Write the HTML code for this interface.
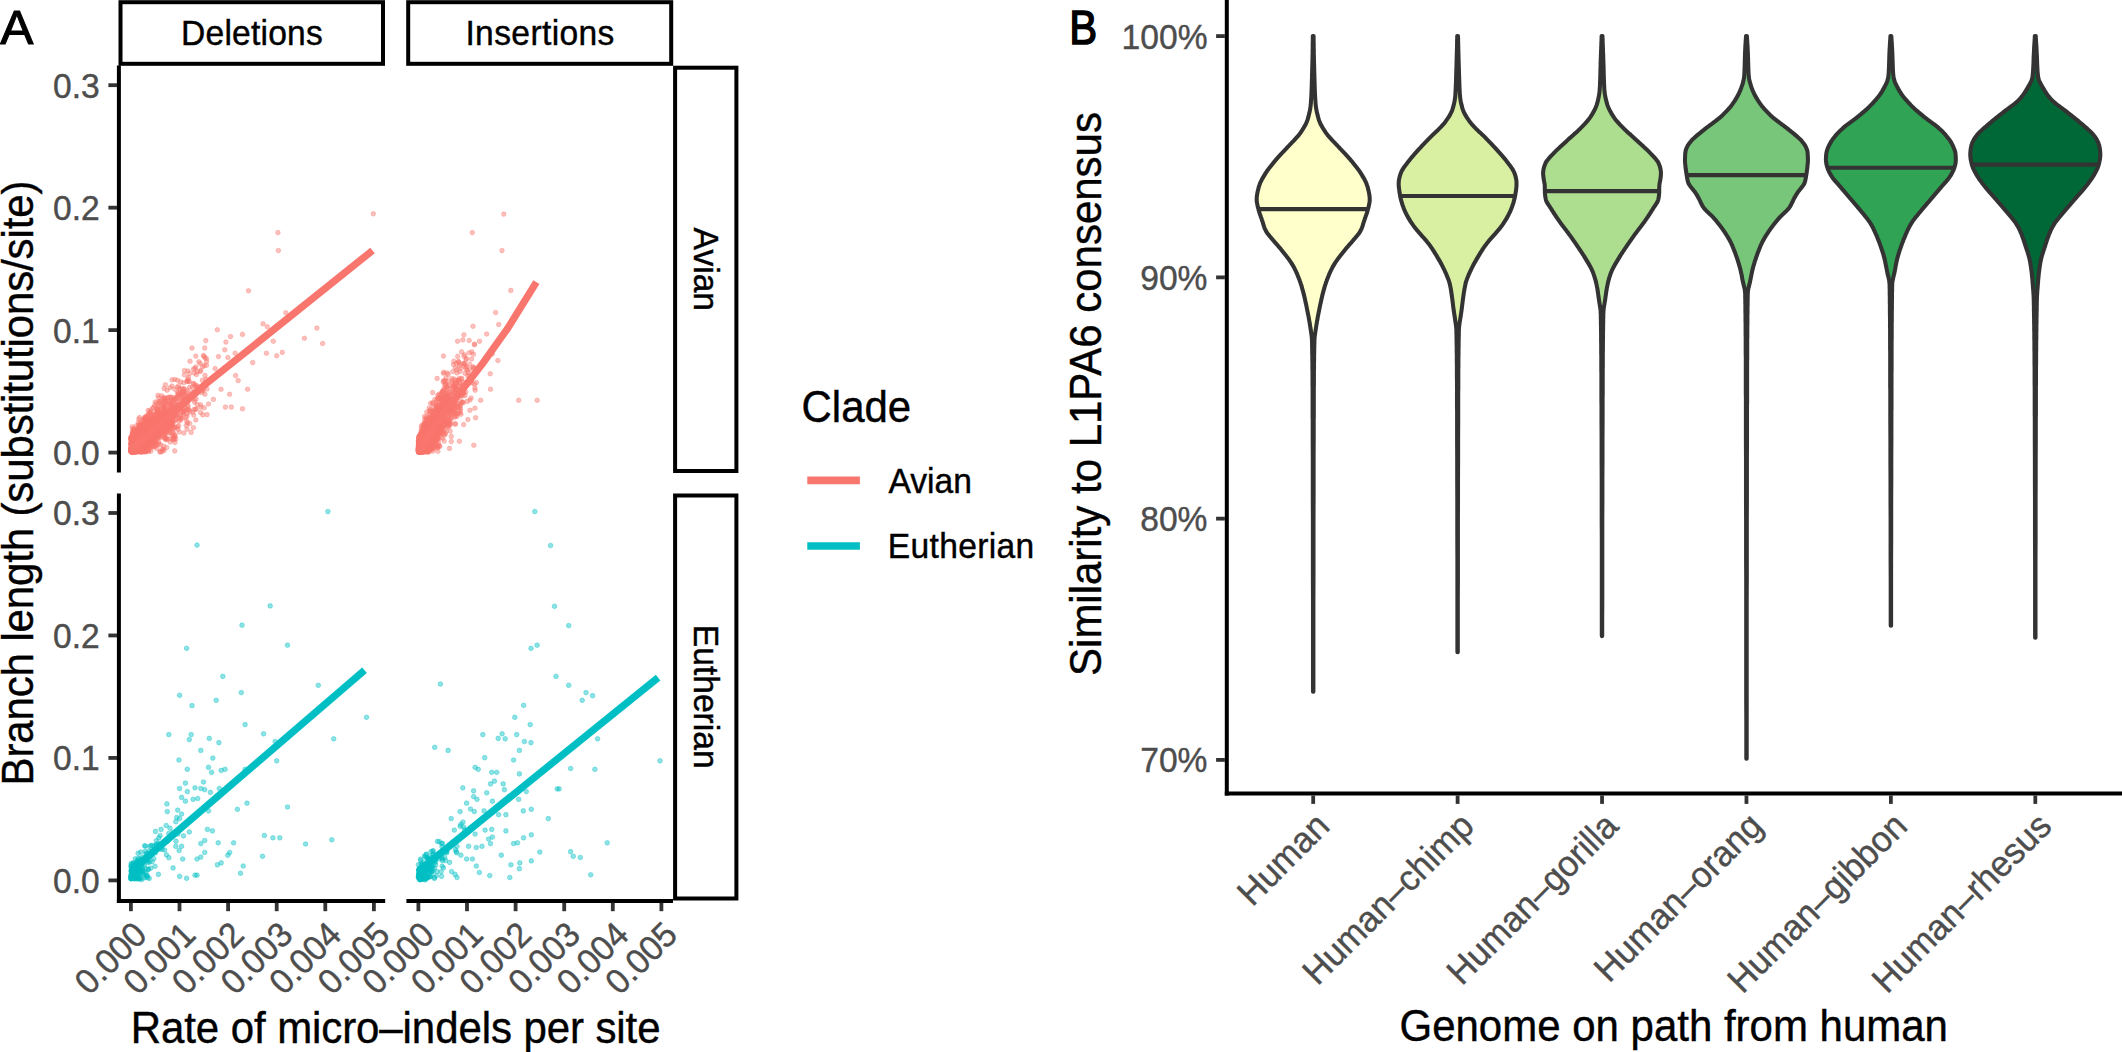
<!DOCTYPE html>
<html><head><meta charset="utf-8"><title>Figure</title>
<style>html,body{margin:0;padding:0;background:#fff;overflow:hidden}svg{display:block}text{font-family:"Liberation Sans", Arial, Helvetica, sans-serif;}</style>
</head><body>
<svg width="2122" height="1052" viewBox="0 0 2122 1052">
<rect width="2122" height="1052" fill="#fff"/>
<g fill="#F8766D" fill-opacity="0.45" stroke="#F8766D" stroke-opacity="0.35" stroke-width="1">
<circle cx="142.9" cy="430.1" r="2.3"/>
<circle cx="143.8" cy="441.9" r="2.3"/>
<circle cx="141.4" cy="449.5" r="2.3"/>
<circle cx="136.2" cy="451.7" r="2.3"/>
<circle cx="165.4" cy="384.7" r="2.3"/>
<circle cx="161.8" cy="413.0" r="2.3"/>
<circle cx="135.9" cy="435.8" r="2.3"/>
<circle cx="134.0" cy="445.4" r="2.3"/>
<circle cx="131.3" cy="448.5" r="2.3"/>
<circle cx="145.8" cy="433.6" r="2.3"/>
<circle cx="146.7" cy="442.0" r="2.3"/>
<circle cx="166.8" cy="414.6" r="2.3"/>
<circle cx="134.7" cy="446.2" r="2.3"/>
<circle cx="145.8" cy="432.5" r="2.3"/>
<circle cx="145.1" cy="420.0" r="2.3"/>
<circle cx="134.3" cy="449.4" r="2.3"/>
<circle cx="149.4" cy="423.1" r="2.3"/>
<circle cx="145.4" cy="437.2" r="2.3"/>
<circle cx="140.1" cy="434.8" r="2.3"/>
<circle cx="172.3" cy="406.1" r="2.3"/>
<circle cx="135.0" cy="443.3" r="2.3"/>
<circle cx="136.6" cy="442.4" r="2.3"/>
<circle cx="139.5" cy="436.7" r="2.3"/>
<circle cx="145.9" cy="422.2" r="2.3"/>
<circle cx="138.9" cy="440.5" r="2.3"/>
<circle cx="178.3" cy="395.8" r="2.3"/>
<circle cx="162.4" cy="418.2" r="2.3"/>
<circle cx="160.8" cy="411.3" r="2.3"/>
<circle cx="197.1" cy="387.4" r="2.3"/>
<circle cx="142.5" cy="432.4" r="2.3"/>
<circle cx="132.0" cy="440.8" r="2.3"/>
<circle cx="144.3" cy="431.0" r="2.3"/>
<circle cx="139.7" cy="432.5" r="2.3"/>
<circle cx="160.3" cy="426.4" r="2.3"/>
<circle cx="133.3" cy="436.4" r="2.3"/>
<circle cx="134.0" cy="448.9" r="2.3"/>
<circle cx="137.3" cy="428.8" r="2.3"/>
<circle cx="146.9" cy="440.6" r="2.3"/>
<circle cx="131.5" cy="443.9" r="2.3"/>
<circle cx="139.6" cy="442.6" r="2.3"/>
<circle cx="157.4" cy="427.4" r="2.3"/>
<circle cx="133.0" cy="443.1" r="2.3"/>
<circle cx="142.8" cy="431.5" r="2.3"/>
<circle cx="167.3" cy="430.8" r="2.3"/>
<circle cx="131.1" cy="449.5" r="2.3"/>
<circle cx="133.7" cy="439.2" r="2.3"/>
<circle cx="143.3" cy="432.6" r="2.3"/>
<circle cx="165.2" cy="410.1" r="2.3"/>
<circle cx="133.1" cy="445.8" r="2.3"/>
<circle cx="166.1" cy="417.4" r="2.3"/>
<circle cx="131.5" cy="449.0" r="2.3"/>
<circle cx="142.4" cy="445.9" r="2.3"/>
<circle cx="198.1" cy="391.9" r="2.3"/>
<circle cx="202.8" cy="414.9" r="2.3"/>
<circle cx="147.7" cy="418.9" r="2.3"/>
<circle cx="153.7" cy="441.0" r="2.3"/>
<circle cx="155.7" cy="434.4" r="2.3"/>
<circle cx="144.6" cy="442.9" r="2.3"/>
<circle cx="145.8" cy="417.6" r="2.3"/>
<circle cx="145.2" cy="437.0" r="2.3"/>
<circle cx="156.3" cy="445.6" r="2.3"/>
<circle cx="151.1" cy="424.2" r="2.3"/>
<circle cx="144.3" cy="443.3" r="2.3"/>
<circle cx="151.0" cy="430.4" r="2.3"/>
<circle cx="204.7" cy="383.9" r="2.3"/>
<circle cx="147.4" cy="433.0" r="2.3"/>
<circle cx="133.6" cy="438.3" r="2.3"/>
<circle cx="163.3" cy="430.1" r="2.3"/>
<circle cx="146.9" cy="431.8" r="2.3"/>
<circle cx="202.5" cy="366.8" r="2.3"/>
<circle cx="145.0" cy="443.1" r="2.3"/>
<circle cx="140.9" cy="443.6" r="2.3"/>
<circle cx="186.0" cy="409.8" r="2.3"/>
<circle cx="133.6" cy="450.2" r="2.3"/>
<circle cx="134.4" cy="450.0" r="2.3"/>
<circle cx="157.5" cy="417.5" r="2.3"/>
<circle cx="148.5" cy="431.3" r="2.3"/>
<circle cx="132.1" cy="447.1" r="2.3"/>
<circle cx="155.5" cy="434.0" r="2.3"/>
<circle cx="133.0" cy="436.1" r="2.3"/>
<circle cx="131.3" cy="446.4" r="2.3"/>
<circle cx="131.6" cy="449.4" r="2.3"/>
<circle cx="145.4" cy="445.1" r="2.3"/>
<circle cx="164.5" cy="437.5" r="2.3"/>
<circle cx="140.3" cy="440.1" r="2.3"/>
<circle cx="149.2" cy="431.6" r="2.3"/>
<circle cx="135.5" cy="451.0" r="2.3"/>
<circle cx="144.8" cy="425.6" r="2.3"/>
<circle cx="145.5" cy="431.1" r="2.3"/>
<circle cx="170.2" cy="441.9" r="2.3"/>
<circle cx="135.0" cy="448.2" r="2.3"/>
<circle cx="143.2" cy="434.7" r="2.3"/>
<circle cx="177.4" cy="392.8" r="2.3"/>
<circle cx="137.6" cy="445.9" r="2.3"/>
<circle cx="180.6" cy="420.1" r="2.3"/>
<circle cx="164.5" cy="434.4" r="2.3"/>
<circle cx="153.7" cy="438.5" r="2.3"/>
<circle cx="143.4" cy="421.1" r="2.3"/>
<circle cx="139.4" cy="450.0" r="2.3"/>
<circle cx="155.0" cy="433.2" r="2.3"/>
<circle cx="154.4" cy="423.9" r="2.3"/>
<circle cx="135.3" cy="439.4" r="2.3"/>
<circle cx="141.5" cy="442.1" r="2.3"/>
<circle cx="174.3" cy="436.9" r="2.3"/>
<circle cx="134.5" cy="451.3" r="2.3"/>
<circle cx="160.6" cy="424.3" r="2.3"/>
<circle cx="158.0" cy="433.9" r="2.3"/>
<circle cx="158.1" cy="428.4" r="2.3"/>
<circle cx="137.7" cy="431.3" r="2.3"/>
<circle cx="143.3" cy="451.2" r="2.3"/>
<circle cx="141.1" cy="441.4" r="2.3"/>
<circle cx="152.1" cy="431.7" r="2.3"/>
<circle cx="154.4" cy="439.3" r="2.3"/>
<circle cx="132.9" cy="450.1" r="2.3"/>
<circle cx="138.7" cy="425.4" r="2.3"/>
<circle cx="140.2" cy="445.5" r="2.3"/>
<circle cx="139.2" cy="435.0" r="2.3"/>
<circle cx="136.5" cy="451.3" r="2.3"/>
<circle cx="206.5" cy="358.8" r="2.3"/>
<circle cx="134.0" cy="437.6" r="2.3"/>
<circle cx="147.8" cy="437.8" r="2.3"/>
<circle cx="134.1" cy="440.3" r="2.3"/>
<circle cx="134.7" cy="450.8" r="2.3"/>
<circle cx="141.9" cy="439.6" r="2.3"/>
<circle cx="137.8" cy="450.7" r="2.3"/>
<circle cx="134.2" cy="441.6" r="2.3"/>
<circle cx="160.6" cy="444.8" r="2.3"/>
<circle cx="187.6" cy="404.8" r="2.3"/>
<circle cx="150.6" cy="423.8" r="2.3"/>
<circle cx="136.4" cy="448.2" r="2.3"/>
<circle cx="135.1" cy="444.5" r="2.3"/>
<circle cx="132.4" cy="437.2" r="2.3"/>
<circle cx="146.9" cy="433.7" r="2.3"/>
<circle cx="147.8" cy="438.7" r="2.3"/>
<circle cx="134.2" cy="448.0" r="2.3"/>
<circle cx="141.2" cy="448.9" r="2.3"/>
<circle cx="147.8" cy="432.7" r="2.3"/>
<circle cx="131.5" cy="446.2" r="2.3"/>
<circle cx="141.4" cy="443.8" r="2.3"/>
<circle cx="134.2" cy="447.6" r="2.3"/>
<circle cx="133.8" cy="431.0" r="2.3"/>
<circle cx="152.0" cy="421.0" r="2.3"/>
<circle cx="140.1" cy="449.1" r="2.3"/>
<circle cx="131.3" cy="449.2" r="2.3"/>
<circle cx="185.1" cy="393.8" r="2.3"/>
<circle cx="146.1" cy="426.6" r="2.3"/>
<circle cx="133.5" cy="447.8" r="2.3"/>
<circle cx="178.1" cy="407.5" r="2.3"/>
<circle cx="188.4" cy="409.7" r="2.3"/>
<circle cx="141.1" cy="445.9" r="2.3"/>
<circle cx="178.5" cy="408.6" r="2.3"/>
<circle cx="174.8" cy="379.5" r="2.3"/>
<circle cx="146.1" cy="420.9" r="2.3"/>
<circle cx="173.4" cy="428.6" r="2.3"/>
<circle cx="146.1" cy="436.1" r="2.3"/>
<circle cx="140.1" cy="443.8" r="2.3"/>
<circle cx="137.3" cy="449.9" r="2.3"/>
<circle cx="173.1" cy="426.4" r="2.3"/>
<circle cx="142.9" cy="444.2" r="2.3"/>
<circle cx="138.1" cy="450.8" r="2.3"/>
<circle cx="160.9" cy="428.4" r="2.3"/>
<circle cx="131.6" cy="449.5" r="2.3"/>
<circle cx="139.5" cy="443.3" r="2.3"/>
<circle cx="137.8" cy="441.5" r="2.3"/>
<circle cx="135.1" cy="437.9" r="2.3"/>
<circle cx="180.7" cy="415.6" r="2.3"/>
<circle cx="208.5" cy="404.0" r="2.3"/>
<circle cx="144.2" cy="449.1" r="2.3"/>
<circle cx="132.2" cy="444.3" r="2.3"/>
<circle cx="133.6" cy="448.2" r="2.3"/>
<circle cx="144.7" cy="417.3" r="2.3"/>
<circle cx="141.8" cy="432.2" r="2.3"/>
<circle cx="137.5" cy="445.5" r="2.3"/>
<circle cx="135.8" cy="434.5" r="2.3"/>
<circle cx="141.1" cy="433.9" r="2.3"/>
<circle cx="133.4" cy="446.3" r="2.3"/>
<circle cx="145.3" cy="424.5" r="2.3"/>
<circle cx="196.4" cy="408.9" r="2.3"/>
<circle cx="133.1" cy="441.1" r="2.3"/>
<circle cx="183.7" cy="411.6" r="2.3"/>
<circle cx="141.7" cy="427.3" r="2.3"/>
<circle cx="187.1" cy="409.3" r="2.3"/>
<circle cx="157.9" cy="413.6" r="2.3"/>
<circle cx="134.2" cy="439.7" r="2.3"/>
<circle cx="141.8" cy="433.0" r="2.3"/>
<circle cx="148.6" cy="426.2" r="2.3"/>
<circle cx="143.6" cy="450.6" r="2.3"/>
<circle cx="169.5" cy="403.9" r="2.3"/>
<circle cx="132.7" cy="438.4" r="2.3"/>
<circle cx="143.9" cy="446.8" r="2.3"/>
<circle cx="147.7" cy="445.4" r="2.3"/>
<circle cx="171.7" cy="420.1" r="2.3"/>
<circle cx="135.1" cy="429.8" r="2.3"/>
<circle cx="132.1" cy="449.7" r="2.3"/>
<circle cx="135.5" cy="451.7" r="2.3"/>
<circle cx="132.0" cy="443.9" r="2.3"/>
<circle cx="147.3" cy="446.7" r="2.3"/>
<circle cx="140.4" cy="444.1" r="2.3"/>
<circle cx="137.0" cy="444.0" r="2.3"/>
<circle cx="132.8" cy="448.6" r="2.3"/>
<circle cx="173.6" cy="407.9" r="2.3"/>
<circle cx="155.1" cy="416.8" r="2.3"/>
<circle cx="146.4" cy="427.3" r="2.3"/>
<circle cx="150.9" cy="431.9" r="2.3"/>
<circle cx="147.2" cy="437.4" r="2.3"/>
<circle cx="133.3" cy="444.6" r="2.3"/>
<circle cx="143.0" cy="450.9" r="2.3"/>
<circle cx="152.7" cy="428.3" r="2.3"/>
<circle cx="134.4" cy="447.3" r="2.3"/>
<circle cx="149.7" cy="435.7" r="2.3"/>
<circle cx="140.6" cy="435.7" r="2.3"/>
<circle cx="144.2" cy="430.9" r="2.3"/>
<circle cx="148.9" cy="448.1" r="2.3"/>
<circle cx="147.7" cy="442.8" r="2.3"/>
<circle cx="141.5" cy="443.0" r="2.3"/>
<circle cx="196.5" cy="374.6" r="2.3"/>
<circle cx="137.4" cy="447.8" r="2.3"/>
<circle cx="138.0" cy="437.3" r="2.3"/>
<circle cx="143.0" cy="435.2" r="2.3"/>
<circle cx="155.0" cy="440.2" r="2.3"/>
<circle cx="151.6" cy="424.7" r="2.3"/>
<circle cx="141.5" cy="444.1" r="2.3"/>
<circle cx="143.1" cy="426.2" r="2.3"/>
<circle cx="132.8" cy="449.2" r="2.3"/>
<circle cx="153.5" cy="425.3" r="2.3"/>
<circle cx="197.8" cy="386.2" r="2.3"/>
<circle cx="145.6" cy="427.0" r="2.3"/>
<circle cx="139.1" cy="431.7" r="2.3"/>
<circle cx="152.0" cy="447.1" r="2.3"/>
<circle cx="136.9" cy="445.3" r="2.3"/>
<circle cx="163.4" cy="435.1" r="2.3"/>
<circle cx="166.8" cy="416.6" r="2.3"/>
<circle cx="146.3" cy="429.2" r="2.3"/>
<circle cx="178.7" cy="426.1" r="2.3"/>
<circle cx="194.9" cy="368.3" r="2.3"/>
<circle cx="149.0" cy="436.5" r="2.3"/>
<circle cx="146.9" cy="439.3" r="2.3"/>
<circle cx="133.6" cy="444.8" r="2.3"/>
<circle cx="139.0" cy="447.1" r="2.3"/>
<circle cx="136.3" cy="425.8" r="2.3"/>
<circle cx="146.1" cy="434.6" r="2.3"/>
<circle cx="139.9" cy="445.9" r="2.3"/>
<circle cx="165.9" cy="412.3" r="2.3"/>
<circle cx="134.5" cy="445.0" r="2.3"/>
<circle cx="149.3" cy="438.3" r="2.3"/>
<circle cx="135.7" cy="447.5" r="2.3"/>
<circle cx="151.6" cy="435.4" r="2.3"/>
<circle cx="149.9" cy="420.9" r="2.3"/>
<circle cx="162.7" cy="411.5" r="2.3"/>
<circle cx="176.8" cy="415.2" r="2.3"/>
<circle cx="134.5" cy="429.8" r="2.3"/>
<circle cx="145.1" cy="429.9" r="2.3"/>
<circle cx="141.5" cy="443.4" r="2.3"/>
<circle cx="138.8" cy="419.0" r="2.3"/>
<circle cx="140.2" cy="450.4" r="2.3"/>
<circle cx="158.1" cy="410.7" r="2.3"/>
<circle cx="133.4" cy="449.0" r="2.3"/>
<circle cx="152.1" cy="423.3" r="2.3"/>
<circle cx="142.1" cy="430.9" r="2.3"/>
<circle cx="156.0" cy="411.9" r="2.3"/>
<circle cx="181.2" cy="394.1" r="2.3"/>
<circle cx="133.9" cy="443.6" r="2.3"/>
<circle cx="140.1" cy="430.7" r="2.3"/>
<circle cx="141.5" cy="442.6" r="2.3"/>
<circle cx="146.6" cy="431.6" r="2.3"/>
<circle cx="137.7" cy="444.5" r="2.3"/>
<circle cx="141.8" cy="430.9" r="2.3"/>
<circle cx="136.3" cy="432.8" r="2.3"/>
<circle cx="136.2" cy="450.6" r="2.3"/>
<circle cx="134.2" cy="443.8" r="2.3"/>
<circle cx="139.9" cy="426.5" r="2.3"/>
<circle cx="131.3" cy="451.1" r="2.3"/>
<circle cx="148.9" cy="432.1" r="2.3"/>
<circle cx="131.1" cy="440.7" r="2.3"/>
<circle cx="177.8" cy="402.2" r="2.3"/>
<circle cx="137.8" cy="432.9" r="2.3"/>
<circle cx="136.1" cy="448.1" r="2.3"/>
<circle cx="139.5" cy="434.7" r="2.3"/>
<circle cx="150.1" cy="443.1" r="2.3"/>
<circle cx="149.7" cy="412.2" r="2.3"/>
<circle cx="156.5" cy="421.4" r="2.3"/>
<circle cx="147.4" cy="431.6" r="2.3"/>
<circle cx="136.7" cy="449.6" r="2.3"/>
<circle cx="134.6" cy="438.0" r="2.3"/>
<circle cx="132.8" cy="449.4" r="2.3"/>
<circle cx="147.1" cy="432.6" r="2.3"/>
<circle cx="146.1" cy="433.8" r="2.3"/>
<circle cx="136.8" cy="450.3" r="2.3"/>
<circle cx="138.4" cy="449.0" r="2.3"/>
<circle cx="162.4" cy="449.5" r="2.3"/>
<circle cx="136.8" cy="449.5" r="2.3"/>
<circle cx="137.8" cy="433.8" r="2.3"/>
<circle cx="153.6" cy="422.5" r="2.3"/>
<circle cx="152.1" cy="442.4" r="2.3"/>
<circle cx="154.1" cy="435.8" r="2.3"/>
<circle cx="149.1" cy="423.9" r="2.3"/>
<circle cx="152.1" cy="434.4" r="2.3"/>
<circle cx="173.2" cy="437.1" r="2.3"/>
<circle cx="137.3" cy="438.5" r="2.3"/>
<circle cx="148.3" cy="430.1" r="2.3"/>
<circle cx="169.5" cy="424.3" r="2.3"/>
<circle cx="183.9" cy="388.9" r="2.3"/>
<circle cx="165.1" cy="433.9" r="2.3"/>
<circle cx="135.4" cy="447.4" r="2.3"/>
<circle cx="157.7" cy="410.6" r="2.3"/>
<circle cx="164.0" cy="404.0" r="2.3"/>
<circle cx="143.3" cy="435.3" r="2.3"/>
<circle cx="132.1" cy="451.5" r="2.3"/>
<circle cx="133.8" cy="430.4" r="2.3"/>
<circle cx="141.6" cy="441.0" r="2.3"/>
<circle cx="169.9" cy="427.4" r="2.3"/>
<circle cx="131.4" cy="442.8" r="2.3"/>
<circle cx="140.1" cy="436.0" r="2.3"/>
<circle cx="133.7" cy="441.3" r="2.3"/>
<circle cx="135.4" cy="450.7" r="2.3"/>
<circle cx="132.0" cy="450.3" r="2.3"/>
<circle cx="135.5" cy="435.7" r="2.3"/>
<circle cx="138.6" cy="444.7" r="2.3"/>
<circle cx="165.0" cy="417.8" r="2.3"/>
<circle cx="207.1" cy="414.6" r="2.3"/>
<circle cx="187.2" cy="413.8" r="2.3"/>
<circle cx="165.3" cy="411.5" r="2.3"/>
<circle cx="141.8" cy="450.7" r="2.3"/>
<circle cx="149.8" cy="423.7" r="2.3"/>
<circle cx="169.3" cy="432.8" r="2.3"/>
<circle cx="144.0" cy="445.6" r="2.3"/>
<circle cx="132.8" cy="450.4" r="2.3"/>
<circle cx="148.2" cy="430.1" r="2.3"/>
<circle cx="134.9" cy="447.8" r="2.3"/>
<circle cx="131.9" cy="442.0" r="2.3"/>
<circle cx="189.6" cy="423.6" r="2.3"/>
<circle cx="150.9" cy="422.9" r="2.3"/>
<circle cx="165.0" cy="401.2" r="2.3"/>
<circle cx="142.1" cy="430.5" r="2.3"/>
<circle cx="130.9" cy="448.7" r="2.3"/>
<circle cx="131.8" cy="442.7" r="2.3"/>
<circle cx="180.2" cy="416.7" r="2.3"/>
<circle cx="131.6" cy="444.7" r="2.3"/>
<circle cx="164.3" cy="424.6" r="2.3"/>
<circle cx="134.3" cy="438.4" r="2.3"/>
<circle cx="168.2" cy="409.3" r="2.3"/>
<circle cx="143.6" cy="441.1" r="2.3"/>
<circle cx="133.6" cy="430.4" r="2.3"/>
<circle cx="145.5" cy="451.3" r="2.3"/>
<circle cx="132.4" cy="439.4" r="2.3"/>
<circle cx="164.5" cy="407.2" r="2.3"/>
<circle cx="167.3" cy="403.9" r="2.3"/>
<circle cx="148.1" cy="423.0" r="2.3"/>
<circle cx="134.6" cy="449.5" r="2.3"/>
<circle cx="133.8" cy="436.4" r="2.3"/>
<circle cx="146.8" cy="432.7" r="2.3"/>
<circle cx="193.8" cy="409.6" r="2.3"/>
<circle cx="134.7" cy="450.6" r="2.3"/>
<circle cx="140.4" cy="423.4" r="2.3"/>
<circle cx="133.6" cy="439.3" r="2.3"/>
<circle cx="141.9" cy="440.1" r="2.3"/>
<circle cx="144.2" cy="438.6" r="2.3"/>
<circle cx="133.6" cy="441.6" r="2.3"/>
<circle cx="151.4" cy="430.6" r="2.3"/>
<circle cx="133.9" cy="440.8" r="2.3"/>
<circle cx="139.9" cy="440.9" r="2.3"/>
<circle cx="151.1" cy="440.8" r="2.3"/>
<circle cx="142.7" cy="443.3" r="2.3"/>
<circle cx="175.5" cy="420.2" r="2.3"/>
<circle cx="141.2" cy="433.0" r="2.3"/>
<circle cx="175.0" cy="427.6" r="2.3"/>
<circle cx="153.0" cy="422.4" r="2.3"/>
<circle cx="139.4" cy="432.3" r="2.3"/>
<circle cx="175.9" cy="406.5" r="2.3"/>
<circle cx="134.5" cy="450.6" r="2.3"/>
<circle cx="141.0" cy="429.5" r="2.3"/>
<circle cx="155.7" cy="423.9" r="2.3"/>
<circle cx="136.7" cy="443.0" r="2.3"/>
<circle cx="139.2" cy="440.4" r="2.3"/>
<circle cx="135.3" cy="444.2" r="2.3"/>
<circle cx="155.4" cy="431.2" r="2.3"/>
<circle cx="153.8" cy="428.3" r="2.3"/>
<circle cx="131.5" cy="444.8" r="2.3"/>
<circle cx="145.1" cy="443.2" r="2.3"/>
<circle cx="132.3" cy="448.5" r="2.3"/>
<circle cx="136.4" cy="444.2" r="2.3"/>
<circle cx="182.7" cy="394.1" r="2.3"/>
<circle cx="132.7" cy="451.2" r="2.3"/>
<circle cx="132.2" cy="444.5" r="2.3"/>
<circle cx="151.8" cy="425.0" r="2.3"/>
<circle cx="150.8" cy="431.8" r="2.3"/>
<circle cx="134.9" cy="442.4" r="2.3"/>
<circle cx="136.1" cy="446.9" r="2.3"/>
<circle cx="132.1" cy="426.9" r="2.3"/>
<circle cx="169.5" cy="405.6" r="2.3"/>
<circle cx="135.2" cy="450.1" r="2.3"/>
<circle cx="170.2" cy="417.4" r="2.3"/>
<circle cx="136.9" cy="433.7" r="2.3"/>
<circle cx="138.4" cy="443.5" r="2.3"/>
<circle cx="132.7" cy="448.4" r="2.3"/>
<circle cx="162.6" cy="405.8" r="2.3"/>
<circle cx="138.2" cy="438.4" r="2.3"/>
<circle cx="138.0" cy="448.8" r="2.3"/>
<circle cx="133.9" cy="450.2" r="2.3"/>
<circle cx="134.4" cy="447.1" r="2.3"/>
<circle cx="136.3" cy="449.2" r="2.3"/>
<circle cx="137.6" cy="435.4" r="2.3"/>
<circle cx="132.0" cy="450.2" r="2.3"/>
<circle cx="131.2" cy="451.3" r="2.3"/>
<circle cx="138.2" cy="431.9" r="2.3"/>
<circle cx="137.4" cy="448.6" r="2.3"/>
<circle cx="171.1" cy="427.9" r="2.3"/>
<circle cx="200.2" cy="363.5" r="2.3"/>
<circle cx="136.6" cy="446.2" r="2.3"/>
<circle cx="142.4" cy="436.5" r="2.3"/>
<circle cx="152.3" cy="420.7" r="2.3"/>
<circle cx="131.5" cy="446.2" r="2.3"/>
<circle cx="144.1" cy="430.0" r="2.3"/>
<circle cx="142.3" cy="437.4" r="2.3"/>
<circle cx="148.8" cy="434.1" r="2.3"/>
<circle cx="135.5" cy="433.5" r="2.3"/>
<circle cx="135.7" cy="446.4" r="2.3"/>
<circle cx="160.2" cy="434.4" r="2.3"/>
<circle cx="135.9" cy="447.3" r="2.3"/>
<circle cx="131.3" cy="445.0" r="2.3"/>
<circle cx="155.2" cy="417.1" r="2.3"/>
<circle cx="147.1" cy="448.2" r="2.3"/>
<circle cx="147.9" cy="445.4" r="2.3"/>
<circle cx="138.7" cy="449.4" r="2.3"/>
<circle cx="139.0" cy="443.9" r="2.3"/>
<circle cx="136.7" cy="442.2" r="2.3"/>
<circle cx="135.7" cy="440.8" r="2.3"/>
<circle cx="133.6" cy="440.9" r="2.3"/>
<circle cx="138.9" cy="436.0" r="2.3"/>
<circle cx="133.3" cy="443.5" r="2.3"/>
<circle cx="148.5" cy="447.1" r="2.3"/>
<circle cx="138.1" cy="446.4" r="2.3"/>
<circle cx="131.8" cy="449.9" r="2.3"/>
<circle cx="143.8" cy="436.0" r="2.3"/>
<circle cx="136.6" cy="443.9" r="2.3"/>
<circle cx="163.3" cy="417.7" r="2.3"/>
<circle cx="135.3" cy="447.2" r="2.3"/>
<circle cx="144.8" cy="441.5" r="2.3"/>
<circle cx="144.0" cy="448.8" r="2.3"/>
<circle cx="159.2" cy="436.3" r="2.3"/>
<circle cx="138.7" cy="444.4" r="2.3"/>
<circle cx="144.9" cy="420.4" r="2.3"/>
<circle cx="132.0" cy="442.9" r="2.3"/>
<circle cx="137.4" cy="436.5" r="2.3"/>
<circle cx="135.6" cy="442.9" r="2.3"/>
<circle cx="138.7" cy="436.9" r="2.3"/>
<circle cx="142.3" cy="443.6" r="2.3"/>
<circle cx="146.2" cy="431.3" r="2.3"/>
<circle cx="145.2" cy="451.7" r="2.3"/>
<circle cx="142.7" cy="444.3" r="2.3"/>
<circle cx="162.6" cy="428.2" r="2.3"/>
<circle cx="164.7" cy="401.2" r="2.3"/>
<circle cx="181.6" cy="392.8" r="2.3"/>
<circle cx="143.0" cy="428.4" r="2.3"/>
<circle cx="135.8" cy="444.7" r="2.3"/>
<circle cx="135.1" cy="450.7" r="2.3"/>
<circle cx="141.4" cy="437.6" r="2.3"/>
<circle cx="132.5" cy="445.9" r="2.3"/>
<circle cx="134.4" cy="450.0" r="2.3"/>
<circle cx="160.2" cy="417.2" r="2.3"/>
<circle cx="132.5" cy="447.7" r="2.3"/>
<circle cx="145.4" cy="425.6" r="2.3"/>
<circle cx="139.4" cy="442.9" r="2.3"/>
<circle cx="151.7" cy="439.2" r="2.3"/>
<circle cx="182.3" cy="418.2" r="2.3"/>
<circle cx="159.3" cy="428.7" r="2.3"/>
<circle cx="178.0" cy="397.4" r="2.3"/>
<circle cx="138.6" cy="436.9" r="2.3"/>
<circle cx="131.1" cy="448.0" r="2.3"/>
<circle cx="147.9" cy="445.2" r="2.3"/>
<circle cx="145.5" cy="447.9" r="2.3"/>
<circle cx="149.1" cy="419.6" r="2.3"/>
<circle cx="131.5" cy="450.7" r="2.3"/>
<circle cx="134.6" cy="434.7" r="2.3"/>
<circle cx="131.3" cy="450.5" r="2.3"/>
<circle cx="154.4" cy="431.4" r="2.3"/>
<circle cx="140.6" cy="448.9" r="2.3"/>
<circle cx="148.2" cy="425.6" r="2.3"/>
<circle cx="154.4" cy="424.3" r="2.3"/>
<circle cx="170.4" cy="407.5" r="2.3"/>
<circle cx="140.7" cy="435.2" r="2.3"/>
<circle cx="143.1" cy="433.1" r="2.3"/>
<circle cx="145.2" cy="437.3" r="2.3"/>
<circle cx="137.5" cy="437.8" r="2.3"/>
<circle cx="131.7" cy="435.9" r="2.3"/>
<circle cx="132.1" cy="442.5" r="2.3"/>
<circle cx="140.5" cy="435.1" r="2.3"/>
<circle cx="150.2" cy="432.0" r="2.3"/>
<circle cx="154.9" cy="430.6" r="2.3"/>
<circle cx="146.5" cy="433.3" r="2.3"/>
<circle cx="140.4" cy="425.9" r="2.3"/>
<circle cx="148.0" cy="440.8" r="2.3"/>
<circle cx="168.5" cy="414.4" r="2.3"/>
<circle cx="132.7" cy="445.9" r="2.3"/>
<circle cx="137.4" cy="443.1" r="2.3"/>
<circle cx="131.1" cy="451.2" r="2.3"/>
<circle cx="131.2" cy="448.7" r="2.3"/>
<circle cx="145.8" cy="438.6" r="2.3"/>
<circle cx="182.2" cy="398.7" r="2.3"/>
<circle cx="174.7" cy="450.9" r="2.3"/>
<circle cx="148.7" cy="433.3" r="2.3"/>
<circle cx="143.4" cy="419.3" r="2.3"/>
<circle cx="138.1" cy="450.1" r="2.3"/>
<circle cx="144.1" cy="428.1" r="2.3"/>
<circle cx="143.6" cy="441.1" r="2.3"/>
<circle cx="132.3" cy="433.8" r="2.3"/>
<circle cx="150.6" cy="427.7" r="2.3"/>
<circle cx="147.5" cy="419.6" r="2.3"/>
<circle cx="132.5" cy="443.7" r="2.3"/>
<circle cx="131.0" cy="444.2" r="2.3"/>
<circle cx="138.4" cy="446.4" r="2.3"/>
<circle cx="137.6" cy="434.7" r="2.3"/>
<circle cx="142.2" cy="438.9" r="2.3"/>
<circle cx="147.3" cy="438.8" r="2.3"/>
<circle cx="138.1" cy="451.3" r="2.3"/>
<circle cx="147.4" cy="426.6" r="2.3"/>
<circle cx="142.2" cy="435.8" r="2.3"/>
<circle cx="135.6" cy="438.7" r="2.3"/>
<circle cx="144.8" cy="440.4" r="2.3"/>
<circle cx="194.6" cy="402.2" r="2.3"/>
<circle cx="159.8" cy="438.1" r="2.3"/>
<circle cx="157.4" cy="426.0" r="2.3"/>
<circle cx="148.5" cy="438.3" r="2.3"/>
<circle cx="134.7" cy="451.8" r="2.3"/>
<circle cx="155.7" cy="429.8" r="2.3"/>
<circle cx="148.2" cy="433.9" r="2.3"/>
<circle cx="144.1" cy="432.8" r="2.3"/>
<circle cx="203.0" cy="389.9" r="2.3"/>
<circle cx="141.8" cy="441.3" r="2.3"/>
<circle cx="160.4" cy="451.6" r="2.3"/>
<circle cx="150.6" cy="429.7" r="2.3"/>
<circle cx="177.5" cy="380.3" r="2.3"/>
<circle cx="204.7" cy="348.0" r="2.3"/>
<circle cx="139.3" cy="435.3" r="2.3"/>
<circle cx="148.5" cy="451.6" r="2.3"/>
<circle cx="135.7" cy="447.9" r="2.3"/>
<circle cx="133.1" cy="450.0" r="2.3"/>
<circle cx="154.4" cy="434.4" r="2.3"/>
<circle cx="173.9" cy="439.6" r="2.3"/>
<circle cx="135.7" cy="449.4" r="2.3"/>
<circle cx="132.4" cy="441.7" r="2.3"/>
<circle cx="183.2" cy="399.5" r="2.3"/>
<circle cx="133.8" cy="449.5" r="2.3"/>
<circle cx="133.1" cy="438.7" r="2.3"/>
<circle cx="137.7" cy="449.0" r="2.3"/>
<circle cx="147.0" cy="448.2" r="2.3"/>
<circle cx="131.1" cy="451.6" r="2.3"/>
<circle cx="140.4" cy="434.7" r="2.3"/>
<circle cx="165.5" cy="415.7" r="2.3"/>
<circle cx="149.2" cy="428.3" r="2.3"/>
<circle cx="132.7" cy="438.9" r="2.3"/>
<circle cx="134.1" cy="449.5" r="2.3"/>
<circle cx="165.2" cy="419.7" r="2.3"/>
<circle cx="138.5" cy="449.3" r="2.3"/>
<circle cx="145.4" cy="450.6" r="2.3"/>
<circle cx="139.8" cy="434.5" r="2.3"/>
<circle cx="172.3" cy="424.4" r="2.3"/>
<circle cx="143.5" cy="426.9" r="2.3"/>
<circle cx="160.9" cy="427.6" r="2.3"/>
<circle cx="148.6" cy="415.4" r="2.3"/>
<circle cx="145.2" cy="436.8" r="2.3"/>
<circle cx="131.9" cy="450.3" r="2.3"/>
<circle cx="139.4" cy="435.3" r="2.3"/>
<circle cx="163.4" cy="423.1" r="2.3"/>
<circle cx="138.6" cy="431.2" r="2.3"/>
<circle cx="138.9" cy="429.9" r="2.3"/>
<circle cx="155.9" cy="418.4" r="2.3"/>
<circle cx="132.4" cy="448.3" r="2.3"/>
<circle cx="137.5" cy="451.5" r="2.3"/>
<circle cx="143.2" cy="428.5" r="2.3"/>
<circle cx="145.5" cy="444.2" r="2.3"/>
<circle cx="136.4" cy="442.7" r="2.3"/>
<circle cx="158.0" cy="395.3" r="2.3"/>
<circle cx="145.6" cy="440.5" r="2.3"/>
<circle cx="161.5" cy="434.2" r="2.3"/>
<circle cx="139.9" cy="450.4" r="2.3"/>
<circle cx="138.1" cy="437.5" r="2.3"/>
<circle cx="133.1" cy="447.2" r="2.3"/>
<circle cx="150.6" cy="426.4" r="2.3"/>
<circle cx="159.3" cy="420.4" r="2.3"/>
<circle cx="139.4" cy="436.7" r="2.3"/>
<circle cx="134.6" cy="450.1" r="2.3"/>
<circle cx="159.5" cy="401.1" r="2.3"/>
<circle cx="137.2" cy="448.7" r="2.3"/>
<circle cx="142.0" cy="428.0" r="2.3"/>
<circle cx="141.2" cy="430.7" r="2.3"/>
<circle cx="143.1" cy="435.7" r="2.3"/>
<circle cx="136.0" cy="442.2" r="2.3"/>
<circle cx="139.2" cy="443.8" r="2.3"/>
<circle cx="139.7" cy="439.9" r="2.3"/>
<circle cx="139.9" cy="438.8" r="2.3"/>
<circle cx="135.8" cy="447.3" r="2.3"/>
<circle cx="152.6" cy="441.3" r="2.3"/>
<circle cx="131.1" cy="444.0" r="2.3"/>
<circle cx="155.8" cy="428.6" r="2.3"/>
<circle cx="141.9" cy="452.1" r="2.3"/>
<circle cx="132.6" cy="449.4" r="2.3"/>
<circle cx="132.3" cy="431.7" r="2.3"/>
<circle cx="132.1" cy="448.1" r="2.3"/>
<circle cx="142.5" cy="434.6" r="2.3"/>
<circle cx="146.4" cy="418.8" r="2.3"/>
<circle cx="141.0" cy="448.2" r="2.3"/>
<circle cx="136.1" cy="444.7" r="2.3"/>
<circle cx="139.1" cy="447.6" r="2.3"/>
<circle cx="137.4" cy="450.5" r="2.3"/>
<circle cx="157.2" cy="420.7" r="2.3"/>
<circle cx="141.8" cy="447.2" r="2.3"/>
<circle cx="132.4" cy="449.5" r="2.3"/>
<circle cx="136.4" cy="449.3" r="2.3"/>
<circle cx="150.4" cy="431.0" r="2.3"/>
<circle cx="138.5" cy="441.3" r="2.3"/>
<circle cx="178.1" cy="407.6" r="2.3"/>
<circle cx="144.2" cy="442.1" r="2.3"/>
<circle cx="156.9" cy="419.3" r="2.3"/>
<circle cx="140.9" cy="451.9" r="2.3"/>
<circle cx="135.1" cy="446.4" r="2.3"/>
<circle cx="154.1" cy="446.8" r="2.3"/>
<circle cx="135.8" cy="438.2" r="2.3"/>
<circle cx="133.5" cy="434.0" r="2.3"/>
<circle cx="136.5" cy="445.4" r="2.3"/>
<circle cx="176.2" cy="412.0" r="2.3"/>
<circle cx="132.3" cy="449.4" r="2.3"/>
<circle cx="154.3" cy="415.0" r="2.3"/>
<circle cx="170.6" cy="422.2" r="2.3"/>
<circle cx="156.2" cy="409.1" r="2.3"/>
<circle cx="147.5" cy="433.8" r="2.3"/>
<circle cx="203.4" cy="355.4" r="2.3"/>
<circle cx="151.2" cy="423.2" r="2.3"/>
<circle cx="139.6" cy="444.9" r="2.3"/>
<circle cx="150.2" cy="430.0" r="2.3"/>
<circle cx="132.7" cy="442.4" r="2.3"/>
<circle cx="132.7" cy="451.6" r="2.3"/>
<circle cx="175.8" cy="439.1" r="2.3"/>
<circle cx="138.7" cy="448.4" r="2.3"/>
<circle cx="157.6" cy="409.5" r="2.3"/>
<circle cx="131.4" cy="439.5" r="2.3"/>
<circle cx="137.8" cy="450.7" r="2.3"/>
<circle cx="148.0" cy="450.4" r="2.3"/>
<circle cx="134.1" cy="446.3" r="2.3"/>
<circle cx="134.2" cy="450.1" r="2.3"/>
<circle cx="133.5" cy="451.9" r="2.3"/>
<circle cx="138.1" cy="434.5" r="2.3"/>
<circle cx="157.8" cy="434.3" r="2.3"/>
<circle cx="188.4" cy="381.4" r="2.3"/>
<circle cx="148.3" cy="432.8" r="2.3"/>
<circle cx="155.8" cy="418.7" r="2.3"/>
<circle cx="131.9" cy="445.2" r="2.3"/>
<circle cx="147.4" cy="442.3" r="2.3"/>
<circle cx="154.8" cy="405.2" r="2.3"/>
<circle cx="140.6" cy="443.0" r="2.3"/>
<circle cx="151.3" cy="424.2" r="2.3"/>
<circle cx="131.9" cy="444.7" r="2.3"/>
<circle cx="155.4" cy="436.3" r="2.3"/>
<circle cx="174.8" cy="414.2" r="2.3"/>
<circle cx="178.7" cy="385.8" r="2.3"/>
<circle cx="134.1" cy="439.2" r="2.3"/>
<circle cx="144.6" cy="426.1" r="2.3"/>
<circle cx="164.4" cy="405.2" r="2.3"/>
<circle cx="165.0" cy="438.6" r="2.3"/>
<circle cx="140.9" cy="425.2" r="2.3"/>
<circle cx="168.7" cy="416.5" r="2.3"/>
<circle cx="142.1" cy="432.8" r="2.3"/>
<circle cx="136.0" cy="444.5" r="2.3"/>
<circle cx="135.5" cy="441.1" r="2.3"/>
<circle cx="135.6" cy="451.4" r="2.3"/>
<circle cx="187.2" cy="401.2" r="2.3"/>
<circle cx="153.8" cy="430.0" r="2.3"/>
<circle cx="204.3" cy="407.8" r="2.3"/>
<circle cx="139.7" cy="423.9" r="2.3"/>
<circle cx="153.5" cy="421.0" r="2.3"/>
<circle cx="139.7" cy="449.8" r="2.3"/>
<circle cx="151.4" cy="419.2" r="2.3"/>
<circle cx="137.2" cy="441.4" r="2.3"/>
<circle cx="172.0" cy="379.8" r="2.3"/>
<circle cx="133.1" cy="444.5" r="2.3"/>
<circle cx="132.8" cy="449.1" r="2.3"/>
<circle cx="141.7" cy="437.4" r="2.3"/>
<circle cx="132.9" cy="448.8" r="2.3"/>
<circle cx="143.2" cy="425.3" r="2.3"/>
<circle cx="175.7" cy="411.7" r="2.3"/>
<circle cx="132.1" cy="452.0" r="2.3"/>
<circle cx="137.3" cy="444.1" r="2.3"/>
<circle cx="134.1" cy="448.1" r="2.3"/>
<circle cx="132.1" cy="450.0" r="2.3"/>
<circle cx="183.3" cy="410.4" r="2.3"/>
<circle cx="136.9" cy="445.1" r="2.3"/>
<circle cx="187.9" cy="395.6" r="2.3"/>
<circle cx="143.9" cy="438.1" r="2.3"/>
<circle cx="158.6" cy="444.1" r="2.3"/>
<circle cx="141.6" cy="451.8" r="2.3"/>
<circle cx="131.8" cy="438.2" r="2.3"/>
<circle cx="131.6" cy="440.0" r="2.3"/>
<circle cx="156.7" cy="431.1" r="2.3"/>
<circle cx="151.5" cy="441.8" r="2.3"/>
<circle cx="130.9" cy="438.8" r="2.3"/>
<circle cx="183.2" cy="391.5" r="2.3"/>
<circle cx="136.9" cy="444.4" r="2.3"/>
<circle cx="139.8" cy="440.0" r="2.3"/>
<circle cx="141.8" cy="445.6" r="2.3"/>
<circle cx="134.8" cy="436.6" r="2.3"/>
<circle cx="136.5" cy="440.7" r="2.3"/>
<circle cx="153.2" cy="422.9" r="2.3"/>
<circle cx="134.9" cy="448.5" r="2.3"/>
<circle cx="135.2" cy="449.6" r="2.3"/>
<circle cx="136.8" cy="443.0" r="2.3"/>
<circle cx="149.8" cy="424.2" r="2.3"/>
<circle cx="176.5" cy="414.3" r="2.3"/>
<circle cx="139.1" cy="442.5" r="2.3"/>
<circle cx="138.7" cy="434.7" r="2.3"/>
<circle cx="166.2" cy="418.6" r="2.3"/>
<circle cx="145.2" cy="426.1" r="2.3"/>
<circle cx="142.9" cy="427.2" r="2.3"/>
<circle cx="144.8" cy="439.3" r="2.3"/>
<circle cx="149.7" cy="419.8" r="2.3"/>
<circle cx="131.3" cy="451.8" r="2.3"/>
<circle cx="135.4" cy="444.9" r="2.3"/>
<circle cx="161.6" cy="395.7" r="2.3"/>
<circle cx="169.8" cy="422.1" r="2.3"/>
<circle cx="149.2" cy="427.0" r="2.3"/>
<circle cx="147.4" cy="436.4" r="2.3"/>
<circle cx="168.7" cy="402.1" r="2.3"/>
<circle cx="132.8" cy="449.5" r="2.3"/>
<circle cx="171.6" cy="405.3" r="2.3"/>
<circle cx="131.6" cy="446.5" r="2.3"/>
<circle cx="133.8" cy="440.4" r="2.3"/>
<circle cx="143.1" cy="431.0" r="2.3"/>
<circle cx="152.7" cy="425.8" r="2.3"/>
<circle cx="132.1" cy="448.8" r="2.3"/>
<circle cx="151.7" cy="420.1" r="2.3"/>
<circle cx="136.7" cy="447.7" r="2.3"/>
<circle cx="136.0" cy="439.4" r="2.3"/>
<circle cx="144.4" cy="448.5" r="2.3"/>
<circle cx="134.0" cy="428.6" r="2.3"/>
<circle cx="151.9" cy="439.9" r="2.3"/>
<circle cx="131.7" cy="446.2" r="2.3"/>
<circle cx="137.8" cy="438.9" r="2.3"/>
<circle cx="134.5" cy="443.3" r="2.3"/>
<circle cx="149.1" cy="443.4" r="2.3"/>
<circle cx="131.1" cy="449.3" r="2.3"/>
<circle cx="145.0" cy="434.1" r="2.3"/>
<circle cx="140.2" cy="445.6" r="2.3"/>
<circle cx="162.3" cy="428.5" r="2.3"/>
<circle cx="138.8" cy="450.2" r="2.3"/>
<circle cx="166.6" cy="420.9" r="2.3"/>
<circle cx="170.9" cy="397.0" r="2.3"/>
<circle cx="141.3" cy="447.9" r="2.3"/>
<circle cx="133.6" cy="447.3" r="2.3"/>
<circle cx="133.4" cy="451.5" r="2.3"/>
<circle cx="140.6" cy="430.4" r="2.3"/>
<circle cx="142.8" cy="431.1" r="2.3"/>
<circle cx="168.2" cy="428.5" r="2.3"/>
<circle cx="140.9" cy="440.8" r="2.3"/>
<circle cx="143.3" cy="444.3" r="2.3"/>
<circle cx="140.9" cy="446.7" r="2.3"/>
<circle cx="145.8" cy="428.7" r="2.3"/>
<circle cx="132.2" cy="448.8" r="2.3"/>
<circle cx="138.7" cy="435.6" r="2.3"/>
<circle cx="164.9" cy="438.2" r="2.3"/>
<circle cx="139.0" cy="450.0" r="2.3"/>
<circle cx="135.9" cy="450.4" r="2.3"/>
<circle cx="151.3" cy="434.5" r="2.3"/>
<circle cx="157.1" cy="419.8" r="2.3"/>
<circle cx="164.6" cy="413.6" r="2.3"/>
<circle cx="178.0" cy="429.3" r="2.3"/>
<circle cx="155.5" cy="429.8" r="2.3"/>
<circle cx="131.6" cy="443.8" r="2.3"/>
<circle cx="137.0" cy="440.9" r="2.3"/>
<circle cx="132.8" cy="449.3" r="2.3"/>
<circle cx="189.6" cy="387.2" r="2.3"/>
<circle cx="148.2" cy="439.5" r="2.3"/>
<circle cx="134.8" cy="445.8" r="2.3"/>
<circle cx="173.6" cy="416.0" r="2.3"/>
<circle cx="191.2" cy="432.4" r="2.3"/>
<circle cx="150.6" cy="441.3" r="2.3"/>
<circle cx="137.3" cy="439.0" r="2.3"/>
<circle cx="138.5" cy="441.6" r="2.3"/>
<circle cx="174.4" cy="416.3" r="2.3"/>
<circle cx="135.5" cy="451.3" r="2.3"/>
<circle cx="164.7" cy="408.9" r="2.3"/>
<circle cx="201.6" cy="392.5" r="2.3"/>
<circle cx="175.2" cy="436.2" r="2.3"/>
<circle cx="142.7" cy="450.9" r="2.3"/>
<circle cx="140.7" cy="424.8" r="2.3"/>
<circle cx="140.2" cy="437.2" r="2.3"/>
<circle cx="139.3" cy="438.3" r="2.3"/>
<circle cx="136.7" cy="434.7" r="2.3"/>
<circle cx="131.7" cy="448.0" r="2.3"/>
<circle cx="146.5" cy="426.5" r="2.3"/>
<circle cx="134.8" cy="451.6" r="2.3"/>
<circle cx="147.8" cy="430.2" r="2.3"/>
<circle cx="154.5" cy="443.6" r="2.3"/>
<circle cx="139.3" cy="449.8" r="2.3"/>
<circle cx="152.8" cy="423.2" r="2.3"/>
<circle cx="133.3" cy="436.3" r="2.3"/>
<circle cx="135.5" cy="447.0" r="2.3"/>
<circle cx="152.1" cy="446.0" r="2.3"/>
<circle cx="166.6" cy="430.3" r="2.3"/>
<circle cx="140.3" cy="438.4" r="2.3"/>
<circle cx="194.9" cy="386.2" r="2.3"/>
<circle cx="148.2" cy="432.4" r="2.3"/>
<circle cx="132.9" cy="448.9" r="2.3"/>
<circle cx="146.2" cy="430.2" r="2.3"/>
<circle cx="158.8" cy="407.5" r="2.3"/>
<circle cx="131.7" cy="445.3" r="2.3"/>
<circle cx="131.1" cy="443.1" r="2.3"/>
<circle cx="132.5" cy="444.6" r="2.3"/>
<circle cx="186.6" cy="421.1" r="2.3"/>
<circle cx="190.9" cy="394.1" r="2.3"/>
<circle cx="136.2" cy="441.7" r="2.3"/>
<circle cx="138.6" cy="427.1" r="2.3"/>
<circle cx="162.7" cy="421.9" r="2.3"/>
<circle cx="148.2" cy="417.2" r="2.3"/>
<circle cx="139.3" cy="448.0" r="2.3"/>
<circle cx="146.3" cy="433.0" r="2.3"/>
<circle cx="152.5" cy="440.8" r="2.3"/>
<circle cx="148.6" cy="430.4" r="2.3"/>
<circle cx="164.2" cy="398.5" r="2.3"/>
<circle cx="147.1" cy="437.0" r="2.3"/>
<circle cx="141.1" cy="443.1" r="2.3"/>
<circle cx="163.1" cy="449.3" r="2.3"/>
<circle cx="146.3" cy="433.0" r="2.3"/>
<circle cx="187.9" cy="371.0" r="2.3"/>
<circle cx="149.0" cy="423.2" r="2.3"/>
<circle cx="139.7" cy="440.4" r="2.3"/>
<circle cx="138.2" cy="451.3" r="2.3"/>
<circle cx="132.7" cy="434.9" r="2.3"/>
<circle cx="156.0" cy="421.2" r="2.3"/>
<circle cx="149.1" cy="440.9" r="2.3"/>
<circle cx="170.9" cy="422.5" r="2.3"/>
<circle cx="154.9" cy="431.5" r="2.3"/>
<circle cx="194.3" cy="373.1" r="2.3"/>
<circle cx="149.8" cy="419.6" r="2.3"/>
<circle cx="140.3" cy="449.5" r="2.3"/>
<circle cx="133.6" cy="449.9" r="2.3"/>
<circle cx="196.2" cy="398.9" r="2.3"/>
<circle cx="146.8" cy="441.3" r="2.3"/>
<circle cx="144.5" cy="447.2" r="2.3"/>
<circle cx="155.5" cy="424.0" r="2.3"/>
<circle cx="143.6" cy="437.6" r="2.3"/>
<circle cx="148.1" cy="437.5" r="2.3"/>
<circle cx="182.3" cy="412.5" r="2.3"/>
<circle cx="142.1" cy="434.5" r="2.3"/>
<circle cx="137.7" cy="445.2" r="2.3"/>
<circle cx="160.9" cy="427.9" r="2.3"/>
<circle cx="139.3" cy="439.8" r="2.3"/>
<circle cx="153.9" cy="424.0" r="2.3"/>
<circle cx="139.9" cy="452.0" r="2.3"/>
<circle cx="188.1" cy="396.7" r="2.3"/>
<circle cx="148.6" cy="436.0" r="2.3"/>
<circle cx="138.1" cy="449.1" r="2.3"/>
<circle cx="136.4" cy="449.7" r="2.3"/>
<circle cx="134.6" cy="441.2" r="2.3"/>
<circle cx="135.6" cy="438.4" r="2.3"/>
<circle cx="139.1" cy="443.2" r="2.3"/>
<circle cx="202.9" cy="390.6" r="2.3"/>
<circle cx="148.8" cy="438.3" r="2.3"/>
<circle cx="162.1" cy="415.5" r="2.3"/>
<circle cx="134.7" cy="449.1" r="2.3"/>
<circle cx="132.3" cy="448.5" r="2.3"/>
<circle cx="153.7" cy="432.3" r="2.3"/>
<circle cx="132.4" cy="441.8" r="2.3"/>
<circle cx="157.6" cy="422.5" r="2.3"/>
<circle cx="132.8" cy="446.2" r="2.3"/>
<circle cx="136.6" cy="443.0" r="2.3"/>
<circle cx="146.9" cy="437.5" r="2.3"/>
<circle cx="135.9" cy="450.5" r="2.3"/>
<circle cx="137.3" cy="446.8" r="2.3"/>
<circle cx="135.3" cy="440.9" r="2.3"/>
<circle cx="136.3" cy="448.9" r="2.3"/>
<circle cx="158.2" cy="429.6" r="2.3"/>
<circle cx="141.4" cy="446.1" r="2.3"/>
<circle cx="159.3" cy="402.1" r="2.3"/>
<circle cx="165.3" cy="431.3" r="2.3"/>
<circle cx="141.1" cy="439.9" r="2.3"/>
<circle cx="141.9" cy="448.3" r="2.3"/>
<circle cx="131.2" cy="450.9" r="2.3"/>
<circle cx="131.4" cy="446.0" r="2.3"/>
<circle cx="134.0" cy="448.4" r="2.3"/>
<circle cx="164.5" cy="426.5" r="2.3"/>
<circle cx="138.3" cy="449.7" r="2.3"/>
<circle cx="183.5" cy="392.1" r="2.3"/>
<circle cx="153.8" cy="425.3" r="2.3"/>
<circle cx="136.3" cy="438.5" r="2.3"/>
<circle cx="133.2" cy="447.9" r="2.3"/>
<circle cx="133.2" cy="451.6" r="2.3"/>
<circle cx="171.8" cy="400.6" r="2.3"/>
<circle cx="151.9" cy="441.5" r="2.3"/>
<circle cx="140.0" cy="446.6" r="2.3"/>
<circle cx="163.6" cy="417.4" r="2.3"/>
<circle cx="136.9" cy="435.9" r="2.3"/>
<circle cx="145.5" cy="429.9" r="2.3"/>
<circle cx="137.9" cy="442.1" r="2.3"/>
<circle cx="151.8" cy="443.0" r="2.3"/>
<circle cx="132.5" cy="433.4" r="2.3"/>
<circle cx="139.8" cy="436.2" r="2.3"/>
<circle cx="132.6" cy="452.0" r="2.3"/>
<circle cx="135.3" cy="444.5" r="2.3"/>
<circle cx="140.3" cy="438.8" r="2.3"/>
<circle cx="142.2" cy="439.9" r="2.3"/>
<circle cx="145.6" cy="419.4" r="2.3"/>
<circle cx="143.0" cy="449.8" r="2.3"/>
<circle cx="149.2" cy="420.9" r="2.3"/>
<circle cx="140.9" cy="434.3" r="2.3"/>
<circle cx="167.3" cy="418.7" r="2.3"/>
<circle cx="132.9" cy="445.3" r="2.3"/>
<circle cx="158.0" cy="417.5" r="2.3"/>
<circle cx="159.7" cy="436.9" r="2.3"/>
<circle cx="131.8" cy="441.3" r="2.3"/>
<circle cx="138.0" cy="445.0" r="2.3"/>
<circle cx="190.2" cy="397.6" r="2.3"/>
<circle cx="136.7" cy="438.0" r="2.3"/>
<circle cx="136.7" cy="436.0" r="2.3"/>
<circle cx="141.0" cy="439.0" r="2.3"/>
<circle cx="134.0" cy="449.0" r="2.3"/>
<circle cx="160.1" cy="416.0" r="2.3"/>
<circle cx="158.0" cy="423.5" r="2.3"/>
<circle cx="170.8" cy="412.2" r="2.3"/>
<circle cx="156.3" cy="443.6" r="2.3"/>
<circle cx="133.5" cy="445.1" r="2.3"/>
<circle cx="144.9" cy="436.1" r="2.3"/>
<circle cx="131.6" cy="443.4" r="2.3"/>
<circle cx="132.0" cy="451.6" r="2.3"/>
<circle cx="134.0" cy="442.7" r="2.3"/>
<circle cx="136.3" cy="441.1" r="2.3"/>
<circle cx="142.1" cy="442.4" r="2.3"/>
<circle cx="141.2" cy="436.6" r="2.3"/>
<circle cx="140.3" cy="430.1" r="2.3"/>
<circle cx="136.9" cy="441.2" r="2.3"/>
<circle cx="162.8" cy="430.9" r="2.3"/>
<circle cx="171.9" cy="419.8" r="2.3"/>
<circle cx="138.0" cy="444.6" r="2.3"/>
<circle cx="200.5" cy="404.8" r="2.3"/>
<circle cx="135.8" cy="447.8" r="2.3"/>
<circle cx="166.0" cy="398.0" r="2.3"/>
<circle cx="136.9" cy="448.8" r="2.3"/>
<circle cx="187.8" cy="379.0" r="2.3"/>
<circle cx="189.5" cy="411.9" r="2.3"/>
<circle cx="197.4" cy="371.5" r="2.3"/>
<circle cx="163.1" cy="397.8" r="2.3"/>
<circle cx="138.4" cy="442.4" r="2.3"/>
<circle cx="133.0" cy="446.7" r="2.3"/>
<circle cx="140.5" cy="443.3" r="2.3"/>
<circle cx="144.5" cy="433.5" r="2.3"/>
<circle cx="137.5" cy="435.5" r="2.3"/>
<circle cx="137.0" cy="440.7" r="2.3"/>
<circle cx="136.9" cy="447.5" r="2.3"/>
<circle cx="130.9" cy="443.3" r="2.3"/>
<circle cx="200.2" cy="387.6" r="2.3"/>
<circle cx="132.9" cy="448.2" r="2.3"/>
<circle cx="149.6" cy="439.2" r="2.3"/>
<circle cx="136.5" cy="449.0" r="2.3"/>
<circle cx="149.0" cy="428.0" r="2.3"/>
<circle cx="135.7" cy="440.9" r="2.3"/>
<circle cx="144.9" cy="451.4" r="2.3"/>
<circle cx="138.7" cy="437.0" r="2.3"/>
<circle cx="147.3" cy="421.0" r="2.3"/>
<circle cx="132.7" cy="445.9" r="2.3"/>
<circle cx="156.3" cy="424.9" r="2.3"/>
<circle cx="154.0" cy="422.3" r="2.3"/>
<circle cx="145.9" cy="442.5" r="2.3"/>
<circle cx="134.7" cy="441.5" r="2.3"/>
<circle cx="142.0" cy="438.3" r="2.3"/>
<circle cx="144.4" cy="433.5" r="2.3"/>
<circle cx="147.1" cy="442.1" r="2.3"/>
<circle cx="193.7" cy="415.1" r="2.3"/>
<circle cx="163.9" cy="425.2" r="2.3"/>
<circle cx="140.8" cy="438.5" r="2.3"/>
<circle cx="131.1" cy="450.1" r="2.3"/>
<circle cx="144.3" cy="447.4" r="2.3"/>
<circle cx="133.0" cy="447.6" r="2.3"/>
<circle cx="164.3" cy="398.0" r="2.3"/>
<circle cx="139.8" cy="441.9" r="2.3"/>
<circle cx="154.7" cy="446.5" r="2.3"/>
<circle cx="138.3" cy="431.9" r="2.3"/>
<circle cx="137.3" cy="441.0" r="2.3"/>
<circle cx="132.1" cy="447.9" r="2.3"/>
<circle cx="135.7" cy="440.3" r="2.3"/>
<circle cx="173.0" cy="400.3" r="2.3"/>
<circle cx="136.0" cy="451.2" r="2.3"/>
<circle cx="162.5" cy="402.7" r="2.3"/>
<circle cx="133.0" cy="438.0" r="2.3"/>
<circle cx="132.8" cy="436.8" r="2.3"/>
<circle cx="137.9" cy="451.9" r="2.3"/>
<circle cx="142.8" cy="434.6" r="2.3"/>
<circle cx="153.0" cy="427.3" r="2.3"/>
<circle cx="149.4" cy="430.9" r="2.3"/>
<circle cx="176.5" cy="407.5" r="2.3"/>
<circle cx="149.4" cy="429.8" r="2.3"/>
<circle cx="167.2" cy="412.3" r="2.3"/>
<circle cx="168.4" cy="398.0" r="2.3"/>
<circle cx="159.0" cy="431.9" r="2.3"/>
<circle cx="177.1" cy="387.3" r="2.3"/>
<circle cx="141.1" cy="433.5" r="2.3"/>
<circle cx="189.3" cy="381.4" r="2.3"/>
<circle cx="142.6" cy="440.7" r="2.3"/>
<circle cx="172.4" cy="404.8" r="2.3"/>
<circle cx="138.8" cy="446.0" r="2.3"/>
<circle cx="132.7" cy="451.7" r="2.3"/>
<circle cx="156.4" cy="441.9" r="2.3"/>
<circle cx="137.6" cy="442.8" r="2.3"/>
<circle cx="184.5" cy="408.2" r="2.3"/>
<circle cx="157.5" cy="429.0" r="2.3"/>
<circle cx="173.7" cy="433.1" r="2.3"/>
<circle cx="146.1" cy="447.0" r="2.3"/>
<circle cx="144.6" cy="443.9" r="2.3"/>
<circle cx="143.6" cy="433.4" r="2.3"/>
<circle cx="158.3" cy="419.7" r="2.3"/>
<circle cx="145.1" cy="448.9" r="2.3"/>
<circle cx="139.3" cy="442.9" r="2.3"/>
<circle cx="205.0" cy="375.4" r="2.3"/>
<circle cx="137.8" cy="439.7" r="2.3"/>
<circle cx="195.8" cy="385.1" r="2.3"/>
<circle cx="135.2" cy="444.9" r="2.3"/>
<circle cx="143.6" cy="443.8" r="2.3"/>
<circle cx="134.2" cy="447.8" r="2.3"/>
<circle cx="149.9" cy="422.4" r="2.3"/>
<circle cx="145.7" cy="433.3" r="2.3"/>
<circle cx="132.8" cy="451.8" r="2.3"/>
<circle cx="157.8" cy="413.1" r="2.3"/>
<circle cx="136.5" cy="443.2" r="2.3"/>
<circle cx="138.9" cy="450.6" r="2.3"/>
<circle cx="190.0" cy="361.3" r="2.3"/>
<circle cx="132.9" cy="446.2" r="2.3"/>
<circle cx="132.4" cy="450.3" r="2.3"/>
<circle cx="138.6" cy="429.0" r="2.3"/>
<circle cx="164.1" cy="388.4" r="2.3"/>
<circle cx="172.3" cy="421.8" r="2.3"/>
<circle cx="163.2" cy="431.2" r="2.3"/>
<circle cx="141.9" cy="447.7" r="2.3"/>
<circle cx="165.0" cy="411.3" r="2.3"/>
<circle cx="153.6" cy="426.9" r="2.3"/>
<circle cx="131.6" cy="450.8" r="2.3"/>
<circle cx="177.5" cy="413.5" r="2.3"/>
<circle cx="143.0" cy="429.8" r="2.3"/>
<circle cx="152.9" cy="439.1" r="2.3"/>
<circle cx="130.9" cy="438.4" r="2.3"/>
<circle cx="132.3" cy="445.8" r="2.3"/>
<circle cx="152.2" cy="432.6" r="2.3"/>
<circle cx="146.9" cy="444.2" r="2.3"/>
<circle cx="139.9" cy="436.0" r="2.3"/>
<circle cx="147.3" cy="430.6" r="2.3"/>
<circle cx="142.0" cy="436.4" r="2.3"/>
<circle cx="130.9" cy="437.0" r="2.3"/>
<circle cx="133.4" cy="447.7" r="2.3"/>
<circle cx="151.5" cy="421.2" r="2.3"/>
<circle cx="132.8" cy="451.4" r="2.3"/>
<circle cx="164.5" cy="407.7" r="2.3"/>
<circle cx="137.2" cy="447.8" r="2.3"/>
<circle cx="146.1" cy="438.4" r="2.3"/>
<circle cx="139.8" cy="450.1" r="2.3"/>
<circle cx="139.8" cy="446.0" r="2.3"/>
<circle cx="143.1" cy="450.3" r="2.3"/>
<circle cx="131.6" cy="452.0" r="2.3"/>
<circle cx="139.0" cy="437.1" r="2.3"/>
<circle cx="183.9" cy="388.8" r="2.3"/>
<circle cx="136.3" cy="442.9" r="2.3"/>
<circle cx="143.9" cy="433.0" r="2.3"/>
<circle cx="132.5" cy="452.0" r="2.3"/>
<circle cx="138.6" cy="444.4" r="2.3"/>
<circle cx="134.0" cy="450.8" r="2.3"/>
<circle cx="169.8" cy="419.3" r="2.3"/>
<circle cx="140.2" cy="432.5" r="2.3"/>
<circle cx="139.7" cy="434.6" r="2.3"/>
<circle cx="136.4" cy="447.9" r="2.3"/>
<circle cx="154.7" cy="421.5" r="2.3"/>
<circle cx="157.5" cy="419.0" r="2.3"/>
<circle cx="137.5" cy="431.2" r="2.3"/>
<circle cx="131.7" cy="450.9" r="2.3"/>
<circle cx="138.8" cy="432.3" r="2.3"/>
<circle cx="133.1" cy="450.2" r="2.3"/>
<circle cx="150.1" cy="435.7" r="2.3"/>
<circle cx="131.7" cy="444.4" r="2.3"/>
<circle cx="142.4" cy="447.4" r="2.3"/>
<circle cx="131.1" cy="443.9" r="2.3"/>
<circle cx="142.8" cy="446.5" r="2.3"/>
<circle cx="131.7" cy="447.9" r="2.3"/>
<circle cx="136.1" cy="443.1" r="2.3"/>
<circle cx="131.2" cy="447.7" r="2.3"/>
<circle cx="143.9" cy="447.2" r="2.3"/>
<circle cx="132.5" cy="444.8" r="2.3"/>
<circle cx="154.6" cy="437.6" r="2.3"/>
<circle cx="151.3" cy="430.6" r="2.3"/>
<circle cx="183.6" cy="382.8" r="2.3"/>
<circle cx="149.0" cy="442.4" r="2.3"/>
<circle cx="143.5" cy="448.4" r="2.3"/>
<circle cx="151.2" cy="433.9" r="2.3"/>
<circle cx="157.5" cy="422.5" r="2.3"/>
<circle cx="137.8" cy="444.2" r="2.3"/>
<circle cx="136.1" cy="448.0" r="2.3"/>
<circle cx="150.5" cy="433.7" r="2.3"/>
<circle cx="141.6" cy="438.8" r="2.3"/>
<circle cx="150.2" cy="432.7" r="2.3"/>
<circle cx="174.7" cy="411.2" r="2.3"/>
<circle cx="169.2" cy="409.8" r="2.3"/>
<circle cx="170.7" cy="417.2" r="2.3"/>
<circle cx="136.9" cy="444.0" r="2.3"/>
<circle cx="162.5" cy="415.5" r="2.3"/>
<circle cx="135.6" cy="446.3" r="2.3"/>
<circle cx="134.3" cy="449.5" r="2.3"/>
<circle cx="139.2" cy="434.7" r="2.3"/>
<circle cx="172.0" cy="386.0" r="2.3"/>
<circle cx="138.5" cy="449.2" r="2.3"/>
<circle cx="139.9" cy="447.6" r="2.3"/>
<circle cx="200.9" cy="407.1" r="2.3"/>
<circle cx="131.2" cy="445.0" r="2.3"/>
<circle cx="184.5" cy="395.9" r="2.3"/>
<circle cx="134.8" cy="444.9" r="2.3"/>
<circle cx="139.8" cy="427.3" r="2.3"/>
<circle cx="180.6" cy="381.7" r="2.3"/>
<circle cx="150.9" cy="434.0" r="2.3"/>
<circle cx="151.7" cy="432.2" r="2.3"/>
<circle cx="142.3" cy="428.9" r="2.3"/>
<circle cx="135.5" cy="440.1" r="2.3"/>
<circle cx="177.9" cy="409.3" r="2.3"/>
<circle cx="206.5" cy="361.6" r="2.3"/>
<circle cx="155.3" cy="444.6" r="2.3"/>
<circle cx="150.1" cy="422.6" r="2.3"/>
<circle cx="131.8" cy="449.0" r="2.3"/>
<circle cx="163.6" cy="407.1" r="2.3"/>
<circle cx="162.8" cy="421.5" r="2.3"/>
<circle cx="144.3" cy="439.2" r="2.3"/>
<circle cx="168.4" cy="419.6" r="2.3"/>
<circle cx="149.0" cy="430.1" r="2.3"/>
<circle cx="154.1" cy="417.6" r="2.3"/>
<circle cx="131.0" cy="451.1" r="2.3"/>
<circle cx="138.7" cy="438.6" r="2.3"/>
<circle cx="202.1" cy="387.8" r="2.3"/>
<circle cx="158.3" cy="426.8" r="2.3"/>
<circle cx="158.6" cy="430.6" r="2.3"/>
<circle cx="146.8" cy="428.4" r="2.3"/>
<circle cx="147.6" cy="422.7" r="2.3"/>
<circle cx="179.0" cy="418.1" r="2.3"/>
<circle cx="179.7" cy="389.4" r="2.3"/>
<circle cx="144.8" cy="437.3" r="2.3"/>
<circle cx="188.9" cy="409.7" r="2.3"/>
<circle cx="156.8" cy="432.7" r="2.3"/>
<circle cx="158.8" cy="419.5" r="2.3"/>
<circle cx="164.1" cy="450.4" r="2.3"/>
<circle cx="136.6" cy="450.4" r="2.3"/>
<circle cx="148.0" cy="410.6" r="2.3"/>
<circle cx="136.2" cy="447.2" r="2.3"/>
<circle cx="138.9" cy="439.4" r="2.3"/>
<circle cx="143.0" cy="432.8" r="2.3"/>
<circle cx="134.6" cy="446.3" r="2.3"/>
<circle cx="136.1" cy="439.6" r="2.3"/>
<circle cx="141.7" cy="443.5" r="2.3"/>
<circle cx="142.1" cy="432.1" r="2.3"/>
<circle cx="155.5" cy="423.3" r="2.3"/>
<circle cx="166.1" cy="438.6" r="2.3"/>
<circle cx="132.6" cy="451.6" r="2.3"/>
<circle cx="184.3" cy="374.8" r="2.3"/>
<circle cx="143.1" cy="439.1" r="2.3"/>
<circle cx="158.0" cy="405.8" r="2.3"/>
<circle cx="135.5" cy="431.0" r="2.3"/>
<circle cx="145.1" cy="424.7" r="2.3"/>
<circle cx="134.5" cy="441.4" r="2.3"/>
<circle cx="144.5" cy="442.3" r="2.3"/>
<circle cx="205.1" cy="357.6" r="2.3"/>
<circle cx="156.2" cy="414.6" r="2.3"/>
<circle cx="132.4" cy="443.0" r="2.3"/>
<circle cx="134.9" cy="447.2" r="2.3"/>
<circle cx="153.9" cy="441.0" r="2.3"/>
<circle cx="162.6" cy="415.1" r="2.3"/>
<circle cx="131.3" cy="449.1" r="2.3"/>
<circle cx="141.8" cy="428.4" r="2.3"/>
<circle cx="149.5" cy="439.0" r="2.3"/>
<circle cx="142.5" cy="437.2" r="2.3"/>
<circle cx="141.8" cy="450.0" r="2.3"/>
<circle cx="135.8" cy="439.5" r="2.3"/>
<circle cx="144.2" cy="442.3" r="2.3"/>
<circle cx="130.9" cy="438.8" r="2.3"/>
<circle cx="156.8" cy="430.2" r="2.3"/>
<circle cx="133.5" cy="437.8" r="2.3"/>
<circle cx="134.8" cy="442.6" r="2.3"/>
<circle cx="133.2" cy="439.2" r="2.3"/>
<circle cx="137.6" cy="441.5" r="2.3"/>
<circle cx="141.9" cy="434.5" r="2.3"/>
<circle cx="131.3" cy="449.5" r="2.3"/>
<circle cx="132.4" cy="449.0" r="2.3"/>
<circle cx="183.1" cy="413.6" r="2.3"/>
<circle cx="139.1" cy="430.5" r="2.3"/>
<circle cx="205.8" cy="340.6" r="2.3"/>
<circle cx="131.7" cy="451.8" r="2.3"/>
<circle cx="131.5" cy="438.1" r="2.3"/>
<circle cx="143.6" cy="430.8" r="2.3"/>
<circle cx="139.2" cy="438.0" r="2.3"/>
<circle cx="162.2" cy="409.4" r="2.3"/>
<circle cx="139.4" cy="436.0" r="2.3"/>
<circle cx="139.8" cy="438.5" r="2.3"/>
<circle cx="153.8" cy="435.6" r="2.3"/>
<circle cx="142.7" cy="451.4" r="2.3"/>
<circle cx="165.5" cy="422.9" r="2.3"/>
<circle cx="134.1" cy="451.6" r="2.3"/>
<circle cx="132.3" cy="447.1" r="2.3"/>
<circle cx="146.6" cy="430.7" r="2.3"/>
<circle cx="186.1" cy="397.8" r="2.3"/>
<circle cx="145.3" cy="430.9" r="2.3"/>
<circle cx="131.0" cy="449.2" r="2.3"/>
<circle cx="132.2" cy="444.9" r="2.3"/>
<circle cx="132.7" cy="449.4" r="2.3"/>
<circle cx="133.0" cy="448.7" r="2.3"/>
<circle cx="135.2" cy="450.7" r="2.3"/>
<circle cx="133.2" cy="448.5" r="2.3"/>
<circle cx="164.3" cy="419.3" r="2.3"/>
<circle cx="150.4" cy="416.0" r="2.3"/>
<circle cx="178.7" cy="421.4" r="2.3"/>
<circle cx="137.1" cy="431.8" r="2.3"/>
<circle cx="193.6" cy="383.5" r="2.3"/>
<circle cx="139.1" cy="428.1" r="2.3"/>
<circle cx="193.4" cy="427.7" r="2.3"/>
<circle cx="140.1" cy="442.9" r="2.3"/>
<circle cx="133.2" cy="448.5" r="2.3"/>
<circle cx="131.9" cy="450.6" r="2.3"/>
<circle cx="155.7" cy="426.0" r="2.3"/>
<circle cx="186.9" cy="416.3" r="2.3"/>
<circle cx="153.6" cy="426.0" r="2.3"/>
<circle cx="138.5" cy="437.0" r="2.3"/>
<circle cx="132.8" cy="441.5" r="2.3"/>
<circle cx="139.0" cy="432.5" r="2.3"/>
<circle cx="189.7" cy="373.4" r="2.3"/>
<circle cx="133.4" cy="448.8" r="2.3"/>
<circle cx="146.1" cy="418.7" r="2.3"/>
<circle cx="132.3" cy="445.5" r="2.3"/>
<circle cx="135.3" cy="438.0" r="2.3"/>
<circle cx="142.8" cy="451.2" r="2.3"/>
<circle cx="131.1" cy="440.9" r="2.3"/>
<circle cx="154.9" cy="423.6" r="2.3"/>
<circle cx="143.4" cy="441.4" r="2.3"/>
<circle cx="144.8" cy="424.4" r="2.3"/>
<circle cx="144.5" cy="444.5" r="2.3"/>
<circle cx="151.7" cy="431.6" r="2.3"/>
<circle cx="195.8" cy="356.1" r="2.3"/>
<circle cx="175.8" cy="418.8" r="2.3"/>
<circle cx="141.7" cy="442.5" r="2.3"/>
<circle cx="131.5" cy="452.0" r="2.3"/>
<circle cx="152.8" cy="434.5" r="2.3"/>
<circle cx="151.4" cy="432.2" r="2.3"/>
<circle cx="182.3" cy="389.2" r="2.3"/>
<circle cx="156.3" cy="431.2" r="2.3"/>
<circle cx="135.0" cy="439.2" r="2.3"/>
<circle cx="189.1" cy="399.8" r="2.3"/>
<circle cx="137.6" cy="448.3" r="2.3"/>
<circle cx="158.2" cy="437.6" r="2.3"/>
<circle cx="154.4" cy="431.9" r="2.3"/>
<circle cx="154.7" cy="435.2" r="2.3"/>
<circle cx="139.3" cy="443.3" r="2.3"/>
<circle cx="143.4" cy="447.2" r="2.3"/>
<circle cx="153.6" cy="430.2" r="2.3"/>
<circle cx="134.7" cy="446.4" r="2.3"/>
<circle cx="132.1" cy="443.6" r="2.3"/>
<circle cx="133.7" cy="449.4" r="2.3"/>
<circle cx="144.7" cy="445.9" r="2.3"/>
<circle cx="140.0" cy="443.0" r="2.3"/>
<circle cx="156.6" cy="433.2" r="2.3"/>
<circle cx="158.8" cy="442.5" r="2.3"/>
<circle cx="137.7" cy="446.8" r="2.3"/>
<circle cx="150.2" cy="433.1" r="2.3"/>
<circle cx="145.1" cy="441.9" r="2.3"/>
<circle cx="131.2" cy="449.5" r="2.3"/>
<circle cx="147.6" cy="442.1" r="2.3"/>
<circle cx="157.9" cy="434.3" r="2.3"/>
<circle cx="154.8" cy="437.7" r="2.3"/>
<circle cx="147.3" cy="437.2" r="2.3"/>
<circle cx="150.0" cy="441.8" r="2.3"/>
<circle cx="141.3" cy="442.8" r="2.3"/>
<circle cx="136.6" cy="440.5" r="2.3"/>
<circle cx="136.3" cy="451.7" r="2.3"/>
<circle cx="131.1" cy="451.0" r="2.3"/>
<circle cx="200.6" cy="412.5" r="2.3"/>
<circle cx="133.5" cy="443.6" r="2.3"/>
<circle cx="139.4" cy="438.8" r="2.3"/>
<circle cx="140.2" cy="443.6" r="2.3"/>
<circle cx="153.8" cy="436.1" r="2.3"/>
<circle cx="157.5" cy="431.1" r="2.3"/>
<circle cx="142.5" cy="437.0" r="2.3"/>
<circle cx="150.4" cy="433.9" r="2.3"/>
<circle cx="133.4" cy="445.9" r="2.3"/>
<circle cx="144.3" cy="427.9" r="2.3"/>
<circle cx="145.0" cy="451.8" r="2.3"/>
<circle cx="138.8" cy="439.7" r="2.3"/>
<circle cx="154.0" cy="432.6" r="2.3"/>
<circle cx="147.6" cy="428.1" r="2.3"/>
<circle cx="139.5" cy="437.4" r="2.3"/>
<circle cx="147.7" cy="439.6" r="2.3"/>
<circle cx="143.5" cy="448.4" r="2.3"/>
<circle cx="174.6" cy="412.9" r="2.3"/>
<circle cx="133.7" cy="445.2" r="2.3"/>
<circle cx="155.8" cy="427.1" r="2.3"/>
<circle cx="131.3" cy="445.2" r="2.3"/>
<circle cx="131.5" cy="441.8" r="2.3"/>
<circle cx="131.1" cy="443.6" r="2.3"/>
<circle cx="181.4" cy="400.0" r="2.3"/>
<circle cx="187.1" cy="429.2" r="2.3"/>
<circle cx="138.9" cy="450.9" r="2.3"/>
<circle cx="140.4" cy="426.6" r="2.3"/>
<circle cx="134.2" cy="436.2" r="2.3"/>
<circle cx="154.8" cy="429.9" r="2.3"/>
<circle cx="134.9" cy="436.2" r="2.3"/>
<circle cx="141.2" cy="442.1" r="2.3"/>
<circle cx="156.6" cy="433.4" r="2.3"/>
<circle cx="141.3" cy="438.3" r="2.3"/>
<circle cx="134.1" cy="443.6" r="2.3"/>
<circle cx="132.2" cy="451.9" r="2.3"/>
<circle cx="152.1" cy="431.9" r="2.3"/>
<circle cx="133.2" cy="449.4" r="2.3"/>
<circle cx="142.2" cy="449.1" r="2.3"/>
<circle cx="175.8" cy="409.0" r="2.3"/>
<circle cx="132.9" cy="435.7" r="2.3"/>
<circle cx="133.9" cy="451.4" r="2.3"/>
<circle cx="147.5" cy="437.1" r="2.3"/>
<circle cx="152.2" cy="440.2" r="2.3"/>
<circle cx="146.6" cy="434.7" r="2.3"/>
<circle cx="164.8" cy="425.1" r="2.3"/>
<circle cx="138.1" cy="434.2" r="2.3"/>
<circle cx="131.1" cy="451.5" r="2.3"/>
<circle cx="139.4" cy="440.3" r="2.3"/>
<circle cx="135.1" cy="451.3" r="2.3"/>
<circle cx="147.0" cy="440.2" r="2.3"/>
<circle cx="154.3" cy="418.8" r="2.3"/>
<circle cx="136.1" cy="439.3" r="2.3"/>
<circle cx="150.0" cy="432.5" r="2.3"/>
<circle cx="134.6" cy="449.7" r="2.3"/>
<circle cx="132.9" cy="433.0" r="2.3"/>
<circle cx="144.3" cy="434.2" r="2.3"/>
<circle cx="150.2" cy="433.4" r="2.3"/>
<circle cx="132.9" cy="448.8" r="2.3"/>
<circle cx="152.9" cy="428.7" r="2.3"/>
<circle cx="154.4" cy="435.7" r="2.3"/>
<circle cx="152.6" cy="428.3" r="2.3"/>
<circle cx="141.7" cy="436.6" r="2.3"/>
<circle cx="139.9" cy="447.6" r="2.3"/>
<circle cx="146.3" cy="444.0" r="2.3"/>
<circle cx="153.0" cy="407.8" r="2.3"/>
<circle cx="174.0" cy="438.5" r="2.3"/>
<circle cx="154.3" cy="428.2" r="2.3"/>
<circle cx="139.2" cy="438.0" r="2.3"/>
<circle cx="154.1" cy="437.0" r="2.3"/>
<circle cx="136.2" cy="449.0" r="2.3"/>
<circle cx="194.2" cy="399.5" r="2.3"/>
<circle cx="139.1" cy="435.7" r="2.3"/>
<circle cx="172.0" cy="409.9" r="2.3"/>
<circle cx="139.5" cy="449.3" r="2.3"/>
<circle cx="156.7" cy="438.2" r="2.3"/>
<circle cx="137.5" cy="438.4" r="2.3"/>
<circle cx="135.7" cy="451.5" r="2.3"/>
<circle cx="140.5" cy="437.6" r="2.3"/>
<circle cx="161.9" cy="412.6" r="2.3"/>
<circle cx="163.6" cy="415.9" r="2.3"/>
<circle cx="183.2" cy="394.8" r="2.3"/>
<circle cx="137.8" cy="434.8" r="2.3"/>
<circle cx="155.7" cy="430.9" r="2.3"/>
<circle cx="135.2" cy="435.0" r="2.3"/>
<circle cx="143.6" cy="449.2" r="2.3"/>
<circle cx="171.2" cy="424.3" r="2.3"/>
<circle cx="155.4" cy="422.7" r="2.3"/>
<circle cx="142.6" cy="442.3" r="2.3"/>
<circle cx="176.2" cy="410.8" r="2.3"/>
<circle cx="149.3" cy="435.4" r="2.3"/>
<circle cx="151.8" cy="444.0" r="2.3"/>
<circle cx="135.2" cy="450.1" r="2.3"/>
<circle cx="137.2" cy="447.0" r="2.3"/>
<circle cx="132.7" cy="449.1" r="2.3"/>
<circle cx="141.8" cy="440.0" r="2.3"/>
<circle cx="158.2" cy="436.0" r="2.3"/>
<circle cx="140.7" cy="434.3" r="2.3"/>
<circle cx="139.1" cy="445.9" r="2.3"/>
<circle cx="164.4" cy="410.8" r="2.3"/>
<circle cx="138.0" cy="431.7" r="2.3"/>
<circle cx="136.8" cy="446.5" r="2.3"/>
<circle cx="132.3" cy="444.7" r="2.3"/>
<circle cx="143.6" cy="439.8" r="2.3"/>
<circle cx="192.6" cy="412.1" r="2.3"/>
<circle cx="184.5" cy="370.6" r="2.3"/>
<circle cx="144.0" cy="447.6" r="2.3"/>
<circle cx="137.5" cy="448.0" r="2.3"/>
<circle cx="151.4" cy="418.8" r="2.3"/>
<circle cx="138.9" cy="449.4" r="2.3"/>
<circle cx="146.9" cy="433.2" r="2.3"/>
<circle cx="144.9" cy="450.2" r="2.3"/>
<circle cx="136.3" cy="434.8" r="2.3"/>
<circle cx="143.4" cy="437.4" r="2.3"/>
<circle cx="136.7" cy="434.8" r="2.3"/>
<circle cx="150.8" cy="436.6" r="2.3"/>
<circle cx="131.7" cy="451.4" r="2.3"/>
<circle cx="133.8" cy="447.1" r="2.3"/>
<circle cx="141.7" cy="435.5" r="2.3"/>
<circle cx="136.0" cy="434.9" r="2.3"/>
<circle cx="133.1" cy="441.0" r="2.3"/>
<circle cx="136.0" cy="442.5" r="2.3"/>
<circle cx="137.7" cy="451.5" r="2.3"/>
<circle cx="156.0" cy="442.2" r="2.3"/>
<circle cx="139.2" cy="432.4" r="2.3"/>
<circle cx="133.3" cy="432.8" r="2.3"/>
<circle cx="150.1" cy="421.8" r="2.3"/>
<circle cx="149.8" cy="425.7" r="2.3"/>
<circle cx="147.5" cy="422.7" r="2.3"/>
<circle cx="136.0" cy="435.3" r="2.3"/>
<circle cx="135.8" cy="436.7" r="2.3"/>
<circle cx="152.3" cy="432.5" r="2.3"/>
<circle cx="131.8" cy="441.9" r="2.3"/>
<circle cx="178.5" cy="393.7" r="2.3"/>
<circle cx="153.5" cy="437.9" r="2.3"/>
<circle cx="134.1" cy="450.4" r="2.3"/>
<circle cx="143.2" cy="433.6" r="2.3"/>
<circle cx="137.7" cy="450.8" r="2.3"/>
<circle cx="131.7" cy="447.8" r="2.3"/>
<circle cx="149.2" cy="427.3" r="2.3"/>
<circle cx="158.3" cy="413.8" r="2.3"/>
<circle cx="173.9" cy="397.6" r="2.3"/>
<circle cx="151.4" cy="432.8" r="2.3"/>
<circle cx="140.1" cy="442.1" r="2.3"/>
<circle cx="188.5" cy="377.4" r="2.3"/>
<circle cx="148.1" cy="421.8" r="2.3"/>
<circle cx="158.8" cy="416.5" r="2.3"/>
<circle cx="141.3" cy="444.0" r="2.3"/>
<circle cx="154.0" cy="425.2" r="2.3"/>
<circle cx="131.5" cy="449.3" r="2.3"/>
<circle cx="175.1" cy="427.4" r="2.3"/>
<circle cx="141.3" cy="444.5" r="2.3"/>
<circle cx="133.9" cy="445.3" r="2.3"/>
<circle cx="131.5" cy="451.0" r="2.3"/>
<circle cx="147.0" cy="445.4" r="2.3"/>
<circle cx="169.1" cy="423.8" r="2.3"/>
<circle cx="170.2" cy="426.1" r="2.3"/>
<circle cx="132.0" cy="449.2" r="2.3"/>
<circle cx="134.5" cy="448.9" r="2.3"/>
<circle cx="154.2" cy="439.0" r="2.3"/>
<circle cx="137.5" cy="450.4" r="2.3"/>
<circle cx="134.3" cy="439.0" r="2.3"/>
<circle cx="159.9" cy="420.6" r="2.3"/>
<circle cx="132.1" cy="441.4" r="2.3"/>
<circle cx="137.7" cy="448.9" r="2.3"/>
<circle cx="133.7" cy="452.0" r="2.3"/>
<circle cx="150.2" cy="410.0" r="2.3"/>
<circle cx="140.0" cy="427.2" r="2.3"/>
<circle cx="200.7" cy="370.6" r="2.3"/>
<circle cx="132.2" cy="448.4" r="2.3"/>
<circle cx="172.4" cy="431.9" r="2.3"/>
<circle cx="185.7" cy="417.4" r="2.3"/>
<circle cx="176.2" cy="405.3" r="2.3"/>
<circle cx="172.1" cy="416.4" r="2.3"/>
<circle cx="143.3" cy="420.2" r="2.3"/>
<circle cx="144.3" cy="449.7" r="2.3"/>
<circle cx="172.5" cy="435.8" r="2.3"/>
<circle cx="146.9" cy="440.7" r="2.3"/>
<circle cx="137.5" cy="441.2" r="2.3"/>
<circle cx="154.3" cy="429.8" r="2.3"/>
<circle cx="171.8" cy="408.8" r="2.3"/>
<circle cx="175.9" cy="398.6" r="2.3"/>
<circle cx="136.0" cy="442.1" r="2.3"/>
<circle cx="137.6" cy="434.9" r="2.3"/>
<circle cx="131.3" cy="447.9" r="2.3"/>
<circle cx="157.9" cy="429.1" r="2.3"/>
<circle cx="141.7" cy="440.2" r="2.3"/>
<circle cx="134.6" cy="441.3" r="2.3"/>
<circle cx="143.7" cy="429.5" r="2.3"/>
<circle cx="140.3" cy="445.4" r="2.3"/>
<circle cx="137.6" cy="446.6" r="2.3"/>
<circle cx="150.3" cy="428.2" r="2.3"/>
<circle cx="143.9" cy="447.5" r="2.3"/>
<circle cx="145.3" cy="432.5" r="2.3"/>
<circle cx="146.2" cy="431.4" r="2.3"/>
<circle cx="168.0" cy="410.7" r="2.3"/>
<circle cx="136.5" cy="451.9" r="2.3"/>
<circle cx="160.9" cy="422.9" r="2.3"/>
<circle cx="144.9" cy="435.6" r="2.3"/>
<circle cx="148.5" cy="429.7" r="2.3"/>
<circle cx="146.1" cy="436.2" r="2.3"/>
<circle cx="167.2" cy="426.9" r="2.3"/>
<circle cx="132.1" cy="439.6" r="2.3"/>
<circle cx="153.6" cy="407.6" r="2.3"/>
<circle cx="132.3" cy="448.8" r="2.3"/>
<circle cx="153.1" cy="438.1" r="2.3"/>
<circle cx="133.1" cy="451.8" r="2.3"/>
<circle cx="135.9" cy="442.4" r="2.3"/>
<circle cx="134.6" cy="446.3" r="2.3"/>
<circle cx="168.3" cy="412.7" r="2.3"/>
<circle cx="138.3" cy="432.4" r="2.3"/>
<circle cx="133.1" cy="449.1" r="2.3"/>
<circle cx="180.7" cy="418.7" r="2.3"/>
<circle cx="138.9" cy="449.4" r="2.3"/>
<circle cx="139.8" cy="426.6" r="2.3"/>
<circle cx="141.4" cy="435.6" r="2.3"/>
<circle cx="142.2" cy="437.1" r="2.3"/>
<circle cx="143.7" cy="442.7" r="2.3"/>
<circle cx="157.7" cy="409.4" r="2.3"/>
<circle cx="133.7" cy="448.9" r="2.3"/>
<circle cx="166.4" cy="400.6" r="2.3"/>
<circle cx="138.6" cy="434.6" r="2.3"/>
<circle cx="136.9" cy="440.1" r="2.3"/>
<circle cx="142.4" cy="441.7" r="2.3"/>
<circle cx="144.4" cy="440.7" r="2.3"/>
<circle cx="131.3" cy="448.7" r="2.3"/>
<circle cx="137.9" cy="450.8" r="2.3"/>
<circle cx="158.8" cy="434.3" r="2.3"/>
<circle cx="134.9" cy="451.7" r="2.3"/>
<circle cx="131.8" cy="450.5" r="2.3"/>
<circle cx="180.2" cy="408.6" r="2.3"/>
<circle cx="131.1" cy="450.8" r="2.3"/>
<circle cx="135.0" cy="440.9" r="2.3"/>
<circle cx="139.6" cy="446.9" r="2.3"/>
<circle cx="194.2" cy="391.7" r="2.3"/>
<circle cx="154.5" cy="438.6" r="2.3"/>
<circle cx="143.6" cy="426.5" r="2.3"/>
<circle cx="143.5" cy="433.7" r="2.3"/>
<circle cx="149.4" cy="423.9" r="2.3"/>
<circle cx="140.9" cy="436.2" r="2.3"/>
<circle cx="168.6" cy="431.9" r="2.3"/>
<circle cx="170.3" cy="425.0" r="2.3"/>
<circle cx="146.7" cy="449.8" r="2.3"/>
<circle cx="172.2" cy="415.2" r="2.3"/>
<circle cx="136.3" cy="439.7" r="2.3"/>
<circle cx="160.4" cy="415.1" r="2.3"/>
<circle cx="145.6" cy="435.9" r="2.3"/>
<circle cx="149.4" cy="421.5" r="2.3"/>
<circle cx="133.7" cy="439.8" r="2.3"/>
<circle cx="158.6" cy="434.5" r="2.3"/>
<circle cx="197.1" cy="404.4" r="2.3"/>
<circle cx="147.5" cy="429.0" r="2.3"/>
<circle cx="134.4" cy="451.1" r="2.3"/>
<circle cx="206.1" cy="379.3" r="2.3"/>
<circle cx="168.3" cy="401.3" r="2.3"/>
<circle cx="163.5" cy="415.5" r="2.3"/>
<circle cx="140.9" cy="441.7" r="2.3"/>
<circle cx="171.7" cy="416.1" r="2.3"/>
<circle cx="176.6" cy="396.8" r="2.3"/>
<circle cx="133.8" cy="448.0" r="2.3"/>
<circle cx="140.5" cy="449.8" r="2.3"/>
<circle cx="133.7" cy="447.0" r="2.3"/>
<circle cx="133.2" cy="438.2" r="2.3"/>
<circle cx="147.8" cy="432.2" r="2.3"/>
<circle cx="188.1" cy="406.2" r="2.3"/>
<circle cx="142.1" cy="438.4" r="2.3"/>
<circle cx="174.3" cy="413.5" r="2.3"/>
<circle cx="143.1" cy="451.8" r="2.3"/>
<circle cx="145.8" cy="434.7" r="2.3"/>
<circle cx="135.6" cy="441.8" r="2.3"/>
<circle cx="155.1" cy="416.8" r="2.3"/>
<circle cx="132.5" cy="444.8" r="2.3"/>
<circle cx="133.7" cy="438.0" r="2.3"/>
<circle cx="136.4" cy="449.7" r="2.3"/>
<circle cx="132.0" cy="445.0" r="2.3"/>
<circle cx="204.2" cy="365.7" r="2.3"/>
<circle cx="158.3" cy="413.8" r="2.3"/>
<circle cx="144.8" cy="418.0" r="2.3"/>
<circle cx="139.3" cy="451.4" r="2.3"/>
<circle cx="142.9" cy="436.3" r="2.3"/>
<circle cx="131.0" cy="439.2" r="2.3"/>
<circle cx="134.8" cy="446.4" r="2.3"/>
<circle cx="152.5" cy="417.8" r="2.3"/>
<circle cx="134.5" cy="448.3" r="2.3"/>
<circle cx="132.3" cy="450.0" r="2.3"/>
<circle cx="139.6" cy="448.1" r="2.3"/>
<circle cx="137.2" cy="446.3" r="2.3"/>
<circle cx="150.4" cy="436.2" r="2.3"/>
<circle cx="138.9" cy="438.0" r="2.3"/>
<circle cx="147.7" cy="430.1" r="2.3"/>
<circle cx="135.2" cy="450.4" r="2.3"/>
<circle cx="133.5" cy="451.6" r="2.3"/>
<circle cx="136.9" cy="442.0" r="2.3"/>
<circle cx="143.4" cy="431.8" r="2.3"/>
<circle cx="133.8" cy="445.1" r="2.3"/>
<circle cx="164.7" cy="414.1" r="2.3"/>
<circle cx="136.4" cy="446.6" r="2.3"/>
<circle cx="157.1" cy="414.9" r="2.3"/>
<circle cx="131.3" cy="450.7" r="2.3"/>
<circle cx="131.0" cy="450.8" r="2.3"/>
<circle cx="137.8" cy="439.7" r="2.3"/>
<circle cx="133.7" cy="444.5" r="2.3"/>
<circle cx="134.5" cy="448.5" r="2.3"/>
<circle cx="206.9" cy="389.0" r="2.3"/>
<circle cx="186.2" cy="425.6" r="2.3"/>
<circle cx="160.3" cy="422.4" r="2.3"/>
<circle cx="140.6" cy="437.9" r="2.3"/>
<circle cx="139.0" cy="431.3" r="2.3"/>
<circle cx="134.3" cy="446.8" r="2.3"/>
<circle cx="177.2" cy="409.4" r="2.3"/>
<circle cx="171.2" cy="433.0" r="2.3"/>
<circle cx="152.4" cy="441.2" r="2.3"/>
<circle cx="167.5" cy="420.3" r="2.3"/>
<circle cx="145.5" cy="432.7" r="2.3"/>
<circle cx="136.5" cy="447.5" r="2.3"/>
<circle cx="138.4" cy="422.4" r="2.3"/>
<circle cx="149.9" cy="431.8" r="2.3"/>
<circle cx="135.4" cy="444.2" r="2.3"/>
<circle cx="139.0" cy="448.1" r="2.3"/>
<circle cx="132.9" cy="448.9" r="2.3"/>
<circle cx="200.1" cy="371.5" r="2.3"/>
<circle cx="151.1" cy="411.9" r="2.3"/>
<circle cx="133.7" cy="439.3" r="2.3"/>
<circle cx="193.5" cy="369.2" r="2.3"/>
<circle cx="143.7" cy="424.8" r="2.3"/>
<circle cx="168.0" cy="427.7" r="2.3"/>
<circle cx="155.6" cy="431.4" r="2.3"/>
<circle cx="143.2" cy="439.7" r="2.3"/>
<circle cx="163.6" cy="428.2" r="2.3"/>
<circle cx="167.3" cy="423.6" r="2.3"/>
<circle cx="133.8" cy="440.1" r="2.3"/>
<circle cx="166.7" cy="447.5" r="2.3"/>
<circle cx="193.7" cy="383.7" r="2.3"/>
<circle cx="138.5" cy="444.5" r="2.3"/>
<circle cx="186.8" cy="381.4" r="2.3"/>
<circle cx="169.5" cy="415.4" r="2.3"/>
<circle cx="140.7" cy="443.8" r="2.3"/>
<circle cx="164.7" cy="425.5" r="2.3"/>
<circle cx="142.1" cy="434.6" r="2.3"/>
<circle cx="174.1" cy="420.6" r="2.3"/>
<circle cx="131.6" cy="449.2" r="2.3"/>
<circle cx="150.8" cy="441.4" r="2.3"/>
<circle cx="132.6" cy="447.7" r="2.3"/>
<circle cx="153.9" cy="432.3" r="2.3"/>
<circle cx="136.0" cy="438.5" r="2.3"/>
<circle cx="133.8" cy="450.6" r="2.3"/>
<circle cx="143.7" cy="442.3" r="2.3"/>
<circle cx="134.0" cy="449.7" r="2.3"/>
<circle cx="149.1" cy="421.8" r="2.3"/>
<circle cx="142.2" cy="434.6" r="2.3"/>
<circle cx="145.0" cy="441.7" r="2.3"/>
<circle cx="132.5" cy="439.4" r="2.3"/>
<circle cx="173.9" cy="402.2" r="2.3"/>
<circle cx="161.2" cy="416.9" r="2.3"/>
<circle cx="184.0" cy="412.1" r="2.3"/>
<circle cx="160.8" cy="429.8" r="2.3"/>
<circle cx="136.7" cy="448.6" r="2.3"/>
<circle cx="145.5" cy="443.0" r="2.3"/>
<circle cx="130.9" cy="451.2" r="2.3"/>
<circle cx="137.6" cy="435.8" r="2.3"/>
<circle cx="136.8" cy="448.0" r="2.3"/>
<circle cx="154.3" cy="432.8" r="2.3"/>
<circle cx="146.4" cy="421.2" r="2.3"/>
<circle cx="137.4" cy="436.0" r="2.3"/>
<circle cx="148.3" cy="434.5" r="2.3"/>
<circle cx="145.1" cy="441.8" r="2.3"/>
<circle cx="134.7" cy="442.1" r="2.3"/>
<circle cx="133.6" cy="440.6" r="2.3"/>
<circle cx="175.2" cy="398.6" r="2.3"/>
<circle cx="170.4" cy="409.9" r="2.3"/>
<circle cx="141.6" cy="430.1" r="2.3"/>
<circle cx="132.7" cy="443.0" r="2.3"/>
<circle cx="134.5" cy="441.4" r="2.3"/>
<circle cx="132.8" cy="429.1" r="2.3"/>
<circle cx="135.2" cy="451.4" r="2.3"/>
<circle cx="161.7" cy="415.2" r="2.3"/>
<circle cx="185.2" cy="400.2" r="2.3"/>
<circle cx="150.2" cy="412.8" r="2.3"/>
<circle cx="172.8" cy="423.3" r="2.3"/>
<circle cx="166.2" cy="432.2" r="2.3"/>
<circle cx="155.6" cy="420.7" r="2.3"/>
<circle cx="139.5" cy="432.9" r="2.3"/>
<circle cx="170.6" cy="429.0" r="2.3"/>
<circle cx="138.3" cy="447.0" r="2.3"/>
<circle cx="171.2" cy="439.1" r="2.3"/>
<circle cx="158.4" cy="415.0" r="2.3"/>
<circle cx="134.5" cy="445.3" r="2.3"/>
<circle cx="177.2" cy="426.7" r="2.3"/>
<circle cx="135.8" cy="450.4" r="2.3"/>
<circle cx="170.0" cy="387.8" r="2.3"/>
<circle cx="150.5" cy="432.8" r="2.3"/>
<circle cx="152.3" cy="438.5" r="2.3"/>
<circle cx="135.9" cy="452.0" r="2.3"/>
<circle cx="180.2" cy="394.6" r="2.3"/>
<circle cx="136.1" cy="431.3" r="2.3"/>
<circle cx="146.5" cy="438.9" r="2.3"/>
<circle cx="138.0" cy="445.8" r="2.3"/>
<circle cx="148.5" cy="450.2" r="2.3"/>
<circle cx="134.8" cy="450.2" r="2.3"/>
<circle cx="142.2" cy="437.2" r="2.3"/>
<circle cx="131.5" cy="449.3" r="2.3"/>
<circle cx="143.9" cy="440.1" r="2.3"/>
<circle cx="150.7" cy="429.6" r="2.3"/>
<circle cx="132.0" cy="445.6" r="2.3"/>
<circle cx="131.6" cy="444.4" r="2.3"/>
<circle cx="137.8" cy="448.4" r="2.3"/>
<circle cx="150.7" cy="419.2" r="2.3"/>
<circle cx="152.1" cy="432.3" r="2.3"/>
<circle cx="138.9" cy="444.3" r="2.3"/>
<circle cx="142.7" cy="441.6" r="2.3"/>
<circle cx="156.5" cy="436.5" r="2.3"/>
<circle cx="137.2" cy="439.6" r="2.3"/>
<circle cx="145.2" cy="431.0" r="2.3"/>
<circle cx="144.3" cy="437.4" r="2.3"/>
<circle cx="151.2" cy="442.6" r="2.3"/>
<circle cx="164.6" cy="424.5" r="2.3"/>
<circle cx="139.1" cy="445.2" r="2.3"/>
<circle cx="174.3" cy="407.0" r="2.3"/>
<circle cx="178.4" cy="393.5" r="2.3"/>
<circle cx="139.6" cy="428.0" r="2.3"/>
<circle cx="151.3" cy="434.7" r="2.3"/>
<circle cx="137.7" cy="436.4" r="2.3"/>
<circle cx="140.4" cy="436.5" r="2.3"/>
<circle cx="153.1" cy="426.1" r="2.3"/>
<circle cx="152.1" cy="424.9" r="2.3"/>
<circle cx="140.8" cy="450.3" r="2.3"/>
<circle cx="131.6" cy="443.1" r="2.3"/>
<circle cx="135.1" cy="452.0" r="2.3"/>
<circle cx="158.9" cy="430.4" r="2.3"/>
<circle cx="132.7" cy="447.9" r="2.3"/>
<circle cx="143.7" cy="443.2" r="2.3"/>
<circle cx="159.9" cy="452.0" r="2.3"/>
<circle cx="136.6" cy="449.5" r="2.3"/>
<circle cx="146.1" cy="450.2" r="2.3"/>
<circle cx="151.1" cy="443.7" r="2.3"/>
<circle cx="135.5" cy="440.5" r="2.3"/>
<circle cx="142.2" cy="441.8" r="2.3"/>
<circle cx="187.2" cy="390.3" r="2.3"/>
<circle cx="135.9" cy="451.4" r="2.3"/>
<circle cx="157.0" cy="448.7" r="2.3"/>
<circle cx="143.9" cy="445.5" r="2.3"/>
<circle cx="165.5" cy="414.5" r="2.3"/>
<circle cx="163.9" cy="426.4" r="2.3"/>
<circle cx="150.8" cy="444.6" r="2.3"/>
<circle cx="145.4" cy="429.7" r="2.3"/>
<circle cx="195.4" cy="409.4" r="2.3"/>
<circle cx="163.0" cy="419.2" r="2.3"/>
<circle cx="141.3" cy="441.9" r="2.3"/>
<circle cx="136.1" cy="434.2" r="2.3"/>
<circle cx="135.7" cy="449.4" r="2.3"/>
<circle cx="172.7" cy="422.9" r="2.3"/>
<circle cx="139.0" cy="444.8" r="2.3"/>
<circle cx="204.9" cy="394.3" r="2.3"/>
<circle cx="132.9" cy="443.1" r="2.3"/>
<circle cx="144.9" cy="439.7" r="2.3"/>
<circle cx="133.8" cy="449.8" r="2.3"/>
<circle cx="144.9" cy="443.4" r="2.3"/>
<circle cx="168.1" cy="422.7" r="2.3"/>
<circle cx="145.8" cy="451.8" r="2.3"/>
<circle cx="132.1" cy="451.1" r="2.3"/>
<circle cx="140.9" cy="436.6" r="2.3"/>
<circle cx="140.1" cy="436.3" r="2.3"/>
<circle cx="145.6" cy="436.9" r="2.3"/>
<circle cx="137.0" cy="432.5" r="2.3"/>
<circle cx="143.5" cy="423.9" r="2.3"/>
<circle cx="170.9" cy="397.4" r="2.3"/>
<circle cx="142.0" cy="431.4" r="2.3"/>
<circle cx="174.8" cy="435.0" r="2.3"/>
<circle cx="134.8" cy="440.5" r="2.3"/>
<circle cx="144.4" cy="430.6" r="2.3"/>
<circle cx="141.8" cy="437.8" r="2.3"/>
<circle cx="136.2" cy="451.3" r="2.3"/>
<circle cx="143.4" cy="436.3" r="2.3"/>
<circle cx="150.5" cy="438.0" r="2.3"/>
<circle cx="134.6" cy="444.3" r="2.3"/>
<circle cx="138.8" cy="446.5" r="2.3"/>
<circle cx="141.4" cy="436.8" r="2.3"/>
<circle cx="144.6" cy="430.6" r="2.3"/>
<circle cx="142.3" cy="432.5" r="2.3"/>
<circle cx="187.0" cy="392.1" r="2.3"/>
<circle cx="146.9" cy="436.5" r="2.3"/>
<circle cx="173.0" cy="439.4" r="2.3"/>
<circle cx="138.1" cy="442.1" r="2.3"/>
<circle cx="183.9" cy="433.0" r="2.3"/>
<circle cx="146.4" cy="434.7" r="2.3"/>
<circle cx="152.1" cy="414.0" r="2.3"/>
<circle cx="195.8" cy="367.0" r="2.3"/>
<circle cx="152.8" cy="418.1" r="2.3"/>
<circle cx="141.2" cy="437.6" r="2.3"/>
<circle cx="142.5" cy="451.5" r="2.3"/>
<circle cx="140.4" cy="435.2" r="2.3"/>
<circle cx="134.9" cy="448.8" r="2.3"/>
<circle cx="152.0" cy="421.0" r="2.3"/>
<circle cx="139.7" cy="443.8" r="2.3"/>
<circle cx="145.6" cy="425.7" r="2.3"/>
<circle cx="144.0" cy="444.5" r="2.3"/>
<circle cx="141.8" cy="443.5" r="2.3"/>
<circle cx="132.5" cy="446.8" r="2.3"/>
<circle cx="143.6" cy="423.8" r="2.3"/>
<circle cx="136.1" cy="443.1" r="2.3"/>
<circle cx="153.7" cy="415.6" r="2.3"/>
<circle cx="164.7" cy="431.7" r="2.3"/>
<circle cx="134.4" cy="449.7" r="2.3"/>
<circle cx="131.3" cy="451.2" r="2.3"/>
<circle cx="152.4" cy="422.4" r="2.3"/>
<circle cx="135.1" cy="449.3" r="2.3"/>
<circle cx="131.2" cy="449.5" r="2.3"/>
<circle cx="154.2" cy="438.9" r="2.3"/>
<circle cx="166.4" cy="418.1" r="2.3"/>
<circle cx="150.9" cy="451.1" r="2.3"/>
<circle cx="151.6" cy="426.3" r="2.3"/>
<circle cx="136.1" cy="434.2" r="2.3"/>
<circle cx="141.6" cy="441.0" r="2.3"/>
<circle cx="144.2" cy="441.1" r="2.3"/>
<circle cx="156.6" cy="403.4" r="2.3"/>
<circle cx="162.8" cy="435.1" r="2.3"/>
<circle cx="172.5" cy="417.2" r="2.3"/>
<circle cx="142.0" cy="445.0" r="2.3"/>
<circle cx="139.5" cy="434.9" r="2.3"/>
<circle cx="132.1" cy="448.9" r="2.3"/>
<circle cx="133.8" cy="445.2" r="2.3"/>
<circle cx="142.0" cy="440.5" r="2.3"/>
<circle cx="149.7" cy="420.4" r="2.3"/>
<circle cx="167.9" cy="412.1" r="2.3"/>
<circle cx="164.9" cy="417.9" r="2.3"/>
<circle cx="145.9" cy="442.5" r="2.3"/>
<circle cx="142.2" cy="431.4" r="2.3"/>
<circle cx="185.5" cy="401.6" r="2.3"/>
<circle cx="161.1" cy="407.3" r="2.3"/>
<circle cx="160.0" cy="412.8" r="2.3"/>
<circle cx="181.5" cy="411.3" r="2.3"/>
<circle cx="141.9" cy="437.3" r="2.3"/>
<circle cx="146.5" cy="447.2" r="2.3"/>
<circle cx="137.8" cy="430.9" r="2.3"/>
<circle cx="169.7" cy="413.5" r="2.3"/>
<circle cx="172.0" cy="403.4" r="2.3"/>
<circle cx="134.2" cy="442.3" r="2.3"/>
<circle cx="177.4" cy="402.0" r="2.3"/>
<circle cx="161.8" cy="415.3" r="2.3"/>
<circle cx="141.9" cy="433.1" r="2.3"/>
<circle cx="131.1" cy="437.2" r="2.3"/>
<circle cx="131.1" cy="437.9" r="2.3"/>
<circle cx="131.0" cy="448.1" r="2.3"/>
<circle cx="146.2" cy="434.4" r="2.3"/>
<circle cx="135.0" cy="449.0" r="2.3"/>
<circle cx="137.8" cy="435.9" r="2.3"/>
<circle cx="146.2" cy="439.2" r="2.3"/>
<circle cx="153.6" cy="441.6" r="2.3"/>
<circle cx="136.6" cy="433.7" r="2.3"/>
<circle cx="139.5" cy="429.1" r="2.3"/>
<circle cx="144.7" cy="423.4" r="2.3"/>
<circle cx="174.8" cy="389.2" r="2.3"/>
<circle cx="146.8" cy="436.6" r="2.3"/>
<circle cx="140.2" cy="439.8" r="2.3"/>
<circle cx="157.9" cy="418.9" r="2.3"/>
<circle cx="170.1" cy="427.9" r="2.3"/>
<circle cx="146.4" cy="428.6" r="2.3"/>
<circle cx="153.2" cy="431.8" r="2.3"/>
<circle cx="131.5" cy="442.4" r="2.3"/>
<circle cx="131.1" cy="448.3" r="2.3"/>
<circle cx="192.2" cy="387.2" r="2.3"/>
<circle cx="156.8" cy="431.2" r="2.3"/>
<circle cx="143.7" cy="432.6" r="2.3"/>
<circle cx="132.9" cy="451.7" r="2.3"/>
<circle cx="139.4" cy="448.8" r="2.3"/>
<circle cx="141.5" cy="441.1" r="2.3"/>
<circle cx="139.4" cy="433.6" r="2.3"/>
<circle cx="165.8" cy="439.8" r="2.3"/>
<circle cx="137.2" cy="439.4" r="2.3"/>
<circle cx="161.8" cy="451.8" r="2.3"/>
<circle cx="158.5" cy="397.9" r="2.3"/>
<circle cx="167.0" cy="437.8" r="2.3"/>
<circle cx="147.1" cy="432.2" r="2.3"/>
<circle cx="146.2" cy="436.3" r="2.3"/>
<circle cx="152.3" cy="445.5" r="2.3"/>
<circle cx="132.8" cy="451.4" r="2.3"/>
<circle cx="157.1" cy="428.4" r="2.3"/>
<circle cx="159.9" cy="429.8" r="2.3"/>
<circle cx="155.7" cy="418.9" r="2.3"/>
<circle cx="133.4" cy="447.8" r="2.3"/>
<circle cx="165.6" cy="405.9" r="2.3"/>
<circle cx="202.4" cy="380.2" r="2.3"/>
<circle cx="131.5" cy="445.4" r="2.3"/>
<circle cx="138.4" cy="433.1" r="2.3"/>
<circle cx="131.9" cy="450.1" r="2.3"/>
<circle cx="140.1" cy="443.3" r="2.3"/>
<circle cx="156.7" cy="428.0" r="2.3"/>
<circle cx="133.9" cy="439.3" r="2.3"/>
<circle cx="146.0" cy="416.6" r="2.3"/>
<circle cx="137.6" cy="431.0" r="2.3"/>
<circle cx="187.5" cy="422.9" r="2.3"/>
<circle cx="134.5" cy="441.8" r="2.3"/>
<circle cx="143.8" cy="439.4" r="2.3"/>
<circle cx="146.5" cy="435.7" r="2.3"/>
<circle cx="147.0" cy="415.8" r="2.3"/>
<circle cx="131.6" cy="449.4" r="2.3"/>
<circle cx="173.9" cy="399.3" r="2.3"/>
<circle cx="136.2" cy="442.6" r="2.3"/>
<circle cx="134.3" cy="439.5" r="2.3"/>
<circle cx="131.1" cy="452.0" r="2.3"/>
<circle cx="135.9" cy="445.4" r="2.3"/>
<circle cx="171.7" cy="414.2" r="2.3"/>
<circle cx="139.4" cy="449.6" r="2.3"/>
<circle cx="145.6" cy="434.1" r="2.3"/>
<circle cx="149.6" cy="447.6" r="2.3"/>
<circle cx="174.1" cy="412.3" r="2.3"/>
<circle cx="167.4" cy="439.5" r="2.3"/>
<circle cx="174.9" cy="442.4" r="2.3"/>
<circle cx="141.5" cy="432.7" r="2.3"/>
<circle cx="142.5" cy="429.8" r="2.3"/>
<circle cx="148.7" cy="448.4" r="2.3"/>
<circle cx="138.5" cy="429.9" r="2.3"/>
<circle cx="168.5" cy="397.0" r="2.3"/>
<circle cx="132.2" cy="450.3" r="2.3"/>
<circle cx="137.8" cy="436.9" r="2.3"/>
<circle cx="138.7" cy="438.4" r="2.3"/>
<circle cx="154.5" cy="425.8" r="2.3"/>
<circle cx="139.6" cy="447.1" r="2.3"/>
<circle cx="150.8" cy="422.9" r="2.3"/>
<circle cx="159.8" cy="403.3" r="2.3"/>
<circle cx="141.7" cy="443.2" r="2.3"/>
<circle cx="144.2" cy="428.8" r="2.3"/>
<circle cx="163.7" cy="414.0" r="2.3"/>
<circle cx="156.4" cy="414.0" r="2.3"/>
<circle cx="136.1" cy="441.8" r="2.3"/>
<circle cx="144.8" cy="441.1" r="2.3"/>
<circle cx="131.8" cy="451.9" r="2.3"/>
<circle cx="132.9" cy="444.7" r="2.3"/>
<circle cx="158.6" cy="416.1" r="2.3"/>
<circle cx="140.4" cy="439.5" r="2.3"/>
<circle cx="131.5" cy="450.0" r="2.3"/>
<circle cx="155.3" cy="432.2" r="2.3"/>
<circle cx="140.9" cy="429.3" r="2.3"/>
<circle cx="167.1" cy="390.2" r="2.3"/>
<circle cx="179.4" cy="432.0" r="2.3"/>
<circle cx="177.8" cy="404.2" r="2.3"/>
<circle cx="147.6" cy="428.5" r="2.3"/>
<circle cx="150.8" cy="426.2" r="2.3"/>
<circle cx="137.0" cy="439.2" r="2.3"/>
<circle cx="139.9" cy="438.9" r="2.3"/>
<circle cx="147.7" cy="442.8" r="2.3"/>
<circle cx="137.7" cy="445.1" r="2.3"/>
<circle cx="152.9" cy="434.9" r="2.3"/>
<circle cx="138.7" cy="434.5" r="2.3"/>
<circle cx="137.4" cy="436.7" r="2.3"/>
<circle cx="148.1" cy="436.1" r="2.3"/>
<circle cx="132.5" cy="447.5" r="2.3"/>
<circle cx="135.8" cy="442.9" r="2.3"/>
<circle cx="161.7" cy="415.9" r="2.3"/>
<circle cx="136.4" cy="445.6" r="2.3"/>
<circle cx="133.0" cy="438.9" r="2.3"/>
<circle cx="145.3" cy="438.7" r="2.3"/>
<circle cx="132.4" cy="438.1" r="2.3"/>
<circle cx="159.3" cy="426.1" r="2.3"/>
<circle cx="145.5" cy="436.5" r="2.3"/>
<circle cx="156.9" cy="412.8" r="2.3"/>
<circle cx="133.9" cy="446.0" r="2.3"/>
<circle cx="153.9" cy="416.8" r="2.3"/>
<circle cx="147.6" cy="422.9" r="2.3"/>
<circle cx="160.6" cy="418.6" r="2.3"/>
<circle cx="185.6" cy="399.8" r="2.3"/>
<circle cx="169.3" cy="412.6" r="2.3"/>
<circle cx="131.3" cy="451.3" r="2.3"/>
<circle cx="134.3" cy="443.9" r="2.3"/>
<circle cx="180.1" cy="388.6" r="2.3"/>
<circle cx="147.6" cy="446.4" r="2.3"/>
<circle cx="140.9" cy="425.8" r="2.3"/>
<circle cx="155.0" cy="433.9" r="2.3"/>
<circle cx="159.8" cy="421.3" r="2.3"/>
<circle cx="195.8" cy="420.0" r="2.3"/>
<circle cx="137.4" cy="440.5" r="2.3"/>
<circle cx="139.6" cy="417.5" r="2.3"/>
<circle cx="167.9" cy="417.2" r="2.3"/>
<circle cx="152.5" cy="422.8" r="2.3"/>
<circle cx="146.4" cy="442.9" r="2.3"/>
<circle cx="131.6" cy="445.1" r="2.3"/>
<circle cx="187.4" cy="381.1" r="2.3"/>
<circle cx="133.6" cy="450.1" r="2.3"/>
<circle cx="140.7" cy="438.0" r="2.3"/>
<circle cx="134.2" cy="442.5" r="2.3"/>
<circle cx="133.7" cy="439.7" r="2.3"/>
<circle cx="155.1" cy="402.1" r="2.3"/>
<circle cx="133.6" cy="450.4" r="2.3"/>
<circle cx="135.5" cy="445.4" r="2.3"/>
<circle cx="162.1" cy="416.9" r="2.3"/>
<circle cx="134.7" cy="436.8" r="2.3"/>
<circle cx="139.1" cy="442.1" r="2.3"/>
<circle cx="167.9" cy="422.5" r="2.3"/>
<circle cx="131.3" cy="448.8" r="2.3"/>
<circle cx="153.1" cy="424.1" r="2.3"/>
<circle cx="180.9" cy="398.2" r="2.3"/>
<circle cx="138.7" cy="444.3" r="2.3"/>
<circle cx="132.0" cy="448.4" r="2.3"/>
<circle cx="136.6" cy="436.1" r="2.3"/>
<circle cx="136.7" cy="443.9" r="2.3"/>
<circle cx="133.5" cy="450.8" r="2.3"/>
<circle cx="134.7" cy="435.9" r="2.3"/>
<circle cx="153.5" cy="431.4" r="2.3"/>
<circle cx="131.9" cy="443.1" r="2.3"/>
<circle cx="172.9" cy="400.7" r="2.3"/>
<circle cx="149.7" cy="431.5" r="2.3"/>
<circle cx="192.0" cy="392.5" r="2.3"/>
<circle cx="131.5" cy="444.5" r="2.3"/>
<circle cx="134.4" cy="451.6" r="2.3"/>
<circle cx="163.7" cy="446.2" r="2.3"/>
<circle cx="164.9" cy="423.6" r="2.3"/>
<circle cx="153.8" cy="419.6" r="2.3"/>
<circle cx="132.6" cy="450.1" r="2.3"/>
<circle cx="174.3" cy="416.1" r="2.3"/>
<circle cx="161.1" cy="400.8" r="2.3"/>
<circle cx="143.9" cy="439.8" r="2.3"/>
<circle cx="131.5" cy="450.2" r="2.3"/>
<circle cx="131.2" cy="451.4" r="2.3"/>
<circle cx="137.2" cy="445.2" r="2.3"/>
<circle cx="148.3" cy="414.6" r="2.3"/>
<circle cx="139.9" cy="447.8" r="2.3"/>
<circle cx="138.1" cy="442.6" r="2.3"/>
<circle cx="173.3" cy="415.3" r="2.3"/>
<circle cx="154.8" cy="430.8" r="2.3"/>
<circle cx="138.9" cy="448.3" r="2.3"/>
<circle cx="135.2" cy="451.2" r="2.3"/>
<circle cx="148.1" cy="442.8" r="2.3"/>
<circle cx="145.7" cy="425.2" r="2.3"/>
<circle cx="139.3" cy="451.3" r="2.3"/>
<circle cx="132.4" cy="451.4" r="2.3"/>
<circle cx="133.4" cy="439.1" r="2.3"/>
<circle cx="148.8" cy="449.7" r="2.3"/>
<circle cx="137.6" cy="438.8" r="2.3"/>
<circle cx="144.0" cy="442.0" r="2.3"/>
<circle cx="157.2" cy="425.4" r="2.3"/>
<circle cx="142.8" cy="443.8" r="2.3"/>
<circle cx="168.0" cy="425.9" r="2.3"/>
<circle cx="145.2" cy="430.8" r="2.3"/>
<circle cx="277.9" cy="232.6" r="2.3"/>
<circle cx="278.4" cy="250.5" r="2.3"/>
<circle cx="248.5" cy="290.8" r="2.3"/>
<circle cx="285.8" cy="312.7" r="2.3"/>
<circle cx="316.9" cy="328.1" r="2.3"/>
<circle cx="304.4" cy="338.3" r="2.3"/>
<circle cx="322.6" cy="343.5" r="2.3"/>
<circle cx="217.3" cy="329.8" r="2.3"/>
<circle cx="242.5" cy="334.4" r="2.3"/>
<circle cx="230.5" cy="336.6" r="2.3"/>
<circle cx="263.0" cy="323.8" r="2.3"/>
<circle cx="267.3" cy="326.7" r="2.3"/>
<circle cx="192.0" cy="348.1" r="2.3"/>
<circle cx="225.9" cy="342.1" r="2.3"/>
<circle cx="266.4" cy="353.2" r="2.3"/>
<circle cx="276.7" cy="355.8" r="2.3"/>
<circle cx="282.3" cy="352.4" r="2.3"/>
<circle cx="273.3" cy="341.2" r="2.3"/>
<circle cx="235.1" cy="353.2" r="2.3"/>
<circle cx="224.8" cy="349.8" r="2.3"/>
<circle cx="218.5" cy="356.6" r="2.3"/>
<circle cx="227.9" cy="357.5" r="2.3"/>
<circle cx="204.0" cy="356.6" r="2.3"/>
<circle cx="198.8" cy="361.8" r="2.3"/>
<circle cx="206.5" cy="365.2" r="2.3"/>
<circle cx="215.1" cy="368.6" r="2.3"/>
<circle cx="252.7" cy="362.6" r="2.3"/>
<circle cx="238.2" cy="380.6" r="2.3"/>
<circle cx="235.6" cy="375.5" r="2.3"/>
<circle cx="247.6" cy="389.2" r="2.3"/>
<circle cx="229.6" cy="394.3" r="2.3"/>
<circle cx="225.4" cy="407.1" r="2.3"/>
<circle cx="231.3" cy="407.1" r="2.3"/>
<circle cx="242.5" cy="408.8" r="2.3"/>
<circle cx="221.0" cy="389.2" r="2.3"/>
<circle cx="213.4" cy="399.4" r="2.3"/>
<circle cx="373.3" cy="213.8" r="2.3"/>
</g>
<g fill="#F8766D" fill-opacity="0.45" stroke="#F8766D" stroke-opacity="0.35" stroke-width="1">
<circle cx="433.4" cy="411.8" r="2.3"/>
<circle cx="438.1" cy="416.4" r="2.3"/>
<circle cx="427.4" cy="432.4" r="2.3"/>
<circle cx="455.8" cy="389.7" r="2.3"/>
<circle cx="418.9" cy="441.6" r="2.3"/>
<circle cx="426.2" cy="438.4" r="2.3"/>
<circle cx="455.5" cy="367.8" r="2.3"/>
<circle cx="424.6" cy="426.0" r="2.3"/>
<circle cx="421.1" cy="444.2" r="2.3"/>
<circle cx="421.3" cy="440.9" r="2.3"/>
<circle cx="419.5" cy="435.9" r="2.3"/>
<circle cx="424.3" cy="434.6" r="2.3"/>
<circle cx="458.5" cy="362.0" r="2.3"/>
<circle cx="421.7" cy="444.4" r="2.3"/>
<circle cx="424.3" cy="444.5" r="2.3"/>
<circle cx="419.8" cy="450.9" r="2.3"/>
<circle cx="424.8" cy="444.3" r="2.3"/>
<circle cx="419.0" cy="447.8" r="2.3"/>
<circle cx="428.5" cy="424.0" r="2.3"/>
<circle cx="427.6" cy="439.6" r="2.3"/>
<circle cx="421.6" cy="443.7" r="2.3"/>
<circle cx="418.9" cy="451.1" r="2.3"/>
<circle cx="431.7" cy="432.5" r="2.3"/>
<circle cx="422.7" cy="449.9" r="2.3"/>
<circle cx="425.4" cy="432.2" r="2.3"/>
<circle cx="424.7" cy="439.9" r="2.3"/>
<circle cx="441.9" cy="397.6" r="2.3"/>
<circle cx="421.8" cy="448.5" r="2.3"/>
<circle cx="423.0" cy="431.1" r="2.3"/>
<circle cx="471.6" cy="359.0" r="2.3"/>
<circle cx="436.0" cy="429.4" r="2.3"/>
<circle cx="434.3" cy="439.8" r="2.3"/>
<circle cx="446.8" cy="397.3" r="2.3"/>
<circle cx="423.9" cy="445.6" r="2.3"/>
<circle cx="457.7" cy="407.2" r="2.3"/>
<circle cx="429.0" cy="429.8" r="2.3"/>
<circle cx="438.2" cy="439.0" r="2.3"/>
<circle cx="424.7" cy="442.6" r="2.3"/>
<circle cx="445.1" cy="407.9" r="2.3"/>
<circle cx="453.5" cy="410.3" r="2.3"/>
<circle cx="420.4" cy="445.6" r="2.3"/>
<circle cx="427.2" cy="427.2" r="2.3"/>
<circle cx="454.6" cy="394.2" r="2.3"/>
<circle cx="432.5" cy="429.2" r="2.3"/>
<circle cx="458.8" cy="393.2" r="2.3"/>
<circle cx="473.1" cy="368.0" r="2.3"/>
<circle cx="428.9" cy="413.7" r="2.3"/>
<circle cx="427.5" cy="435.6" r="2.3"/>
<circle cx="425.4" cy="433.5" r="2.3"/>
<circle cx="420.8" cy="451.5" r="2.3"/>
<circle cx="421.9" cy="450.9" r="2.3"/>
<circle cx="431.5" cy="427.2" r="2.3"/>
<circle cx="423.9" cy="444.6" r="2.3"/>
<circle cx="419.3" cy="442.6" r="2.3"/>
<circle cx="421.1" cy="444.9" r="2.3"/>
<circle cx="426.5" cy="423.6" r="2.3"/>
<circle cx="446.1" cy="377.8" r="2.3"/>
<circle cx="431.5" cy="443.6" r="2.3"/>
<circle cx="419.6" cy="448.5" r="2.3"/>
<circle cx="421.0" cy="442.9" r="2.3"/>
<circle cx="449.9" cy="423.9" r="2.3"/>
<circle cx="436.6" cy="424.1" r="2.3"/>
<circle cx="424.4" cy="439.0" r="2.3"/>
<circle cx="422.9" cy="435.9" r="2.3"/>
<circle cx="426.9" cy="441.9" r="2.3"/>
<circle cx="425.1" cy="446.2" r="2.3"/>
<circle cx="419.4" cy="442.5" r="2.3"/>
<circle cx="428.5" cy="442.9" r="2.3"/>
<circle cx="418.9" cy="447.9" r="2.3"/>
<circle cx="425.5" cy="428.5" r="2.3"/>
<circle cx="435.2" cy="432.8" r="2.3"/>
<circle cx="459.9" cy="410.8" r="2.3"/>
<circle cx="418.6" cy="451.2" r="2.3"/>
<circle cx="419.1" cy="446.2" r="2.3"/>
<circle cx="433.4" cy="431.5" r="2.3"/>
<circle cx="423.2" cy="434.2" r="2.3"/>
<circle cx="430.8" cy="417.9" r="2.3"/>
<circle cx="422.0" cy="450.5" r="2.3"/>
<circle cx="419.3" cy="448.9" r="2.3"/>
<circle cx="462.8" cy="385.2" r="2.3"/>
<circle cx="440.7" cy="437.5" r="2.3"/>
<circle cx="434.0" cy="432.2" r="2.3"/>
<circle cx="424.6" cy="443.3" r="2.3"/>
<circle cx="442.4" cy="419.2" r="2.3"/>
<circle cx="431.3" cy="435.6" r="2.3"/>
<circle cx="439.1" cy="445.0" r="2.3"/>
<circle cx="424.7" cy="451.0" r="2.3"/>
<circle cx="434.0" cy="422.6" r="2.3"/>
<circle cx="423.9" cy="448.5" r="2.3"/>
<circle cx="443.6" cy="415.9" r="2.3"/>
<circle cx="418.4" cy="448.3" r="2.3"/>
<circle cx="419.2" cy="447.2" r="2.3"/>
<circle cx="432.1" cy="449.3" r="2.3"/>
<circle cx="424.8" cy="435.1" r="2.3"/>
<circle cx="419.8" cy="451.1" r="2.3"/>
<circle cx="421.7" cy="447.0" r="2.3"/>
<circle cx="421.1" cy="437.5" r="2.3"/>
<circle cx="424.2" cy="443.7" r="2.3"/>
<circle cx="463.9" cy="334.8" r="2.3"/>
<circle cx="423.8" cy="442.1" r="2.3"/>
<circle cx="421.9" cy="444.0" r="2.3"/>
<circle cx="439.8" cy="431.5" r="2.3"/>
<circle cx="420.3" cy="448.6" r="2.3"/>
<circle cx="430.4" cy="437.7" r="2.3"/>
<circle cx="448.5" cy="408.6" r="2.3"/>
<circle cx="439.5" cy="423.6" r="2.3"/>
<circle cx="448.6" cy="400.7" r="2.3"/>
<circle cx="434.6" cy="418.8" r="2.3"/>
<circle cx="435.8" cy="440.3" r="2.3"/>
<circle cx="424.0" cy="450.9" r="2.3"/>
<circle cx="421.1" cy="441.5" r="2.3"/>
<circle cx="420.5" cy="435.0" r="2.3"/>
<circle cx="421.0" cy="447.5" r="2.3"/>
<circle cx="420.0" cy="446.9" r="2.3"/>
<circle cx="419.4" cy="450.1" r="2.3"/>
<circle cx="418.7" cy="449.7" r="2.3"/>
<circle cx="441.6" cy="413.2" r="2.3"/>
<circle cx="419.7" cy="443.3" r="2.3"/>
<circle cx="424.9" cy="442.1" r="2.3"/>
<circle cx="418.7" cy="446.2" r="2.3"/>
<circle cx="421.7" cy="449.3" r="2.3"/>
<circle cx="429.4" cy="429.5" r="2.3"/>
<circle cx="436.6" cy="430.4" r="2.3"/>
<circle cx="429.9" cy="449.7" r="2.3"/>
<circle cx="435.9" cy="428.1" r="2.3"/>
<circle cx="432.6" cy="430.3" r="2.3"/>
<circle cx="429.4" cy="448.1" r="2.3"/>
<circle cx="430.4" cy="429.3" r="2.3"/>
<circle cx="431.3" cy="423.0" r="2.3"/>
<circle cx="435.2" cy="433.2" r="2.3"/>
<circle cx="420.7" cy="447.8" r="2.3"/>
<circle cx="418.9" cy="444.8" r="2.3"/>
<circle cx="420.6" cy="443.0" r="2.3"/>
<circle cx="419.5" cy="449.2" r="2.3"/>
<circle cx="439.3" cy="423.6" r="2.3"/>
<circle cx="433.8" cy="441.8" r="2.3"/>
<circle cx="422.1" cy="447.9" r="2.3"/>
<circle cx="456.2" cy="363.4" r="2.3"/>
<circle cx="438.6" cy="417.6" r="2.3"/>
<circle cx="452.7" cy="410.4" r="2.3"/>
<circle cx="465.0" cy="373.3" r="2.3"/>
<circle cx="422.3" cy="442.2" r="2.3"/>
<circle cx="433.5" cy="423.4" r="2.3"/>
<circle cx="430.0" cy="441.8" r="2.3"/>
<circle cx="438.6" cy="426.2" r="2.3"/>
<circle cx="427.6" cy="431.7" r="2.3"/>
<circle cx="423.5" cy="443.2" r="2.3"/>
<circle cx="425.7" cy="450.7" r="2.3"/>
<circle cx="418.5" cy="448.3" r="2.3"/>
<circle cx="439.7" cy="423.8" r="2.3"/>
<circle cx="437.4" cy="448.1" r="2.3"/>
<circle cx="420.3" cy="438.7" r="2.3"/>
<circle cx="418.9" cy="449.4" r="2.3"/>
<circle cx="427.1" cy="446.4" r="2.3"/>
<circle cx="420.6" cy="447.4" r="2.3"/>
<circle cx="428.6" cy="441.9" r="2.3"/>
<circle cx="474.4" cy="344.1" r="2.3"/>
<circle cx="420.0" cy="449.6" r="2.3"/>
<circle cx="436.0" cy="409.6" r="2.3"/>
<circle cx="432.1" cy="427.9" r="2.3"/>
<circle cx="424.9" cy="437.7" r="2.3"/>
<circle cx="449.5" cy="448.4" r="2.3"/>
<circle cx="428.3" cy="445.9" r="2.3"/>
<circle cx="424.1" cy="444.2" r="2.3"/>
<circle cx="432.4" cy="446.5" r="2.3"/>
<circle cx="451.3" cy="436.4" r="2.3"/>
<circle cx="425.2" cy="448.2" r="2.3"/>
<circle cx="418.5" cy="449.8" r="2.3"/>
<circle cx="427.3" cy="443.7" r="2.3"/>
<circle cx="442.4" cy="407.2" r="2.3"/>
<circle cx="427.7" cy="446.3" r="2.3"/>
<circle cx="433.3" cy="428.4" r="2.3"/>
<circle cx="432.8" cy="420.5" r="2.3"/>
<circle cx="420.1" cy="442.8" r="2.3"/>
<circle cx="429.8" cy="440.4" r="2.3"/>
<circle cx="420.0" cy="441.3" r="2.3"/>
<circle cx="446.0" cy="421.9" r="2.3"/>
<circle cx="455.4" cy="412.8" r="2.3"/>
<circle cx="428.9" cy="442.8" r="2.3"/>
<circle cx="443.5" cy="417.0" r="2.3"/>
<circle cx="422.9" cy="439.9" r="2.3"/>
<circle cx="418.8" cy="451.5" r="2.3"/>
<circle cx="428.2" cy="431.0" r="2.3"/>
<circle cx="422.6" cy="447.9" r="2.3"/>
<circle cx="424.5" cy="442.4" r="2.3"/>
<circle cx="467.7" cy="375.7" r="2.3"/>
<circle cx="427.0" cy="423.9" r="2.3"/>
<circle cx="427.4" cy="437.3" r="2.3"/>
<circle cx="421.6" cy="446.6" r="2.3"/>
<circle cx="418.5" cy="450.7" r="2.3"/>
<circle cx="419.6" cy="443.2" r="2.3"/>
<circle cx="445.1" cy="403.7" r="2.3"/>
<circle cx="422.9" cy="431.5" r="2.3"/>
<circle cx="419.2" cy="444.6" r="2.3"/>
<circle cx="442.1" cy="403.7" r="2.3"/>
<circle cx="419.1" cy="448.2" r="2.3"/>
<circle cx="424.2" cy="439.4" r="2.3"/>
<circle cx="421.7" cy="448.9" r="2.3"/>
<circle cx="421.2" cy="451.2" r="2.3"/>
<circle cx="419.6" cy="449.8" r="2.3"/>
<circle cx="430.5" cy="446.6" r="2.3"/>
<circle cx="420.4" cy="448.0" r="2.3"/>
<circle cx="431.9" cy="432.0" r="2.3"/>
<circle cx="424.4" cy="450.0" r="2.3"/>
<circle cx="439.3" cy="416.4" r="2.3"/>
<circle cx="430.4" cy="441.4" r="2.3"/>
<circle cx="432.3" cy="432.6" r="2.3"/>
<circle cx="425.4" cy="426.1" r="2.3"/>
<circle cx="423.4" cy="441.5" r="2.3"/>
<circle cx="426.0" cy="440.6" r="2.3"/>
<circle cx="442.1" cy="424.0" r="2.3"/>
<circle cx="421.8" cy="449.8" r="2.3"/>
<circle cx="418.5" cy="450.1" r="2.3"/>
<circle cx="438.3" cy="423.0" r="2.3"/>
<circle cx="426.1" cy="427.1" r="2.3"/>
<circle cx="441.3" cy="418.6" r="2.3"/>
<circle cx="473.5" cy="354.3" r="2.3"/>
<circle cx="425.7" cy="448.3" r="2.3"/>
<circle cx="437.1" cy="399.5" r="2.3"/>
<circle cx="424.0" cy="425.6" r="2.3"/>
<circle cx="426.0" cy="441.4" r="2.3"/>
<circle cx="420.7" cy="448.3" r="2.3"/>
<circle cx="458.3" cy="386.2" r="2.3"/>
<circle cx="426.6" cy="452.0" r="2.3"/>
<circle cx="431.7" cy="429.4" r="2.3"/>
<circle cx="419.3" cy="449.2" r="2.3"/>
<circle cx="419.7" cy="451.3" r="2.3"/>
<circle cx="424.9" cy="451.3" r="2.3"/>
<circle cx="419.3" cy="448.8" r="2.3"/>
<circle cx="430.1" cy="439.5" r="2.3"/>
<circle cx="434.9" cy="429.2" r="2.3"/>
<circle cx="421.9" cy="441.8" r="2.3"/>
<circle cx="425.1" cy="443.4" r="2.3"/>
<circle cx="439.6" cy="422.2" r="2.3"/>
<circle cx="430.9" cy="422.0" r="2.3"/>
<circle cx="423.5" cy="449.0" r="2.3"/>
<circle cx="425.4" cy="418.8" r="2.3"/>
<circle cx="428.2" cy="438.1" r="2.3"/>
<circle cx="422.7" cy="448.6" r="2.3"/>
<circle cx="424.5" cy="416.5" r="2.3"/>
<circle cx="436.7" cy="405.7" r="2.3"/>
<circle cx="421.0" cy="439.9" r="2.3"/>
<circle cx="422.6" cy="437.5" r="2.3"/>
<circle cx="431.6" cy="433.7" r="2.3"/>
<circle cx="432.2" cy="411.2" r="2.3"/>
<circle cx="433.2" cy="433.1" r="2.3"/>
<circle cx="450.7" cy="410.2" r="2.3"/>
<circle cx="436.1" cy="427.2" r="2.3"/>
<circle cx="432.6" cy="425.8" r="2.3"/>
<circle cx="464.8" cy="366.4" r="2.3"/>
<circle cx="462.8" cy="387.9" r="2.3"/>
<circle cx="424.4" cy="433.5" r="2.3"/>
<circle cx="422.8" cy="437.4" r="2.3"/>
<circle cx="463.7" cy="392.8" r="2.3"/>
<circle cx="442.6" cy="413.7" r="2.3"/>
<circle cx="448.3" cy="407.5" r="2.3"/>
<circle cx="422.8" cy="435.2" r="2.3"/>
<circle cx="427.1" cy="423.3" r="2.3"/>
<circle cx="440.5" cy="433.9" r="2.3"/>
<circle cx="422.4" cy="445.4" r="2.3"/>
<circle cx="439.6" cy="424.9" r="2.3"/>
<circle cx="419.3" cy="448.7" r="2.3"/>
<circle cx="420.7" cy="450.5" r="2.3"/>
<circle cx="424.0" cy="438.7" r="2.3"/>
<circle cx="421.2" cy="446.7" r="2.3"/>
<circle cx="429.2" cy="438.8" r="2.3"/>
<circle cx="432.8" cy="436.4" r="2.3"/>
<circle cx="420.3" cy="443.0" r="2.3"/>
<circle cx="432.3" cy="442.4" r="2.3"/>
<circle cx="420.0" cy="444.4" r="2.3"/>
<circle cx="438.8" cy="430.8" r="2.3"/>
<circle cx="424.1" cy="428.1" r="2.3"/>
<circle cx="457.4" cy="403.4" r="2.3"/>
<circle cx="421.4" cy="426.7" r="2.3"/>
<circle cx="426.4" cy="447.7" r="2.3"/>
<circle cx="424.3" cy="443.8" r="2.3"/>
<circle cx="429.3" cy="429.0" r="2.3"/>
<circle cx="424.6" cy="445.1" r="2.3"/>
<circle cx="425.4" cy="434.7" r="2.3"/>
<circle cx="463.3" cy="390.8" r="2.3"/>
<circle cx="422.6" cy="437.4" r="2.3"/>
<circle cx="428.2" cy="428.5" r="2.3"/>
<circle cx="435.6" cy="417.8" r="2.3"/>
<circle cx="433.0" cy="418.3" r="2.3"/>
<circle cx="427.3" cy="444.0" r="2.3"/>
<circle cx="451.5" cy="383.0" r="2.3"/>
<circle cx="421.1" cy="447.5" r="2.3"/>
<circle cx="464.0" cy="356.4" r="2.3"/>
<circle cx="419.0" cy="447.5" r="2.3"/>
<circle cx="422.2" cy="443.7" r="2.3"/>
<circle cx="441.6" cy="406.0" r="2.3"/>
<circle cx="441.9" cy="411.7" r="2.3"/>
<circle cx="450.2" cy="431.1" r="2.3"/>
<circle cx="428.5" cy="430.2" r="2.3"/>
<circle cx="419.6" cy="448.0" r="2.3"/>
<circle cx="424.6" cy="445.5" r="2.3"/>
<circle cx="426.2" cy="435.0" r="2.3"/>
<circle cx="422.5" cy="438.5" r="2.3"/>
<circle cx="429.2" cy="450.7" r="2.3"/>
<circle cx="429.3" cy="434.9" r="2.3"/>
<circle cx="469.6" cy="369.7" r="2.3"/>
<circle cx="424.6" cy="434.2" r="2.3"/>
<circle cx="429.8" cy="425.8" r="2.3"/>
<circle cx="429.2" cy="424.0" r="2.3"/>
<circle cx="421.2" cy="448.8" r="2.3"/>
<circle cx="421.9" cy="447.4" r="2.3"/>
<circle cx="446.1" cy="418.0" r="2.3"/>
<circle cx="419.0" cy="450.2" r="2.3"/>
<circle cx="431.0" cy="428.3" r="2.3"/>
<circle cx="419.9" cy="452.1" r="2.3"/>
<circle cx="429.6" cy="441.7" r="2.3"/>
<circle cx="421.5" cy="447.7" r="2.3"/>
<circle cx="422.4" cy="430.9" r="2.3"/>
<circle cx="418.4" cy="450.7" r="2.3"/>
<circle cx="419.3" cy="450.3" r="2.3"/>
<circle cx="418.6" cy="448.9" r="2.3"/>
<circle cx="419.2" cy="451.4" r="2.3"/>
<circle cx="419.9" cy="435.9" r="2.3"/>
<circle cx="422.8" cy="443.1" r="2.3"/>
<circle cx="422.3" cy="443.8" r="2.3"/>
<circle cx="447.2" cy="402.8" r="2.3"/>
<circle cx="420.1" cy="441.8" r="2.3"/>
<circle cx="420.5" cy="447.8" r="2.3"/>
<circle cx="423.9" cy="440.2" r="2.3"/>
<circle cx="435.9" cy="446.0" r="2.3"/>
<circle cx="425.0" cy="431.2" r="2.3"/>
<circle cx="448.7" cy="421.8" r="2.3"/>
<circle cx="429.2" cy="408.0" r="2.3"/>
<circle cx="423.3" cy="445.9" r="2.3"/>
<circle cx="428.7" cy="440.4" r="2.3"/>
<circle cx="433.0" cy="435.2" r="2.3"/>
<circle cx="448.9" cy="385.1" r="2.3"/>
<circle cx="422.4" cy="451.1" r="2.3"/>
<circle cx="426.5" cy="443.0" r="2.3"/>
<circle cx="421.6" cy="444.8" r="2.3"/>
<circle cx="420.6" cy="443.6" r="2.3"/>
<circle cx="423.1" cy="450.9" r="2.3"/>
<circle cx="421.0" cy="442.8" r="2.3"/>
<circle cx="427.2" cy="432.9" r="2.3"/>
<circle cx="425.0" cy="442.2" r="2.3"/>
<circle cx="421.8" cy="438.7" r="2.3"/>
<circle cx="427.8" cy="430.4" r="2.3"/>
<circle cx="438.3" cy="428.9" r="2.3"/>
<circle cx="419.4" cy="444.2" r="2.3"/>
<circle cx="425.8" cy="438.6" r="2.3"/>
<circle cx="441.6" cy="421.8" r="2.3"/>
<circle cx="430.9" cy="426.6" r="2.3"/>
<circle cx="433.1" cy="434.8" r="2.3"/>
<circle cx="425.2" cy="429.9" r="2.3"/>
<circle cx="420.7" cy="446.8" r="2.3"/>
<circle cx="443.8" cy="404.4" r="2.3"/>
<circle cx="422.4" cy="448.0" r="2.3"/>
<circle cx="423.1" cy="442.1" r="2.3"/>
<circle cx="426.1" cy="439.4" r="2.3"/>
<circle cx="426.7" cy="439.9" r="2.3"/>
<circle cx="441.9" cy="429.7" r="2.3"/>
<circle cx="430.2" cy="428.0" r="2.3"/>
<circle cx="449.1" cy="409.9" r="2.3"/>
<circle cx="442.5" cy="405.4" r="2.3"/>
<circle cx="433.6" cy="418.7" r="2.3"/>
<circle cx="428.9" cy="441.3" r="2.3"/>
<circle cx="445.5" cy="424.0" r="2.3"/>
<circle cx="447.5" cy="403.6" r="2.3"/>
<circle cx="446.4" cy="390.0" r="2.3"/>
<circle cx="426.2" cy="417.2" r="2.3"/>
<circle cx="424.2" cy="440.0" r="2.3"/>
<circle cx="426.1" cy="448.4" r="2.3"/>
<circle cx="440.4" cy="426.2" r="2.3"/>
<circle cx="425.4" cy="438.8" r="2.3"/>
<circle cx="422.7" cy="442.5" r="2.3"/>
<circle cx="422.8" cy="449.4" r="2.3"/>
<circle cx="418.7" cy="440.1" r="2.3"/>
<circle cx="443.7" cy="416.2" r="2.3"/>
<circle cx="431.7" cy="436.3" r="2.3"/>
<circle cx="420.2" cy="451.5" r="2.3"/>
<circle cx="420.1" cy="447.2" r="2.3"/>
<circle cx="419.4" cy="451.5" r="2.3"/>
<circle cx="423.4" cy="439.4" r="2.3"/>
<circle cx="421.8" cy="434.2" r="2.3"/>
<circle cx="424.6" cy="437.8" r="2.3"/>
<circle cx="429.6" cy="420.0" r="2.3"/>
<circle cx="420.5" cy="448.8" r="2.3"/>
<circle cx="439.4" cy="402.3" r="2.3"/>
<circle cx="455.0" cy="383.5" r="2.3"/>
<circle cx="423.7" cy="449.1" r="2.3"/>
<circle cx="430.3" cy="422.1" r="2.3"/>
<circle cx="436.4" cy="431.5" r="2.3"/>
<circle cx="421.0" cy="449.6" r="2.3"/>
<circle cx="419.4" cy="449.5" r="2.3"/>
<circle cx="429.2" cy="429.0" r="2.3"/>
<circle cx="421.6" cy="446.7" r="2.3"/>
<circle cx="419.7" cy="446.0" r="2.3"/>
<circle cx="442.0" cy="400.7" r="2.3"/>
<circle cx="424.1" cy="446.3" r="2.3"/>
<circle cx="422.3" cy="440.3" r="2.3"/>
<circle cx="437.4" cy="409.3" r="2.3"/>
<circle cx="426.4" cy="430.1" r="2.3"/>
<circle cx="428.0" cy="421.5" r="2.3"/>
<circle cx="439.8" cy="423.9" r="2.3"/>
<circle cx="429.6" cy="432.6" r="2.3"/>
<circle cx="437.2" cy="421.2" r="2.3"/>
<circle cx="421.2" cy="441.9" r="2.3"/>
<circle cx="424.2" cy="432.5" r="2.3"/>
<circle cx="435.7" cy="431.5" r="2.3"/>
<circle cx="469.2" cy="340.5" r="2.3"/>
<circle cx="443.8" cy="409.8" r="2.3"/>
<circle cx="440.3" cy="411.1" r="2.3"/>
<circle cx="424.0" cy="425.1" r="2.3"/>
<circle cx="420.4" cy="446.4" r="2.3"/>
<circle cx="418.5" cy="441.6" r="2.3"/>
<circle cx="437.9" cy="419.8" r="2.3"/>
<circle cx="419.6" cy="449.2" r="2.3"/>
<circle cx="451.8" cy="392.0" r="2.3"/>
<circle cx="438.2" cy="411.0" r="2.3"/>
<circle cx="425.9" cy="438.6" r="2.3"/>
<circle cx="425.3" cy="437.5" r="2.3"/>
<circle cx="439.3" cy="420.6" r="2.3"/>
<circle cx="440.7" cy="416.2" r="2.3"/>
<circle cx="430.5" cy="420.6" r="2.3"/>
<circle cx="450.7" cy="415.3" r="2.3"/>
<circle cx="423.9" cy="439.4" r="2.3"/>
<circle cx="424.4" cy="431.0" r="2.3"/>
<circle cx="420.3" cy="450.6" r="2.3"/>
<circle cx="427.7" cy="444.3" r="2.3"/>
<circle cx="434.6" cy="414.8" r="2.3"/>
<circle cx="437.0" cy="447.2" r="2.3"/>
<circle cx="435.3" cy="433.2" r="2.3"/>
<circle cx="422.8" cy="444.4" r="2.3"/>
<circle cx="421.5" cy="444.4" r="2.3"/>
<circle cx="424.0" cy="438.9" r="2.3"/>
<circle cx="444.7" cy="385.4" r="2.3"/>
<circle cx="428.8" cy="443.6" r="2.3"/>
<circle cx="420.2" cy="446.8" r="2.3"/>
<circle cx="446.9" cy="407.0" r="2.3"/>
<circle cx="421.5" cy="442.4" r="2.3"/>
<circle cx="426.4" cy="438.6" r="2.3"/>
<circle cx="422.7" cy="448.1" r="2.3"/>
<circle cx="423.7" cy="437.4" r="2.3"/>
<circle cx="450.0" cy="413.3" r="2.3"/>
<circle cx="420.9" cy="450.4" r="2.3"/>
<circle cx="440.3" cy="432.8" r="2.3"/>
<circle cx="431.9" cy="437.8" r="2.3"/>
<circle cx="431.5" cy="438.8" r="2.3"/>
<circle cx="441.5" cy="429.2" r="2.3"/>
<circle cx="423.7" cy="433.8" r="2.3"/>
<circle cx="420.7" cy="450.9" r="2.3"/>
<circle cx="431.8" cy="436.6" r="2.3"/>
<circle cx="427.8" cy="447.7" r="2.3"/>
<circle cx="427.8" cy="424.2" r="2.3"/>
<circle cx="454.4" cy="409.4" r="2.3"/>
<circle cx="428.3" cy="435.6" r="2.3"/>
<circle cx="451.8" cy="378.6" r="2.3"/>
<circle cx="422.9" cy="436.1" r="2.3"/>
<circle cx="435.1" cy="409.2" r="2.3"/>
<circle cx="431.4" cy="437.4" r="2.3"/>
<circle cx="448.7" cy="403.9" r="2.3"/>
<circle cx="426.4" cy="437.0" r="2.3"/>
<circle cx="429.0" cy="428.6" r="2.3"/>
<circle cx="424.6" cy="438.4" r="2.3"/>
<circle cx="432.1" cy="420.5" r="2.3"/>
<circle cx="421.3" cy="449.1" r="2.3"/>
<circle cx="419.9" cy="440.9" r="2.3"/>
<circle cx="429.1" cy="437.8" r="2.3"/>
<circle cx="437.0" cy="429.1" r="2.3"/>
<circle cx="431.2" cy="425.1" r="2.3"/>
<circle cx="431.5" cy="443.9" r="2.3"/>
<circle cx="435.1" cy="436.8" r="2.3"/>
<circle cx="432.1" cy="439.8" r="2.3"/>
<circle cx="424.9" cy="451.3" r="2.3"/>
<circle cx="421.1" cy="441.6" r="2.3"/>
<circle cx="431.8" cy="446.1" r="2.3"/>
<circle cx="424.1" cy="447.6" r="2.3"/>
<circle cx="420.2" cy="450.6" r="2.3"/>
<circle cx="420.7" cy="442.5" r="2.3"/>
<circle cx="419.3" cy="446.6" r="2.3"/>
<circle cx="426.1" cy="441.6" r="2.3"/>
<circle cx="419.4" cy="450.4" r="2.3"/>
<circle cx="433.9" cy="430.7" r="2.3"/>
<circle cx="428.6" cy="436.3" r="2.3"/>
<circle cx="460.9" cy="395.6" r="2.3"/>
<circle cx="470.8" cy="380.9" r="2.3"/>
<circle cx="442.6" cy="409.7" r="2.3"/>
<circle cx="420.8" cy="446.7" r="2.3"/>
<circle cx="428.6" cy="451.8" r="2.3"/>
<circle cx="429.7" cy="431.1" r="2.3"/>
<circle cx="456.8" cy="416.5" r="2.3"/>
<circle cx="420.4" cy="450.8" r="2.3"/>
<circle cx="424.1" cy="445.6" r="2.3"/>
<circle cx="429.1" cy="432.8" r="2.3"/>
<circle cx="418.9" cy="443.6" r="2.3"/>
<circle cx="425.6" cy="447.9" r="2.3"/>
<circle cx="419.0" cy="442.1" r="2.3"/>
<circle cx="446.8" cy="421.3" r="2.3"/>
<circle cx="420.0" cy="450.2" r="2.3"/>
<circle cx="431.1" cy="435.9" r="2.3"/>
<circle cx="424.0" cy="442.1" r="2.3"/>
<circle cx="434.3" cy="417.8" r="2.3"/>
<circle cx="436.2" cy="428.1" r="2.3"/>
<circle cx="419.6" cy="447.2" r="2.3"/>
<circle cx="419.0" cy="443.7" r="2.3"/>
<circle cx="455.0" cy="390.9" r="2.3"/>
<circle cx="445.5" cy="421.6" r="2.3"/>
<circle cx="423.9" cy="450.4" r="2.3"/>
<circle cx="437.5" cy="408.5" r="2.3"/>
<circle cx="437.0" cy="419.8" r="2.3"/>
<circle cx="441.7" cy="402.1" r="2.3"/>
<circle cx="420.6" cy="448.8" r="2.3"/>
<circle cx="426.9" cy="447.7" r="2.3"/>
<circle cx="423.8" cy="447.0" r="2.3"/>
<circle cx="425.4" cy="434.3" r="2.3"/>
<circle cx="425.7" cy="428.5" r="2.3"/>
<circle cx="424.8" cy="435.4" r="2.3"/>
<circle cx="433.2" cy="413.0" r="2.3"/>
<circle cx="424.4" cy="446.0" r="2.3"/>
<circle cx="420.0" cy="451.4" r="2.3"/>
<circle cx="422.6" cy="437.6" r="2.3"/>
<circle cx="427.0" cy="441.8" r="2.3"/>
<circle cx="420.9" cy="445.2" r="2.3"/>
<circle cx="422.1" cy="446.7" r="2.3"/>
<circle cx="422.4" cy="448.9" r="2.3"/>
<circle cx="432.7" cy="414.7" r="2.3"/>
<circle cx="429.7" cy="450.0" r="2.3"/>
<circle cx="419.3" cy="450.2" r="2.3"/>
<circle cx="449.8" cy="393.8" r="2.3"/>
<circle cx="447.8" cy="426.6" r="2.3"/>
<circle cx="418.5" cy="446.3" r="2.3"/>
<circle cx="438.8" cy="446.4" r="2.3"/>
<circle cx="421.2" cy="445.8" r="2.3"/>
<circle cx="423.9" cy="443.6" r="2.3"/>
<circle cx="448.1" cy="400.9" r="2.3"/>
<circle cx="429.5" cy="433.1" r="2.3"/>
<circle cx="427.8" cy="426.5" r="2.3"/>
<circle cx="427.9" cy="435.8" r="2.3"/>
<circle cx="426.5" cy="445.2" r="2.3"/>
<circle cx="439.1" cy="415.3" r="2.3"/>
<circle cx="433.5" cy="439.1" r="2.3"/>
<circle cx="419.7" cy="450.7" r="2.3"/>
<circle cx="449.3" cy="400.7" r="2.3"/>
<circle cx="419.5" cy="449.5" r="2.3"/>
<circle cx="446.9" cy="407.7" r="2.3"/>
<circle cx="430.6" cy="427.5" r="2.3"/>
<circle cx="423.4" cy="441.7" r="2.3"/>
<circle cx="474.0" cy="367.8" r="2.3"/>
<circle cx="423.4" cy="451.1" r="2.3"/>
<circle cx="433.3" cy="446.0" r="2.3"/>
<circle cx="421.0" cy="447.8" r="2.3"/>
<circle cx="419.6" cy="449.8" r="2.3"/>
<circle cx="454.5" cy="417.2" r="2.3"/>
<circle cx="422.7" cy="443.0" r="2.3"/>
<circle cx="425.4" cy="433.8" r="2.3"/>
<circle cx="424.6" cy="437.6" r="2.3"/>
<circle cx="433.0" cy="437.3" r="2.3"/>
<circle cx="436.9" cy="413.8" r="2.3"/>
<circle cx="420.7" cy="449.6" r="2.3"/>
<circle cx="420.9" cy="449.9" r="2.3"/>
<circle cx="430.2" cy="415.5" r="2.3"/>
<circle cx="420.9" cy="434.1" r="2.3"/>
<circle cx="419.8" cy="449.7" r="2.3"/>
<circle cx="446.7" cy="415.2" r="2.3"/>
<circle cx="424.9" cy="434.7" r="2.3"/>
<circle cx="419.7" cy="450.6" r="2.3"/>
<circle cx="469.9" cy="400.0" r="2.3"/>
<circle cx="430.2" cy="440.9" r="2.3"/>
<circle cx="424.3" cy="432.7" r="2.3"/>
<circle cx="420.0" cy="440.6" r="2.3"/>
<circle cx="420.6" cy="441.3" r="2.3"/>
<circle cx="419.5" cy="446.1" r="2.3"/>
<circle cx="420.5" cy="449.1" r="2.3"/>
<circle cx="448.2" cy="374.4" r="2.3"/>
<circle cx="424.1" cy="439.4" r="2.3"/>
<circle cx="421.0" cy="439.3" r="2.3"/>
<circle cx="438.4" cy="428.6" r="2.3"/>
<circle cx="455.6" cy="386.4" r="2.3"/>
<circle cx="425.4" cy="435.5" r="2.3"/>
<circle cx="440.5" cy="415.3" r="2.3"/>
<circle cx="422.1" cy="438.0" r="2.3"/>
<circle cx="432.3" cy="427.6" r="2.3"/>
<circle cx="455.1" cy="412.2" r="2.3"/>
<circle cx="445.3" cy="402.7" r="2.3"/>
<circle cx="438.3" cy="425.2" r="2.3"/>
<circle cx="438.1" cy="429.0" r="2.3"/>
<circle cx="446.4" cy="385.2" r="2.3"/>
<circle cx="428.1" cy="424.0" r="2.3"/>
<circle cx="421.8" cy="444.5" r="2.3"/>
<circle cx="429.5" cy="440.7" r="2.3"/>
<circle cx="434.0" cy="429.0" r="2.3"/>
<circle cx="445.7" cy="412.3" r="2.3"/>
<circle cx="429.5" cy="429.3" r="2.3"/>
<circle cx="429.7" cy="447.8" r="2.3"/>
<circle cx="422.1" cy="448.7" r="2.3"/>
<circle cx="424.8" cy="433.1" r="2.3"/>
<circle cx="422.7" cy="433.4" r="2.3"/>
<circle cx="421.5" cy="449.2" r="2.3"/>
<circle cx="421.6" cy="441.4" r="2.3"/>
<circle cx="421.1" cy="452.0" r="2.3"/>
<circle cx="447.3" cy="409.2" r="2.3"/>
<circle cx="419.0" cy="438.0" r="2.3"/>
<circle cx="427.5" cy="429.3" r="2.3"/>
<circle cx="428.8" cy="444.5" r="2.3"/>
<circle cx="432.2" cy="427.0" r="2.3"/>
<circle cx="421.4" cy="449.5" r="2.3"/>
<circle cx="451.8" cy="401.5" r="2.3"/>
<circle cx="443.1" cy="390.8" r="2.3"/>
<circle cx="421.7" cy="444.1" r="2.3"/>
<circle cx="441.8" cy="406.3" r="2.3"/>
<circle cx="432.1" cy="421.8" r="2.3"/>
<circle cx="424.3" cy="446.1" r="2.3"/>
<circle cx="449.4" cy="389.0" r="2.3"/>
<circle cx="443.8" cy="397.2" r="2.3"/>
<circle cx="420.9" cy="450.4" r="2.3"/>
<circle cx="426.1" cy="436.4" r="2.3"/>
<circle cx="460.4" cy="403.8" r="2.3"/>
<circle cx="435.7" cy="430.8" r="2.3"/>
<circle cx="423.2" cy="445.7" r="2.3"/>
<circle cx="437.6" cy="435.3" r="2.3"/>
<circle cx="443.4" cy="416.4" r="2.3"/>
<circle cx="459.2" cy="407.2" r="2.3"/>
<circle cx="419.3" cy="444.2" r="2.3"/>
<circle cx="427.2" cy="447.8" r="2.3"/>
<circle cx="440.9" cy="399.1" r="2.3"/>
<circle cx="421.1" cy="451.0" r="2.3"/>
<circle cx="419.1" cy="449.2" r="2.3"/>
<circle cx="420.8" cy="449.7" r="2.3"/>
<circle cx="418.5" cy="449.6" r="2.3"/>
<circle cx="420.3" cy="444.6" r="2.3"/>
<circle cx="418.7" cy="450.4" r="2.3"/>
<circle cx="447.0" cy="386.6" r="2.3"/>
<circle cx="432.9" cy="430.6" r="2.3"/>
<circle cx="458.9" cy="406.1" r="2.3"/>
<circle cx="419.2" cy="444.7" r="2.3"/>
<circle cx="422.8" cy="449.0" r="2.3"/>
<circle cx="429.8" cy="434.0" r="2.3"/>
<circle cx="423.0" cy="450.7" r="2.3"/>
<circle cx="435.5" cy="416.1" r="2.3"/>
<circle cx="421.1" cy="449.5" r="2.3"/>
<circle cx="426.5" cy="425.4" r="2.3"/>
<circle cx="451.5" cy="413.5" r="2.3"/>
<circle cx="419.8" cy="448.7" r="2.3"/>
<circle cx="437.0" cy="420.9" r="2.3"/>
<circle cx="428.4" cy="452.0" r="2.3"/>
<circle cx="419.6" cy="441.1" r="2.3"/>
<circle cx="425.0" cy="436.9" r="2.3"/>
<circle cx="420.4" cy="441.1" r="2.3"/>
<circle cx="437.9" cy="451.3" r="2.3"/>
<circle cx="439.9" cy="408.6" r="2.3"/>
<circle cx="420.9" cy="443.8" r="2.3"/>
<circle cx="431.2" cy="446.6" r="2.3"/>
<circle cx="430.4" cy="409.7" r="2.3"/>
<circle cx="432.7" cy="402.6" r="2.3"/>
<circle cx="431.5" cy="421.1" r="2.3"/>
<circle cx="418.6" cy="448.8" r="2.3"/>
<circle cx="418.9" cy="450.2" r="2.3"/>
<circle cx="427.0" cy="446.3" r="2.3"/>
<circle cx="441.3" cy="432.7" r="2.3"/>
<circle cx="446.4" cy="398.2" r="2.3"/>
<circle cx="439.2" cy="419.9" r="2.3"/>
<circle cx="423.3" cy="440.0" r="2.3"/>
<circle cx="424.5" cy="429.3" r="2.3"/>
<circle cx="427.6" cy="435.4" r="2.3"/>
<circle cx="431.0" cy="420.6" r="2.3"/>
<circle cx="423.9" cy="435.3" r="2.3"/>
<circle cx="436.8" cy="420.4" r="2.3"/>
<circle cx="436.7" cy="438.7" r="2.3"/>
<circle cx="426.0" cy="440.9" r="2.3"/>
<circle cx="456.8" cy="397.7" r="2.3"/>
<circle cx="418.9" cy="446.1" r="2.3"/>
<circle cx="425.3" cy="433.6" r="2.3"/>
<circle cx="449.8" cy="420.9" r="2.3"/>
<circle cx="462.0" cy="393.1" r="2.3"/>
<circle cx="445.8" cy="403.1" r="2.3"/>
<circle cx="435.1" cy="438.4" r="2.3"/>
<circle cx="436.2" cy="440.8" r="2.3"/>
<circle cx="423.8" cy="439.2" r="2.3"/>
<circle cx="455.0" cy="408.5" r="2.3"/>
<circle cx="420.4" cy="444.4" r="2.3"/>
<circle cx="423.0" cy="434.8" r="2.3"/>
<circle cx="468.0" cy="372.5" r="2.3"/>
<circle cx="435.6" cy="419.8" r="2.3"/>
<circle cx="449.7" cy="402.5" r="2.3"/>
<circle cx="454.1" cy="392.6" r="2.3"/>
<circle cx="426.8" cy="412.0" r="2.3"/>
<circle cx="455.7" cy="416.0" r="2.3"/>
<circle cx="428.8" cy="439.6" r="2.3"/>
<circle cx="437.0" cy="445.1" r="2.3"/>
<circle cx="447.3" cy="381.1" r="2.3"/>
<circle cx="422.6" cy="451.5" r="2.3"/>
<circle cx="425.0" cy="434.2" r="2.3"/>
<circle cx="425.5" cy="439.8" r="2.3"/>
<circle cx="425.9" cy="433.0" r="2.3"/>
<circle cx="453.0" cy="406.1" r="2.3"/>
<circle cx="423.9" cy="443.3" r="2.3"/>
<circle cx="421.0" cy="450.6" r="2.3"/>
<circle cx="421.1" cy="440.7" r="2.3"/>
<circle cx="419.6" cy="449.9" r="2.3"/>
<circle cx="428.1" cy="431.1" r="2.3"/>
<circle cx="435.5" cy="433.7" r="2.3"/>
<circle cx="442.5" cy="430.6" r="2.3"/>
<circle cx="461.6" cy="351.9" r="2.3"/>
<circle cx="419.7" cy="442.8" r="2.3"/>
<circle cx="420.5" cy="436.8" r="2.3"/>
<circle cx="458.2" cy="413.0" r="2.3"/>
<circle cx="422.4" cy="451.7" r="2.3"/>
<circle cx="424.2" cy="428.2" r="2.3"/>
<circle cx="432.5" cy="447.5" r="2.3"/>
<circle cx="425.4" cy="432.1" r="2.3"/>
<circle cx="423.8" cy="435.0" r="2.3"/>
<circle cx="455.5" cy="408.2" r="2.3"/>
<circle cx="433.3" cy="435.0" r="2.3"/>
<circle cx="426.5" cy="430.8" r="2.3"/>
<circle cx="436.2" cy="421.8" r="2.3"/>
<circle cx="418.9" cy="451.9" r="2.3"/>
<circle cx="424.8" cy="442.3" r="2.3"/>
<circle cx="421.4" cy="446.5" r="2.3"/>
<circle cx="425.0" cy="443.0" r="2.3"/>
<circle cx="451.4" cy="411.8" r="2.3"/>
<circle cx="433.4" cy="419.0" r="2.3"/>
<circle cx="424.7" cy="426.4" r="2.3"/>
<circle cx="419.1" cy="449.7" r="2.3"/>
<circle cx="425.7" cy="432.3" r="2.3"/>
<circle cx="427.9" cy="432.1" r="2.3"/>
<circle cx="475.1" cy="390.3" r="2.3"/>
<circle cx="419.3" cy="449.2" r="2.3"/>
<circle cx="434.5" cy="417.6" r="2.3"/>
<circle cx="419.4" cy="449.6" r="2.3"/>
<circle cx="469.6" cy="364.2" r="2.3"/>
<circle cx="437.8" cy="419.1" r="2.3"/>
<circle cx="452.9" cy="371.5" r="2.3"/>
<circle cx="421.1" cy="440.4" r="2.3"/>
<circle cx="419.5" cy="448.1" r="2.3"/>
<circle cx="437.1" cy="433.0" r="2.3"/>
<circle cx="433.6" cy="412.3" r="2.3"/>
<circle cx="424.1" cy="448.6" r="2.3"/>
<circle cx="424.2" cy="443.7" r="2.3"/>
<circle cx="446.3" cy="393.2" r="2.3"/>
<circle cx="419.6" cy="449.0" r="2.3"/>
<circle cx="418.6" cy="449.4" r="2.3"/>
<circle cx="426.6" cy="427.0" r="2.3"/>
<circle cx="449.8" cy="400.7" r="2.3"/>
<circle cx="431.3" cy="427.8" r="2.3"/>
<circle cx="422.1" cy="449.3" r="2.3"/>
<circle cx="443.8" cy="419.5" r="2.3"/>
<circle cx="437.1" cy="427.9" r="2.3"/>
<circle cx="430.9" cy="425.0" r="2.3"/>
<circle cx="420.0" cy="446.6" r="2.3"/>
<circle cx="423.5" cy="439.0" r="2.3"/>
<circle cx="442.1" cy="408.0" r="2.3"/>
<circle cx="420.6" cy="452.1" r="2.3"/>
<circle cx="444.2" cy="397.6" r="2.3"/>
<circle cx="418.5" cy="451.9" r="2.3"/>
<circle cx="420.0" cy="442.5" r="2.3"/>
<circle cx="430.8" cy="419.8" r="2.3"/>
<circle cx="422.4" cy="442.1" r="2.3"/>
<circle cx="422.4" cy="440.0" r="2.3"/>
<circle cx="429.6" cy="448.5" r="2.3"/>
<circle cx="424.5" cy="428.5" r="2.3"/>
<circle cx="421.4" cy="443.9" r="2.3"/>
<circle cx="427.8" cy="439.4" r="2.3"/>
<circle cx="422.4" cy="444.9" r="2.3"/>
<circle cx="464.0" cy="363.7" r="2.3"/>
<circle cx="423.2" cy="439.0" r="2.3"/>
<circle cx="424.2" cy="433.3" r="2.3"/>
<circle cx="438.4" cy="409.5" r="2.3"/>
<circle cx="420.7" cy="442.8" r="2.3"/>
<circle cx="459.8" cy="363.9" r="2.3"/>
<circle cx="428.3" cy="442.7" r="2.3"/>
<circle cx="438.4" cy="410.0" r="2.3"/>
<circle cx="424.8" cy="433.5" r="2.3"/>
<circle cx="458.4" cy="380.0" r="2.3"/>
<circle cx="422.7" cy="439.8" r="2.3"/>
<circle cx="419.1" cy="447.2" r="2.3"/>
<circle cx="437.1" cy="422.3" r="2.3"/>
<circle cx="426.8" cy="445.7" r="2.3"/>
<circle cx="429.5" cy="432.2" r="2.3"/>
<circle cx="425.4" cy="445.9" r="2.3"/>
<circle cx="427.6" cy="436.4" r="2.3"/>
<circle cx="443.8" cy="425.6" r="2.3"/>
<circle cx="421.0" cy="448.4" r="2.3"/>
<circle cx="425.7" cy="435.0" r="2.3"/>
<circle cx="431.8" cy="415.6" r="2.3"/>
<circle cx="426.4" cy="436.8" r="2.3"/>
<circle cx="420.7" cy="451.1" r="2.3"/>
<circle cx="425.0" cy="442.1" r="2.3"/>
<circle cx="439.2" cy="416.1" r="2.3"/>
<circle cx="424.1" cy="438.7" r="2.3"/>
<circle cx="419.3" cy="451.8" r="2.3"/>
<circle cx="421.4" cy="441.6" r="2.3"/>
<circle cx="423.3" cy="438.6" r="2.3"/>
<circle cx="423.7" cy="441.2" r="2.3"/>
<circle cx="423.3" cy="452.0" r="2.3"/>
<circle cx="420.7" cy="450.5" r="2.3"/>
<circle cx="432.2" cy="431.6" r="2.3"/>
<circle cx="421.8" cy="425.4" r="2.3"/>
<circle cx="421.1" cy="443.4" r="2.3"/>
<circle cx="453.5" cy="386.8" r="2.3"/>
<circle cx="421.7" cy="450.5" r="2.3"/>
<circle cx="418.8" cy="450.2" r="2.3"/>
<circle cx="476.2" cy="372.7" r="2.3"/>
<circle cx="420.7" cy="451.4" r="2.3"/>
<circle cx="432.7" cy="417.5" r="2.3"/>
<circle cx="427.8" cy="434.6" r="2.3"/>
<circle cx="448.0" cy="425.4" r="2.3"/>
<circle cx="421.8" cy="433.1" r="2.3"/>
<circle cx="429.6" cy="446.5" r="2.3"/>
<circle cx="419.5" cy="447.7" r="2.3"/>
<circle cx="439.7" cy="408.2" r="2.3"/>
<circle cx="423.8" cy="446.2" r="2.3"/>
<circle cx="425.5" cy="450.5" r="2.3"/>
<circle cx="419.4" cy="448.1" r="2.3"/>
<circle cx="432.6" cy="435.7" r="2.3"/>
<circle cx="422.6" cy="443.3" r="2.3"/>
<circle cx="422.8" cy="450.2" r="2.3"/>
<circle cx="466.5" cy="358.5" r="2.3"/>
<circle cx="418.6" cy="451.9" r="2.3"/>
<circle cx="422.2" cy="441.4" r="2.3"/>
<circle cx="425.2" cy="441.5" r="2.3"/>
<circle cx="424.7" cy="450.7" r="2.3"/>
<circle cx="420.1" cy="448.4" r="2.3"/>
<circle cx="431.6" cy="433.2" r="2.3"/>
<circle cx="442.9" cy="427.5" r="2.3"/>
<circle cx="431.6" cy="422.1" r="2.3"/>
<circle cx="440.4" cy="409.2" r="2.3"/>
<circle cx="440.5" cy="405.9" r="2.3"/>
<circle cx="423.3" cy="446.5" r="2.3"/>
<circle cx="427.3" cy="448.3" r="2.3"/>
<circle cx="419.3" cy="449.0" r="2.3"/>
<circle cx="422.4" cy="441.0" r="2.3"/>
<circle cx="467.2" cy="370.2" r="2.3"/>
<circle cx="418.9" cy="437.7" r="2.3"/>
<circle cx="433.7" cy="418.1" r="2.3"/>
<circle cx="423.2" cy="446.5" r="2.3"/>
<circle cx="423.8" cy="445.3" r="2.3"/>
<circle cx="418.6" cy="449.1" r="2.3"/>
<circle cx="423.2" cy="439.9" r="2.3"/>
<circle cx="452.2" cy="403.0" r="2.3"/>
<circle cx="435.5" cy="437.6" r="2.3"/>
<circle cx="453.1" cy="403.2" r="2.3"/>
<circle cx="422.7" cy="448.2" r="2.3"/>
<circle cx="428.4" cy="435.8" r="2.3"/>
<circle cx="452.8" cy="406.6" r="2.3"/>
<circle cx="453.6" cy="386.3" r="2.3"/>
<circle cx="419.2" cy="441.9" r="2.3"/>
<circle cx="428.9" cy="424.1" r="2.3"/>
<circle cx="429.6" cy="438.5" r="2.3"/>
<circle cx="421.2" cy="446.4" r="2.3"/>
<circle cx="425.9" cy="434.3" r="2.3"/>
<circle cx="425.8" cy="441.3" r="2.3"/>
<circle cx="418.5" cy="449.3" r="2.3"/>
<circle cx="419.1" cy="449.3" r="2.3"/>
<circle cx="419.3" cy="437.8" r="2.3"/>
<circle cx="437.8" cy="411.8" r="2.3"/>
<circle cx="425.6" cy="446.6" r="2.3"/>
<circle cx="442.2" cy="392.3" r="2.3"/>
<circle cx="421.2" cy="450.0" r="2.3"/>
<circle cx="419.3" cy="449.4" r="2.3"/>
<circle cx="436.6" cy="441.5" r="2.3"/>
<circle cx="441.5" cy="411.9" r="2.3"/>
<circle cx="464.6" cy="354.7" r="2.3"/>
<circle cx="445.6" cy="402.3" r="2.3"/>
<circle cx="445.4" cy="433.8" r="2.3"/>
<circle cx="423.0" cy="447.1" r="2.3"/>
<circle cx="419.7" cy="449.3" r="2.3"/>
<circle cx="421.2" cy="441.7" r="2.3"/>
<circle cx="426.3" cy="450.7" r="2.3"/>
<circle cx="437.0" cy="414.6" r="2.3"/>
<circle cx="464.5" cy="363.8" r="2.3"/>
<circle cx="429.7" cy="436.2" r="2.3"/>
<circle cx="421.3" cy="446.2" r="2.3"/>
<circle cx="424.1" cy="447.8" r="2.3"/>
<circle cx="435.0" cy="420.5" r="2.3"/>
<circle cx="448.8" cy="406.5" r="2.3"/>
<circle cx="420.8" cy="447.8" r="2.3"/>
<circle cx="422.5" cy="443.5" r="2.3"/>
<circle cx="419.5" cy="450.0" r="2.3"/>
<circle cx="418.6" cy="448.9" r="2.3"/>
<circle cx="419.7" cy="435.8" r="2.3"/>
<circle cx="424.8" cy="443.6" r="2.3"/>
<circle cx="420.3" cy="441.7" r="2.3"/>
<circle cx="419.1" cy="447.2" r="2.3"/>
<circle cx="420.4" cy="444.0" r="2.3"/>
<circle cx="429.7" cy="432.1" r="2.3"/>
<circle cx="437.9" cy="418.2" r="2.3"/>
<circle cx="436.1" cy="417.8" r="2.3"/>
<circle cx="426.8" cy="448.2" r="2.3"/>
<circle cx="433.9" cy="429.4" r="2.3"/>
<circle cx="423.4" cy="437.1" r="2.3"/>
<circle cx="422.3" cy="451.1" r="2.3"/>
<circle cx="425.4" cy="423.0" r="2.3"/>
<circle cx="426.7" cy="421.5" r="2.3"/>
<circle cx="421.3" cy="450.0" r="2.3"/>
<circle cx="437.8" cy="398.0" r="2.3"/>
<circle cx="441.4" cy="411.1" r="2.3"/>
<circle cx="431.0" cy="434.7" r="2.3"/>
<circle cx="438.0" cy="436.0" r="2.3"/>
<circle cx="426.3" cy="438.0" r="2.3"/>
<circle cx="418.6" cy="449.3" r="2.3"/>
<circle cx="436.8" cy="428.8" r="2.3"/>
<circle cx="420.7" cy="447.8" r="2.3"/>
<circle cx="434.0" cy="426.0" r="2.3"/>
<circle cx="428.7" cy="427.4" r="2.3"/>
<circle cx="426.8" cy="421.1" r="2.3"/>
<circle cx="422.5" cy="445.8" r="2.3"/>
<circle cx="448.1" cy="393.6" r="2.3"/>
<circle cx="437.9" cy="414.8" r="2.3"/>
<circle cx="420.2" cy="451.1" r="2.3"/>
<circle cx="421.3" cy="451.4" r="2.3"/>
<circle cx="426.1" cy="451.0" r="2.3"/>
<circle cx="441.9" cy="427.3" r="2.3"/>
<circle cx="426.9" cy="434.5" r="2.3"/>
<circle cx="424.4" cy="450.9" r="2.3"/>
<circle cx="444.6" cy="412.7" r="2.3"/>
<circle cx="432.6" cy="425.4" r="2.3"/>
<circle cx="424.7" cy="434.9" r="2.3"/>
<circle cx="418.6" cy="449.1" r="2.3"/>
<circle cx="423.4" cy="443.0" r="2.3"/>
<circle cx="426.9" cy="440.3" r="2.3"/>
<circle cx="461.0" cy="368.6" r="2.3"/>
<circle cx="420.0" cy="436.3" r="2.3"/>
<circle cx="435.1" cy="439.8" r="2.3"/>
<circle cx="455.9" cy="383.2" r="2.3"/>
<circle cx="449.2" cy="411.3" r="2.3"/>
<circle cx="437.3" cy="410.5" r="2.3"/>
<circle cx="446.8" cy="423.2" r="2.3"/>
<circle cx="419.5" cy="443.4" r="2.3"/>
<circle cx="462.8" cy="395.7" r="2.3"/>
<circle cx="442.3" cy="422.8" r="2.3"/>
<circle cx="434.5" cy="415.8" r="2.3"/>
<circle cx="424.0" cy="441.5" r="2.3"/>
<circle cx="434.9" cy="431.7" r="2.3"/>
<circle cx="441.7" cy="415.6" r="2.3"/>
<circle cx="427.4" cy="419.2" r="2.3"/>
<circle cx="420.6" cy="441.6" r="2.3"/>
<circle cx="418.7" cy="448.6" r="2.3"/>
<circle cx="419.5" cy="448.1" r="2.3"/>
<circle cx="419.5" cy="445.8" r="2.3"/>
<circle cx="426.9" cy="447.1" r="2.3"/>
<circle cx="428.6" cy="425.9" r="2.3"/>
<circle cx="423.8" cy="442.4" r="2.3"/>
<circle cx="424.5" cy="438.0" r="2.3"/>
<circle cx="427.7" cy="433.0" r="2.3"/>
<circle cx="420.6" cy="445.9" r="2.3"/>
<circle cx="422.4" cy="448.9" r="2.3"/>
<circle cx="440.8" cy="397.9" r="2.3"/>
<circle cx="462.4" cy="402.3" r="2.3"/>
<circle cx="429.5" cy="430.7" r="2.3"/>
<circle cx="434.8" cy="399.6" r="2.3"/>
<circle cx="443.2" cy="381.9" r="2.3"/>
<circle cx="419.6" cy="450.8" r="2.3"/>
<circle cx="465.6" cy="385.8" r="2.3"/>
<circle cx="428.8" cy="440.3" r="2.3"/>
<circle cx="437.5" cy="433.5" r="2.3"/>
<circle cx="451.5" cy="399.3" r="2.3"/>
<circle cx="420.0" cy="449.0" r="2.3"/>
<circle cx="419.1" cy="444.4" r="2.3"/>
<circle cx="435.4" cy="434.5" r="2.3"/>
<circle cx="459.7" cy="382.8" r="2.3"/>
<circle cx="427.0" cy="437.0" r="2.3"/>
<circle cx="427.2" cy="433.3" r="2.3"/>
<circle cx="431.8" cy="425.3" r="2.3"/>
<circle cx="421.2" cy="445.9" r="2.3"/>
<circle cx="419.1" cy="448.8" r="2.3"/>
<circle cx="443.7" cy="380.8" r="2.3"/>
<circle cx="419.8" cy="450.0" r="2.3"/>
<circle cx="422.6" cy="442.9" r="2.3"/>
<circle cx="432.3" cy="422.6" r="2.3"/>
<circle cx="431.5" cy="433.3" r="2.3"/>
<circle cx="425.9" cy="451.1" r="2.3"/>
<circle cx="431.5" cy="433.8" r="2.3"/>
<circle cx="421.0" cy="431.9" r="2.3"/>
<circle cx="420.3" cy="443.6" r="2.3"/>
<circle cx="427.3" cy="431.9" r="2.3"/>
<circle cx="419.9" cy="448.4" r="2.3"/>
<circle cx="439.4" cy="432.4" r="2.3"/>
<circle cx="419.5" cy="450.4" r="2.3"/>
<circle cx="423.9" cy="438.4" r="2.3"/>
<circle cx="424.2" cy="448.6" r="2.3"/>
<circle cx="420.9" cy="436.6" r="2.3"/>
<circle cx="419.5" cy="448.2" r="2.3"/>
<circle cx="418.5" cy="451.1" r="2.3"/>
<circle cx="421.7" cy="448.1" r="2.3"/>
<circle cx="421.2" cy="448.2" r="2.3"/>
<circle cx="432.0" cy="435.9" r="2.3"/>
<circle cx="429.2" cy="428.3" r="2.3"/>
<circle cx="418.6" cy="445.2" r="2.3"/>
<circle cx="440.9" cy="433.5" r="2.3"/>
<circle cx="424.8" cy="451.3" r="2.3"/>
<circle cx="441.9" cy="392.0" r="2.3"/>
<circle cx="424.3" cy="430.9" r="2.3"/>
<circle cx="418.5" cy="451.9" r="2.3"/>
<circle cx="419.8" cy="451.0" r="2.3"/>
<circle cx="471.1" cy="398.0" r="2.3"/>
<circle cx="439.5" cy="421.7" r="2.3"/>
<circle cx="427.6" cy="441.9" r="2.3"/>
<circle cx="425.7" cy="438.1" r="2.3"/>
<circle cx="430.3" cy="446.5" r="2.3"/>
<circle cx="420.2" cy="449.2" r="2.3"/>
<circle cx="419.2" cy="448.6" r="2.3"/>
<circle cx="436.9" cy="420.2" r="2.3"/>
<circle cx="424.7" cy="441.4" r="2.3"/>
<circle cx="429.7" cy="429.8" r="2.3"/>
<circle cx="422.3" cy="451.6" r="2.3"/>
<circle cx="418.5" cy="443.5" r="2.3"/>
<circle cx="425.2" cy="449.5" r="2.3"/>
<circle cx="463.6" cy="424.6" r="2.3"/>
<circle cx="422.5" cy="451.4" r="2.3"/>
<circle cx="419.3" cy="451.4" r="2.3"/>
<circle cx="435.8" cy="419.8" r="2.3"/>
<circle cx="437.4" cy="421.4" r="2.3"/>
<circle cx="428.0" cy="429.3" r="2.3"/>
<circle cx="419.8" cy="446.7" r="2.3"/>
<circle cx="426.5" cy="442.5" r="2.3"/>
<circle cx="438.9" cy="427.9" r="2.3"/>
<circle cx="426.0" cy="430.5" r="2.3"/>
<circle cx="448.2" cy="423.7" r="2.3"/>
<circle cx="433.0" cy="418.5" r="2.3"/>
<circle cx="424.5" cy="437.2" r="2.3"/>
<circle cx="422.9" cy="434.5" r="2.3"/>
<circle cx="425.4" cy="446.0" r="2.3"/>
<circle cx="457.0" cy="372.9" r="2.3"/>
<circle cx="421.3" cy="444.2" r="2.3"/>
<circle cx="432.6" cy="424.7" r="2.3"/>
<circle cx="422.9" cy="444.9" r="2.3"/>
<circle cx="419.7" cy="451.1" r="2.3"/>
<circle cx="444.2" cy="441.1" r="2.3"/>
<circle cx="421.8" cy="444.7" r="2.3"/>
<circle cx="421.2" cy="451.4" r="2.3"/>
<circle cx="421.3" cy="443.6" r="2.3"/>
<circle cx="422.4" cy="450.2" r="2.3"/>
<circle cx="461.3" cy="395.4" r="2.3"/>
<circle cx="455.1" cy="404.2" r="2.3"/>
<circle cx="422.9" cy="443.0" r="2.3"/>
<circle cx="431.7" cy="421.3" r="2.3"/>
<circle cx="418.9" cy="445.3" r="2.3"/>
<circle cx="419.6" cy="450.3" r="2.3"/>
<circle cx="423.3" cy="449.5" r="2.3"/>
<circle cx="423.9" cy="443.3" r="2.3"/>
<circle cx="419.6" cy="449.1" r="2.3"/>
<circle cx="422.8" cy="449.1" r="2.3"/>
<circle cx="425.7" cy="441.5" r="2.3"/>
<circle cx="421.1" cy="447.7" r="2.3"/>
<circle cx="451.6" cy="395.5" r="2.3"/>
<circle cx="442.0" cy="433.4" r="2.3"/>
<circle cx="446.6" cy="409.3" r="2.3"/>
<circle cx="422.7" cy="449.0" r="2.3"/>
<circle cx="420.5" cy="450.0" r="2.3"/>
<circle cx="429.7" cy="411.0" r="2.3"/>
<circle cx="450.8" cy="409.6" r="2.3"/>
<circle cx="433.9" cy="424.4" r="2.3"/>
<circle cx="441.0" cy="424.1" r="2.3"/>
<circle cx="418.9" cy="450.8" r="2.3"/>
<circle cx="424.3" cy="436.0" r="2.3"/>
<circle cx="419.1" cy="448.6" r="2.3"/>
<circle cx="426.6" cy="435.8" r="2.3"/>
<circle cx="420.0" cy="438.3" r="2.3"/>
<circle cx="418.7" cy="452.0" r="2.3"/>
<circle cx="423.0" cy="431.0" r="2.3"/>
<circle cx="459.6" cy="366.1" r="2.3"/>
<circle cx="424.5" cy="424.9" r="2.3"/>
<circle cx="420.9" cy="435.6" r="2.3"/>
<circle cx="453.3" cy="413.5" r="2.3"/>
<circle cx="431.4" cy="437.0" r="2.3"/>
<circle cx="420.3" cy="452.0" r="2.3"/>
<circle cx="423.7" cy="450.1" r="2.3"/>
<circle cx="435.7" cy="429.7" r="2.3"/>
<circle cx="422.6" cy="444.9" r="2.3"/>
<circle cx="420.8" cy="438.9" r="2.3"/>
<circle cx="436.6" cy="413.8" r="2.3"/>
<circle cx="419.5" cy="442.6" r="2.3"/>
<circle cx="420.1" cy="444.2" r="2.3"/>
<circle cx="433.0" cy="426.6" r="2.3"/>
<circle cx="421.3" cy="449.1" r="2.3"/>
<circle cx="430.3" cy="428.1" r="2.3"/>
<circle cx="418.5" cy="447.2" r="2.3"/>
<circle cx="455.9" cy="403.3" r="2.3"/>
<circle cx="422.5" cy="442.9" r="2.3"/>
<circle cx="424.0" cy="440.5" r="2.3"/>
<circle cx="419.9" cy="446.2" r="2.3"/>
<circle cx="423.6" cy="440.1" r="2.3"/>
<circle cx="426.5" cy="434.8" r="2.3"/>
<circle cx="430.3" cy="439.4" r="2.3"/>
<circle cx="435.6" cy="426.9" r="2.3"/>
<circle cx="425.1" cy="434.0" r="2.3"/>
<circle cx="428.6" cy="433.3" r="2.3"/>
<circle cx="418.7" cy="448.2" r="2.3"/>
<circle cx="459.3" cy="378.3" r="2.3"/>
<circle cx="420.8" cy="444.5" r="2.3"/>
<circle cx="431.6" cy="437.8" r="2.3"/>
<circle cx="420.5" cy="433.8" r="2.3"/>
<circle cx="434.9" cy="428.3" r="2.3"/>
<circle cx="428.0" cy="429.6" r="2.3"/>
<circle cx="442.5" cy="438.3" r="2.3"/>
<circle cx="420.8" cy="437.5" r="2.3"/>
<circle cx="425.7" cy="448.9" r="2.3"/>
<circle cx="432.7" cy="403.7" r="2.3"/>
<circle cx="427.6" cy="419.0" r="2.3"/>
<circle cx="430.7" cy="448.7" r="2.3"/>
<circle cx="418.5" cy="450.8" r="2.3"/>
<circle cx="431.4" cy="430.4" r="2.3"/>
<circle cx="418.4" cy="447.9" r="2.3"/>
<circle cx="446.5" cy="419.5" r="2.3"/>
<circle cx="424.0" cy="439.2" r="2.3"/>
<circle cx="420.7" cy="447.9" r="2.3"/>
<circle cx="418.8" cy="447.7" r="2.3"/>
<circle cx="430.6" cy="445.2" r="2.3"/>
<circle cx="425.6" cy="441.7" r="2.3"/>
<circle cx="423.5" cy="427.6" r="2.3"/>
<circle cx="431.6" cy="437.0" r="2.3"/>
<circle cx="424.3" cy="439.1" r="2.3"/>
<circle cx="435.1" cy="411.9" r="2.3"/>
<circle cx="424.0" cy="439.2" r="2.3"/>
<circle cx="434.7" cy="443.0" r="2.3"/>
<circle cx="423.1" cy="444.6" r="2.3"/>
<circle cx="443.1" cy="425.4" r="2.3"/>
<circle cx="429.5" cy="450.0" r="2.3"/>
<circle cx="420.6" cy="447.9" r="2.3"/>
<circle cx="474.4" cy="384.2" r="2.3"/>
<circle cx="429.3" cy="428.2" r="2.3"/>
<circle cx="422.9" cy="439.4" r="2.3"/>
<circle cx="443.7" cy="389.4" r="2.3"/>
<circle cx="424.0" cy="442.3" r="2.3"/>
<circle cx="419.6" cy="446.2" r="2.3"/>
<circle cx="421.1" cy="449.6" r="2.3"/>
<circle cx="433.0" cy="417.2" r="2.3"/>
<circle cx="429.2" cy="431.1" r="2.3"/>
<circle cx="420.9" cy="450.8" r="2.3"/>
<circle cx="425.0" cy="427.6" r="2.3"/>
<circle cx="421.6" cy="446.7" r="2.3"/>
<circle cx="439.0" cy="394.2" r="2.3"/>
<circle cx="440.2" cy="423.9" r="2.3"/>
<circle cx="422.1" cy="446.6" r="2.3"/>
<circle cx="420.7" cy="442.2" r="2.3"/>
<circle cx="421.5" cy="451.9" r="2.3"/>
<circle cx="420.1" cy="450.8" r="2.3"/>
<circle cx="450.2" cy="397.6" r="2.3"/>
<circle cx="419.3" cy="451.9" r="2.3"/>
<circle cx="434.2" cy="423.6" r="2.3"/>
<circle cx="428.8" cy="442.7" r="2.3"/>
<circle cx="433.0" cy="428.4" r="2.3"/>
<circle cx="420.2" cy="450.3" r="2.3"/>
<circle cx="444.7" cy="396.8" r="2.3"/>
<circle cx="433.0" cy="428.0" r="2.3"/>
<circle cx="437.5" cy="438.2" r="2.3"/>
<circle cx="423.6" cy="446.8" r="2.3"/>
<circle cx="428.2" cy="451.8" r="2.3"/>
<circle cx="419.8" cy="452.1" r="2.3"/>
<circle cx="420.9" cy="448.0" r="2.3"/>
<circle cx="435.6" cy="425.3" r="2.3"/>
<circle cx="423.7" cy="426.7" r="2.3"/>
<circle cx="425.2" cy="444.6" r="2.3"/>
<circle cx="418.8" cy="443.8" r="2.3"/>
<circle cx="419.6" cy="443.2" r="2.3"/>
<circle cx="427.1" cy="426.3" r="2.3"/>
<circle cx="436.6" cy="407.2" r="2.3"/>
<circle cx="421.4" cy="443.7" r="2.3"/>
<circle cx="420.0" cy="451.9" r="2.3"/>
<circle cx="447.4" cy="409.7" r="2.3"/>
<circle cx="418.7" cy="445.3" r="2.3"/>
<circle cx="423.7" cy="434.6" r="2.3"/>
<circle cx="427.4" cy="451.1" r="2.3"/>
<circle cx="427.6" cy="427.1" r="2.3"/>
<circle cx="420.2" cy="450.6" r="2.3"/>
<circle cx="419.9" cy="446.0" r="2.3"/>
<circle cx="423.1" cy="449.6" r="2.3"/>
<circle cx="423.5" cy="448.3" r="2.3"/>
<circle cx="457.3" cy="413.8" r="2.3"/>
<circle cx="422.2" cy="451.9" r="2.3"/>
<circle cx="450.9" cy="392.2" r="2.3"/>
<circle cx="424.0" cy="442.0" r="2.3"/>
<circle cx="419.4" cy="450.2" r="2.3"/>
<circle cx="424.5" cy="437.6" r="2.3"/>
<circle cx="428.6" cy="439.0" r="2.3"/>
<circle cx="441.5" cy="414.4" r="2.3"/>
<circle cx="428.7" cy="450.3" r="2.3"/>
<circle cx="450.4" cy="399.5" r="2.3"/>
<circle cx="418.7" cy="447.9" r="2.3"/>
<circle cx="423.6" cy="449.4" r="2.3"/>
<circle cx="419.7" cy="452.0" r="2.3"/>
<circle cx="425.3" cy="447.3" r="2.3"/>
<circle cx="431.2" cy="434.3" r="2.3"/>
<circle cx="433.7" cy="442.4" r="2.3"/>
<circle cx="420.0" cy="447.2" r="2.3"/>
<circle cx="422.6" cy="444.8" r="2.3"/>
<circle cx="431.7" cy="428.4" r="2.3"/>
<circle cx="458.1" cy="385.3" r="2.3"/>
<circle cx="427.1" cy="441.8" r="2.3"/>
<circle cx="419.1" cy="448.7" r="2.3"/>
<circle cx="447.8" cy="404.0" r="2.3"/>
<circle cx="418.8" cy="450.7" r="2.3"/>
<circle cx="435.7" cy="446.0" r="2.3"/>
<circle cx="418.8" cy="449.1" r="2.3"/>
<circle cx="437.0" cy="426.9" r="2.3"/>
<circle cx="422.9" cy="447.0" r="2.3"/>
<circle cx="429.8" cy="437.0" r="2.3"/>
<circle cx="440.3" cy="398.9" r="2.3"/>
<circle cx="419.8" cy="450.7" r="2.3"/>
<circle cx="425.3" cy="439.6" r="2.3"/>
<circle cx="418.5" cy="451.6" r="2.3"/>
<circle cx="426.0" cy="440.5" r="2.3"/>
<circle cx="424.6" cy="423.5" r="2.3"/>
<circle cx="429.0" cy="425.2" r="2.3"/>
<circle cx="432.4" cy="422.8" r="2.3"/>
<circle cx="439.9" cy="413.0" r="2.3"/>
<circle cx="419.1" cy="450.3" r="2.3"/>
<circle cx="419.1" cy="450.6" r="2.3"/>
<circle cx="443.9" cy="372.2" r="2.3"/>
<circle cx="421.3" cy="442.5" r="2.3"/>
<circle cx="425.4" cy="451.9" r="2.3"/>
<circle cx="440.8" cy="412.0" r="2.3"/>
<circle cx="438.8" cy="431.6" r="2.3"/>
<circle cx="451.4" cy="418.6" r="2.3"/>
<circle cx="419.0" cy="448.3" r="2.3"/>
<circle cx="423.1" cy="441.1" r="2.3"/>
<circle cx="424.7" cy="437.1" r="2.3"/>
<circle cx="421.5" cy="444.4" r="2.3"/>
<circle cx="426.9" cy="429.9" r="2.3"/>
<circle cx="465.7" cy="391.9" r="2.3"/>
<circle cx="436.5" cy="430.0" r="2.3"/>
<circle cx="422.4" cy="441.0" r="2.3"/>
<circle cx="425.9" cy="437.8" r="2.3"/>
<circle cx="438.4" cy="430.4" r="2.3"/>
<circle cx="441.1" cy="428.9" r="2.3"/>
<circle cx="418.8" cy="451.9" r="2.3"/>
<circle cx="435.6" cy="440.0" r="2.3"/>
<circle cx="421.3" cy="440.3" r="2.3"/>
<circle cx="421.9" cy="439.8" r="2.3"/>
<circle cx="455.5" cy="380.5" r="2.3"/>
<circle cx="425.6" cy="438.8" r="2.3"/>
<circle cx="430.7" cy="437.0" r="2.3"/>
<circle cx="425.0" cy="437.8" r="2.3"/>
<circle cx="433.1" cy="433.0" r="2.3"/>
<circle cx="419.6" cy="445.9" r="2.3"/>
<circle cx="418.5" cy="444.9" r="2.3"/>
<circle cx="424.2" cy="429.2" r="2.3"/>
<circle cx="421.0" cy="446.8" r="2.3"/>
<circle cx="428.3" cy="428.9" r="2.3"/>
<circle cx="422.3" cy="441.3" r="2.3"/>
<circle cx="441.3" cy="415.1" r="2.3"/>
<circle cx="427.2" cy="447.5" r="2.3"/>
<circle cx="422.5" cy="443.5" r="2.3"/>
<circle cx="420.9" cy="450.0" r="2.3"/>
<circle cx="420.6" cy="442.8" r="2.3"/>
<circle cx="427.5" cy="440.8" r="2.3"/>
<circle cx="420.5" cy="450.1" r="2.3"/>
<circle cx="424.9" cy="442.1" r="2.3"/>
<circle cx="421.5" cy="442.3" r="2.3"/>
<circle cx="428.6" cy="444.3" r="2.3"/>
<circle cx="424.2" cy="447.3" r="2.3"/>
<circle cx="422.7" cy="452.0" r="2.3"/>
<circle cx="423.5" cy="446.6" r="2.3"/>
<circle cx="431.9" cy="422.8" r="2.3"/>
<circle cx="430.4" cy="426.6" r="2.3"/>
<circle cx="450.3" cy="424.7" r="2.3"/>
<circle cx="429.4" cy="436.4" r="2.3"/>
<circle cx="425.4" cy="451.7" r="2.3"/>
<circle cx="430.8" cy="422.1" r="2.3"/>
<circle cx="418.7" cy="450.2" r="2.3"/>
<circle cx="421.2" cy="437.2" r="2.3"/>
<circle cx="419.4" cy="448.5" r="2.3"/>
<circle cx="435.7" cy="434.3" r="2.3"/>
<circle cx="448.3" cy="403.4" r="2.3"/>
<circle cx="435.3" cy="420.7" r="2.3"/>
<circle cx="423.4" cy="448.8" r="2.3"/>
<circle cx="431.9" cy="418.4" r="2.3"/>
<circle cx="425.0" cy="437.3" r="2.3"/>
<circle cx="431.0" cy="421.2" r="2.3"/>
<circle cx="423.6" cy="438.6" r="2.3"/>
<circle cx="439.1" cy="426.1" r="2.3"/>
<circle cx="442.2" cy="419.7" r="2.3"/>
<circle cx="424.7" cy="442.2" r="2.3"/>
<circle cx="441.6" cy="406.9" r="2.3"/>
<circle cx="431.9" cy="426.0" r="2.3"/>
<circle cx="418.8" cy="440.9" r="2.3"/>
<circle cx="420.8" cy="447.1" r="2.3"/>
<circle cx="421.4" cy="445.4" r="2.3"/>
<circle cx="462.9" cy="392.5" r="2.3"/>
<circle cx="423.3" cy="450.1" r="2.3"/>
<circle cx="423.8" cy="449.2" r="2.3"/>
<circle cx="461.8" cy="378.4" r="2.3"/>
<circle cx="424.9" cy="425.9" r="2.3"/>
<circle cx="438.1" cy="427.9" r="2.3"/>
<circle cx="419.3" cy="447.4" r="2.3"/>
<circle cx="421.3" cy="438.7" r="2.3"/>
<circle cx="418.8" cy="451.3" r="2.3"/>
<circle cx="433.8" cy="447.6" r="2.3"/>
<circle cx="438.4" cy="441.8" r="2.3"/>
<circle cx="426.0" cy="448.1" r="2.3"/>
<circle cx="445.8" cy="412.2" r="2.3"/>
<circle cx="422.5" cy="438.1" r="2.3"/>
<circle cx="419.8" cy="448.9" r="2.3"/>
<circle cx="428.1" cy="435.0" r="2.3"/>
<circle cx="418.6" cy="450.7" r="2.3"/>
<circle cx="425.5" cy="439.6" r="2.3"/>
<circle cx="421.5" cy="442.3" r="2.3"/>
<circle cx="458.5" cy="361.5" r="2.3"/>
<circle cx="461.0" cy="414.3" r="2.3"/>
<circle cx="418.5" cy="449.6" r="2.3"/>
<circle cx="423.9" cy="441.9" r="2.3"/>
<circle cx="428.8" cy="427.4" r="2.3"/>
<circle cx="437.2" cy="417.1" r="2.3"/>
<circle cx="423.7" cy="443.4" r="2.3"/>
<circle cx="433.5" cy="434.7" r="2.3"/>
<circle cx="425.2" cy="435.2" r="2.3"/>
<circle cx="446.6" cy="405.1" r="2.3"/>
<circle cx="422.4" cy="451.7" r="2.3"/>
<circle cx="418.8" cy="446.1" r="2.3"/>
<circle cx="426.0" cy="438.7" r="2.3"/>
<circle cx="429.2" cy="434.9" r="2.3"/>
<circle cx="434.0" cy="420.5" r="2.3"/>
<circle cx="422.1" cy="444.7" r="2.3"/>
<circle cx="419.0" cy="452.1" r="2.3"/>
<circle cx="420.7" cy="447.1" r="2.3"/>
<circle cx="419.7" cy="447.9" r="2.3"/>
<circle cx="421.1" cy="430.0" r="2.3"/>
<circle cx="420.5" cy="447.5" r="2.3"/>
<circle cx="429.9" cy="444.2" r="2.3"/>
<circle cx="419.8" cy="444.7" r="2.3"/>
<circle cx="418.7" cy="444.6" r="2.3"/>
<circle cx="421.0" cy="450.3" r="2.3"/>
<circle cx="426.7" cy="449.6" r="2.3"/>
<circle cx="426.5" cy="435.5" r="2.3"/>
<circle cx="431.7" cy="437.2" r="2.3"/>
<circle cx="429.7" cy="430.4" r="2.3"/>
<circle cx="448.6" cy="396.2" r="2.3"/>
<circle cx="431.5" cy="425.3" r="2.3"/>
<circle cx="444.6" cy="396.0" r="2.3"/>
<circle cx="433.5" cy="428.1" r="2.3"/>
<circle cx="420.6" cy="442.8" r="2.3"/>
<circle cx="426.5" cy="420.1" r="2.3"/>
<circle cx="458.3" cy="380.3" r="2.3"/>
<circle cx="429.1" cy="417.9" r="2.3"/>
<circle cx="432.3" cy="429.2" r="2.3"/>
<circle cx="423.4" cy="444.8" r="2.3"/>
<circle cx="446.6" cy="395.9" r="2.3"/>
<circle cx="421.5" cy="444.3" r="2.3"/>
<circle cx="423.5" cy="448.9" r="2.3"/>
<circle cx="440.5" cy="415.1" r="2.3"/>
<circle cx="424.8" cy="435.5" r="2.3"/>
<circle cx="420.9" cy="450.2" r="2.3"/>
<circle cx="421.3" cy="451.3" r="2.3"/>
<circle cx="423.9" cy="448.0" r="2.3"/>
<circle cx="435.7" cy="414.1" r="2.3"/>
<circle cx="425.2" cy="449.5" r="2.3"/>
<circle cx="423.1" cy="445.4" r="2.3"/>
<circle cx="427.0" cy="428.7" r="2.3"/>
<circle cx="419.1" cy="449.6" r="2.3"/>
<circle cx="421.2" cy="450.4" r="2.3"/>
<circle cx="436.7" cy="429.3" r="2.3"/>
<circle cx="421.0" cy="441.4" r="2.3"/>
<circle cx="428.2" cy="428.3" r="2.3"/>
<circle cx="444.3" cy="400.5" r="2.3"/>
<circle cx="451.8" cy="398.1" r="2.3"/>
<circle cx="428.7" cy="445.6" r="2.3"/>
<circle cx="453.5" cy="364.6" r="2.3"/>
<circle cx="434.0" cy="431.2" r="2.3"/>
<circle cx="419.5" cy="444.1" r="2.3"/>
<circle cx="454.3" cy="403.4" r="2.3"/>
<circle cx="433.3" cy="433.5" r="2.3"/>
<circle cx="423.4" cy="441.2" r="2.3"/>
<circle cx="423.8" cy="443.4" r="2.3"/>
<circle cx="435.4" cy="436.8" r="2.3"/>
<circle cx="418.9" cy="451.5" r="2.3"/>
<circle cx="467.2" cy="401.4" r="2.3"/>
<circle cx="426.6" cy="436.3" r="2.3"/>
<circle cx="448.8" cy="412.5" r="2.3"/>
<circle cx="422.0" cy="441.0" r="2.3"/>
<circle cx="433.8" cy="428.3" r="2.3"/>
<circle cx="426.9" cy="431.5" r="2.3"/>
<circle cx="419.3" cy="451.8" r="2.3"/>
<circle cx="458.0" cy="395.9" r="2.3"/>
<circle cx="428.7" cy="439.7" r="2.3"/>
<circle cx="449.0" cy="402.7" r="2.3"/>
<circle cx="419.1" cy="442.5" r="2.3"/>
<circle cx="422.4" cy="435.1" r="2.3"/>
<circle cx="437.6" cy="427.4" r="2.3"/>
<circle cx="449.0" cy="419.9" r="2.3"/>
<circle cx="427.1" cy="448.9" r="2.3"/>
<circle cx="433.8" cy="429.9" r="2.3"/>
<circle cx="420.6" cy="440.8" r="2.3"/>
<circle cx="423.4" cy="447.9" r="2.3"/>
<circle cx="424.0" cy="423.8" r="2.3"/>
<circle cx="426.0" cy="439.7" r="2.3"/>
<circle cx="420.8" cy="443.5" r="2.3"/>
<circle cx="429.1" cy="446.8" r="2.3"/>
<circle cx="422.6" cy="445.4" r="2.3"/>
<circle cx="422.5" cy="437.3" r="2.3"/>
<circle cx="419.2" cy="450.8" r="2.3"/>
<circle cx="446.3" cy="394.9" r="2.3"/>
<circle cx="429.9" cy="436.7" r="2.3"/>
<circle cx="420.7" cy="440.2" r="2.3"/>
<circle cx="425.1" cy="440.0" r="2.3"/>
<circle cx="434.4" cy="434.7" r="2.3"/>
<circle cx="461.3" cy="379.6" r="2.3"/>
<circle cx="435.2" cy="438.5" r="2.3"/>
<circle cx="422.1" cy="451.5" r="2.3"/>
<circle cx="441.5" cy="394.2" r="2.3"/>
<circle cx="439.2" cy="418.4" r="2.3"/>
<circle cx="430.4" cy="435.0" r="2.3"/>
<circle cx="442.1" cy="406.2" r="2.3"/>
<circle cx="428.6" cy="429.0" r="2.3"/>
<circle cx="422.1" cy="439.1" r="2.3"/>
<circle cx="435.1" cy="434.2" r="2.3"/>
<circle cx="426.0" cy="446.0" r="2.3"/>
<circle cx="424.3" cy="437.4" r="2.3"/>
<circle cx="442.3" cy="392.9" r="2.3"/>
<circle cx="418.6" cy="448.0" r="2.3"/>
<circle cx="440.6" cy="419.9" r="2.3"/>
<circle cx="473.1" cy="366.7" r="2.3"/>
<circle cx="419.9" cy="451.3" r="2.3"/>
<circle cx="436.4" cy="402.0" r="2.3"/>
<circle cx="425.7" cy="451.5" r="2.3"/>
<circle cx="431.5" cy="427.9" r="2.3"/>
<circle cx="462.1" cy="385.2" r="2.3"/>
<circle cx="418.7" cy="447.7" r="2.3"/>
<circle cx="419.9" cy="448.4" r="2.3"/>
<circle cx="428.7" cy="427.8" r="2.3"/>
<circle cx="439.2" cy="414.6" r="2.3"/>
<circle cx="437.9" cy="437.2" r="2.3"/>
<circle cx="425.8" cy="438.6" r="2.3"/>
<circle cx="425.6" cy="449.7" r="2.3"/>
<circle cx="419.6" cy="446.3" r="2.3"/>
<circle cx="418.8" cy="448.9" r="2.3"/>
<circle cx="430.2" cy="445.3" r="2.3"/>
<circle cx="418.4" cy="450.9" r="2.3"/>
<circle cx="423.2" cy="428.6" r="2.3"/>
<circle cx="428.0" cy="429.1" r="2.3"/>
<circle cx="427.2" cy="438.8" r="2.3"/>
<circle cx="423.8" cy="444.0" r="2.3"/>
<circle cx="421.6" cy="446.8" r="2.3"/>
<circle cx="447.5" cy="408.5" r="2.3"/>
<circle cx="425.4" cy="443.3" r="2.3"/>
<circle cx="428.0" cy="434.8" r="2.3"/>
<circle cx="427.1" cy="438.0" r="2.3"/>
<circle cx="431.5" cy="422.5" r="2.3"/>
<circle cx="466.9" cy="383.9" r="2.3"/>
<circle cx="431.4" cy="426.8" r="2.3"/>
<circle cx="419.6" cy="449.4" r="2.3"/>
<circle cx="447.0" cy="408.0" r="2.3"/>
<circle cx="424.4" cy="439.7" r="2.3"/>
<circle cx="418.8" cy="449.8" r="2.3"/>
<circle cx="444.8" cy="401.0" r="2.3"/>
<circle cx="423.2" cy="448.7" r="2.3"/>
<circle cx="440.0" cy="446.4" r="2.3"/>
<circle cx="446.4" cy="397.0" r="2.3"/>
<circle cx="419.2" cy="444.0" r="2.3"/>
<circle cx="422.8" cy="450.5" r="2.3"/>
<circle cx="424.5" cy="439.9" r="2.3"/>
<circle cx="429.4" cy="446.9" r="2.3"/>
<circle cx="425.8" cy="433.1" r="2.3"/>
<circle cx="420.6" cy="445.9" r="2.3"/>
<circle cx="423.9" cy="440.9" r="2.3"/>
<circle cx="427.4" cy="436.7" r="2.3"/>
<circle cx="420.6" cy="450.2" r="2.3"/>
<circle cx="441.6" cy="403.9" r="2.3"/>
<circle cx="432.5" cy="437.7" r="2.3"/>
<circle cx="430.8" cy="448.8" r="2.3"/>
<circle cx="420.5" cy="445.2" r="2.3"/>
<circle cx="424.1" cy="444.2" r="2.3"/>
<circle cx="430.4" cy="446.8" r="2.3"/>
<circle cx="471.9" cy="382.9" r="2.3"/>
<circle cx="422.7" cy="446.5" r="2.3"/>
<circle cx="443.9" cy="421.9" r="2.3"/>
<circle cx="423.5" cy="441.3" r="2.3"/>
<circle cx="424.4" cy="421.1" r="2.3"/>
<circle cx="422.9" cy="450.8" r="2.3"/>
<circle cx="428.1" cy="445.2" r="2.3"/>
<circle cx="443.6" cy="425.8" r="2.3"/>
<circle cx="457.5" cy="407.1" r="2.3"/>
<circle cx="419.9" cy="442.5" r="2.3"/>
<circle cx="437.9" cy="395.3" r="2.3"/>
<circle cx="420.8" cy="447.4" r="2.3"/>
<circle cx="438.8" cy="417.7" r="2.3"/>
<circle cx="423.5" cy="449.4" r="2.3"/>
<circle cx="419.6" cy="449.5" r="2.3"/>
<circle cx="457.7" cy="395.9" r="2.3"/>
<circle cx="444.1" cy="407.7" r="2.3"/>
<circle cx="424.2" cy="449.8" r="2.3"/>
<circle cx="424.2" cy="446.2" r="2.3"/>
<circle cx="438.8" cy="429.2" r="2.3"/>
<circle cx="424.7" cy="434.9" r="2.3"/>
<circle cx="437.5" cy="409.9" r="2.3"/>
<circle cx="446.6" cy="423.6" r="2.3"/>
<circle cx="418.7" cy="451.6" r="2.3"/>
<circle cx="426.0" cy="426.6" r="2.3"/>
<circle cx="442.4" cy="399.5" r="2.3"/>
<circle cx="426.5" cy="430.8" r="2.3"/>
<circle cx="422.6" cy="447.6" r="2.3"/>
<circle cx="436.8" cy="414.4" r="2.3"/>
<circle cx="439.5" cy="397.3" r="2.3"/>
<circle cx="432.3" cy="427.6" r="2.3"/>
<circle cx="441.5" cy="410.7" r="2.3"/>
<circle cx="436.7" cy="424.6" r="2.3"/>
<circle cx="421.9" cy="442.6" r="2.3"/>
<circle cx="419.1" cy="447.2" r="2.3"/>
<circle cx="423.4" cy="449.9" r="2.3"/>
<circle cx="420.1" cy="444.4" r="2.3"/>
<circle cx="455.0" cy="397.7" r="2.3"/>
<circle cx="426.9" cy="434.2" r="2.3"/>
<circle cx="420.4" cy="440.0" r="2.3"/>
<circle cx="421.6" cy="452.0" r="2.3"/>
<circle cx="444.9" cy="403.5" r="2.3"/>
<circle cx="434.6" cy="433.3" r="2.3"/>
<circle cx="423.6" cy="446.1" r="2.3"/>
<circle cx="440.6" cy="427.0" r="2.3"/>
<circle cx="429.5" cy="433.0" r="2.3"/>
<circle cx="436.6" cy="421.6" r="2.3"/>
<circle cx="425.8" cy="434.6" r="2.3"/>
<circle cx="432.1" cy="432.7" r="2.3"/>
<circle cx="422.5" cy="451.6" r="2.3"/>
<circle cx="463.4" cy="393.3" r="2.3"/>
<circle cx="420.1" cy="439.2" r="2.3"/>
<circle cx="433.3" cy="426.0" r="2.3"/>
<circle cx="430.5" cy="445.7" r="2.3"/>
<circle cx="420.1" cy="446.9" r="2.3"/>
<circle cx="424.7" cy="439.6" r="2.3"/>
<circle cx="445.4" cy="385.1" r="2.3"/>
<circle cx="419.6" cy="451.0" r="2.3"/>
<circle cx="423.4" cy="444.4" r="2.3"/>
<circle cx="436.2" cy="412.4" r="2.3"/>
<circle cx="438.1" cy="417.1" r="2.3"/>
<circle cx="420.3" cy="435.0" r="2.3"/>
<circle cx="418.6" cy="451.9" r="2.3"/>
<circle cx="425.5" cy="436.5" r="2.3"/>
<circle cx="426.1" cy="441.5" r="2.3"/>
<circle cx="456.0" cy="388.7" r="2.3"/>
<circle cx="444.1" cy="399.0" r="2.3"/>
<circle cx="435.9" cy="414.3" r="2.3"/>
<circle cx="428.8" cy="419.8" r="2.3"/>
<circle cx="420.1" cy="441.6" r="2.3"/>
<circle cx="474.9" cy="408.2" r="2.3"/>
<circle cx="419.4" cy="447.9" r="2.3"/>
<circle cx="432.8" cy="442.2" r="2.3"/>
<circle cx="425.9" cy="440.4" r="2.3"/>
<circle cx="419.7" cy="451.6" r="2.3"/>
<circle cx="428.2" cy="448.4" r="2.3"/>
<circle cx="433.4" cy="423.1" r="2.3"/>
<circle cx="435.1" cy="430.3" r="2.3"/>
<circle cx="420.5" cy="441.9" r="2.3"/>
<circle cx="426.8" cy="439.7" r="2.3"/>
<circle cx="419.6" cy="437.6" r="2.3"/>
<circle cx="422.2" cy="449.1" r="2.3"/>
<circle cx="418.7" cy="445.4" r="2.3"/>
<circle cx="446.6" cy="396.2" r="2.3"/>
<circle cx="422.0" cy="447.6" r="2.3"/>
<circle cx="422.7" cy="435.8" r="2.3"/>
<circle cx="424.7" cy="451.4" r="2.3"/>
<circle cx="423.7" cy="448.7" r="2.3"/>
<circle cx="435.7" cy="419.7" r="2.3"/>
<circle cx="447.2" cy="409.9" r="2.3"/>
<circle cx="437.3" cy="430.8" r="2.3"/>
<circle cx="420.8" cy="450.0" r="2.3"/>
<circle cx="465.1" cy="395.4" r="2.3"/>
<circle cx="444.8" cy="396.4" r="2.3"/>
<circle cx="431.0" cy="440.5" r="2.3"/>
<circle cx="435.7" cy="431.8" r="2.3"/>
<circle cx="447.3" cy="373.1" r="2.3"/>
<circle cx="423.7" cy="431.4" r="2.3"/>
<circle cx="450.7" cy="423.2" r="2.3"/>
<circle cx="451.3" cy="441.5" r="2.3"/>
<circle cx="432.4" cy="425.6" r="2.3"/>
<circle cx="422.6" cy="436.6" r="2.3"/>
<circle cx="425.3" cy="425.3" r="2.3"/>
<circle cx="432.3" cy="434.1" r="2.3"/>
<circle cx="455.4" cy="414.3" r="2.3"/>
<circle cx="433.1" cy="432.4" r="2.3"/>
<circle cx="435.2" cy="427.1" r="2.3"/>
<circle cx="420.2" cy="450.6" r="2.3"/>
<circle cx="421.3" cy="445.9" r="2.3"/>
<circle cx="424.3" cy="437.3" r="2.3"/>
<circle cx="455.1" cy="423.6" r="2.3"/>
<circle cx="426.5" cy="449.5" r="2.3"/>
<circle cx="429.3" cy="440.2" r="2.3"/>
<circle cx="420.5" cy="450.4" r="2.3"/>
<circle cx="444.6" cy="380.5" r="2.3"/>
<circle cx="420.1" cy="446.8" r="2.3"/>
<circle cx="442.2" cy="416.7" r="2.3"/>
<circle cx="430.0" cy="445.9" r="2.3"/>
<circle cx="433.4" cy="430.7" r="2.3"/>
<circle cx="430.7" cy="428.6" r="2.3"/>
<circle cx="419.4" cy="449.1" r="2.3"/>
<circle cx="427.9" cy="431.8" r="2.3"/>
<circle cx="436.1" cy="439.6" r="2.3"/>
<circle cx="424.3" cy="434.2" r="2.3"/>
<circle cx="421.7" cy="447.2" r="2.3"/>
<circle cx="440.0" cy="420.2" r="2.3"/>
<circle cx="432.0" cy="428.1" r="2.3"/>
<circle cx="425.2" cy="436.9" r="2.3"/>
<circle cx="430.1" cy="418.8" r="2.3"/>
<circle cx="425.1" cy="440.9" r="2.3"/>
<circle cx="424.1" cy="438.2" r="2.3"/>
<circle cx="420.7" cy="447.3" r="2.3"/>
<circle cx="421.3" cy="442.8" r="2.3"/>
<circle cx="426.9" cy="433.5" r="2.3"/>
<circle cx="422.8" cy="446.0" r="2.3"/>
<circle cx="427.2" cy="424.4" r="2.3"/>
<circle cx="445.0" cy="406.0" r="2.3"/>
<circle cx="422.9" cy="451.2" r="2.3"/>
<circle cx="425.7" cy="434.9" r="2.3"/>
<circle cx="426.1" cy="439.9" r="2.3"/>
<circle cx="448.6" cy="423.5" r="2.3"/>
<circle cx="427.0" cy="437.0" r="2.3"/>
<circle cx="460.4" cy="406.2" r="2.3"/>
<circle cx="419.0" cy="450.5" r="2.3"/>
<circle cx="440.9" cy="400.0" r="2.3"/>
<circle cx="437.3" cy="439.1" r="2.3"/>
<circle cx="437.6" cy="411.1" r="2.3"/>
<circle cx="427.9" cy="442.1" r="2.3"/>
<circle cx="429.3" cy="447.3" r="2.3"/>
<circle cx="425.4" cy="443.5" r="2.3"/>
<circle cx="429.3" cy="434.8" r="2.3"/>
<circle cx="445.7" cy="381.9" r="2.3"/>
<circle cx="466.0" cy="359.7" r="2.3"/>
<circle cx="429.3" cy="434.7" r="2.3"/>
<circle cx="443.2" cy="419.5" r="2.3"/>
<circle cx="474.9" cy="388.0" r="2.3"/>
<circle cx="446.5" cy="420.3" r="2.3"/>
<circle cx="420.0" cy="446.9" r="2.3"/>
<circle cx="426.4" cy="439.7" r="2.3"/>
<circle cx="456.0" cy="383.2" r="2.3"/>
<circle cx="418.8" cy="444.9" r="2.3"/>
<circle cx="431.4" cy="438.1" r="2.3"/>
<circle cx="438.8" cy="412.7" r="2.3"/>
<circle cx="456.6" cy="369.8" r="2.3"/>
<circle cx="422.6" cy="435.2" r="2.3"/>
<circle cx="439.7" cy="416.2" r="2.3"/>
<circle cx="440.9" cy="413.4" r="2.3"/>
<circle cx="422.2" cy="444.8" r="2.3"/>
<circle cx="427.1" cy="425.1" r="2.3"/>
<circle cx="426.5" cy="439.4" r="2.3"/>
<circle cx="425.8" cy="446.9" r="2.3"/>
<circle cx="429.1" cy="443.8" r="2.3"/>
<circle cx="466.0" cy="368.4" r="2.3"/>
<circle cx="423.3" cy="439.6" r="2.3"/>
<circle cx="426.1" cy="449.1" r="2.3"/>
<circle cx="434.7" cy="428.0" r="2.3"/>
<circle cx="433.7" cy="407.4" r="2.3"/>
<circle cx="437.9" cy="424.4" r="2.3"/>
<circle cx="429.4" cy="440.6" r="2.3"/>
<circle cx="444.6" cy="435.1" r="2.3"/>
<circle cx="423.6" cy="434.3" r="2.3"/>
<circle cx="420.0" cy="440.2" r="2.3"/>
<circle cx="418.4" cy="446.2" r="2.3"/>
<circle cx="436.6" cy="413.8" r="2.3"/>
<circle cx="421.6" cy="440.5" r="2.3"/>
<circle cx="469.3" cy="382.8" r="2.3"/>
<circle cx="419.7" cy="451.2" r="2.3"/>
<circle cx="452.4" cy="403.2" r="2.3"/>
<circle cx="418.8" cy="451.0" r="2.3"/>
<circle cx="421.3" cy="440.9" r="2.3"/>
<circle cx="418.8" cy="446.4" r="2.3"/>
<circle cx="422.2" cy="441.9" r="2.3"/>
<circle cx="427.3" cy="435.0" r="2.3"/>
<circle cx="431.7" cy="429.6" r="2.3"/>
<circle cx="452.4" cy="387.8" r="2.3"/>
<circle cx="431.5" cy="421.0" r="2.3"/>
<circle cx="463.7" cy="363.5" r="2.3"/>
<circle cx="431.9" cy="423.0" r="2.3"/>
<circle cx="428.3" cy="433.2" r="2.3"/>
<circle cx="471.9" cy="351.9" r="2.3"/>
<circle cx="448.6" cy="403.1" r="2.3"/>
<circle cx="422.6" cy="434.9" r="2.3"/>
<circle cx="427.0" cy="424.6" r="2.3"/>
<circle cx="436.2" cy="434.4" r="2.3"/>
<circle cx="430.8" cy="420.2" r="2.3"/>
<circle cx="420.5" cy="449.6" r="2.3"/>
<circle cx="419.0" cy="437.7" r="2.3"/>
<circle cx="431.9" cy="447.7" r="2.3"/>
<circle cx="422.6" cy="433.9" r="2.3"/>
<circle cx="447.6" cy="405.7" r="2.3"/>
<circle cx="419.4" cy="435.9" r="2.3"/>
<circle cx="440.6" cy="427.9" r="2.3"/>
<circle cx="436.9" cy="417.9" r="2.3"/>
<circle cx="423.3" cy="451.5" r="2.3"/>
<circle cx="424.3" cy="430.0" r="2.3"/>
<circle cx="440.9" cy="414.2" r="2.3"/>
<circle cx="421.2" cy="448.0" r="2.3"/>
<circle cx="434.9" cy="418.9" r="2.3"/>
<circle cx="450.0" cy="401.3" r="2.3"/>
<circle cx="433.2" cy="424.1" r="2.3"/>
<circle cx="435.8" cy="425.8" r="2.3"/>
<circle cx="421.5" cy="448.4" r="2.3"/>
<circle cx="429.1" cy="432.1" r="2.3"/>
<circle cx="421.8" cy="448.9" r="2.3"/>
<circle cx="423.0" cy="441.2" r="2.3"/>
<circle cx="453.5" cy="384.2" r="2.3"/>
<circle cx="424.6" cy="428.8" r="2.3"/>
<circle cx="428.8" cy="428.0" r="2.3"/>
<circle cx="428.7" cy="431.1" r="2.3"/>
<circle cx="420.0" cy="449.5" r="2.3"/>
<circle cx="419.3" cy="441.3" r="2.3"/>
<circle cx="449.5" cy="398.2" r="2.3"/>
<circle cx="432.9" cy="412.7" r="2.3"/>
<circle cx="425.5" cy="442.6" r="2.3"/>
<circle cx="430.6" cy="443.7" r="2.3"/>
<circle cx="423.2" cy="448.3" r="2.3"/>
<circle cx="418.7" cy="451.9" r="2.3"/>
<circle cx="431.3" cy="427.1" r="2.3"/>
<circle cx="419.2" cy="441.2" r="2.3"/>
<circle cx="422.0" cy="445.6" r="2.3"/>
<circle cx="422.0" cy="442.2" r="2.3"/>
<circle cx="469.5" cy="375.5" r="2.3"/>
<circle cx="420.0" cy="451.0" r="2.3"/>
<circle cx="428.2" cy="432.0" r="2.3"/>
<circle cx="426.8" cy="436.7" r="2.3"/>
<circle cx="418.7" cy="449.7" r="2.3"/>
<circle cx="423.1" cy="439.1" r="2.3"/>
<circle cx="441.7" cy="416.3" r="2.3"/>
<circle cx="460.6" cy="409.3" r="2.3"/>
<circle cx="431.1" cy="411.5" r="2.3"/>
<circle cx="441.7" cy="415.4" r="2.3"/>
<circle cx="423.6" cy="434.4" r="2.3"/>
<circle cx="423.8" cy="449.4" r="2.3"/>
<circle cx="431.7" cy="420.6" r="2.3"/>
<circle cx="427.4" cy="434.0" r="2.3"/>
<circle cx="419.7" cy="450.5" r="2.3"/>
<circle cx="423.5" cy="439.8" r="2.3"/>
<circle cx="419.8" cy="444.3" r="2.3"/>
<circle cx="425.7" cy="432.7" r="2.3"/>
<circle cx="433.4" cy="448.6" r="2.3"/>
<circle cx="428.1" cy="423.6" r="2.3"/>
<circle cx="444.3" cy="389.7" r="2.3"/>
<circle cx="421.8" cy="451.3" r="2.3"/>
<circle cx="425.4" cy="446.3" r="2.3"/>
<circle cx="422.5" cy="440.5" r="2.3"/>
<circle cx="421.4" cy="449.4" r="2.3"/>
<circle cx="449.0" cy="399.5" r="2.3"/>
<circle cx="424.3" cy="431.3" r="2.3"/>
<circle cx="424.3" cy="441.9" r="2.3"/>
<circle cx="424.0" cy="447.1" r="2.3"/>
<circle cx="423.0" cy="447.6" r="2.3"/>
<circle cx="429.8" cy="418.5" r="2.3"/>
<circle cx="433.2" cy="436.4" r="2.3"/>
<circle cx="424.3" cy="425.5" r="2.3"/>
<circle cx="426.1" cy="438.0" r="2.3"/>
<circle cx="456.0" cy="389.6" r="2.3"/>
<circle cx="419.6" cy="450.6" r="2.3"/>
<circle cx="423.5" cy="427.8" r="2.3"/>
<circle cx="419.9" cy="451.0" r="2.3"/>
<circle cx="418.6" cy="449.9" r="2.3"/>
<circle cx="427.2" cy="432.8" r="2.3"/>
<circle cx="418.8" cy="451.2" r="2.3"/>
<circle cx="428.5" cy="438.1" r="2.3"/>
<circle cx="425.8" cy="443.8" r="2.3"/>
<circle cx="430.0" cy="437.4" r="2.3"/>
<circle cx="423.3" cy="444.0" r="2.3"/>
<circle cx="418.5" cy="450.6" r="2.3"/>
<circle cx="432.5" cy="429.4" r="2.3"/>
<circle cx="426.5" cy="440.9" r="2.3"/>
<circle cx="428.1" cy="435.2" r="2.3"/>
<circle cx="419.1" cy="440.8" r="2.3"/>
<circle cx="421.5" cy="449.4" r="2.3"/>
<circle cx="427.8" cy="436.9" r="2.3"/>
<circle cx="421.8" cy="448.9" r="2.3"/>
<circle cx="443.3" cy="407.9" r="2.3"/>
<circle cx="427.1" cy="439.4" r="2.3"/>
<circle cx="455.4" cy="424.3" r="2.3"/>
<circle cx="435.4" cy="432.7" r="2.3"/>
<circle cx="421.6" cy="448.7" r="2.3"/>
<circle cx="421.7" cy="450.5" r="2.3"/>
<circle cx="427.4" cy="423.9" r="2.3"/>
<circle cx="446.6" cy="413.7" r="2.3"/>
<circle cx="425.0" cy="442.9" r="2.3"/>
<circle cx="460.7" cy="400.8" r="2.3"/>
<circle cx="440.1" cy="422.6" r="2.3"/>
<circle cx="418.7" cy="451.2" r="2.3"/>
<circle cx="425.5" cy="451.5" r="2.3"/>
<circle cx="424.2" cy="435.0" r="2.3"/>
<circle cx="420.7" cy="448.9" r="2.3"/>
<circle cx="424.4" cy="447.2" r="2.3"/>
<circle cx="423.2" cy="439.9" r="2.3"/>
<circle cx="423.0" cy="446.2" r="2.3"/>
<circle cx="463.4" cy="402.5" r="2.3"/>
<circle cx="422.6" cy="444.4" r="2.3"/>
<circle cx="419.0" cy="449.0" r="2.3"/>
<circle cx="440.7" cy="427.0" r="2.3"/>
<circle cx="424.7" cy="429.7" r="2.3"/>
<circle cx="422.4" cy="448.8" r="2.3"/>
<circle cx="426.0" cy="436.0" r="2.3"/>
<circle cx="420.5" cy="450.6" r="2.3"/>
<circle cx="421.8" cy="443.3" r="2.3"/>
<circle cx="427.7" cy="451.1" r="2.3"/>
<circle cx="459.8" cy="371.4" r="2.3"/>
<circle cx="422.8" cy="444.1" r="2.3"/>
<circle cx="421.0" cy="440.3" r="2.3"/>
<circle cx="466.0" cy="385.0" r="2.3"/>
<circle cx="430.6" cy="439.6" r="2.3"/>
<circle cx="428.9" cy="433.5" r="2.3"/>
<circle cx="428.5" cy="439.4" r="2.3"/>
<circle cx="424.0" cy="443.4" r="2.3"/>
<circle cx="420.3" cy="449.0" r="2.3"/>
<circle cx="418.8" cy="448.6" r="2.3"/>
<circle cx="436.1" cy="420.3" r="2.3"/>
<circle cx="420.5" cy="439.1" r="2.3"/>
<circle cx="420.3" cy="435.9" r="2.3"/>
<circle cx="432.7" cy="443.5" r="2.3"/>
<circle cx="428.0" cy="439.5" r="2.3"/>
<circle cx="419.8" cy="437.9" r="2.3"/>
<circle cx="421.5" cy="451.7" r="2.3"/>
<circle cx="419.6" cy="451.7" r="2.3"/>
<circle cx="420.5" cy="450.2" r="2.3"/>
<circle cx="419.6" cy="449.9" r="2.3"/>
<circle cx="466.6" cy="366.8" r="2.3"/>
<circle cx="428.3" cy="435.4" r="2.3"/>
<circle cx="441.7" cy="418.8" r="2.3"/>
<circle cx="423.9" cy="436.2" r="2.3"/>
<circle cx="426.8" cy="427.3" r="2.3"/>
<circle cx="420.0" cy="443.3" r="2.3"/>
<circle cx="419.4" cy="436.5" r="2.3"/>
<circle cx="420.8" cy="448.1" r="2.3"/>
<circle cx="425.9" cy="441.5" r="2.3"/>
<circle cx="424.0" cy="444.6" r="2.3"/>
<circle cx="438.3" cy="407.1" r="2.3"/>
<circle cx="437.8" cy="398.7" r="2.3"/>
<circle cx="437.6" cy="429.3" r="2.3"/>
<circle cx="448.6" cy="402.7" r="2.3"/>
<circle cx="440.2" cy="420.9" r="2.3"/>
<circle cx="431.7" cy="421.0" r="2.3"/>
<circle cx="441.7" cy="427.6" r="2.3"/>
<circle cx="436.1" cy="404.4" r="2.3"/>
<circle cx="429.8" cy="437.3" r="2.3"/>
<circle cx="420.4" cy="442.3" r="2.3"/>
<circle cx="440.6" cy="410.6" r="2.3"/>
<circle cx="425.3" cy="446.8" r="2.3"/>
<circle cx="440.4" cy="395.4" r="2.3"/>
<circle cx="426.4" cy="430.0" r="2.3"/>
<circle cx="432.8" cy="451.3" r="2.3"/>
<circle cx="447.6" cy="388.3" r="2.3"/>
<circle cx="444.9" cy="407.2" r="2.3"/>
<circle cx="427.5" cy="435.2" r="2.3"/>
<circle cx="453.7" cy="387.4" r="2.3"/>
<circle cx="434.1" cy="438.1" r="2.3"/>
<circle cx="428.1" cy="440.8" r="2.3"/>
<circle cx="419.8" cy="436.8" r="2.3"/>
<circle cx="435.8" cy="434.8" r="2.3"/>
<circle cx="436.7" cy="427.9" r="2.3"/>
<circle cx="444.7" cy="425.2" r="2.3"/>
<circle cx="444.5" cy="413.4" r="2.3"/>
<circle cx="452.4" cy="408.1" r="2.3"/>
<circle cx="422.4" cy="436.5" r="2.3"/>
<circle cx="454.0" cy="392.9" r="2.3"/>
<circle cx="444.4" cy="419.7" r="2.3"/>
<circle cx="435.4" cy="429.1" r="2.3"/>
<circle cx="422.3" cy="441.8" r="2.3"/>
<circle cx="421.0" cy="436.6" r="2.3"/>
<circle cx="419.7" cy="440.8" r="2.3"/>
<circle cx="444.6" cy="430.3" r="2.3"/>
<circle cx="419.2" cy="451.1" r="2.3"/>
<circle cx="448.6" cy="427.0" r="2.3"/>
<circle cx="427.8" cy="434.1" r="2.3"/>
<circle cx="433.8" cy="429.0" r="2.3"/>
<circle cx="428.8" cy="439.4" r="2.3"/>
<circle cx="437.8" cy="418.8" r="2.3"/>
<circle cx="435.1" cy="419.6" r="2.3"/>
<circle cx="424.9" cy="446.1" r="2.3"/>
<circle cx="419.9" cy="440.8" r="2.3"/>
<circle cx="425.6" cy="433.3" r="2.3"/>
<circle cx="423.6" cy="451.9" r="2.3"/>
<circle cx="418.5" cy="439.5" r="2.3"/>
<circle cx="427.6" cy="451.3" r="2.3"/>
<circle cx="445.7" cy="393.6" r="2.3"/>
<circle cx="422.9" cy="448.6" r="2.3"/>
<circle cx="436.0" cy="436.8" r="2.3"/>
<circle cx="426.9" cy="447.6" r="2.3"/>
<circle cx="419.2" cy="437.8" r="2.3"/>
<circle cx="430.8" cy="429.2" r="2.3"/>
<circle cx="424.0" cy="432.7" r="2.3"/>
<circle cx="420.0" cy="452.0" r="2.3"/>
<circle cx="429.5" cy="437.4" r="2.3"/>
<circle cx="424.1" cy="449.8" r="2.3"/>
<circle cx="462.1" cy="402.6" r="2.3"/>
<circle cx="433.3" cy="423.7" r="2.3"/>
<circle cx="419.1" cy="445.1" r="2.3"/>
<circle cx="430.6" cy="437.1" r="2.3"/>
<circle cx="419.8" cy="452.0" r="2.3"/>
<circle cx="421.8" cy="445.7" r="2.3"/>
<circle cx="421.3" cy="450.0" r="2.3"/>
<circle cx="463.1" cy="388.6" r="2.3"/>
<circle cx="418.9" cy="449.1" r="2.3"/>
<circle cx="418.6" cy="449.3" r="2.3"/>
<circle cx="443.0" cy="403.8" r="2.3"/>
<circle cx="454.2" cy="379.0" r="2.3"/>
<circle cx="420.9" cy="445.5" r="2.3"/>
<circle cx="425.0" cy="442.4" r="2.3"/>
<circle cx="436.3" cy="425.2" r="2.3"/>
<circle cx="420.1" cy="443.3" r="2.3"/>
<circle cx="422.6" cy="439.1" r="2.3"/>
<circle cx="424.4" cy="445.8" r="2.3"/>
<circle cx="418.6" cy="441.4" r="2.3"/>
<circle cx="418.5" cy="450.8" r="2.3"/>
<circle cx="431.2" cy="425.7" r="2.3"/>
<circle cx="427.0" cy="437.3" r="2.3"/>
<circle cx="419.5" cy="448.9" r="2.3"/>
<circle cx="435.3" cy="440.8" r="2.3"/>
<circle cx="445.8" cy="424.9" r="2.3"/>
<circle cx="456.6" cy="388.1" r="2.3"/>
<circle cx="423.4" cy="438.9" r="2.3"/>
<circle cx="434.7" cy="414.8" r="2.3"/>
<circle cx="422.5" cy="445.6" r="2.3"/>
<circle cx="422.8" cy="429.5" r="2.3"/>
<circle cx="426.4" cy="426.7" r="2.3"/>
<circle cx="423.3" cy="442.1" r="2.3"/>
<circle cx="430.2" cy="422.8" r="2.3"/>
<circle cx="422.9" cy="446.0" r="2.3"/>
<circle cx="423.8" cy="449.7" r="2.3"/>
<circle cx="428.9" cy="426.6" r="2.3"/>
<circle cx="420.3" cy="447.5" r="2.3"/>
<circle cx="449.0" cy="417.2" r="2.3"/>
<circle cx="423.5" cy="442.6" r="2.3"/>
<circle cx="437.6" cy="445.9" r="2.3"/>
<circle cx="434.1" cy="417.2" r="2.3"/>
<circle cx="431.0" cy="449.4" r="2.3"/>
<circle cx="430.6" cy="403.2" r="2.3"/>
<circle cx="419.6" cy="452.1" r="2.3"/>
<circle cx="430.2" cy="430.3" r="2.3"/>
<circle cx="428.6" cy="439.4" r="2.3"/>
<circle cx="419.3" cy="444.4" r="2.3"/>
<circle cx="422.2" cy="451.6" r="2.3"/>
<circle cx="437.0" cy="406.2" r="2.3"/>
<circle cx="418.5" cy="451.2" r="2.3"/>
<circle cx="420.9" cy="448.9" r="2.3"/>
<circle cx="432.9" cy="422.6" r="2.3"/>
<circle cx="423.2" cy="450.1" r="2.3"/>
<circle cx="421.7" cy="448.9" r="2.3"/>
<circle cx="423.2" cy="443.2" r="2.3"/>
<circle cx="428.0" cy="425.0" r="2.3"/>
<circle cx="463.4" cy="382.4" r="2.3"/>
<circle cx="423.3" cy="445.5" r="2.3"/>
<circle cx="434.7" cy="418.9" r="2.3"/>
<circle cx="434.1" cy="427.5" r="2.3"/>
<circle cx="420.4" cy="450.5" r="2.3"/>
<circle cx="420.7" cy="438.4" r="2.3"/>
<circle cx="426.2" cy="436.3" r="2.3"/>
<circle cx="476.4" cy="382.5" r="2.3"/>
<circle cx="425.8" cy="434.5" r="2.3"/>
<circle cx="427.4" cy="434.8" r="2.3"/>
<circle cx="424.9" cy="431.6" r="2.3"/>
<circle cx="423.6" cy="433.8" r="2.3"/>
<circle cx="419.3" cy="443.0" r="2.3"/>
<circle cx="419.8" cy="450.2" r="2.3"/>
<circle cx="427.1" cy="430.9" r="2.3"/>
<circle cx="435.6" cy="415.6" r="2.3"/>
<circle cx="433.6" cy="424.6" r="2.3"/>
<circle cx="430.0" cy="433.6" r="2.3"/>
<circle cx="418.9" cy="436.6" r="2.3"/>
<circle cx="421.9" cy="436.2" r="2.3"/>
<circle cx="452.0" cy="380.6" r="2.3"/>
<circle cx="446.2" cy="431.4" r="2.3"/>
<circle cx="438.0" cy="404.9" r="2.3"/>
<circle cx="470.0" cy="410.3" r="2.3"/>
<circle cx="422.8" cy="431.2" r="2.3"/>
<circle cx="427.1" cy="431.3" r="2.3"/>
<circle cx="418.5" cy="448.1" r="2.3"/>
<circle cx="421.0" cy="443.8" r="2.3"/>
<circle cx="420.0" cy="448.2" r="2.3"/>
<circle cx="465.6" cy="383.6" r="2.3"/>
<circle cx="444.2" cy="405.0" r="2.3"/>
<circle cx="423.4" cy="450.7" r="2.3"/>
<circle cx="419.2" cy="442.3" r="2.3"/>
<circle cx="419.4" cy="444.1" r="2.3"/>
<circle cx="418.5" cy="440.6" r="2.3"/>
<circle cx="429.5" cy="436.7" r="2.3"/>
<circle cx="436.1" cy="408.5" r="2.3"/>
<circle cx="426.6" cy="437.9" r="2.3"/>
<circle cx="418.7" cy="446.8" r="2.3"/>
<circle cx="451.4" cy="417.3" r="2.3"/>
<circle cx="424.5" cy="432.4" r="2.3"/>
<circle cx="436.1" cy="430.2" r="2.3"/>
<circle cx="458.9" cy="380.8" r="2.3"/>
<circle cx="450.0" cy="405.6" r="2.3"/>
<circle cx="429.8" cy="433.1" r="2.3"/>
<circle cx="431.2" cy="435.9" r="2.3"/>
<circle cx="457.7" cy="356.4" r="2.3"/>
<circle cx="421.9" cy="436.9" r="2.3"/>
<circle cx="429.7" cy="431.9" r="2.3"/>
<circle cx="474.5" cy="344.8" r="2.3"/>
<circle cx="422.7" cy="452.0" r="2.3"/>
<circle cx="422.8" cy="450.4" r="2.3"/>
<circle cx="449.0" cy="402.2" r="2.3"/>
<circle cx="438.9" cy="422.0" r="2.3"/>
<circle cx="419.2" cy="451.7" r="2.3"/>
<circle cx="438.8" cy="407.6" r="2.3"/>
<circle cx="427.2" cy="440.5" r="2.3"/>
<circle cx="448.2" cy="417.5" r="2.3"/>
<circle cx="424.1" cy="442.7" r="2.3"/>
<circle cx="419.3" cy="438.1" r="2.3"/>
<circle cx="445.9" cy="404.5" r="2.3"/>
<circle cx="429.8" cy="437.5" r="2.3"/>
<circle cx="444.0" cy="433.5" r="2.3"/>
<circle cx="429.0" cy="449.7" r="2.3"/>
<circle cx="420.6" cy="451.8" r="2.3"/>
<circle cx="418.8" cy="445.3" r="2.3"/>
<circle cx="420.3" cy="445.9" r="2.3"/>
<circle cx="434.5" cy="436.9" r="2.3"/>
<circle cx="426.8" cy="436.8" r="2.3"/>
<circle cx="434.6" cy="423.8" r="2.3"/>
<circle cx="427.9" cy="446.6" r="2.3"/>
<circle cx="418.8" cy="447.9" r="2.3"/>
<circle cx="430.9" cy="435.2" r="2.3"/>
<circle cx="423.2" cy="443.9" r="2.3"/>
<circle cx="447.2" cy="411.5" r="2.3"/>
<circle cx="422.6" cy="438.6" r="2.3"/>
<circle cx="421.1" cy="449.5" r="2.3"/>
<circle cx="503.8" cy="214.1" r="2.3"/>
<circle cx="472.3" cy="232.6" r="2.3"/>
<circle cx="502.0" cy="250.6" r="2.3"/>
<circle cx="510.8" cy="290.4" r="2.3"/>
<circle cx="495.6" cy="312.5" r="2.3"/>
<circle cx="473.0" cy="326.3" r="2.3"/>
<circle cx="486.6" cy="334.0" r="2.3"/>
<circle cx="498.7" cy="324.5" r="2.3"/>
<circle cx="443.5" cy="356.1" r="2.3"/>
<circle cx="457.6" cy="341.2" r="2.3"/>
<circle cx="462.8" cy="339.9" r="2.3"/>
<circle cx="479.5" cy="341.2" r="2.3"/>
<circle cx="469.2" cy="352.8" r="2.3"/>
<circle cx="453.8" cy="361.2" r="2.3"/>
<circle cx="443.5" cy="373.3" r="2.3"/>
<circle cx="437.1" cy="378.4" r="2.3"/>
<circle cx="432.7" cy="392.6" r="2.3"/>
<circle cx="497.9" cy="360.5" r="2.3"/>
<circle cx="490.2" cy="373.8" r="2.3"/>
<circle cx="490.5" cy="389.2" r="2.3"/>
<circle cx="480.7" cy="400.3" r="2.3"/>
<circle cx="518.7" cy="400.3" r="2.3"/>
<circle cx="537.2" cy="400.3" r="2.3"/>
<circle cx="467.9" cy="419.5" r="2.3"/>
<circle cx="475.6" cy="417.7" r="2.3"/>
<circle cx="460.2" cy="412.6" r="2.3"/>
<circle cx="459.4" cy="441.3" r="2.3"/>
<circle cx="473.8" cy="445.2" r="2.3"/>
<circle cx="492.3" cy="354.0" r="2.3"/>
</g>
<g fill="#00BFC4" fill-opacity="0.45" stroke="#00BFC4" stroke-opacity="0.35" stroke-width="1">
<circle cx="132.0" cy="871.0" r="2.35"/>
<circle cx="144.6" cy="845.8" r="2.35"/>
<circle cx="160.0" cy="848.9" r="2.35"/>
<circle cx="141.4" cy="872.4" r="2.35"/>
<circle cx="135.8" cy="863.7" r="2.35"/>
<circle cx="138.1" cy="853.3" r="2.35"/>
<circle cx="152.0" cy="851.5" r="2.35"/>
<circle cx="131.7" cy="876.2" r="2.35"/>
<circle cx="144.2" cy="874.3" r="2.35"/>
<circle cx="131.3" cy="876.0" r="2.35"/>
<circle cx="134.1" cy="864.9" r="2.35"/>
<circle cx="132.3" cy="874.4" r="2.35"/>
<circle cx="133.9" cy="867.6" r="2.35"/>
<circle cx="158.3" cy="843.4" r="2.35"/>
<circle cx="131.2" cy="864.9" r="2.35"/>
<circle cx="140.2" cy="868.5" r="2.35"/>
<circle cx="134.6" cy="874.7" r="2.35"/>
<circle cx="153.8" cy="858.7" r="2.35"/>
<circle cx="136.9" cy="876.0" r="2.35"/>
<circle cx="167.5" cy="841.2" r="2.35"/>
<circle cx="150.8" cy="845.6" r="2.35"/>
<circle cx="150.6" cy="868.2" r="2.35"/>
<circle cx="139.4" cy="861.6" r="2.35"/>
<circle cx="149.8" cy="846.8" r="2.35"/>
<circle cx="131.7" cy="875.2" r="2.35"/>
<circle cx="143.6" cy="878.1" r="2.35"/>
<circle cx="137.2" cy="876.6" r="2.35"/>
<circle cx="131.8" cy="877.6" r="2.35"/>
<circle cx="138.3" cy="878.6" r="2.35"/>
<circle cx="149.6" cy="862.1" r="2.35"/>
<circle cx="134.8" cy="869.8" r="2.35"/>
<circle cx="138.1" cy="862.0" r="2.35"/>
<circle cx="131.5" cy="866.6" r="2.35"/>
<circle cx="164.7" cy="850.0" r="2.35"/>
<circle cx="168.9" cy="857.7" r="2.35"/>
<circle cx="131.7" cy="875.8" r="2.35"/>
<circle cx="134.6" cy="872.3" r="2.35"/>
<circle cx="140.6" cy="860.0" r="2.35"/>
<circle cx="160.1" cy="847.3" r="2.35"/>
<circle cx="139.6" cy="878.8" r="2.35"/>
<circle cx="158.8" cy="837.9" r="2.35"/>
<circle cx="143.1" cy="871.3" r="2.35"/>
<circle cx="133.6" cy="872.5" r="2.35"/>
<circle cx="145.5" cy="846.0" r="2.35"/>
<circle cx="136.2" cy="871.7" r="2.35"/>
<circle cx="131.5" cy="878.3" r="2.35"/>
<circle cx="140.4" cy="861.1" r="2.35"/>
<circle cx="179.1" cy="850.5" r="2.35"/>
<circle cx="133.2" cy="871.5" r="2.35"/>
<circle cx="137.4" cy="865.4" r="2.35"/>
<circle cx="140.2" cy="862.6" r="2.35"/>
<circle cx="160.1" cy="835.5" r="2.35"/>
<circle cx="172.7" cy="832.6" r="2.35"/>
<circle cx="156.3" cy="840.8" r="2.35"/>
<circle cx="143.3" cy="863.6" r="2.35"/>
<circle cx="176.0" cy="841.2" r="2.35"/>
<circle cx="131.1" cy="878.8" r="2.35"/>
<circle cx="135.7" cy="873.0" r="2.35"/>
<circle cx="131.1" cy="878.7" r="2.35"/>
<circle cx="135.0" cy="872.4" r="2.35"/>
<circle cx="130.9" cy="878.2" r="2.35"/>
<circle cx="156.3" cy="844.7" r="2.35"/>
<circle cx="130.9" cy="876.4" r="2.35"/>
<circle cx="132.5" cy="875.8" r="2.35"/>
<circle cx="149.4" cy="851.3" r="2.35"/>
<circle cx="139.7" cy="878.4" r="2.35"/>
<circle cx="133.6" cy="874.9" r="2.35"/>
<circle cx="140.4" cy="863.9" r="2.35"/>
<circle cx="138.1" cy="870.2" r="2.35"/>
<circle cx="142.2" cy="870.0" r="2.35"/>
<circle cx="168.7" cy="833.6" r="2.35"/>
<circle cx="139.1" cy="871.9" r="2.35"/>
<circle cx="138.6" cy="875.3" r="2.35"/>
<circle cx="135.1" cy="870.8" r="2.35"/>
<circle cx="131.0" cy="870.9" r="2.35"/>
<circle cx="137.4" cy="861.8" r="2.35"/>
<circle cx="131.7" cy="874.1" r="2.35"/>
<circle cx="130.9" cy="866.6" r="2.35"/>
<circle cx="136.1" cy="877.9" r="2.35"/>
<circle cx="137.7" cy="869.3" r="2.35"/>
<circle cx="131.1" cy="875.9" r="2.35"/>
<circle cx="132.0" cy="876.6" r="2.35"/>
<circle cx="152.1" cy="845.3" r="2.35"/>
<circle cx="134.7" cy="870.6" r="2.35"/>
<circle cx="141.9" cy="863.7" r="2.35"/>
<circle cx="147.2" cy="875.8" r="2.35"/>
<circle cx="132.3" cy="867.9" r="2.35"/>
<circle cx="134.8" cy="877.1" r="2.35"/>
<circle cx="135.7" cy="876.3" r="2.35"/>
<circle cx="131.7" cy="876.4" r="2.35"/>
<circle cx="139.0" cy="865.2" r="2.35"/>
<circle cx="139.3" cy="870.7" r="2.35"/>
<circle cx="139.9" cy="858.5" r="2.35"/>
<circle cx="134.8" cy="879.0" r="2.35"/>
<circle cx="131.5" cy="871.2" r="2.35"/>
<circle cx="147.9" cy="861.1" r="2.35"/>
<circle cx="142.5" cy="871.2" r="2.35"/>
<circle cx="140.7" cy="852.1" r="2.35"/>
<circle cx="135.3" cy="858.8" r="2.35"/>
<circle cx="148.4" cy="869.2" r="2.35"/>
<circle cx="134.1" cy="873.8" r="2.35"/>
<circle cx="146.6" cy="859.8" r="2.35"/>
<circle cx="142.3" cy="868.1" r="2.35"/>
<circle cx="137.3" cy="870.0" r="2.35"/>
<circle cx="137.4" cy="879.0" r="2.35"/>
<circle cx="137.2" cy="860.3" r="2.35"/>
<circle cx="138.2" cy="869.2" r="2.35"/>
<circle cx="135.3" cy="870.3" r="2.35"/>
<circle cx="146.0" cy="853.8" r="2.35"/>
<circle cx="145.6" cy="872.6" r="2.35"/>
<circle cx="147.7" cy="877.7" r="2.35"/>
<circle cx="144.3" cy="858.9" r="2.35"/>
<circle cx="134.0" cy="877.8" r="2.35"/>
<circle cx="134.2" cy="875.6" r="2.35"/>
<circle cx="146.1" cy="877.1" r="2.35"/>
<circle cx="141.6" cy="879.6" r="2.35"/>
<circle cx="146.7" cy="853.2" r="2.35"/>
<circle cx="136.2" cy="876.5" r="2.35"/>
<circle cx="145.9" cy="868.8" r="2.35"/>
<circle cx="138.6" cy="874.1" r="2.35"/>
<circle cx="137.5" cy="867.3" r="2.35"/>
<circle cx="132.5" cy="877.0" r="2.35"/>
<circle cx="177.9" cy="834.1" r="2.35"/>
<circle cx="154.3" cy="846.0" r="2.35"/>
<circle cx="133.8" cy="864.5" r="2.35"/>
<circle cx="140.6" cy="873.7" r="2.35"/>
<circle cx="155.0" cy="866.3" r="2.35"/>
<circle cx="134.9" cy="876.9" r="2.35"/>
<circle cx="134.7" cy="873.5" r="2.35"/>
<circle cx="137.4" cy="877.9" r="2.35"/>
<circle cx="148.1" cy="869.8" r="2.35"/>
<circle cx="136.8" cy="867.4" r="2.35"/>
<circle cx="149.9" cy="856.7" r="2.35"/>
<circle cx="142.1" cy="868.6" r="2.35"/>
<circle cx="136.5" cy="869.6" r="2.35"/>
<circle cx="169.2" cy="837.7" r="2.35"/>
<circle cx="147.5" cy="858.9" r="2.35"/>
<circle cx="131.1" cy="875.5" r="2.35"/>
<circle cx="139.9" cy="866.1" r="2.35"/>
<circle cx="134.1" cy="873.4" r="2.35"/>
<circle cx="145.6" cy="860.5" r="2.35"/>
<circle cx="134.7" cy="867.1" r="2.35"/>
<circle cx="130.9" cy="878.6" r="2.35"/>
<circle cx="140.0" cy="863.7" r="2.35"/>
<circle cx="139.2" cy="861.8" r="2.35"/>
<circle cx="152.2" cy="861.6" r="2.35"/>
<circle cx="155.5" cy="831.4" r="2.35"/>
<circle cx="140.5" cy="865.1" r="2.35"/>
<circle cx="134.8" cy="878.1" r="2.35"/>
<circle cx="148.0" cy="862.5" r="2.35"/>
<circle cx="132.0" cy="877.9" r="2.35"/>
<circle cx="136.1" cy="863.2" r="2.35"/>
<circle cx="146.9" cy="875.4" r="2.35"/>
<circle cx="139.5" cy="867.5" r="2.35"/>
<circle cx="132.0" cy="871.2" r="2.35"/>
<circle cx="131.3" cy="870.1" r="2.35"/>
<circle cx="135.3" cy="877.5" r="2.35"/>
<circle cx="137.4" cy="877.4" r="2.35"/>
<circle cx="133.7" cy="867.7" r="2.35"/>
<circle cx="131.1" cy="873.8" r="2.35"/>
<circle cx="136.0" cy="877.8" r="2.35"/>
<circle cx="131.5" cy="876.7" r="2.35"/>
<circle cx="155.4" cy="852.9" r="2.35"/>
<circle cx="132.6" cy="873.3" r="2.35"/>
<circle cx="139.6" cy="861.6" r="2.35"/>
<circle cx="135.4" cy="864.7" r="2.35"/>
<circle cx="149.3" cy="878.4" r="2.35"/>
<circle cx="156.5" cy="844.8" r="2.35"/>
<circle cx="142.9" cy="873.9" r="2.35"/>
<circle cx="131.3" cy="863.4" r="2.35"/>
<circle cx="145.3" cy="851.2" r="2.35"/>
<circle cx="132.3" cy="870.9" r="2.35"/>
<circle cx="133.0" cy="863.6" r="2.35"/>
<circle cx="139.1" cy="861.4" r="2.35"/>
<circle cx="139.8" cy="878.3" r="2.35"/>
<circle cx="134.6" cy="875.1" r="2.35"/>
<circle cx="166.4" cy="854.8" r="2.35"/>
<circle cx="139.9" cy="864.2" r="2.35"/>
<circle cx="149.3" cy="856.5" r="2.35"/>
<circle cx="145.0" cy="859.6" r="2.35"/>
<circle cx="133.3" cy="868.8" r="2.35"/>
<circle cx="132.5" cy="873.4" r="2.35"/>
<circle cx="134.7" cy="874.5" r="2.35"/>
<circle cx="144.5" cy="865.5" r="2.35"/>
<circle cx="137.2" cy="869.3" r="2.35"/>
<circle cx="131.3" cy="876.8" r="2.35"/>
<circle cx="138.5" cy="858.3" r="2.35"/>
<circle cx="133.9" cy="878.7" r="2.35"/>
<circle cx="176.7" cy="817.5" r="2.35"/>
<circle cx="146.3" cy="860.2" r="2.35"/>
<circle cx="133.4" cy="862.7" r="2.35"/>
<circle cx="145.3" cy="858.3" r="2.35"/>
<circle cx="143.7" cy="860.3" r="2.35"/>
<circle cx="131.9" cy="877.1" r="2.35"/>
<circle cx="162.1" cy="849.4" r="2.35"/>
<circle cx="152.4" cy="852.9" r="2.35"/>
<circle cx="137.4" cy="866.5" r="2.35"/>
<circle cx="142.6" cy="857.2" r="2.35"/>
<circle cx="133.4" cy="870.7" r="2.35"/>
<circle cx="132.2" cy="875.6" r="2.35"/>
<circle cx="327.9" cy="511.6" r="2.35"/>
<circle cx="197.0" cy="545.1" r="2.35"/>
<circle cx="270.2" cy="605.9" r="2.35"/>
<circle cx="242.0" cy="625.2" r="2.35"/>
<circle cx="287.5" cy="645.2" r="2.35"/>
<circle cx="186.6" cy="648.3" r="2.35"/>
<circle cx="222.8" cy="676.4" r="2.35"/>
<circle cx="318.3" cy="685.3" r="2.35"/>
<circle cx="179.6" cy="695.3" r="2.35"/>
<circle cx="241.3" cy="692.6" r="2.35"/>
<circle cx="216.2" cy="700.3" r="2.35"/>
<circle cx="192.0" cy="705.7" r="2.35"/>
<circle cx="366.5" cy="717.3" r="2.35"/>
<circle cx="245.1" cy="724.6" r="2.35"/>
<circle cx="168.8" cy="734.6" r="2.35"/>
<circle cx="191.2" cy="734.6" r="2.35"/>
<circle cx="189.3" cy="739.6" r="2.35"/>
<circle cx="209.3" cy="738.4" r="2.35"/>
<circle cx="218.9" cy="742.7" r="2.35"/>
<circle cx="263.6" cy="733.8" r="2.35"/>
<circle cx="333.7" cy="738.8" r="2.35"/>
<circle cx="275.2" cy="741.5" r="2.35"/>
<circle cx="200.8" cy="750.4" r="2.35"/>
<circle cx="178.9" cy="760.0" r="2.35"/>
<circle cx="212.8" cy="758.1" r="2.35"/>
<circle cx="276.7" cy="760.8" r="2.35"/>
<circle cx="187.3" cy="769.3" r="2.35"/>
<circle cx="208.5" cy="767.3" r="2.35"/>
<circle cx="211.6" cy="772.3" r="2.35"/>
<circle cx="221.2" cy="770.4" r="2.35"/>
<circle cx="225.1" cy="769.3" r="2.35"/>
<circle cx="245.1" cy="769.3" r="2.35"/>
<circle cx="203.5" cy="782.0" r="2.35"/>
<circle cx="185.4" cy="783.1" r="2.35"/>
<circle cx="179.6" cy="788.5" r="2.35"/>
<circle cx="195.0" cy="787.8" r="2.35"/>
<circle cx="200.8" cy="788.5" r="2.35"/>
<circle cx="204.7" cy="789.7" r="2.35"/>
<circle cx="187.3" cy="791.6" r="2.35"/>
<circle cx="210.4" cy="792.4" r="2.35"/>
<circle cx="219.3" cy="788.5" r="2.35"/>
<circle cx="181.6" cy="797.4" r="2.35"/>
<circle cx="185.4" cy="801.2" r="2.35"/>
<circle cx="193.1" cy="799.3" r="2.35"/>
<circle cx="197.7" cy="798.5" r="2.35"/>
<circle cx="166.9" cy="803.9" r="2.35"/>
<circle cx="247.0" cy="803.2" r="2.35"/>
<circle cx="287.5" cy="807.0" r="2.35"/>
<circle cx="237.4" cy="809.3" r="2.35"/>
<circle cx="167.3" cy="811.6" r="2.35"/>
<circle cx="177.7" cy="810.1" r="2.35"/>
<circle cx="181.6" cy="814.0" r="2.35"/>
<circle cx="208.5" cy="810.9" r="2.35"/>
<circle cx="179.6" cy="818.6" r="2.35"/>
<circle cx="175.8" cy="821.7" r="2.35"/>
<circle cx="161.1" cy="829.4" r="2.35"/>
<circle cx="166.2" cy="825.5" r="2.35"/>
<circle cx="170.0" cy="828.2" r="2.35"/>
<circle cx="207.4" cy="829.4" r="2.35"/>
<circle cx="212.4" cy="830.9" r="2.35"/>
<circle cx="189.3" cy="832.0" r="2.35"/>
<circle cx="183.5" cy="835.9" r="2.35"/>
<circle cx="264.4" cy="835.5" r="2.35"/>
<circle cx="272.9" cy="837.8" r="2.35"/>
<circle cx="279.8" cy="837.8" r="2.35"/>
<circle cx="305.6" cy="844.0" r="2.35"/>
<circle cx="331.8" cy="839.8" r="2.35"/>
<circle cx="218.2" cy="842.8" r="2.35"/>
<circle cx="233.6" cy="842.8" r="2.35"/>
<circle cx="200.8" cy="843.6" r="2.35"/>
<circle cx="204.7" cy="840.5" r="2.35"/>
<circle cx="175.8" cy="846.3" r="2.35"/>
<circle cx="181.6" cy="846.3" r="2.35"/>
<circle cx="229.7" cy="852.5" r="2.35"/>
<circle cx="227.8" cy="855.2" r="2.35"/>
<circle cx="204.7" cy="852.5" r="2.35"/>
<circle cx="262.5" cy="856.3" r="2.35"/>
<circle cx="197.0" cy="859.0" r="2.35"/>
<circle cx="200.8" cy="857.1" r="2.35"/>
<circle cx="182.7" cy="859.0" r="2.35"/>
<circle cx="217.4" cy="864.8" r="2.35"/>
<circle cx="221.2" cy="862.9" r="2.35"/>
<circle cx="243.2" cy="866.0" r="2.35"/>
<circle cx="173.1" cy="867.9" r="2.35"/>
<circle cx="240.5" cy="873.3" r="2.35"/>
<circle cx="158.4" cy="874.4" r="2.35"/>
<circle cx="179.6" cy="876.4" r="2.35"/>
<circle cx="186.6" cy="878.3" r="2.35"/>
<circle cx="195.0" cy="875.2" r="2.35"/>
<circle cx="197.0" cy="875.2" r="2.35"/>
</g>
<g fill="#00BFC4" fill-opacity="0.45" stroke="#00BFC4" stroke-opacity="0.35" stroke-width="1">
<circle cx="433.6" cy="854.2" r="2.35"/>
<circle cx="422.2" cy="870.6" r="2.35"/>
<circle cx="430.8" cy="861.7" r="2.35"/>
<circle cx="451.4" cy="844.1" r="2.35"/>
<circle cx="434.5" cy="877.4" r="2.35"/>
<circle cx="421.1" cy="875.4" r="2.35"/>
<circle cx="426.1" cy="871.0" r="2.35"/>
<circle cx="427.6" cy="871.8" r="2.35"/>
<circle cx="420.5" cy="876.5" r="2.35"/>
<circle cx="460.9" cy="824.3" r="2.35"/>
<circle cx="439.3" cy="841.7" r="2.35"/>
<circle cx="422.0" cy="869.6" r="2.35"/>
<circle cx="434.8" cy="856.9" r="2.35"/>
<circle cx="420.9" cy="864.0" r="2.35"/>
<circle cx="442.5" cy="859.1" r="2.35"/>
<circle cx="432.0" cy="866.0" r="2.35"/>
<circle cx="431.1" cy="862.3" r="2.35"/>
<circle cx="436.5" cy="875.6" r="2.35"/>
<circle cx="422.1" cy="868.5" r="2.35"/>
<circle cx="421.6" cy="876.5" r="2.35"/>
<circle cx="446.4" cy="851.1" r="2.35"/>
<circle cx="441.6" cy="857.3" r="2.35"/>
<circle cx="426.9" cy="878.1" r="2.35"/>
<circle cx="428.0" cy="870.9" r="2.35"/>
<circle cx="421.7" cy="878.7" r="2.35"/>
<circle cx="420.8" cy="879.7" r="2.35"/>
<circle cx="419.9" cy="878.6" r="2.35"/>
<circle cx="420.9" cy="874.3" r="2.35"/>
<circle cx="442.2" cy="866.2" r="2.35"/>
<circle cx="426.5" cy="854.1" r="2.35"/>
<circle cx="428.1" cy="867.0" r="2.35"/>
<circle cx="418.8" cy="869.9" r="2.35"/>
<circle cx="419.3" cy="870.4" r="2.35"/>
<circle cx="426.4" cy="878.2" r="2.35"/>
<circle cx="464.5" cy="829.7" r="2.35"/>
<circle cx="425.4" cy="870.6" r="2.35"/>
<circle cx="422.5" cy="876.4" r="2.35"/>
<circle cx="422.2" cy="864.2" r="2.35"/>
<circle cx="422.0" cy="877.7" r="2.35"/>
<circle cx="422.9" cy="877.6" r="2.35"/>
<circle cx="429.9" cy="876.9" r="2.35"/>
<circle cx="429.2" cy="865.4" r="2.35"/>
<circle cx="429.9" cy="863.6" r="2.35"/>
<circle cx="423.1" cy="874.8" r="2.35"/>
<circle cx="419.7" cy="872.9" r="2.35"/>
<circle cx="432.4" cy="867.2" r="2.35"/>
<circle cx="431.3" cy="870.3" r="2.35"/>
<circle cx="429.0" cy="866.2" r="2.35"/>
<circle cx="424.1" cy="874.9" r="2.35"/>
<circle cx="419.8" cy="877.2" r="2.35"/>
<circle cx="432.9" cy="854.9" r="2.35"/>
<circle cx="429.9" cy="871.8" r="2.35"/>
<circle cx="456.3" cy="851.6" r="2.35"/>
<circle cx="437.5" cy="841.4" r="2.35"/>
<circle cx="418.8" cy="874.3" r="2.35"/>
<circle cx="421.5" cy="875.5" r="2.35"/>
<circle cx="430.5" cy="876.6" r="2.35"/>
<circle cx="457.0" cy="846.3" r="2.35"/>
<circle cx="421.2" cy="875.1" r="2.35"/>
<circle cx="422.3" cy="864.8" r="2.35"/>
<circle cx="418.4" cy="864.7" r="2.35"/>
<circle cx="431.0" cy="851.7" r="2.35"/>
<circle cx="429.7" cy="876.3" r="2.35"/>
<circle cx="452.5" cy="842.3" r="2.35"/>
<circle cx="421.3" cy="874.3" r="2.35"/>
<circle cx="421.3" cy="878.1" r="2.35"/>
<circle cx="424.8" cy="879.5" r="2.35"/>
<circle cx="422.8" cy="876.5" r="2.35"/>
<circle cx="429.5" cy="856.8" r="2.35"/>
<circle cx="430.2" cy="863.8" r="2.35"/>
<circle cx="419.5" cy="879.7" r="2.35"/>
<circle cx="435.7" cy="865.0" r="2.35"/>
<circle cx="427.1" cy="869.0" r="2.35"/>
<circle cx="422.2" cy="872.5" r="2.35"/>
<circle cx="419.0" cy="870.5" r="2.35"/>
<circle cx="424.5" cy="856.1" r="2.35"/>
<circle cx="421.6" cy="872.1" r="2.35"/>
<circle cx="419.5" cy="868.7" r="2.35"/>
<circle cx="427.6" cy="866.7" r="2.35"/>
<circle cx="446.6" cy="852.8" r="2.35"/>
<circle cx="424.0" cy="874.6" r="2.35"/>
<circle cx="425.9" cy="877.8" r="2.35"/>
<circle cx="433.8" cy="863.7" r="2.35"/>
<circle cx="430.4" cy="860.7" r="2.35"/>
<circle cx="444.7" cy="857.6" r="2.35"/>
<circle cx="423.0" cy="867.9" r="2.35"/>
<circle cx="429.9" cy="868.0" r="2.35"/>
<circle cx="420.3" cy="878.3" r="2.35"/>
<circle cx="419.6" cy="869.8" r="2.35"/>
<circle cx="432.8" cy="857.6" r="2.35"/>
<circle cx="434.4" cy="868.4" r="2.35"/>
<circle cx="418.5" cy="877.9" r="2.35"/>
<circle cx="423.8" cy="876.3" r="2.35"/>
<circle cx="418.9" cy="876.8" r="2.35"/>
<circle cx="420.1" cy="875.5" r="2.35"/>
<circle cx="431.2" cy="871.5" r="2.35"/>
<circle cx="427.6" cy="857.9" r="2.35"/>
<circle cx="451.6" cy="871.6" r="2.35"/>
<circle cx="428.3" cy="862.3" r="2.35"/>
<circle cx="423.1" cy="876.4" r="2.35"/>
<circle cx="420.9" cy="871.9" r="2.35"/>
<circle cx="455.4" cy="849.7" r="2.35"/>
<circle cx="421.4" cy="875.8" r="2.35"/>
<circle cx="428.2" cy="865.9" r="2.35"/>
<circle cx="426.3" cy="865.9" r="2.35"/>
<circle cx="456.6" cy="852.8" r="2.35"/>
<circle cx="424.0" cy="871.7" r="2.35"/>
<circle cx="418.8" cy="873.5" r="2.35"/>
<circle cx="418.6" cy="875.4" r="2.35"/>
<circle cx="430.7" cy="866.1" r="2.35"/>
<circle cx="422.4" cy="869.7" r="2.35"/>
<circle cx="431.4" cy="873.5" r="2.35"/>
<circle cx="420.0" cy="879.7" r="2.35"/>
<circle cx="428.7" cy="867.8" r="2.35"/>
<circle cx="433.0" cy="850.9" r="2.35"/>
<circle cx="435.2" cy="860.4" r="2.35"/>
<circle cx="422.1" cy="870.5" r="2.35"/>
<circle cx="463.0" cy="822.0" r="2.35"/>
<circle cx="421.7" cy="872.8" r="2.35"/>
<circle cx="431.5" cy="868.0" r="2.35"/>
<circle cx="423.5" cy="862.3" r="2.35"/>
<circle cx="422.6" cy="879.3" r="2.35"/>
<circle cx="424.1" cy="871.3" r="2.35"/>
<circle cx="423.9" cy="876.9" r="2.35"/>
<circle cx="425.6" cy="877.0" r="2.35"/>
<circle cx="428.5" cy="867.3" r="2.35"/>
<circle cx="425.1" cy="865.4" r="2.35"/>
<circle cx="423.9" cy="879.0" r="2.35"/>
<circle cx="424.0" cy="867.0" r="2.35"/>
<circle cx="418.4" cy="876.9" r="2.35"/>
<circle cx="423.0" cy="872.4" r="2.35"/>
<circle cx="424.1" cy="872.2" r="2.35"/>
<circle cx="419.3" cy="868.3" r="2.35"/>
<circle cx="419.4" cy="870.7" r="2.35"/>
<circle cx="418.6" cy="877.0" r="2.35"/>
<circle cx="430.5" cy="859.5" r="2.35"/>
<circle cx="442.0" cy="846.7" r="2.35"/>
<circle cx="419.2" cy="877.7" r="2.35"/>
<circle cx="421.1" cy="877.5" r="2.35"/>
<circle cx="430.6" cy="862.7" r="2.35"/>
<circle cx="424.5" cy="877.2" r="2.35"/>
<circle cx="419.1" cy="872.4" r="2.35"/>
<circle cx="430.8" cy="867.3" r="2.35"/>
<circle cx="420.8" cy="869.2" r="2.35"/>
<circle cx="434.4" cy="878.4" r="2.35"/>
<circle cx="418.9" cy="874.0" r="2.35"/>
<circle cx="427.3" cy="877.9" r="2.35"/>
<circle cx="425.2" cy="865.1" r="2.35"/>
<circle cx="420.4" cy="859.2" r="2.35"/>
<circle cx="423.7" cy="874.5" r="2.35"/>
<circle cx="422.0" cy="878.0" r="2.35"/>
<circle cx="425.5" cy="866.6" r="2.35"/>
<circle cx="425.3" cy="879.7" r="2.35"/>
<circle cx="426.0" cy="854.7" r="2.35"/>
<circle cx="418.8" cy="870.4" r="2.35"/>
<circle cx="422.3" cy="875.8" r="2.35"/>
<circle cx="420.4" cy="878.9" r="2.35"/>
<circle cx="420.5" cy="879.0" r="2.35"/>
<circle cx="441.1" cy="871.8" r="2.35"/>
<circle cx="437.0" cy="871.5" r="2.35"/>
<circle cx="449.6" cy="862.4" r="2.35"/>
<circle cx="428.3" cy="859.3" r="2.35"/>
<circle cx="424.6" cy="876.5" r="2.35"/>
<circle cx="442.0" cy="852.5" r="2.35"/>
<circle cx="442.5" cy="860.7" r="2.35"/>
<circle cx="423.2" cy="871.8" r="2.35"/>
<circle cx="423.2" cy="875.1" r="2.35"/>
<circle cx="422.4" cy="871.1" r="2.35"/>
<circle cx="437.0" cy="857.1" r="2.35"/>
<circle cx="442.5" cy="843.3" r="2.35"/>
<circle cx="423.9" cy="872.4" r="2.35"/>
<circle cx="434.4" cy="861.0" r="2.35"/>
<circle cx="435.6" cy="861.9" r="2.35"/>
<circle cx="445.6" cy="860.5" r="2.35"/>
<circle cx="419.9" cy="871.5" r="2.35"/>
<circle cx="427.8" cy="876.7" r="2.35"/>
<circle cx="426.3" cy="864.6" r="2.35"/>
<circle cx="431.8" cy="871.3" r="2.35"/>
<circle cx="427.5" cy="876.4" r="2.35"/>
<circle cx="438.1" cy="853.9" r="2.35"/>
<circle cx="419.2" cy="873.2" r="2.35"/>
<circle cx="446.8" cy="852.0" r="2.35"/>
<circle cx="419.2" cy="876.1" r="2.35"/>
<circle cx="439.3" cy="858.8" r="2.35"/>
<circle cx="419.1" cy="876.3" r="2.35"/>
<circle cx="433.0" cy="851.1" r="2.35"/>
<circle cx="419.5" cy="875.7" r="2.35"/>
<circle cx="426.1" cy="875.0" r="2.35"/>
<circle cx="427.7" cy="858.3" r="2.35"/>
<circle cx="429.7" cy="870.5" r="2.35"/>
<circle cx="428.9" cy="860.0" r="2.35"/>
<circle cx="433.1" cy="870.8" r="2.35"/>
<circle cx="426.3" cy="871.7" r="2.35"/>
<circle cx="418.9" cy="869.6" r="2.35"/>
<circle cx="434.9" cy="857.2" r="2.35"/>
<circle cx="427.0" cy="857.9" r="2.35"/>
<circle cx="425.1" cy="856.7" r="2.35"/>
<circle cx="419.7" cy="878.7" r="2.35"/>
<circle cx="423.5" cy="870.1" r="2.35"/>
<circle cx="420.9" cy="860.6" r="2.35"/>
<circle cx="534.8" cy="511.6" r="2.35"/>
<circle cx="550.6" cy="545.5" r="2.35"/>
<circle cx="554.5" cy="606.3" r="2.35"/>
<circle cx="568.7" cy="625.6" r="2.35"/>
<circle cx="537.1" cy="645.2" r="2.35"/>
<circle cx="531.0" cy="648.3" r="2.35"/>
<circle cx="556.0" cy="676.4" r="2.35"/>
<circle cx="568.7" cy="685.3" r="2.35"/>
<circle cx="440.4" cy="684.1" r="2.35"/>
<circle cx="586.0" cy="692.6" r="2.35"/>
<circle cx="592.6" cy="695.7" r="2.35"/>
<circle cx="582.2" cy="700.3" r="2.35"/>
<circle cx="523.6" cy="705.3" r="2.35"/>
<circle cx="514.8" cy="717.3" r="2.35"/>
<circle cx="530.2" cy="724.6" r="2.35"/>
<circle cx="482.8" cy="734.6" r="2.35"/>
<circle cx="502.1" cy="733.8" r="2.35"/>
<circle cx="498.2" cy="738.4" r="2.35"/>
<circle cx="505.2" cy="738.8" r="2.35"/>
<circle cx="516.7" cy="734.6" r="2.35"/>
<circle cx="524.4" cy="741.5" r="2.35"/>
<circle cx="531.0" cy="742.7" r="2.35"/>
<circle cx="597.6" cy="738.8" r="2.35"/>
<circle cx="434.7" cy="747.3" r="2.35"/>
<circle cx="448.1" cy="750.4" r="2.35"/>
<circle cx="519.4" cy="750.4" r="2.35"/>
<circle cx="484.7" cy="757.7" r="2.35"/>
<circle cx="513.6" cy="760.0" r="2.35"/>
<circle cx="660.0" cy="760.8" r="2.35"/>
<circle cx="475.1" cy="767.3" r="2.35"/>
<circle cx="478.2" cy="769.3" r="2.35"/>
<circle cx="491.7" cy="772.3" r="2.35"/>
<circle cx="496.7" cy="772.3" r="2.35"/>
<circle cx="519.4" cy="773.9" r="2.35"/>
<circle cx="570.6" cy="768.5" r="2.35"/>
<circle cx="594.9" cy="769.3" r="2.35"/>
<circle cx="494.4" cy="781.2" r="2.35"/>
<circle cx="490.5" cy="783.9" r="2.35"/>
<circle cx="503.2" cy="783.9" r="2.35"/>
<circle cx="462.8" cy="787.8" r="2.35"/>
<circle cx="473.6" cy="790.8" r="2.35"/>
<circle cx="486.7" cy="792.8" r="2.35"/>
<circle cx="504.4" cy="789.7" r="2.35"/>
<circle cx="526.3" cy="791.6" r="2.35"/>
<circle cx="557.2" cy="788.9" r="2.35"/>
<circle cx="559.1" cy="788.9" r="2.35"/>
<circle cx="473.6" cy="796.6" r="2.35"/>
<circle cx="477.0" cy="799.3" r="2.35"/>
<circle cx="466.6" cy="803.2" r="2.35"/>
<circle cx="492.4" cy="801.2" r="2.35"/>
<circle cx="518.6" cy="799.3" r="2.35"/>
<circle cx="470.5" cy="809.0" r="2.35"/>
<circle cx="474.3" cy="811.6" r="2.35"/>
<circle cx="460.1" cy="811.6" r="2.35"/>
<circle cx="484.0" cy="810.9" r="2.35"/>
<circle cx="523.3" cy="810.9" r="2.35"/>
<circle cx="531.3" cy="809.3" r="2.35"/>
<circle cx="505.9" cy="814.7" r="2.35"/>
<circle cx="498.6" cy="814.7" r="2.35"/>
<circle cx="451.2" cy="818.6" r="2.35"/>
<circle cx="548.3" cy="818.6" r="2.35"/>
<circle cx="460.1" cy="826.3" r="2.35"/>
<circle cx="463.6" cy="827.0" r="2.35"/>
<circle cx="454.3" cy="830.1" r="2.35"/>
<circle cx="485.1" cy="830.1" r="2.35"/>
<circle cx="491.7" cy="829.4" r="2.35"/>
<circle cx="505.9" cy="830.9" r="2.35"/>
<circle cx="475.1" cy="834.0" r="2.35"/>
<circle cx="492.4" cy="837.1" r="2.35"/>
<circle cx="523.6" cy="837.8" r="2.35"/>
<circle cx="531.3" cy="834.8" r="2.35"/>
<circle cx="488.6" cy="839.0" r="2.35"/>
<circle cx="513.6" cy="843.6" r="2.35"/>
<circle cx="517.5" cy="842.8" r="2.35"/>
<circle cx="607.2" cy="842.8" r="2.35"/>
<circle cx="441.6" cy="843.6" r="2.35"/>
<circle cx="468.6" cy="846.3" r="2.35"/>
<circle cx="476.3" cy="847.5" r="2.35"/>
<circle cx="482.0" cy="846.3" r="2.35"/>
<circle cx="490.5" cy="843.6" r="2.35"/>
<circle cx="539.8" cy="852.1" r="2.35"/>
<circle cx="570.6" cy="851.7" r="2.35"/>
<circle cx="573.3" cy="856.3" r="2.35"/>
<circle cx="580.3" cy="857.5" r="2.35"/>
<circle cx="460.9" cy="855.2" r="2.35"/>
<circle cx="466.6" cy="859.0" r="2.35"/>
<circle cx="472.4" cy="859.0" r="2.35"/>
<circle cx="501.3" cy="855.2" r="2.35"/>
<circle cx="519.8" cy="862.9" r="2.35"/>
<circle cx="531.3" cy="860.9" r="2.35"/>
<circle cx="510.9" cy="864.8" r="2.35"/>
<circle cx="476.3" cy="866.0" r="2.35"/>
<circle cx="519.4" cy="868.7" r="2.35"/>
<circle cx="479.3" cy="872.5" r="2.35"/>
<circle cx="489.7" cy="875.6" r="2.35"/>
<circle cx="509.8" cy="877.5" r="2.35"/>
<circle cx="590.7" cy="874.8" r="2.35"/>
<circle cx="455.1" cy="874.4" r="2.35"/>
<circle cx="457.0" cy="877.5" r="2.35"/>
<circle cx="443.5" cy="867.9" r="2.35"/>
<circle cx="441.6" cy="876.4" r="2.35"/>
</g>
<path d="M131.0,450.0 L170.0,415.5 L205.7,384.0 L265.6,336.1 L372.5,250.5" fill="none" stroke="#F8766D" stroke-width="7.2" stroke-linecap="butt" stroke-linejoin="round"/>
<path d="M419.5,450.0 L443.5,413.1 L464.0,387.4 L482.0,364.3 L507.7,328.4 L536.4,282.2" fill="none" stroke="#F8766D" stroke-width="7.2" stroke-linecap="butt" stroke-linejoin="round"/>
<path d="M131.3,870.8 L364.5,670.3" fill="none" stroke="#00BFC4" stroke-width="7.2" stroke-linecap="butt" stroke-linejoin="round"/>
<path d="M419.4,870.4 L658.1,677.6" fill="none" stroke="#00BFC4" stroke-width="7.2" stroke-linecap="butt" stroke-linejoin="round"/>
<rect x="120.5" y="2.2" width="262.50" height="61.60" fill="#fff" stroke="#000" stroke-width="4.0"/>
<rect x="408.2" y="2.2" width="263.00" height="61.60" fill="#fff" stroke="#000" stroke-width="4.0"/>
<rect x="675.1" y="67.7" width="61.30" height="403.30" fill="#fff" stroke="#000" stroke-width="4.0"/>
<rect x="675.1" y="495.5" width="61.30" height="403.00" fill="#fff" stroke="#000" stroke-width="4.0"/>
<text transform="translate(251.9,45.0) scale(1,1.04)" font-size="33.6" fill="#000" stroke="#000" stroke-width="0.4" text-anchor="middle" textLength="141.7" lengthAdjust="spacing" >Deletions</text>
<text transform="translate(539.9,45.0) scale(1,1.04)" font-size="33.6" fill="#000" stroke="#000" stroke-width="0.4" text-anchor="middle" textLength="149" lengthAdjust="spacing" >Insertions</text>
<text transform="translate(694.0,269.3) rotate(90) scale(1,1.04)" font-size="33.6" fill="#000" stroke="#000" stroke-width="0.4" text-anchor="middle" >Avian</text>
<text transform="translate(694.0,696.7) rotate(90) scale(1,1.04)" font-size="33.6" fill="#000" stroke="#000" stroke-width="0.4" text-anchor="middle" >Eutherian</text>
<line x1="118.90" y1="65.50" x2="118.90" y2="472.40" stroke="#000" stroke-width="4.0" stroke-linecap="butt"/>
<line x1="118.90" y1="493.60" x2="118.90" y2="903.00" stroke="#000" stroke-width="4.0" stroke-linecap="butt"/>
<line x1="116.90" y1="900.90" x2="385.20" y2="900.90" stroke="#000" stroke-width="4.0" stroke-linecap="butt"/>
<line x1="406.40" y1="900.90" x2="673.00" y2="900.90" stroke="#000" stroke-width="4.0" stroke-linecap="butt"/>
<line x1="108.40" y1="452.60" x2="117.00" y2="452.60" stroke="#333333" stroke-width="3.8" stroke-linecap="butt"/>
<text transform="translate(99.7,465.1) scale(1,1.04)" font-size="33.6" fill="#4D4D4D" stroke="#4D4D4D" stroke-width="0.4" text-anchor="end" >0.0</text>
<line x1="108.40" y1="880.40" x2="117.00" y2="880.40" stroke="#333333" stroke-width="3.8" stroke-linecap="butt"/>
<text transform="translate(99.7,892.9) scale(1,1.04)" font-size="33.6" fill="#4D4D4D" stroke="#4D4D4D" stroke-width="0.4" text-anchor="end" >0.0</text>
<line x1="108.40" y1="330.13" x2="117.00" y2="330.13" stroke="#333333" stroke-width="3.8" stroke-linecap="butt"/>
<text transform="translate(99.7,342.63) scale(1,1.04)" font-size="33.6" fill="#4D4D4D" stroke="#4D4D4D" stroke-width="0.4" text-anchor="end" >0.1</text>
<line x1="108.40" y1="757.93" x2="117.00" y2="757.93" stroke="#333333" stroke-width="3.8" stroke-linecap="butt"/>
<text transform="translate(99.7,770.43) scale(1,1.04)" font-size="33.6" fill="#4D4D4D" stroke="#4D4D4D" stroke-width="0.4" text-anchor="end" >0.1</text>
<line x1="108.40" y1="207.66" x2="117.00" y2="207.66" stroke="#333333" stroke-width="3.8" stroke-linecap="butt"/>
<text transform="translate(99.7,220.16) scale(1,1.04)" font-size="33.6" fill="#4D4D4D" stroke="#4D4D4D" stroke-width="0.4" text-anchor="end" >0.2</text>
<line x1="108.40" y1="635.46" x2="117.00" y2="635.46" stroke="#333333" stroke-width="3.8" stroke-linecap="butt"/>
<text transform="translate(99.7,647.9599999999999) scale(1,1.04)" font-size="33.6" fill="#4D4D4D" stroke="#4D4D4D" stroke-width="0.4" text-anchor="end" >0.2</text>
<line x1="108.40" y1="85.19" x2="117.00" y2="85.19" stroke="#333333" stroke-width="3.8" stroke-linecap="butt"/>
<text transform="translate(99.7,97.69) scale(1,1.04)" font-size="33.6" fill="#4D4D4D" stroke="#4D4D4D" stroke-width="0.4" text-anchor="end" >0.3</text>
<line x1="108.40" y1="512.99" x2="117.00" y2="512.99" stroke="#333333" stroke-width="3.8" stroke-linecap="butt"/>
<text transform="translate(99.7,525.49) scale(1,1.04)" font-size="33.6" fill="#4D4D4D" stroke="#4D4D4D" stroke-width="0.4" text-anchor="end" >0.3</text>
<line x1="130.90" y1="902.80" x2="130.90" y2="911.20" stroke="#333333" stroke-width="3.8" stroke-linecap="butt"/>
<text transform="translate(139.9,928.0) rotate(-45) scale(1,1.04)" font-size="33.6" fill="#4D4D4D" stroke="#4D4D4D" stroke-width="0.4" text-anchor="end" dy="0.36em">0.000</text>
<line x1="418.40" y1="902.80" x2="418.40" y2="911.20" stroke="#333333" stroke-width="3.8" stroke-linecap="butt"/>
<text transform="translate(427.4,928.0) rotate(-45) scale(1,1.04)" font-size="33.6" fill="#4D4D4D" stroke="#4D4D4D" stroke-width="0.4" text-anchor="end" dy="0.36em">0.000</text>
<line x1="179.50" y1="902.80" x2="179.50" y2="911.20" stroke="#333333" stroke-width="3.8" stroke-linecap="butt"/>
<text transform="translate(188.5,928.0) rotate(-45) scale(1,1.04)" font-size="33.6" fill="#4D4D4D" stroke="#4D4D4D" stroke-width="0.4" text-anchor="end" dy="0.36em">0.001</text>
<line x1="467.00" y1="902.80" x2="467.00" y2="911.20" stroke="#333333" stroke-width="3.8" stroke-linecap="butt"/>
<text transform="translate(476.0,928.0) rotate(-45) scale(1,1.04)" font-size="33.6" fill="#4D4D4D" stroke="#4D4D4D" stroke-width="0.4" text-anchor="end" dy="0.36em">0.001</text>
<line x1="228.10" y1="902.80" x2="228.10" y2="911.20" stroke="#333333" stroke-width="3.8" stroke-linecap="butt"/>
<text transform="translate(237.1,928.0) rotate(-45) scale(1,1.04)" font-size="33.6" fill="#4D4D4D" stroke="#4D4D4D" stroke-width="0.4" text-anchor="end" dy="0.36em">0.002</text>
<line x1="515.60" y1="902.80" x2="515.60" y2="911.20" stroke="#333333" stroke-width="3.8" stroke-linecap="butt"/>
<text transform="translate(524.6,928.0) rotate(-45) scale(1,1.04)" font-size="33.6" fill="#4D4D4D" stroke="#4D4D4D" stroke-width="0.4" text-anchor="end" dy="0.36em">0.002</text>
<line x1="276.70" y1="902.80" x2="276.70" y2="911.20" stroke="#333333" stroke-width="3.8" stroke-linecap="butt"/>
<text transform="translate(285.7,928.0) rotate(-45) scale(1,1.04)" font-size="33.6" fill="#4D4D4D" stroke="#4D4D4D" stroke-width="0.4" text-anchor="end" dy="0.36em">0.003</text>
<line x1="564.20" y1="902.80" x2="564.20" y2="911.20" stroke="#333333" stroke-width="3.8" stroke-linecap="butt"/>
<text transform="translate(573.2,928.0) rotate(-45) scale(1,1.04)" font-size="33.6" fill="#4D4D4D" stroke="#4D4D4D" stroke-width="0.4" text-anchor="end" dy="0.36em">0.003</text>
<line x1="325.30" y1="902.80" x2="325.30" y2="911.20" stroke="#333333" stroke-width="3.8" stroke-linecap="butt"/>
<text transform="translate(334.3,928.0) rotate(-45) scale(1,1.04)" font-size="33.6" fill="#4D4D4D" stroke="#4D4D4D" stroke-width="0.4" text-anchor="end" dy="0.36em">0.004</text>
<line x1="612.80" y1="902.80" x2="612.80" y2="911.20" stroke="#333333" stroke-width="3.8" stroke-linecap="butt"/>
<text transform="translate(621.8,928.0) rotate(-45) scale(1,1.04)" font-size="33.6" fill="#4D4D4D" stroke="#4D4D4D" stroke-width="0.4" text-anchor="end" dy="0.36em">0.004</text>
<line x1="373.90" y1="902.80" x2="373.90" y2="911.20" stroke="#333333" stroke-width="3.8" stroke-linecap="butt"/>
<text transform="translate(382.9,928.0) rotate(-45) scale(1,1.04)" font-size="33.6" fill="#4D4D4D" stroke="#4D4D4D" stroke-width="0.4" text-anchor="end" dy="0.36em">0.005</text>
<line x1="661.40" y1="902.80" x2="661.40" y2="911.20" stroke="#333333" stroke-width="3.8" stroke-linecap="butt"/>
<text transform="translate(670.4,928.0) rotate(-45) scale(1,1.04)" font-size="33.6" fill="#4D4D4D" stroke="#4D4D4D" stroke-width="0.4" text-anchor="end" dy="0.36em">0.005</text>
<text transform="translate(130.75,1042.6) scale(1,1.04)" font-size="42" fill="#000" stroke="#000" stroke-width="0.4" text-anchor="start" textLength="529.8" lengthAdjust="spacing" >Rate of micro–indels per site</text>
<text transform="translate(32.8,785.4) rotate(-90) scale(1,1.04)" font-size="42" fill="#000" stroke="#000" stroke-width="0.4" text-anchor="start" textLength="604.8" lengthAdjust="spacing" >Branch length (substitutions/site)</text>
<text transform="translate(0.3,43.6) scale(1.04,1)" font-size="47.8" stroke="#000" stroke-width="1.0">A</text>
<text transform="translate(1069.2,43.9) scale(0.88,1)" font-size="47.6" stroke="#000" stroke-width="1.5">B</text>
<text transform="translate(801.5,421.6) scale(1,1.04)" font-size="42" fill="#000" stroke="#000" stroke-width="0.4" text-anchor="start" >Clade</text>
<line x1="807.30" y1="480.40" x2="859.90" y2="480.40" stroke="#F8766D" stroke-width="7.6" stroke-linecap="butt"/>
<line x1="807.30" y1="546.00" x2="859.90" y2="546.00" stroke="#00BFC4" stroke-width="7.6" stroke-linecap="butt"/>
<text transform="translate(888.5,492.5) scale(1,1.04)" font-size="33.6" fill="#000" stroke="#000" stroke-width="0.4" text-anchor="start" >Avian</text>
<text transform="translate(887.7,558) scale(1,1.04)" font-size="33.6" fill="#000" stroke="#000" stroke-width="0.4" text-anchor="start" textLength="146.5" lengthAdjust="spacing" >Eutherian</text>
<line x1="1226.80" y1="0.00" x2="1226.80" y2="795.50" stroke="#000" stroke-width="4.0" stroke-linecap="butt"/>
<line x1="1224.80" y1="793.50" x2="2122.00" y2="793.50" stroke="#000" stroke-width="4.0" stroke-linecap="butt"/>
<line x1="1216.10" y1="36.10" x2="1224.90" y2="36.10" stroke="#333333" stroke-width="3.8" stroke-linecap="butt"/>
<text transform="translate(1207.5,48.6) scale(1,1.04)" font-size="33.6" fill="#4D4D4D" stroke="#4D4D4D" stroke-width="0.4" text-anchor="end" >100%</text>
<line x1="1216.10" y1="277.37" x2="1224.90" y2="277.37" stroke="#333333" stroke-width="3.8" stroke-linecap="butt"/>
<text transform="translate(1207.5,289.87) scale(1,1.04)" font-size="33.6" fill="#4D4D4D" stroke="#4D4D4D" stroke-width="0.4" text-anchor="end" >90%</text>
<line x1="1216.10" y1="518.64" x2="1224.90" y2="518.64" stroke="#333333" stroke-width="3.8" stroke-linecap="butt"/>
<text transform="translate(1207.5,531.14) scale(1,1.04)" font-size="33.6" fill="#4D4D4D" stroke="#4D4D4D" stroke-width="0.4" text-anchor="end" >80%</text>
<line x1="1216.10" y1="759.91" x2="1224.90" y2="759.91" stroke="#333333" stroke-width="3.8" stroke-linecap="butt"/>
<text transform="translate(1207.5,772.41) scale(1,1.04)" font-size="33.6" fill="#4D4D4D" stroke="#4D4D4D" stroke-width="0.4" text-anchor="end" >70%</text>
<line x1="1313.20" y1="795.40" x2="1313.20" y2="803.90" stroke="#333333" stroke-width="3.8" stroke-linecap="butt"/>
<text transform="translate(1322.2,819.0) rotate(-45) scale(1,1.04)" font-size="34.75" fill="#4D4D4D" stroke="#4D4D4D" stroke-width="0.4" text-anchor="end" dy="0.36em">Human</text>
<line x1="1457.62" y1="795.40" x2="1457.62" y2="803.90" stroke="#333333" stroke-width="3.8" stroke-linecap="butt"/>
<text transform="translate(1466.6,819.0) rotate(-45) scale(1,1.04)" font-size="34.75" fill="#4D4D4D" stroke="#4D4D4D" stroke-width="0.4" text-anchor="end" dy="0.36em">Human–chimp</text>
<line x1="1602.04" y1="795.40" x2="1602.04" y2="803.90" stroke="#333333" stroke-width="3.8" stroke-linecap="butt"/>
<text transform="translate(1611.0,819.0) rotate(-45) scale(1,1.04)" font-size="34.75" fill="#4D4D4D" stroke="#4D4D4D" stroke-width="0.4" text-anchor="end" dy="0.36em">Human–gorilla</text>
<line x1="1746.46" y1="795.40" x2="1746.46" y2="803.90" stroke="#333333" stroke-width="3.8" stroke-linecap="butt"/>
<text transform="translate(1755.5,819.0) rotate(-45) scale(1,1.04)" font-size="34.75" fill="#4D4D4D" stroke="#4D4D4D" stroke-width="0.4" text-anchor="end" dy="0.36em">Human–orang</text>
<line x1="1890.88" y1="795.40" x2="1890.88" y2="803.90" stroke="#333333" stroke-width="3.8" stroke-linecap="butt"/>
<text transform="translate(1899.9,819.0) rotate(-45) scale(1,1.04)" font-size="34.75" fill="#4D4D4D" stroke="#4D4D4D" stroke-width="0.4" text-anchor="end" dy="0.36em">Human–gibbon</text>
<line x1="2035.30" y1="795.40" x2="2035.30" y2="803.90" stroke="#333333" stroke-width="3.8" stroke-linecap="butt"/>
<text transform="translate(2044.3,819.0) rotate(-45) scale(1,1.04)" font-size="34.75" fill="#4D4D4D" stroke="#4D4D4D" stroke-width="0.4" text-anchor="end" dy="0.36em">Human–rhesus</text>
<text transform="translate(1673.7,1040.5) scale(1,1.04)" font-size="42" fill="#000" stroke="#000" stroke-width="0.4" text-anchor="middle" >Genome on path from human</text>
<text transform="translate(1101.0,394.0) rotate(-90) scale(1,1.04)" font-size="42" fill="#000" stroke="#000" stroke-width="0.4" text-anchor="middle" >Similarity to L1PA6 consensus</text>
<path d="M1313.6,35.9 L1313.6,36.9 L1313.6,37.9 L1313.6,38.9 L1313.6,39.9 L1313.6,40.9 L1313.6,41.9 L1313.7,42.9 L1313.7,43.9 L1313.7,44.9 L1313.7,45.9 L1313.7,46.9 L1313.7,47.9 L1313.7,48.9 L1313.8,49.9 L1313.8,50.9 L1313.8,51.9 L1313.8,52.9 L1313.8,53.9 L1313.8,54.9 L1313.9,55.9 L1313.9,56.9 L1313.9,57.9 L1313.9,58.9 L1314.0,59.9 L1314.0,60.9 L1314.0,61.9 L1314.0,62.9 L1314.1,63.9 L1314.1,64.9 L1314.1,65.9 L1314.1,66.9 L1314.2,67.9 L1314.2,68.9 L1314.2,69.9 L1314.2,70.9 L1314.3,71.9 L1314.3,72.9 L1314.3,73.9 L1314.4,74.9 L1314.4,75.9 L1314.4,76.9 L1314.4,77.9 L1314.5,78.9 L1314.5,79.9 L1314.5,80.9 L1314.6,81.9 L1314.6,82.9 L1314.6,83.9 L1314.6,84.9 L1314.7,85.9 L1314.7,86.9 L1314.7,87.9 L1314.8,88.9 L1314.8,89.9 L1314.9,90.9 L1314.9,91.9 L1314.9,92.9 L1315.0,93.9 L1315.0,94.9 L1315.1,95.9 L1315.1,96.9 L1315.2,97.9 L1315.3,98.9 L1315.3,99.9 L1315.4,100.9 L1315.5,101.9 L1315.5,102.9 L1315.6,103.9 L1315.7,104.9 L1315.8,105.9 L1315.9,106.9 L1316.1,107.9 L1316.2,108.9 L1316.4,109.9 L1316.6,110.9 L1316.8,111.9 L1317.0,112.9 L1317.3,113.9 L1317.5,114.9 L1317.8,115.9 L1318.0,116.9 L1318.3,117.9 L1318.6,118.9 L1318.9,119.9 L1319.3,120.9 L1319.7,121.9 L1320.1,122.9 L1320.5,123.9 L1321.0,124.9 L1321.6,125.9 L1322.2,126.9 L1322.7,127.9 L1323.4,128.9 L1324.0,129.9 L1324.7,130.9 L1325.3,131.9 L1326.0,132.9 L1326.8,133.9 L1327.5,134.9 L1328.3,135.9 L1329.2,136.9 L1330.1,137.9 L1331.0,138.9 L1331.9,139.9 L1332.8,140.9 L1333.8,141.9 L1334.8,142.9 L1335.7,143.9 L1336.7,144.9 L1337.6,145.9 L1338.6,146.9 L1339.5,147.9 L1340.4,148.9 L1341.4,149.9 L1342.3,150.9 L1343.3,151.9 L1344.2,152.9 L1345.2,153.9 L1346.1,154.9 L1347.0,155.9 L1347.9,156.9 L1348.8,157.9 L1349.7,158.9 L1350.6,159.9 L1351.4,160.9 L1352.3,161.9 L1353.1,162.9 L1353.9,163.9 L1354.7,164.9 L1355.5,165.9 L1356.3,166.9 L1357.1,167.9 L1357.8,168.9 L1358.6,169.9 L1359.3,170.9 L1359.9,171.9 L1360.6,172.9 L1361.2,173.9 L1361.8,174.9 L1362.4,175.9 L1363.0,176.9 L1363.6,177.9 L1364.2,178.9 L1364.7,179.9 L1365.2,180.9 L1365.7,181.9 L1366.2,182.9 L1366.6,183.9 L1366.9,184.9 L1367.3,185.9 L1367.6,186.9 L1367.8,187.9 L1368.1,188.9 L1368.3,189.9 L1368.6,190.9 L1368.8,191.9 L1369.0,192.9 L1369.2,193.9 L1369.3,194.9 L1369.5,195.9 L1369.6,196.9 L1369.7,197.9 L1369.7,198.9 L1369.7,199.9 L1369.7,200.9 L1369.6,201.9 L1369.4,202.9 L1369.2,203.9 L1369.0,204.9 L1368.8,205.9 L1368.6,206.9 L1368.3,207.9 L1368.0,208.9 L1367.8,209.9 L1367.5,210.9 L1367.2,211.9 L1366.9,212.9 L1366.5,213.9 L1366.2,214.9 L1365.8,215.9 L1365.5,216.9 L1365.1,217.9 L1364.8,218.9 L1364.5,219.9 L1364.1,220.9 L1363.8,221.9 L1363.5,222.9 L1363.2,223.9 L1362.9,224.9 L1362.6,225.9 L1362.2,226.9 L1361.9,227.9 L1361.5,228.9 L1361.0,229.9 L1360.5,230.9 L1359.9,231.9 L1359.3,232.9 L1358.5,233.9 L1357.8,234.9 L1356.9,235.9 L1356.1,236.9 L1355.2,237.9 L1354.4,238.9 L1353.5,239.9 L1352.7,240.9 L1351.8,241.9 L1351.0,242.9 L1350.1,243.9 L1349.2,244.9 L1348.3,245.9 L1347.5,246.9 L1346.6,247.9 L1345.7,248.9 L1344.9,249.9 L1344.1,250.9 L1343.3,251.9 L1342.5,252.9 L1341.7,253.9 L1340.9,254.9 L1340.1,255.9 L1339.4,256.9 L1338.6,257.9 L1337.9,258.9 L1337.2,259.9 L1336.5,260.9 L1335.8,261.9 L1335.1,262.9 L1334.5,263.9 L1333.9,264.9 L1333.3,265.9 L1332.7,266.9 L1332.2,267.9 L1331.7,268.9 L1331.2,269.9 L1330.7,270.9 L1330.2,271.9 L1329.8,272.9 L1329.3,273.9 L1328.9,274.9 L1328.5,275.9 L1328.1,276.9 L1327.7,277.9 L1327.3,278.9 L1326.9,279.9 L1326.6,280.9 L1326.2,281.9 L1325.9,282.9 L1325.6,283.9 L1325.2,284.9 L1324.9,285.9 L1324.6,286.9 L1324.4,287.9 L1324.1,288.9 L1323.8,289.9 L1323.5,290.9 L1323.2,291.9 L1323.0,292.9 L1322.7,293.9 L1322.5,294.9 L1322.2,295.9 L1322.0,296.9 L1321.8,297.9 L1321.5,298.9 L1321.3,299.9 L1321.1,300.9 L1320.9,301.9 L1320.7,302.9 L1320.4,303.9 L1320.2,304.9 L1320.0,305.9 L1319.8,306.9 L1319.6,307.9 L1319.4,308.9 L1319.2,309.9 L1319.0,310.9 L1318.8,311.9 L1318.6,312.9 L1318.4,313.9 L1318.2,314.9 L1318.0,315.9 L1317.8,316.9 L1317.6,317.9 L1317.5,318.9 L1317.3,319.9 L1317.1,320.9 L1316.9,321.9 L1316.8,322.9 L1316.6,323.9 L1316.4,324.9 L1316.3,325.9 L1316.1,326.9 L1316.0,327.9 L1315.8,328.9 L1315.7,329.9 L1315.5,330.9 L1315.4,331.9 L1315.2,332.9 L1315.1,333.9 L1314.9,334.9 L1314.8,335.9 L1314.7,336.9 L1314.6,337.9 L1314.5,338.9 L1314.5,339.9 L1314.4,340.9 L1314.4,341.9 L1314.4,342.9 L1314.4,343.9 L1314.3,344.9 L1314.3,345.9 L1314.3,346.9 L1314.3,347.9 L1314.3,348.9 L1314.2,349.9 L1314.2,350.9 L1314.2,351.9 L1314.2,352.9 L1314.2,353.9 L1314.1,354.9 L1314.1,355.9 L1314.1,356.9 L1314.1,357.9 L1314.1,358.9 L1314.1,359.9 L1314.1,360.9 L1314.0,361.9 L1314.0,362.9 L1314.0,363.9 L1314.0,364.9 L1314.0,365.9 L1314.0,366.9 L1314.0,367.9 L1314.0,368.9 L1314.0,369.9 L1313.9,370.9 L1313.9,371.9 L1313.9,372.9 L1313.9,373.9 L1313.9,374.9 L1313.9,375.9 L1313.9,376.9 L1313.9,377.9 L1313.9,378.9 L1313.9,379.9 L1313.9,380.9 L1313.9,381.9 L1313.9,382.9 L1313.9,383.9 L1313.9,384.9 L1313.9,385.9 L1313.8,386.9 L1313.8,387.9 L1313.8,388.9 L1313.8,389.9 L1313.8,390.9 L1313.8,391.9 L1313.8,392.9 L1313.8,393.9 L1313.8,394.9 L1313.8,395.9 L1313.8,396.9 L1313.8,397.9 L1313.8,398.9 L1313.8,399.9 L1313.8,400.9 L1313.8,401.9 L1313.8,402.9 L1313.8,403.9 L1313.8,404.9 L1313.8,405.9 L1313.8,406.9 L1313.8,407.9 L1313.8,408.9 L1313.8,409.9 L1313.8,410.9 L1313.8,411.9 L1313.8,412.9 L1313.8,413.9 L1313.8,414.9 L1313.8,415.9 L1313.8,416.9 L1313.8,417.9 L1313.7,418.9 L1313.7,419.9 L1313.7,420.0 L1313.7,440.0 L1313.6,460.0 L1313.6,480.0 L1313.6,500.0 L1313.5,520.0 L1313.5,540.0 L1313.5,560.0 L1313.5,580.0 L1313.4,600.0 L1313.4,620.0 L1313.4,640.0 L1313.4,660.0 L1313.4,680.0 L1313.4,691.8 L1313.0,691.8 L1313.0,680.0 L1313.0,660.0 L1313.0,640.0 L1313.0,620.0 L1313.0,600.0 L1312.9,580.0 L1312.9,560.0 L1312.9,540.0 L1312.9,520.0 L1312.8,500.0 L1312.8,480.0 L1312.8,460.0 L1312.7,440.0 L1312.7,420.0 L1312.7,419.9 L1312.7,418.9 L1312.6,417.9 L1312.6,416.9 L1312.6,415.9 L1312.6,414.9 L1312.6,413.9 L1312.6,412.9 L1312.6,411.9 L1312.6,410.9 L1312.6,409.9 L1312.6,408.9 L1312.6,407.9 L1312.6,406.9 L1312.6,405.9 L1312.6,404.9 L1312.6,403.9 L1312.6,402.9 L1312.6,401.9 L1312.6,400.9 L1312.6,399.9 L1312.6,398.9 L1312.6,397.9 L1312.6,396.9 L1312.6,395.9 L1312.6,394.9 L1312.6,393.9 L1312.6,392.9 L1312.6,391.9 L1312.6,390.9 L1312.6,389.9 L1312.6,388.9 L1312.6,387.9 L1312.6,386.9 L1312.5,385.9 L1312.5,384.9 L1312.5,383.9 L1312.5,382.9 L1312.5,381.9 L1312.5,380.9 L1312.5,379.9 L1312.5,378.9 L1312.5,377.9 L1312.5,376.9 L1312.5,375.9 L1312.5,374.9 L1312.5,373.9 L1312.5,372.9 L1312.5,371.9 L1312.5,370.9 L1312.4,369.9 L1312.4,368.9 L1312.4,367.9 L1312.4,366.9 L1312.4,365.9 L1312.4,364.9 L1312.4,363.9 L1312.4,362.9 L1312.4,361.9 L1312.3,360.9 L1312.3,359.9 L1312.3,358.9 L1312.3,357.9 L1312.3,356.9 L1312.3,355.9 L1312.3,354.9 L1312.2,353.9 L1312.2,352.9 L1312.2,351.9 L1312.2,350.9 L1312.2,349.9 L1312.1,348.9 L1312.1,347.9 L1312.1,346.9 L1312.1,345.9 L1312.1,344.9 L1312.0,343.9 L1312.0,342.9 L1312.0,341.9 L1312.0,340.9 L1311.9,339.9 L1311.9,338.9 L1311.8,337.9 L1311.7,336.9 L1311.6,335.9 L1311.5,334.9 L1311.3,333.9 L1311.2,332.9 L1311.0,331.9 L1310.9,330.9 L1310.7,329.9 L1310.6,328.9 L1310.4,327.9 L1310.3,326.9 L1310.1,325.9 L1310.0,324.9 L1309.8,323.9 L1309.6,322.9 L1309.5,321.9 L1309.3,320.9 L1309.1,319.9 L1308.9,318.9 L1308.8,317.9 L1308.6,316.9 L1308.4,315.9 L1308.2,314.9 L1308.0,313.9 L1307.8,312.9 L1307.6,311.9 L1307.4,310.9 L1307.2,309.9 L1307.0,308.9 L1306.8,307.9 L1306.6,306.9 L1306.4,305.9 L1306.2,304.9 L1306.0,303.9 L1305.7,302.9 L1305.5,301.9 L1305.3,300.9 L1305.1,299.9 L1304.9,298.9 L1304.6,297.9 L1304.4,296.9 L1304.2,295.9 L1303.9,294.9 L1303.7,293.9 L1303.4,292.9 L1303.2,291.9 L1302.9,290.9 L1302.6,289.9 L1302.3,288.9 L1302.0,287.9 L1301.8,286.9 L1301.5,285.9 L1301.2,284.9 L1300.8,283.9 L1300.5,282.9 L1300.2,281.9 L1299.8,280.9 L1299.5,279.9 L1299.1,278.9 L1298.7,277.9 L1298.3,276.9 L1297.9,275.9 L1297.5,274.9 L1297.1,273.9 L1296.6,272.9 L1296.2,271.9 L1295.7,270.9 L1295.2,269.9 L1294.7,268.9 L1294.2,267.9 L1293.7,266.9 L1293.1,265.9 L1292.5,264.9 L1291.9,263.9 L1291.3,262.9 L1290.6,261.9 L1289.9,260.9 L1289.2,259.9 L1288.5,258.9 L1287.8,257.9 L1287.0,256.9 L1286.3,255.9 L1285.5,254.9 L1284.7,253.9 L1283.9,252.9 L1283.1,251.9 L1282.3,250.9 L1281.5,249.9 L1280.7,248.9 L1279.8,247.9 L1278.9,246.9 L1278.1,245.9 L1277.2,244.9 L1276.3,243.9 L1275.4,242.9 L1274.6,241.9 L1273.7,240.9 L1272.9,239.9 L1272.0,238.9 L1271.2,237.9 L1270.3,236.9 L1269.5,235.9 L1268.6,234.9 L1267.9,233.9 L1267.1,232.9 L1266.5,231.9 L1265.9,230.9 L1265.4,229.9 L1264.9,228.9 L1264.5,227.9 L1264.2,226.9 L1263.8,225.9 L1263.5,224.9 L1263.2,223.9 L1262.9,222.9 L1262.6,221.9 L1262.3,220.9 L1261.9,219.9 L1261.6,218.9 L1261.3,217.9 L1260.9,216.9 L1260.6,215.9 L1260.2,214.9 L1259.9,213.9 L1259.5,212.9 L1259.2,211.9 L1258.9,210.9 L1258.6,209.9 L1258.4,208.9 L1258.1,207.9 L1257.8,206.9 L1257.6,205.9 L1257.4,204.9 L1257.2,203.9 L1257.0,202.9 L1256.8,201.9 L1256.7,200.9 L1256.7,199.9 L1256.7,198.9 L1256.7,197.9 L1256.8,196.9 L1256.9,195.9 L1257.1,194.9 L1257.2,193.9 L1257.4,192.9 L1257.6,191.9 L1257.8,190.9 L1258.1,189.9 L1258.3,188.9 L1258.6,187.9 L1258.8,186.9 L1259.1,185.9 L1259.5,184.9 L1259.8,183.9 L1260.2,182.9 L1260.7,181.9 L1261.2,180.9 L1261.7,179.9 L1262.2,178.9 L1262.8,177.9 L1263.4,176.9 L1264.0,175.9 L1264.6,174.9 L1265.2,173.9 L1265.8,172.9 L1266.5,171.9 L1267.1,170.9 L1267.8,169.9 L1268.6,168.9 L1269.3,167.9 L1270.1,166.9 L1270.9,165.9 L1271.7,164.9 L1272.5,163.9 L1273.3,162.9 L1274.1,161.9 L1275.0,160.9 L1275.8,159.9 L1276.7,158.9 L1277.6,157.9 L1278.5,156.9 L1279.4,155.9 L1280.3,154.9 L1281.2,153.9 L1282.2,152.9 L1283.1,151.9 L1284.1,150.9 L1285.0,149.9 L1286.0,148.9 L1286.9,147.9 L1287.8,146.9 L1288.8,145.9 L1289.7,144.9 L1290.7,143.9 L1291.6,142.9 L1292.6,141.9 L1293.6,140.9 L1294.5,139.9 L1295.4,138.9 L1296.3,137.9 L1297.2,136.9 L1298.1,135.9 L1298.9,134.9 L1299.6,133.9 L1300.4,132.9 L1301.1,131.9 L1301.7,130.9 L1302.4,129.9 L1303.0,128.9 L1303.7,127.9 L1304.2,126.9 L1304.8,125.9 L1305.4,124.9 L1305.9,123.9 L1306.3,122.9 L1306.7,121.9 L1307.1,120.9 L1307.5,119.9 L1307.8,118.9 L1308.1,117.9 L1308.4,116.9 L1308.6,115.9 L1308.9,114.9 L1309.1,113.9 L1309.4,112.9 L1309.6,111.9 L1309.8,110.9 L1310.0,109.9 L1310.2,108.9 L1310.3,107.9 L1310.5,106.9 L1310.6,105.9 L1310.7,104.9 L1310.8,103.9 L1310.9,102.9 L1310.9,101.9 L1311.0,100.9 L1311.1,99.9 L1311.1,98.9 L1311.2,97.9 L1311.3,96.9 L1311.3,95.9 L1311.4,94.9 L1311.4,93.9 L1311.5,92.9 L1311.5,91.9 L1311.5,90.9 L1311.6,89.9 L1311.6,88.9 L1311.7,87.9 L1311.7,86.9 L1311.7,85.9 L1311.8,84.9 L1311.8,83.9 L1311.8,82.9 L1311.8,81.9 L1311.9,80.9 L1311.9,79.9 L1311.9,78.9 L1312.0,77.9 L1312.0,76.9 L1312.0,75.9 L1312.0,74.9 L1312.1,73.9 L1312.1,72.9 L1312.1,71.9 L1312.2,70.9 L1312.2,69.9 L1312.2,68.9 L1312.2,67.9 L1312.3,66.9 L1312.3,65.9 L1312.3,64.9 L1312.3,63.9 L1312.4,62.9 L1312.4,61.9 L1312.4,60.9 L1312.4,59.9 L1312.5,58.9 L1312.5,57.9 L1312.5,56.9 L1312.5,55.9 L1312.6,54.9 L1312.6,53.9 L1312.6,52.9 L1312.6,51.9 L1312.6,50.9 L1312.6,49.9 L1312.7,48.9 L1312.7,47.9 L1312.7,46.9 L1312.7,45.9 L1312.7,44.9 L1312.7,43.9 L1312.7,42.9 L1312.8,41.9 L1312.8,40.9 L1312.8,39.9 L1312.8,38.9 L1312.8,37.9 L1312.8,36.9 L1312.8,35.9 Z" fill="#FFFFCC" stroke="#333333" stroke-width="4.05" stroke-linejoin="round"/>
<line x1="1258.40" y1="209.10" x2="1368.00" y2="209.10" stroke="#333333" stroke-width="4.05" stroke-linecap="butt"/>
<path d="M1458.0,35.9 L1458.0,36.9 L1458.1,37.9 L1458.1,38.9 L1458.1,39.9 L1458.1,40.9 L1458.1,41.9 L1458.2,42.9 L1458.2,43.9 L1458.2,44.9 L1458.2,45.9 L1458.3,46.9 L1458.3,47.9 L1458.3,48.9 L1458.3,49.9 L1458.4,50.9 L1458.4,51.9 L1458.4,52.9 L1458.4,53.9 L1458.5,54.9 L1458.5,55.9 L1458.5,56.9 L1458.5,57.9 L1458.6,58.9 L1458.6,59.9 L1458.6,60.9 L1458.7,61.9 L1458.7,62.9 L1458.7,63.9 L1458.8,64.9 L1458.8,65.9 L1458.8,66.9 L1458.9,67.9 L1458.9,68.9 L1458.9,69.9 L1458.9,70.9 L1459.0,71.9 L1459.0,72.9 L1459.0,73.9 L1459.1,74.9 L1459.1,75.9 L1459.1,76.9 L1459.2,77.9 L1459.2,78.9 L1459.2,79.9 L1459.3,80.9 L1459.3,81.9 L1459.3,82.9 L1459.4,83.9 L1459.4,84.9 L1459.4,85.9 L1459.5,86.9 L1459.5,87.9 L1459.6,88.9 L1459.6,89.9 L1459.7,90.9 L1459.7,91.9 L1459.8,92.9 L1459.8,93.9 L1459.9,94.9 L1460.0,95.9 L1460.1,96.9 L1460.2,97.9 L1460.3,98.9 L1460.5,99.9 L1460.6,100.9 L1460.8,101.9 L1461.0,102.9 L1461.3,103.9 L1461.5,104.9 L1461.8,105.9 L1462.0,106.9 L1462.3,107.9 L1462.6,108.9 L1463.0,109.9 L1463.4,110.9 L1463.8,111.9 L1464.2,112.9 L1464.7,113.9 L1465.3,114.9 L1465.9,115.9 L1466.5,116.9 L1467.1,117.9 L1467.8,118.9 L1468.5,119.9 L1469.2,120.9 L1470.0,121.9 L1470.8,122.9 L1471.6,123.9 L1472.4,124.9 L1473.3,125.9 L1474.2,126.9 L1475.2,127.9 L1476.2,128.9 L1477.3,129.9 L1478.3,130.9 L1479.4,131.9 L1480.5,132.9 L1481.5,133.9 L1482.6,134.9 L1483.6,135.9 L1484.6,136.9 L1485.6,137.9 L1486.5,138.9 L1487.5,139.9 L1488.5,140.9 L1489.4,141.9 L1490.4,142.9 L1491.4,143.9 L1492.3,144.9 L1493.2,145.9 L1494.2,146.9 L1495.1,147.9 L1496.0,148.9 L1496.9,149.9 L1497.8,150.9 L1498.7,151.9 L1499.6,152.9 L1500.5,153.9 L1501.4,154.9 L1502.3,155.9 L1503.1,156.9 L1504.0,157.9 L1504.8,158.9 L1505.7,159.9 L1506.4,160.9 L1507.2,161.9 L1508.0,162.9 L1508.7,163.9 L1509.5,164.9 L1510.2,165.9 L1510.9,166.9 L1511.6,167.9 L1512.3,168.9 L1512.9,169.9 L1513.4,170.9 L1513.9,171.9 L1514.4,172.9 L1514.8,173.9 L1515.1,174.9 L1515.4,175.9 L1515.6,176.9 L1515.9,177.9 L1516.1,178.9 L1516.3,179.9 L1516.4,180.9 L1516.5,181.9 L1516.5,182.9 L1516.5,183.9 L1516.5,184.9 L1516.5,185.9 L1516.4,186.9 L1516.3,187.9 L1516.2,188.9 L1516.1,189.9 L1515.9,190.9 L1515.8,191.9 L1515.6,192.9 L1515.4,193.9 L1515.3,194.9 L1515.1,195.9 L1514.9,196.9 L1514.7,197.9 L1514.5,198.9 L1514.2,199.9 L1513.9,200.9 L1513.7,201.9 L1513.4,202.9 L1513.0,203.9 L1512.7,204.9 L1512.3,205.9 L1512.0,206.9 L1511.6,207.9 L1511.2,208.9 L1510.8,209.9 L1510.4,210.9 L1510.0,211.9 L1509.5,212.9 L1509.0,213.9 L1508.5,214.9 L1508.0,215.9 L1507.4,216.9 L1506.9,217.9 L1506.3,218.9 L1505.7,219.9 L1505.0,220.9 L1504.4,221.9 L1503.7,222.9 L1503.1,223.9 L1502.4,224.9 L1501.6,225.9 L1500.9,226.9 L1500.1,227.9 L1499.3,228.9 L1498.5,229.9 L1497.6,230.9 L1496.8,231.9 L1495.9,232.9 L1495.1,233.9 L1494.2,234.9 L1493.3,235.9 L1492.4,236.9 L1491.5,237.9 L1490.6,238.9 L1489.7,239.9 L1488.8,240.9 L1488.0,241.9 L1487.2,242.9 L1486.5,243.9 L1485.7,244.9 L1485.0,245.9 L1484.3,246.9 L1483.6,247.9 L1482.9,248.9 L1482.3,249.9 L1481.7,250.9 L1481.0,251.9 L1480.4,252.9 L1479.8,253.9 L1479.2,254.9 L1478.6,255.9 L1478.0,256.9 L1477.4,257.9 L1476.8,258.9 L1476.2,259.9 L1475.7,260.9 L1475.1,261.9 L1474.5,262.9 L1474.0,263.9 L1473.4,264.9 L1472.9,265.9 L1472.4,266.9 L1471.9,267.9 L1471.4,268.9 L1470.9,269.9 L1470.5,270.9 L1470.0,271.9 L1469.5,272.9 L1469.1,273.9 L1468.6,274.9 L1468.2,275.9 L1467.8,276.9 L1467.4,277.9 L1467.0,278.9 L1466.7,279.9 L1466.3,280.9 L1466.0,281.9 L1465.7,282.9 L1465.5,283.9 L1465.3,284.9 L1465.1,285.9 L1464.9,286.9 L1464.7,287.9 L1464.5,288.9 L1464.3,289.9 L1464.2,290.9 L1464.0,291.9 L1463.8,292.9 L1463.7,293.9 L1463.6,294.9 L1463.4,295.9 L1463.3,296.9 L1463.1,297.9 L1463.0,298.9 L1462.9,299.9 L1462.7,300.9 L1462.6,301.9 L1462.5,302.9 L1462.4,303.9 L1462.2,304.9 L1462.1,305.9 L1462.0,306.9 L1461.9,307.9 L1461.7,308.9 L1461.6,309.9 L1461.5,310.9 L1461.3,311.9 L1461.2,312.9 L1461.0,313.9 L1460.9,314.9 L1460.7,315.9 L1460.6,316.9 L1460.4,317.9 L1460.2,318.9 L1460.1,319.9 L1459.9,320.9 L1459.8,321.9 L1459.6,322.9 L1459.5,323.9 L1459.3,324.9 L1459.2,325.9 L1459.1,326.9 L1459.0,327.9 L1458.9,328.9 L1458.9,329.9 L1458.9,330.9 L1458.8,331.9 L1458.8,332.9 L1458.8,333.9 L1458.8,334.9 L1458.8,335.9 L1458.7,336.9 L1458.7,337.9 L1458.7,338.9 L1458.7,339.9 L1458.7,340.9 L1458.6,341.9 L1458.6,342.9 L1458.6,343.9 L1458.6,344.9 L1458.6,345.9 L1458.6,346.9 L1458.6,347.9 L1458.5,348.9 L1458.5,349.9 L1458.5,350.9 L1458.5,351.9 L1458.5,352.9 L1458.5,353.9 L1458.5,354.9 L1458.5,355.9 L1458.4,356.9 L1458.4,357.9 L1458.4,358.9 L1458.4,359.9 L1458.4,360.9 L1458.4,361.9 L1458.4,362.9 L1458.4,363.9 L1458.4,364.9 L1458.4,365.9 L1458.4,366.9 L1458.4,367.9 L1458.3,368.9 L1458.3,369.9 L1458.3,370.9 L1458.3,371.9 L1458.3,372.9 L1458.3,373.9 L1458.3,374.9 L1458.3,375.9 L1458.3,376.9 L1458.3,377.9 L1458.3,378.9 L1458.3,379.9 L1458.3,380.9 L1458.3,381.9 L1458.3,382.9 L1458.3,383.9 L1458.3,384.9 L1458.3,385.9 L1458.3,386.9 L1458.3,387.9 L1458.3,388.9 L1458.3,389.9 L1458.2,390.9 L1458.2,391.9 L1458.2,392.9 L1458.2,393.9 L1458.2,394.9 L1458.2,395.9 L1458.2,396.9 L1458.2,397.9 L1458.2,398.9 L1458.2,399.9 L1458.2,400.9 L1458.2,401.9 L1458.2,402.9 L1458.2,403.9 L1458.2,404.9 L1458.2,405.9 L1458.2,406.9 L1458.2,407.9 L1458.2,408.9 L1458.2,409.9 L1458.2,410.9 L1458.2,411.9 L1458.2,412.9 L1458.2,413.9 L1458.2,414.9 L1458.2,415.9 L1458.2,416.9 L1458.2,417.9 L1458.2,418.9 L1458.2,419.9 L1458.2,420.0 L1458.1,440.0 L1458.1,460.0 L1458.0,480.0 L1458.0,500.0 L1457.9,520.0 L1457.9,540.0 L1457.9,560.0 L1457.9,580.0 L1457.8,600.0 L1457.8,620.0 L1457.8,640.0 L1457.8,652.3 L1457.4,652.3 L1457.4,640.0 L1457.4,620.0 L1457.4,600.0 L1457.4,580.0 L1457.4,560.0 L1457.3,540.0 L1457.3,520.0 L1457.3,500.0 L1457.2,480.0 L1457.2,460.0 L1457.1,440.0 L1457.1,420.0 L1457.1,419.9 L1457.1,418.9 L1457.1,417.9 L1457.1,416.9 L1457.1,415.9 L1457.1,414.9 L1457.1,413.9 L1457.1,412.9 L1457.1,411.9 L1457.1,410.9 L1457.1,409.9 L1457.0,408.9 L1457.0,407.9 L1457.0,406.9 L1457.0,405.9 L1457.0,404.9 L1457.0,403.9 L1457.0,402.9 L1457.0,401.9 L1457.0,400.9 L1457.0,399.9 L1457.0,398.9 L1457.0,397.9 L1457.0,396.9 L1457.0,395.9 L1457.0,394.9 L1457.0,393.9 L1457.0,392.9 L1457.0,391.9 L1457.0,390.9 L1457.0,389.9 L1457.0,388.9 L1457.0,387.9 L1457.0,386.9 L1457.0,385.9 L1457.0,384.9 L1457.0,383.9 L1457.0,382.9 L1457.0,381.9 L1457.0,380.9 L1457.0,379.9 L1456.9,378.9 L1456.9,377.9 L1456.9,376.9 L1456.9,375.9 L1456.9,374.9 L1456.9,373.9 L1456.9,372.9 L1456.9,371.9 L1456.9,370.9 L1456.9,369.9 L1456.9,368.9 L1456.9,367.9 L1456.9,366.9 L1456.9,365.9 L1456.9,364.9 L1456.9,363.9 L1456.8,362.9 L1456.8,361.9 L1456.8,360.9 L1456.8,359.9 L1456.8,358.9 L1456.8,357.9 L1456.8,356.9 L1456.8,355.9 L1456.8,354.9 L1456.8,353.9 L1456.7,352.9 L1456.7,351.9 L1456.7,350.9 L1456.7,349.9 L1456.7,348.9 L1456.7,347.9 L1456.7,346.9 L1456.7,345.9 L1456.6,344.9 L1456.6,343.9 L1456.6,342.9 L1456.6,341.9 L1456.6,340.9 L1456.6,339.9 L1456.5,338.9 L1456.5,337.9 L1456.5,336.9 L1456.5,335.9 L1456.5,334.9 L1456.4,333.9 L1456.4,332.9 L1456.4,331.9 L1456.4,330.9 L1456.3,329.9 L1456.3,328.9 L1456.2,327.9 L1456.1,326.9 L1456.0,325.9 L1455.9,324.9 L1455.7,323.9 L1455.6,322.9 L1455.4,321.9 L1455.3,320.9 L1455.1,319.9 L1455.0,318.9 L1454.8,317.9 L1454.7,316.9 L1454.5,315.9 L1454.4,314.9 L1454.2,313.9 L1454.1,312.9 L1453.9,311.9 L1453.8,310.9 L1453.6,309.9 L1453.5,308.9 L1453.4,307.9 L1453.2,306.9 L1453.1,305.9 L1453.0,304.9 L1452.9,303.9 L1452.8,302.9 L1452.6,301.9 L1452.5,300.9 L1452.4,299.9 L1452.2,298.9 L1452.1,297.9 L1452.0,296.9 L1451.8,295.9 L1451.7,294.9 L1451.5,293.9 L1451.4,292.9 L1451.2,291.9 L1451.1,290.9 L1450.9,289.9 L1450.8,288.9 L1450.6,287.9 L1450.4,286.9 L1450.2,285.9 L1450.0,284.9 L1449.7,283.9 L1449.5,282.9 L1449.2,281.9 L1448.9,280.9 L1448.6,279.9 L1448.2,278.9 L1447.8,277.9 L1447.4,276.9 L1447.0,275.9 L1446.6,274.9 L1446.2,273.9 L1445.7,272.9 L1445.2,271.9 L1444.8,270.9 L1444.3,269.9 L1443.8,268.9 L1443.3,267.9 L1442.8,266.9 L1442.3,265.9 L1441.8,264.9 L1441.3,263.9 L1440.7,262.9 L1440.2,261.9 L1439.6,260.9 L1439.0,259.9 L1438.4,258.9 L1437.8,257.9 L1437.2,256.9 L1436.7,255.9 L1436.1,254.9 L1435.4,253.9 L1434.8,252.9 L1434.2,251.9 L1433.6,250.9 L1432.9,249.9 L1432.3,248.9 L1431.6,247.9 L1430.9,246.9 L1430.2,245.9 L1429.5,244.9 L1428.8,243.9 L1428.0,242.9 L1427.2,241.9 L1426.4,240.9 L1425.5,239.9 L1424.7,238.9 L1423.8,237.9 L1422.8,236.9 L1421.9,235.9 L1421.1,234.9 L1420.2,233.9 L1419.3,232.9 L1418.5,231.9 L1417.6,230.9 L1416.8,229.9 L1416.0,228.9 L1415.2,227.9 L1414.4,226.9 L1413.6,225.9 L1412.9,224.9 L1412.2,223.9 L1411.5,222.9 L1410.8,221.9 L1410.2,220.9 L1409.6,219.9 L1409.0,218.9 L1408.4,217.9 L1407.8,216.9 L1407.3,215.9 L1406.7,214.9 L1406.2,213.9 L1405.7,212.9 L1405.3,211.9 L1404.8,210.9 L1404.4,209.9 L1404.0,208.9 L1403.6,207.9 L1403.3,206.9 L1402.9,205.9 L1402.5,204.9 L1402.2,203.9 L1401.9,202.9 L1401.6,201.9 L1401.3,200.9 L1401.0,199.9 L1400.8,198.9 L1400.5,197.9 L1400.3,196.9 L1400.1,195.9 L1400.0,194.9 L1399.8,193.9 L1399.6,192.9 L1399.5,191.9 L1399.3,190.9 L1399.2,189.9 L1399.1,188.9 L1398.9,187.9 L1398.8,186.9 L1398.8,185.9 L1398.7,184.9 L1398.7,183.9 L1398.7,182.9 L1398.8,181.9 L1398.8,180.9 L1399.0,179.9 L1399.2,178.9 L1399.4,177.9 L1399.6,176.9 L1399.9,175.9 L1400.2,174.9 L1400.5,173.9 L1400.9,172.9 L1401.3,171.9 L1401.8,170.9 L1402.4,169.9 L1403.0,168.9 L1403.6,167.9 L1404.3,166.9 L1405.0,165.9 L1405.8,164.9 L1406.5,163.9 L1407.3,162.9 L1408.0,161.9 L1408.8,160.9 L1409.6,159.9 L1410.4,158.9 L1411.2,157.9 L1412.1,156.9 L1413.0,155.9 L1413.8,154.9 L1414.7,153.9 L1415.6,152.9 L1416.5,151.9 L1417.4,150.9 L1418.3,149.9 L1419.2,148.9 L1420.2,147.9 L1421.1,146.9 L1422.0,145.9 L1422.9,144.9 L1423.9,143.9 L1424.8,142.9 L1425.8,141.9 L1426.8,140.9 L1427.7,139.9 L1428.7,138.9 L1429.7,137.9 L1430.7,136.9 L1431.7,135.9 L1432.7,134.9 L1433.7,133.9 L1434.8,132.9 L1435.8,131.9 L1436.9,130.9 L1438.0,129.9 L1439.0,128.9 L1440.0,127.9 L1441.0,126.9 L1441.9,125.9 L1442.8,124.9 L1443.7,123.9 L1444.5,122.9 L1445.3,121.9 L1446.0,120.9 L1446.7,119.9 L1447.4,118.9 L1448.1,117.9 L1448.8,116.9 L1449.4,115.9 L1450.0,114.9 L1450.5,113.9 L1451.0,112.9 L1451.5,111.9 L1451.9,110.9 L1452.3,109.9 L1452.6,108.9 L1452.9,107.9 L1453.2,106.9 L1453.5,105.9 L1453.7,104.9 L1454.0,103.9 L1454.2,102.9 L1454.4,101.9 L1454.6,100.9 L1454.8,99.9 L1454.9,98.9 L1455.1,97.9 L1455.2,96.9 L1455.3,95.9 L1455.3,94.9 L1455.4,93.9 L1455.5,92.9 L1455.5,91.9 L1455.6,90.9 L1455.6,89.9 L1455.7,88.9 L1455.7,87.9 L1455.8,86.9 L1455.8,85.9 L1455.8,84.9 L1455.9,83.9 L1455.9,82.9 L1456.0,81.9 L1456.0,80.9 L1456.0,79.9 L1456.1,78.9 L1456.1,77.9 L1456.1,76.9 L1456.1,75.9 L1456.2,74.9 L1456.2,73.9 L1456.2,72.9 L1456.3,71.9 L1456.3,70.9 L1456.3,69.9 L1456.4,68.9 L1456.4,67.9 L1456.4,66.9 L1456.5,65.9 L1456.5,64.9 L1456.5,63.9 L1456.5,62.9 L1456.6,61.9 L1456.6,60.9 L1456.6,59.9 L1456.7,58.9 L1456.7,57.9 L1456.7,56.9 L1456.7,55.9 L1456.8,54.9 L1456.8,53.9 L1456.8,52.9 L1456.9,51.9 L1456.9,50.9 L1456.9,49.9 L1456.9,48.9 L1457.0,47.9 L1457.0,46.9 L1457.0,45.9 L1457.0,44.9 L1457.1,43.9 L1457.1,42.9 L1457.1,41.9 L1457.1,40.9 L1457.1,39.9 L1457.2,38.9 L1457.2,37.9 L1457.2,36.9 L1457.2,35.9 Z" fill="#D9F0A3" stroke="#333333" stroke-width="4.05" stroke-linejoin="round"/>
<line x1="1400.12" y1="195.90" x2="1515.12" y2="195.90" stroke="#333333" stroke-width="4.05" stroke-linecap="butt"/>
<path d="M1602.5,35.9 L1602.5,36.9 L1602.5,37.9 L1602.6,38.9 L1602.6,39.9 L1602.6,40.9 L1602.7,41.9 L1602.7,42.9 L1602.7,43.9 L1602.8,44.9 L1602.8,45.9 L1602.9,46.9 L1602.9,47.9 L1602.9,48.9 L1603.0,49.9 L1603.0,50.9 L1603.0,51.9 L1603.1,52.9 L1603.1,53.9 L1603.2,54.9 L1603.2,55.9 L1603.2,56.9 L1603.3,57.9 L1603.3,58.9 L1603.3,59.9 L1603.4,60.9 L1603.4,61.9 L1603.4,62.9 L1603.5,63.9 L1603.5,64.9 L1603.5,65.9 L1603.6,66.9 L1603.6,67.9 L1603.6,68.9 L1603.6,69.9 L1603.7,70.9 L1603.7,71.9 L1603.7,72.9 L1603.7,73.9 L1603.8,74.9 L1603.8,75.9 L1603.8,76.9 L1603.9,77.9 L1603.9,78.9 L1603.9,79.9 L1604.0,80.9 L1604.0,81.9 L1604.0,82.9 L1604.1,83.9 L1604.1,84.9 L1604.2,85.9 L1604.2,86.9 L1604.3,87.9 L1604.3,88.9 L1604.4,89.9 L1604.5,90.9 L1604.6,91.9 L1604.7,92.9 L1604.8,93.9 L1605.0,94.9 L1605.2,95.9 L1605.3,96.9 L1605.6,97.9 L1605.8,98.9 L1606.0,99.9 L1606.3,100.9 L1606.5,101.9 L1606.8,102.9 L1607.1,103.9 L1607.4,104.9 L1607.8,105.9 L1608.2,106.9 L1608.6,107.9 L1609.0,108.9 L1609.5,109.9 L1610.0,110.9 L1610.6,111.9 L1611.1,112.9 L1611.7,113.9 L1612.3,114.9 L1613.0,115.9 L1613.6,116.9 L1614.3,117.9 L1615.0,118.9 L1615.8,119.9 L1616.6,120.9 L1617.5,121.9 L1618.4,122.9 L1619.3,123.9 L1620.2,124.9 L1621.2,125.9 L1622.2,126.9 L1623.2,127.9 L1624.2,128.9 L1625.3,129.9 L1626.3,130.9 L1627.4,131.9 L1628.5,132.9 L1629.6,133.9 L1630.8,134.9 L1631.9,135.9 L1633.0,136.9 L1634.1,137.9 L1635.2,138.9 L1636.3,139.9 L1637.4,140.9 L1638.5,141.9 L1639.6,142.9 L1640.7,143.9 L1641.8,144.9 L1642.9,145.9 L1643.9,146.9 L1645.0,147.9 L1646.1,148.9 L1647.1,149.9 L1648.1,150.9 L1649.1,151.9 L1650.0,152.9 L1651.0,153.9 L1652.0,154.9 L1652.9,155.9 L1653.9,156.9 L1654.8,157.9 L1655.7,158.9 L1656.5,159.9 L1657.3,160.9 L1657.9,161.9 L1658.5,162.9 L1658.9,163.9 L1659.3,164.9 L1659.7,165.9 L1660.0,166.9 L1660.2,167.9 L1660.5,168.9 L1660.6,169.9 L1660.8,170.9 L1660.9,171.9 L1660.9,172.9 L1660.9,173.9 L1660.9,174.9 L1660.8,175.9 L1660.7,176.9 L1660.6,177.9 L1660.4,178.9 L1660.3,179.9 L1660.1,180.9 L1659.9,181.9 L1659.7,182.9 L1659.5,183.9 L1659.4,184.9 L1659.3,185.9 L1659.3,186.9 L1659.2,187.9 L1659.2,188.9 L1659.2,189.9 L1659.2,190.9 L1659.2,191.9 L1659.2,192.9 L1659.1,193.9 L1659.0,194.9 L1658.9,195.9 L1658.8,196.9 L1658.6,197.9 L1658.4,198.9 L1658.2,199.9 L1657.8,200.9 L1657.4,201.9 L1656.8,202.9 L1656.2,203.9 L1655.5,204.9 L1654.9,205.9 L1654.2,206.9 L1653.5,207.9 L1652.9,208.9 L1652.3,209.9 L1651.6,210.9 L1651.0,211.9 L1650.4,212.9 L1649.7,213.9 L1649.1,214.9 L1648.4,215.9 L1647.8,216.9 L1647.1,217.9 L1646.4,218.9 L1645.7,219.9 L1645.0,220.9 L1644.3,221.9 L1643.5,222.9 L1642.8,223.9 L1642.0,224.9 L1641.3,225.9 L1640.5,226.9 L1639.7,227.9 L1639.0,228.9 L1638.2,229.9 L1637.5,230.9 L1636.7,231.9 L1636.0,232.9 L1635.2,233.9 L1634.5,234.9 L1633.8,235.9 L1633.1,236.9 L1632.4,237.9 L1631.7,238.9 L1631.0,239.9 L1630.3,240.9 L1629.6,241.9 L1628.9,242.9 L1628.2,243.9 L1627.5,244.9 L1626.8,245.9 L1626.2,246.9 L1625.5,247.9 L1624.8,248.9 L1624.1,249.9 L1623.5,250.9 L1622.8,251.9 L1622.1,252.9 L1621.5,253.9 L1620.8,254.9 L1620.2,255.9 L1619.6,256.9 L1619.0,257.9 L1618.4,258.9 L1617.8,259.9 L1617.2,260.9 L1616.6,261.9 L1616.0,262.9 L1615.4,263.9 L1614.8,264.9 L1614.3,265.9 L1613.7,266.9 L1613.2,267.9 L1612.7,268.9 L1612.2,269.9 L1611.7,270.9 L1611.3,271.9 L1610.9,272.9 L1610.5,273.9 L1610.2,274.9 L1609.9,275.9 L1609.5,276.9 L1609.2,277.9 L1609.0,278.9 L1608.7,279.9 L1608.4,280.9 L1608.2,281.9 L1607.9,282.9 L1607.7,283.9 L1607.5,284.9 L1607.3,285.9 L1607.1,286.9 L1606.9,287.9 L1606.7,288.9 L1606.6,289.9 L1606.4,290.9 L1606.2,291.9 L1606.1,292.9 L1606.0,293.9 L1605.8,294.9 L1605.7,295.9 L1605.5,296.9 L1605.4,297.9 L1605.3,298.9 L1605.1,299.9 L1605.0,300.9 L1604.8,301.9 L1604.6,302.9 L1604.5,303.9 L1604.3,304.9 L1604.1,305.9 L1604.0,306.9 L1603.8,307.9 L1603.7,308.9 L1603.6,309.9 L1603.5,310.9 L1603.4,311.9 L1603.4,312.9 L1603.3,313.9 L1603.3,314.9 L1603.3,315.9 L1603.3,316.9 L1603.3,317.9 L1603.2,318.9 L1603.2,319.9 L1603.2,320.9 L1603.2,321.9 L1603.2,322.9 L1603.2,323.9 L1603.1,324.9 L1603.1,325.9 L1603.1,326.9 L1603.1,327.9 L1603.1,328.9 L1603.1,329.9 L1603.1,330.9 L1603.0,331.9 L1603.0,332.9 L1603.0,333.9 L1603.0,334.9 L1603.0,335.9 L1603.0,336.9 L1603.0,337.9 L1603.0,338.9 L1603.0,339.9 L1602.9,340.9 L1602.9,341.9 L1602.9,342.9 L1602.9,343.9 L1602.9,344.9 L1602.9,345.9 L1602.9,346.9 L1602.9,347.9 L1602.9,348.9 L1602.9,349.9 L1602.9,350.9 L1602.8,351.9 L1602.8,352.9 L1602.8,353.9 L1602.8,354.9 L1602.8,355.9 L1602.8,356.9 L1602.8,357.9 L1602.8,358.9 L1602.8,359.9 L1602.8,360.9 L1602.8,361.9 L1602.8,362.9 L1602.8,363.9 L1602.8,364.9 L1602.8,365.9 L1602.8,366.9 L1602.8,367.9 L1602.7,368.9 L1602.7,369.9 L1602.7,370.9 L1602.7,371.9 L1602.7,372.9 L1602.7,373.9 L1602.7,374.9 L1602.7,375.9 L1602.7,376.9 L1602.7,377.9 L1602.7,378.9 L1602.7,379.9 L1602.7,380.9 L1602.7,381.9 L1602.7,382.9 L1602.7,383.9 L1602.7,384.9 L1602.7,385.9 L1602.7,386.9 L1602.7,387.9 L1602.7,388.9 L1602.7,389.9 L1602.7,390.9 L1602.7,391.9 L1602.7,392.9 L1602.7,393.9 L1602.7,394.9 L1602.7,395.9 L1602.6,396.9 L1602.6,397.9 L1602.6,398.9 L1602.6,399.9 L1602.6,400.9 L1602.6,401.9 L1602.6,402.9 L1602.6,403.9 L1602.6,404.9 L1602.6,405.9 L1602.6,406.9 L1602.6,407.9 L1602.6,408.9 L1602.6,409.9 L1602.6,410.9 L1602.6,411.9 L1602.6,412.9 L1602.6,413.9 L1602.6,414.9 L1602.6,415.9 L1602.6,416.9 L1602.6,417.9 L1602.6,418.9 L1602.6,419.9 L1602.6,420.0 L1602.5,440.0 L1602.5,460.0 L1602.4,480.0 L1602.4,500.0 L1602.3,520.0 L1602.3,540.0 L1602.3,560.0 L1602.3,580.0 L1602.3,600.0 L1602.2,620.0 L1602.2,636.1 L1601.8,636.1 L1601.8,620.0 L1601.8,600.0 L1601.8,580.0 L1601.8,560.0 L1601.8,540.0 L1601.7,520.0 L1601.7,500.0 L1601.7,480.0 L1601.6,460.0 L1601.6,440.0 L1601.5,420.0 L1601.5,419.9 L1601.5,418.9 L1601.5,417.9 L1601.5,416.9 L1601.5,415.9 L1601.5,414.9 L1601.5,413.9 L1601.5,412.9 L1601.5,411.9 L1601.5,410.9 L1601.5,409.9 L1601.5,408.9 L1601.5,407.9 L1601.5,406.9 L1601.5,405.9 L1601.5,404.9 L1601.5,403.9 L1601.4,402.9 L1601.4,401.9 L1601.4,400.9 L1601.4,399.9 L1601.4,398.9 L1601.4,397.9 L1601.4,396.9 L1601.4,395.9 L1601.4,394.9 L1601.4,393.9 L1601.4,392.9 L1601.4,391.9 L1601.4,390.9 L1601.4,389.9 L1601.4,388.9 L1601.4,387.9 L1601.4,386.9 L1601.4,385.9 L1601.4,384.9 L1601.4,383.9 L1601.4,382.9 L1601.4,381.9 L1601.4,380.9 L1601.4,379.9 L1601.4,378.9 L1601.4,377.9 L1601.4,376.9 L1601.4,375.9 L1601.4,374.9 L1601.4,373.9 L1601.4,372.9 L1601.3,371.9 L1601.3,370.9 L1601.3,369.9 L1601.3,368.9 L1601.3,367.9 L1601.3,366.9 L1601.3,365.9 L1601.3,364.9 L1601.3,363.9 L1601.3,362.9 L1601.3,361.9 L1601.3,360.9 L1601.3,359.9 L1601.3,358.9 L1601.3,357.9 L1601.3,356.9 L1601.3,355.9 L1601.3,354.9 L1601.2,353.9 L1601.2,352.9 L1601.2,351.9 L1601.2,350.9 L1601.2,349.9 L1601.2,348.9 L1601.2,347.9 L1601.2,346.9 L1601.2,345.9 L1601.2,344.9 L1601.2,343.9 L1601.2,342.9 L1601.1,341.9 L1601.1,340.9 L1601.1,339.9 L1601.1,338.9 L1601.1,337.9 L1601.1,336.9 L1601.1,335.9 L1601.1,334.9 L1601.1,333.9 L1601.1,332.9 L1601.0,331.9 L1601.0,330.9 L1601.0,329.9 L1601.0,328.9 L1601.0,327.9 L1601.0,326.9 L1601.0,325.9 L1600.9,324.9 L1600.9,323.9 L1600.9,322.9 L1600.9,321.9 L1600.9,320.9 L1600.9,319.9 L1600.8,318.9 L1600.8,317.9 L1600.8,316.9 L1600.8,315.9 L1600.8,314.9 L1600.7,313.9 L1600.7,312.9 L1600.6,311.9 L1600.6,310.9 L1600.5,309.9 L1600.4,308.9 L1600.2,307.9 L1600.1,306.9 L1599.9,305.9 L1599.8,304.9 L1599.6,303.9 L1599.4,302.9 L1599.3,301.9 L1599.1,300.9 L1599.0,299.9 L1598.8,298.9 L1598.7,297.9 L1598.5,296.9 L1598.4,295.9 L1598.3,294.9 L1598.1,293.9 L1598.0,292.9 L1597.8,291.9 L1597.7,290.9 L1597.5,289.9 L1597.4,288.9 L1597.2,287.9 L1597.0,286.9 L1596.8,285.9 L1596.6,284.9 L1596.4,283.9 L1596.2,282.9 L1595.9,281.9 L1595.7,280.9 L1595.4,279.9 L1595.1,278.9 L1594.8,277.9 L1594.5,276.9 L1594.2,275.9 L1593.9,274.9 L1593.5,273.9 L1593.2,272.9 L1592.8,271.9 L1592.3,270.9 L1591.9,269.9 L1591.4,268.9 L1590.9,267.9 L1590.4,266.9 L1589.8,265.9 L1589.3,264.9 L1588.7,263.9 L1588.1,262.9 L1587.5,261.9 L1586.9,260.9 L1586.3,259.9 L1585.7,258.9 L1585.1,257.9 L1584.5,256.9 L1583.9,255.9 L1583.2,254.9 L1582.6,253.9 L1581.9,252.9 L1581.3,251.9 L1580.6,250.9 L1579.9,249.9 L1579.3,248.9 L1578.6,247.9 L1577.9,246.9 L1577.2,245.9 L1576.6,244.9 L1575.9,243.9 L1575.2,242.9 L1574.5,241.9 L1573.8,240.9 L1573.1,239.9 L1572.4,238.9 L1571.7,237.9 L1571.0,236.9 L1570.3,235.9 L1569.6,234.9 L1568.8,233.9 L1568.1,232.9 L1567.4,231.9 L1566.6,230.9 L1565.9,229.9 L1565.1,228.9 L1564.3,227.9 L1563.6,226.9 L1562.8,225.9 L1562.0,224.9 L1561.3,223.9 L1560.5,222.9 L1559.8,221.9 L1559.1,220.9 L1558.4,219.9 L1557.7,218.9 L1557.0,217.9 L1556.3,216.9 L1555.7,215.9 L1555.0,214.9 L1554.3,213.9 L1553.7,212.9 L1553.1,211.9 L1552.4,210.9 L1551.8,209.9 L1551.2,208.9 L1550.5,207.9 L1549.9,206.9 L1549.2,205.9 L1548.5,204.9 L1547.9,203.9 L1547.3,202.9 L1546.7,201.9 L1546.3,200.9 L1545.9,199.9 L1545.7,198.9 L1545.5,197.9 L1545.3,196.9 L1545.2,195.9 L1545.1,194.9 L1545.0,193.9 L1544.9,192.9 L1544.9,191.9 L1544.9,190.9 L1544.8,189.9 L1544.8,188.9 L1544.8,187.9 L1544.8,186.9 L1544.8,185.9 L1544.7,184.9 L1544.6,183.9 L1544.4,182.9 L1544.2,181.9 L1544.0,180.9 L1543.8,179.9 L1543.7,178.9 L1543.5,177.9 L1543.4,176.9 L1543.3,175.9 L1543.2,174.9 L1543.1,173.9 L1543.1,172.9 L1543.2,171.9 L1543.3,170.9 L1543.4,169.9 L1543.6,168.9 L1543.9,167.9 L1544.1,166.9 L1544.4,165.9 L1544.8,164.9 L1545.2,163.9 L1545.6,162.9 L1546.2,161.9 L1546.8,160.9 L1547.6,159.9 L1548.4,158.9 L1549.3,157.9 L1550.2,156.9 L1551.1,155.9 L1552.1,154.9 L1553.1,153.9 L1554.0,152.9 L1555.0,151.9 L1556.0,150.9 L1557.0,149.9 L1558.0,148.9 L1559.1,147.9 L1560.1,146.9 L1561.2,145.9 L1562.3,144.9 L1563.4,143.9 L1564.5,142.9 L1565.6,141.9 L1566.7,140.9 L1567.7,139.9 L1568.8,138.9 L1570.0,137.9 L1571.1,136.9 L1572.2,135.9 L1573.3,134.9 L1574.4,133.9 L1575.6,132.9 L1576.7,131.9 L1577.8,130.9 L1578.8,129.9 L1579.9,128.9 L1580.9,127.9 L1581.9,126.9 L1582.9,125.9 L1583.8,124.9 L1584.8,123.9 L1585.7,122.9 L1586.6,121.9 L1587.4,120.9 L1588.3,119.9 L1589.0,118.9 L1589.8,117.9 L1590.5,116.9 L1591.1,115.9 L1591.8,114.9 L1592.4,113.9 L1593.0,112.9 L1593.5,111.9 L1594.1,110.9 L1594.6,109.9 L1595.1,108.9 L1595.5,107.9 L1595.9,106.9 L1596.3,105.9 L1596.7,104.9 L1597.0,103.9 L1597.3,102.9 L1597.6,101.9 L1597.8,100.9 L1598.1,99.9 L1598.3,98.9 L1598.5,97.9 L1598.7,96.9 L1598.9,95.9 L1599.1,94.9 L1599.2,93.9 L1599.4,92.9 L1599.5,91.9 L1599.6,90.9 L1599.7,89.9 L1599.7,88.9 L1599.8,87.9 L1599.9,86.9 L1599.9,85.9 L1600.0,84.9 L1600.0,83.9 L1600.0,82.9 L1600.1,81.9 L1600.1,80.9 L1600.2,79.9 L1600.2,78.9 L1600.2,77.9 L1600.3,76.9 L1600.3,75.9 L1600.3,74.9 L1600.3,73.9 L1600.4,72.9 L1600.4,71.9 L1600.4,70.9 L1600.4,69.9 L1600.5,68.9 L1600.5,67.9 L1600.5,66.9 L1600.6,65.9 L1600.6,64.9 L1600.6,63.9 L1600.6,62.9 L1600.7,61.9 L1600.7,60.9 L1600.7,59.9 L1600.8,58.9 L1600.8,57.9 L1600.9,56.9 L1600.9,55.9 L1600.9,54.9 L1601.0,53.9 L1601.0,52.9 L1601.0,51.9 L1601.1,50.9 L1601.1,49.9 L1601.2,48.9 L1601.2,47.9 L1601.2,46.9 L1601.3,45.9 L1601.3,44.9 L1601.3,43.9 L1601.4,42.9 L1601.4,41.9 L1601.5,40.9 L1601.5,39.9 L1601.5,38.9 L1601.6,37.9 L1601.6,36.9 L1601.6,35.9 Z" fill="#ADDD8E" stroke="#333333" stroke-width="4.05" stroke-linejoin="round"/>
<line x1="1544.84" y1="191.10" x2="1659.24" y2="191.10" stroke="#333333" stroke-width="4.05" stroke-linecap="butt"/>
<path d="M1746.9,35.9 L1747.0,36.9 L1747.0,37.9 L1747.1,38.9 L1747.1,39.9 L1747.2,40.9 L1747.3,41.9 L1747.3,42.9 L1747.4,43.9 L1747.5,44.9 L1747.5,45.9 L1747.6,46.9 L1747.6,47.9 L1747.7,48.9 L1747.7,49.9 L1747.8,50.9 L1747.8,51.9 L1747.9,52.9 L1747.9,53.9 L1747.9,54.9 L1748.0,55.9 L1748.0,56.9 L1748.0,57.9 L1748.1,58.9 L1748.1,59.9 L1748.1,60.9 L1748.1,61.9 L1748.2,62.9 L1748.2,63.9 L1748.2,64.9 L1748.3,65.9 L1748.3,66.9 L1748.3,67.9 L1748.4,68.9 L1748.4,69.9 L1748.4,70.9 L1748.5,71.9 L1748.5,72.9 L1748.6,73.9 L1748.7,74.9 L1748.7,75.9 L1748.8,76.9 L1749.0,77.9 L1749.1,78.9 L1749.3,79.9 L1749.5,80.9 L1749.8,81.9 L1750.1,82.9 L1750.4,83.9 L1750.7,84.9 L1751.0,85.9 L1751.4,86.9 L1751.7,87.9 L1752.1,88.9 L1752.5,89.9 L1752.9,90.9 L1753.3,91.9 L1753.8,92.9 L1754.2,93.9 L1754.7,94.9 L1755.3,95.9 L1755.8,96.9 L1756.4,97.9 L1757.0,98.9 L1757.6,99.9 L1758.3,100.9 L1758.9,101.9 L1759.6,102.9 L1760.3,103.9 L1761.1,104.9 L1761.8,105.9 L1762.6,106.9 L1763.5,107.9 L1764.3,108.9 L1765.2,109.9 L1766.2,110.9 L1767.1,111.9 L1768.1,112.9 L1769.1,113.9 L1770.1,114.9 L1771.2,115.9 L1772.3,116.9 L1773.4,117.9 L1774.6,118.9 L1775.9,119.9 L1777.2,120.9 L1778.5,121.9 L1779.8,122.9 L1781.2,123.9 L1782.5,124.9 L1783.9,125.9 L1785.2,126.9 L1786.5,127.9 L1787.8,128.9 L1789.0,129.9 L1790.3,130.9 L1791.5,131.9 L1792.8,132.9 L1794.0,133.9 L1795.2,134.9 L1796.4,135.9 L1797.6,136.9 L1798.7,137.9 L1799.8,138.9 L1800.8,139.9 L1801.7,140.9 L1802.5,141.9 L1803.3,142.9 L1804.0,143.9 L1804.7,144.9 L1805.3,145.9 L1805.8,146.9 L1806.3,147.9 L1806.7,148.9 L1807.0,149.9 L1807.3,150.9 L1807.5,151.9 L1807.6,152.9 L1807.7,153.9 L1807.7,154.9 L1807.8,155.9 L1807.9,156.9 L1807.9,157.9 L1807.9,158.9 L1807.9,159.9 L1807.9,160.9 L1807.9,161.9 L1807.8,162.9 L1807.7,163.9 L1807.6,164.9 L1807.5,165.9 L1807.4,166.9 L1807.3,167.9 L1807.2,168.9 L1807.0,169.9 L1806.9,170.9 L1806.8,171.9 L1806.6,172.9 L1806.5,173.9 L1806.3,174.9 L1806.1,175.9 L1806.0,176.9 L1805.8,177.9 L1805.6,178.9 L1805.4,179.9 L1805.2,180.9 L1804.9,181.9 L1804.5,182.9 L1804.1,183.9 L1803.5,184.9 L1802.8,185.9 L1802.1,186.9 L1801.2,187.9 L1800.4,188.9 L1799.6,189.9 L1798.8,190.9 L1798.1,191.9 L1797.4,192.9 L1796.8,193.9 L1796.1,194.9 L1795.6,195.9 L1795.0,196.9 L1794.4,197.9 L1793.9,198.9 L1793.4,199.9 L1792.9,200.9 L1792.5,201.9 L1792.0,202.9 L1791.5,203.9 L1791.0,204.9 L1790.4,205.9 L1789.8,206.9 L1789.1,207.9 L1788.3,208.9 L1787.4,209.9 L1786.4,210.9 L1785.3,211.9 L1784.3,212.9 L1783.2,213.9 L1782.2,214.9 L1781.1,215.9 L1780.2,216.9 L1779.3,217.9 L1778.4,218.9 L1777.5,219.9 L1776.7,220.9 L1775.8,221.9 L1775.0,222.9 L1774.2,223.9 L1773.4,224.9 L1772.7,225.9 L1771.9,226.9 L1771.2,227.9 L1770.5,228.9 L1769.8,229.9 L1769.1,230.9 L1768.4,231.9 L1767.8,232.9 L1767.1,233.9 L1766.5,234.9 L1765.8,235.9 L1765.2,236.9 L1764.6,237.9 L1764.1,238.9 L1763.5,239.9 L1763.0,240.9 L1762.4,241.9 L1761.9,242.9 L1761.5,243.9 L1761.0,244.9 L1760.5,245.9 L1760.1,246.9 L1759.7,247.9 L1759.3,248.9 L1758.9,249.9 L1758.5,250.9 L1758.1,251.9 L1757.7,252.9 L1757.4,253.9 L1757.0,254.9 L1756.7,255.9 L1756.3,256.9 L1756.0,257.9 L1755.7,258.9 L1755.3,259.9 L1755.0,260.9 L1754.7,261.9 L1754.4,262.9 L1754.1,263.9 L1753.8,264.9 L1753.5,265.9 L1753.2,266.9 L1753.0,267.9 L1752.7,268.9 L1752.5,269.9 L1752.2,270.9 L1752.0,271.9 L1751.8,272.9 L1751.6,273.9 L1751.4,274.9 L1751.2,275.9 L1751.0,276.9 L1750.8,277.9 L1750.6,278.9 L1750.4,279.9 L1750.2,280.9 L1750.0,281.9 L1749.8,282.9 L1749.5,283.9 L1749.3,284.9 L1749.0,285.9 L1748.8,286.9 L1748.5,287.9 L1748.3,288.9 L1748.1,289.9 L1748.0,290.9 L1747.9,291.9 L1747.8,292.9 L1747.8,293.9 L1747.7,294.9 L1747.7,295.9 L1747.7,296.9 L1747.7,297.9 L1747.7,298.9 L1747.6,299.9 L1747.6,300.9 L1747.6,301.9 L1747.6,302.9 L1747.6,303.9 L1747.6,304.9 L1747.6,305.9 L1747.5,306.9 L1747.5,307.9 L1747.5,308.9 L1747.5,309.9 L1747.5,310.9 L1747.5,311.9 L1747.5,312.9 L1747.5,313.9 L1747.4,314.9 L1747.4,315.9 L1747.4,316.9 L1747.4,317.9 L1747.4,318.9 L1747.4,319.9 L1747.4,320.9 L1747.4,321.9 L1747.4,322.9 L1747.4,323.9 L1747.4,324.9 L1747.3,325.9 L1747.3,326.9 L1747.3,327.9 L1747.3,328.9 L1747.3,329.9 L1747.3,330.9 L1747.3,331.9 L1747.3,332.9 L1747.3,333.9 L1747.3,334.9 L1747.3,335.9 L1747.3,336.9 L1747.3,337.9 L1747.2,338.9 L1747.2,339.9 L1747.2,340.9 L1747.2,341.9 L1747.2,342.9 L1747.2,343.9 L1747.2,344.9 L1747.2,345.9 L1747.2,346.9 L1747.2,347.9 L1747.2,348.9 L1747.2,349.9 L1747.2,350.9 L1747.2,351.9 L1747.2,352.9 L1747.2,353.9 L1747.2,354.9 L1747.2,355.9 L1747.2,356.9 L1747.2,357.9 L1747.2,358.9 L1747.2,359.9 L1747.1,360.9 L1747.1,361.9 L1747.1,362.9 L1747.1,363.9 L1747.1,364.9 L1747.1,365.9 L1747.1,366.9 L1747.1,367.9 L1747.1,368.9 L1747.1,369.9 L1747.1,370.9 L1747.1,371.9 L1747.1,372.9 L1747.1,373.9 L1747.1,374.9 L1747.1,375.9 L1747.1,376.9 L1747.1,377.9 L1747.1,378.9 L1747.1,379.9 L1747.1,380.9 L1747.1,381.9 L1747.1,382.9 L1747.1,383.9 L1747.1,384.9 L1747.1,385.9 L1747.1,386.9 L1747.1,387.9 L1747.1,388.9 L1747.1,389.9 L1747.1,390.9 L1747.1,391.9 L1747.1,392.9 L1747.1,393.9 L1747.1,394.9 L1747.1,395.9 L1747.1,396.9 L1747.1,397.9 L1747.1,398.9 L1747.1,399.9 L1747.1,400.9 L1747.1,401.9 L1747.1,402.9 L1747.1,403.9 L1747.0,404.9 L1747.0,405.9 L1747.0,406.9 L1747.0,407.9 L1747.0,408.9 L1747.0,409.9 L1747.0,410.9 L1747.0,411.9 L1747.0,412.9 L1747.0,413.9 L1747.0,414.9 L1747.0,415.9 L1747.0,416.9 L1747.0,417.9 L1747.0,418.9 L1747.0,419.9 L1747.0,420.0 L1747.0,440.0 L1746.9,460.0 L1746.9,480.0 L1746.9,500.0 L1746.8,520.0 L1746.8,540.0 L1746.8,560.0 L1746.8,580.0 L1746.7,600.0 L1746.7,620.0 L1746.7,640.0 L1746.7,660.0 L1746.7,680.0 L1746.7,700.0 L1746.7,720.0 L1746.7,740.0 L1746.7,758.7 L1746.3,758.7 L1746.3,740.0 L1746.3,720.0 L1746.2,700.0 L1746.2,680.0 L1746.2,660.0 L1746.2,640.0 L1746.2,620.0 L1746.2,600.0 L1746.2,580.0 L1746.1,560.0 L1746.1,540.0 L1746.1,520.0 L1746.0,500.0 L1746.0,480.0 L1746.0,460.0 L1745.9,440.0 L1745.9,420.0 L1745.9,419.9 L1745.9,418.9 L1745.9,417.9 L1745.9,416.9 L1745.9,415.9 L1745.9,414.9 L1745.9,413.9 L1745.9,412.9 L1745.9,411.9 L1745.9,410.9 L1745.9,409.9 L1745.9,408.9 L1745.9,407.9 L1745.9,406.9 L1745.9,405.9 L1745.9,404.9 L1745.9,403.9 L1745.9,402.9 L1745.9,401.9 L1745.9,400.9 L1745.9,399.9 L1745.9,398.9 L1745.9,397.9 L1745.9,396.9 L1745.9,395.9 L1745.8,394.9 L1745.8,393.9 L1745.8,392.9 L1745.8,391.9 L1745.8,390.9 L1745.8,389.9 L1745.8,388.9 L1745.8,387.9 L1745.8,386.9 L1745.8,385.9 L1745.8,384.9 L1745.8,383.9 L1745.8,382.9 L1745.8,381.9 L1745.8,380.9 L1745.8,379.9 L1745.8,378.9 L1745.8,377.9 L1745.8,376.9 L1745.8,375.9 L1745.8,374.9 L1745.8,373.9 L1745.8,372.9 L1745.8,371.9 L1745.8,370.9 L1745.8,369.9 L1745.8,368.9 L1745.8,367.9 L1745.8,366.9 L1745.8,365.9 L1745.8,364.9 L1745.8,363.9 L1745.8,362.9 L1745.8,361.9 L1745.8,360.9 L1745.8,359.9 L1745.8,358.9 L1745.8,357.9 L1745.8,356.9 L1745.8,355.9 L1745.7,354.9 L1745.7,353.9 L1745.7,352.9 L1745.7,351.9 L1745.7,350.9 L1745.7,349.9 L1745.7,348.9 L1745.7,347.9 L1745.7,346.9 L1745.7,345.9 L1745.7,344.9 L1745.7,343.9 L1745.7,342.9 L1745.7,341.9 L1745.7,340.9 L1745.7,339.9 L1745.7,338.9 L1745.7,337.9 L1745.7,336.9 L1745.7,335.9 L1745.6,334.9 L1745.6,333.9 L1745.6,332.9 L1745.6,331.9 L1745.6,330.9 L1745.6,329.9 L1745.6,328.9 L1745.6,327.9 L1745.6,326.9 L1745.6,325.9 L1745.6,324.9 L1745.6,323.9 L1745.6,322.9 L1745.5,321.9 L1745.5,320.9 L1745.5,319.9 L1745.5,318.9 L1745.5,317.9 L1745.5,316.9 L1745.5,315.9 L1745.5,314.9 L1745.5,313.9 L1745.4,312.9 L1745.4,311.9 L1745.4,310.9 L1745.4,309.9 L1745.4,308.9 L1745.4,307.9 L1745.4,306.9 L1745.4,305.9 L1745.4,304.9 L1745.3,303.9 L1745.3,302.9 L1745.3,301.9 L1745.3,300.9 L1745.3,299.9 L1745.3,298.9 L1745.2,297.9 L1745.2,296.9 L1745.2,295.9 L1745.2,294.9 L1745.2,293.9 L1745.1,292.9 L1745.0,291.9 L1744.9,290.9 L1744.8,289.9 L1744.6,288.9 L1744.4,287.9 L1744.1,286.9 L1743.9,285.9 L1743.6,284.9 L1743.4,283.9 L1743.2,282.9 L1742.9,281.9 L1742.7,280.9 L1742.5,279.9 L1742.3,278.9 L1742.1,277.9 L1741.9,276.9 L1741.8,275.9 L1741.6,274.9 L1741.4,273.9 L1741.1,272.9 L1740.9,271.9 L1740.7,270.9 L1740.5,269.9 L1740.2,268.9 L1740.0,267.9 L1739.7,266.9 L1739.4,265.9 L1739.1,264.9 L1738.8,263.9 L1738.5,262.9 L1738.2,261.9 L1737.9,260.9 L1737.6,259.9 L1737.3,258.9 L1736.9,257.9 L1736.6,256.9 L1736.2,255.9 L1735.9,254.9 L1735.5,253.9 L1735.2,252.9 L1734.8,251.9 L1734.4,250.9 L1734.0,249.9 L1733.6,248.9 L1733.2,247.9 L1732.8,246.9 L1732.4,245.9 L1731.9,244.9 L1731.5,243.9 L1731.0,242.9 L1730.5,241.9 L1730.0,240.9 L1729.4,239.9 L1728.9,238.9 L1728.3,237.9 L1727.7,236.9 L1727.1,235.9 L1726.4,234.9 L1725.8,233.9 L1725.2,232.9 L1724.5,231.9 L1723.8,230.9 L1723.1,229.9 L1722.4,228.9 L1721.7,227.9 L1721.0,226.9 L1720.2,225.9 L1719.5,224.9 L1718.7,223.9 L1717.9,222.9 L1717.1,221.9 L1716.3,220.9 L1715.4,219.9 L1714.5,218.9 L1713.7,217.9 L1712.7,216.9 L1711.8,215.9 L1710.8,214.9 L1709.7,213.9 L1708.6,212.9 L1707.6,211.9 L1706.5,210.9 L1705.5,209.9 L1704.6,208.9 L1703.8,207.9 L1703.1,206.9 L1702.5,205.9 L1701.9,204.9 L1701.4,203.9 L1700.9,202.9 L1700.5,201.9 L1700.0,200.9 L1699.5,199.9 L1699.0,198.9 L1698.5,197.9 L1697.9,196.9 L1697.4,195.9 L1696.8,194.9 L1696.2,193.9 L1695.5,192.9 L1694.9,191.9 L1694.1,190.9 L1693.3,189.9 L1692.5,188.9 L1691.7,187.9 L1690.9,186.9 L1690.1,185.9 L1689.4,184.9 L1688.8,183.9 L1688.4,182.9 L1688.0,181.9 L1687.7,180.9 L1687.5,179.9 L1687.3,178.9 L1687.1,177.9 L1687.0,176.9 L1686.8,175.9 L1686.6,174.9 L1686.5,173.9 L1686.3,172.9 L1686.2,171.9 L1686.0,170.9 L1685.9,169.9 L1685.7,168.9 L1685.6,167.9 L1685.5,166.9 L1685.4,165.9 L1685.3,164.9 L1685.2,163.9 L1685.1,162.9 L1685.0,161.9 L1685.0,160.9 L1685.0,159.9 L1685.0,158.9 L1685.0,157.9 L1685.1,156.9 L1685.1,155.9 L1685.2,154.9 L1685.2,153.9 L1685.3,152.9 L1685.5,151.9 L1685.6,150.9 L1685.9,149.9 L1686.2,148.9 L1686.6,147.9 L1687.1,146.9 L1687.6,145.9 L1688.2,144.9 L1688.9,143.9 L1689.6,142.9 L1690.4,141.9 L1691.2,140.9 L1692.1,139.9 L1693.1,138.9 L1694.2,137.9 L1695.3,136.9 L1696.5,135.9 L1697.7,134.9 L1698.9,133.9 L1700.2,132.9 L1701.4,131.9 L1702.6,130.9 L1703.9,129.9 L1705.1,128.9 L1706.4,127.9 L1707.7,126.9 L1709.1,125.9 L1710.4,124.9 L1711.8,123.9 L1713.1,122.9 L1714.4,121.9 L1715.8,120.9 L1717.0,119.9 L1718.3,118.9 L1719.5,117.9 L1720.6,116.9 L1721.7,115.9 L1722.8,114.9 L1723.8,113.9 L1724.8,112.9 L1725.8,111.9 L1726.8,110.9 L1727.7,109.9 L1728.6,108.9 L1729.5,107.9 L1730.3,106.9 L1731.1,105.9 L1731.9,104.9 L1732.6,103.9 L1733.3,102.9 L1734.0,101.9 L1734.7,100.9 L1735.3,99.9 L1735.9,98.9 L1736.5,97.9 L1737.1,96.9 L1737.6,95.9 L1738.2,94.9 L1738.7,93.9 L1739.1,92.9 L1739.6,91.9 L1740.0,90.9 L1740.4,89.9 L1740.8,88.9 L1741.2,87.9 L1741.5,86.9 L1741.9,85.9 L1742.2,84.9 L1742.6,83.9 L1742.9,82.9 L1743.1,81.9 L1743.4,80.9 L1743.6,79.9 L1743.8,78.9 L1744.0,77.9 L1744.1,76.9 L1744.2,75.9 L1744.3,74.9 L1744.3,73.9 L1744.4,72.9 L1744.4,71.9 L1744.5,70.9 L1744.5,69.9 L1744.6,68.9 L1744.6,67.9 L1744.6,66.9 L1744.7,65.9 L1744.7,64.9 L1744.7,63.9 L1744.7,62.9 L1744.8,61.9 L1744.8,60.9 L1744.8,59.9 L1744.9,58.9 L1744.9,57.9 L1744.9,56.9 L1744.9,55.9 L1745.0,54.9 L1745.0,53.9 L1745.0,52.9 L1745.1,51.9 L1745.1,50.9 L1745.2,49.9 L1745.2,48.9 L1745.3,47.9 L1745.3,46.9 L1745.4,45.9 L1745.4,44.9 L1745.5,43.9 L1745.6,42.9 L1745.6,41.9 L1745.7,40.9 L1745.8,39.9 L1745.8,38.9 L1745.9,37.9 L1746.0,36.9 L1746.0,35.9 Z" fill="#78C679" stroke="#333333" stroke-width="4.05" stroke-linejoin="round"/>
<line x1="1686.66" y1="175.10" x2="1806.26" y2="175.10" stroke="#333333" stroke-width="4.05" stroke-linecap="butt"/>
<path d="M1891.3,35.9 L1891.4,36.9 L1891.4,37.9 L1891.5,38.9 L1891.6,39.9 L1891.6,40.9 L1891.7,41.9 L1891.8,42.9 L1891.8,43.9 L1891.9,44.9 L1891.9,45.9 L1892.0,46.9 L1892.1,47.9 L1892.1,48.9 L1892.2,49.9 L1892.2,50.9 L1892.3,51.9 L1892.3,52.9 L1892.4,53.9 L1892.4,54.9 L1892.4,55.9 L1892.5,56.9 L1892.5,57.9 L1892.5,58.9 L1892.6,59.9 L1892.6,60.9 L1892.6,61.9 L1892.7,62.9 L1892.7,63.9 L1892.7,64.9 L1892.8,65.9 L1892.8,66.9 L1892.8,67.9 L1892.9,68.9 L1892.9,69.9 L1893.0,70.9 L1893.0,71.9 L1893.1,72.9 L1893.2,73.9 L1893.3,74.9 L1893.4,75.9 L1893.5,76.9 L1893.7,77.9 L1893.9,78.9 L1894.2,79.9 L1894.5,80.9 L1894.8,81.9 L1895.3,82.9 L1895.7,83.9 L1896.2,84.9 L1896.7,85.9 L1897.2,86.9 L1897.7,87.9 L1898.3,88.9 L1898.8,89.9 L1899.4,90.9 L1900.0,91.9 L1900.7,92.9 L1901.3,93.9 L1902.1,94.9 L1902.8,95.9 L1903.6,96.9 L1904.4,97.9 L1905.2,98.9 L1906.1,99.9 L1907.0,100.9 L1907.8,101.9 L1908.8,102.9 L1909.7,103.9 L1910.6,104.9 L1911.6,105.9 L1912.7,106.9 L1913.7,107.9 L1914.8,108.9 L1915.9,109.9 L1917.0,110.9 L1918.2,111.9 L1919.3,112.9 L1920.5,113.9 L1921.7,114.9 L1922.9,115.9 L1924.1,116.9 L1925.4,117.9 L1926.7,118.9 L1928.0,119.9 L1929.4,120.9 L1930.7,121.9 L1932.1,122.9 L1933.5,123.9 L1934.8,124.9 L1936.1,125.9 L1937.4,126.9 L1938.6,127.9 L1939.7,128.9 L1940.8,129.9 L1941.8,130.9 L1942.8,131.9 L1943.7,132.9 L1944.7,133.9 L1945.6,134.9 L1946.4,135.9 L1947.2,136.9 L1948.0,137.9 L1948.8,138.9 L1949.5,139.9 L1950.2,140.9 L1950.8,141.9 L1951.4,142.9 L1951.9,143.9 L1952.4,144.9 L1952.9,145.9 L1953.4,146.9 L1953.8,147.9 L1954.2,148.9 L1954.6,149.9 L1954.9,150.9 L1955.2,151.9 L1955.4,152.9 L1955.5,153.9 L1955.6,154.9 L1955.7,155.9 L1955.7,156.9 L1955.8,157.9 L1955.8,158.9 L1955.8,159.9 L1955.8,160.9 L1955.7,161.9 L1955.6,162.9 L1955.4,163.9 L1955.2,164.9 L1954.9,165.9 L1954.6,166.9 L1954.3,167.9 L1953.9,168.9 L1953.5,169.9 L1953.1,170.9 L1952.6,171.9 L1952.1,172.9 L1951.6,173.9 L1951.0,174.9 L1950.4,175.9 L1949.7,176.9 L1949.0,177.9 L1948.3,178.9 L1947.5,179.9 L1946.6,180.9 L1945.8,181.9 L1944.9,182.9 L1944.0,183.9 L1943.1,184.9 L1942.2,185.9 L1941.3,186.9 L1940.5,187.9 L1939.6,188.9 L1938.8,189.9 L1937.9,190.9 L1937.1,191.9 L1936.2,192.9 L1935.4,193.9 L1934.5,194.9 L1933.7,195.9 L1932.8,196.9 L1932.0,197.9 L1931.1,198.9 L1930.3,199.9 L1929.4,200.9 L1928.6,201.9 L1927.7,202.9 L1926.8,203.9 L1926.0,204.9 L1925.1,205.9 L1924.3,206.9 L1923.4,207.9 L1922.6,208.9 L1921.7,209.9 L1920.9,210.9 L1920.1,211.9 L1919.2,212.9 L1918.4,213.9 L1917.6,214.9 L1916.8,215.9 L1915.9,216.9 L1915.1,217.9 L1914.4,218.9 L1913.6,219.9 L1912.9,220.9 L1912.2,221.9 L1911.6,222.9 L1911.0,223.9 L1910.4,224.9 L1909.8,225.9 L1909.3,226.9 L1908.8,227.9 L1908.3,228.9 L1907.8,229.9 L1907.3,230.9 L1906.9,231.9 L1906.4,232.9 L1906.0,233.9 L1905.5,234.9 L1905.1,235.9 L1904.7,236.9 L1904.3,237.9 L1903.9,238.9 L1903.4,239.9 L1903.1,240.9 L1902.7,241.9 L1902.3,242.9 L1901.9,243.9 L1901.6,244.9 L1901.2,245.9 L1900.9,246.9 L1900.5,247.9 L1900.2,248.9 L1899.8,249.9 L1899.5,250.9 L1899.2,251.9 L1898.9,252.9 L1898.6,253.9 L1898.3,254.9 L1898.0,255.9 L1897.7,256.9 L1897.5,257.9 L1897.2,258.9 L1897.0,259.9 L1896.7,260.9 L1896.5,261.9 L1896.3,262.9 L1896.1,263.9 L1895.9,264.9 L1895.7,265.9 L1895.5,266.9 L1895.4,267.9 L1895.2,268.9 L1895.0,269.9 L1894.8,270.9 L1894.6,271.9 L1894.4,272.9 L1894.2,273.9 L1893.9,274.9 L1893.7,275.9 L1893.4,276.9 L1893.2,277.9 L1893.0,278.9 L1892.8,279.9 L1892.6,280.9 L1892.4,281.9 L1892.3,282.9 L1892.2,283.9 L1892.2,284.9 L1892.2,285.9 L1892.1,286.9 L1892.1,287.9 L1892.1,288.9 L1892.1,289.9 L1892.1,290.9 L1892.1,291.9 L1892.0,292.9 L1892.0,293.9 L1892.0,294.9 L1892.0,295.9 L1892.0,296.9 L1892.0,297.9 L1892.0,298.9 L1892.0,299.9 L1891.9,300.9 L1891.9,301.9 L1891.9,302.9 L1891.9,303.9 L1891.9,304.9 L1891.9,305.9 L1891.9,306.9 L1891.9,307.9 L1891.9,308.9 L1891.9,309.9 L1891.8,310.9 L1891.8,311.9 L1891.8,312.9 L1891.8,313.9 L1891.8,314.9 L1891.8,315.9 L1891.8,316.9 L1891.8,317.9 L1891.8,318.9 L1891.8,319.9 L1891.8,320.9 L1891.8,321.9 L1891.7,322.9 L1891.7,323.9 L1891.7,324.9 L1891.7,325.9 L1891.7,326.9 L1891.7,327.9 L1891.7,328.9 L1891.7,329.9 L1891.7,330.9 L1891.7,331.9 L1891.7,332.9 L1891.7,333.9 L1891.7,334.9 L1891.7,335.9 L1891.7,336.9 L1891.7,337.9 L1891.7,338.9 L1891.7,339.9 L1891.6,340.9 L1891.6,341.9 L1891.6,342.9 L1891.6,343.9 L1891.6,344.9 L1891.6,345.9 L1891.6,346.9 L1891.6,347.9 L1891.6,348.9 L1891.6,349.9 L1891.6,350.9 L1891.6,351.9 L1891.6,352.9 L1891.6,353.9 L1891.6,354.9 L1891.6,355.9 L1891.6,356.9 L1891.6,357.9 L1891.6,358.9 L1891.6,359.9 L1891.6,360.9 L1891.6,361.9 L1891.6,362.9 L1891.6,363.9 L1891.6,364.9 L1891.6,365.9 L1891.6,366.9 L1891.6,367.9 L1891.6,368.9 L1891.6,369.9 L1891.6,370.9 L1891.5,371.9 L1891.5,372.9 L1891.5,373.9 L1891.5,374.9 L1891.5,375.9 L1891.5,376.9 L1891.5,377.9 L1891.5,378.9 L1891.5,379.9 L1891.5,380.9 L1891.5,381.9 L1891.5,382.9 L1891.5,383.9 L1891.5,384.9 L1891.5,385.9 L1891.5,386.9 L1891.5,387.9 L1891.5,388.9 L1891.5,389.9 L1891.5,390.9 L1891.5,391.9 L1891.5,392.9 L1891.5,393.9 L1891.5,394.9 L1891.5,395.9 L1891.5,396.9 L1891.5,397.9 L1891.5,398.9 L1891.5,399.9 L1891.5,400.9 L1891.5,401.9 L1891.5,402.9 L1891.5,403.9 L1891.5,404.9 L1891.5,405.9 L1891.5,406.9 L1891.5,407.9 L1891.5,408.9 L1891.5,409.9 L1891.4,410.9 L1891.4,411.9 L1891.4,412.9 L1891.4,413.9 L1891.4,414.9 L1891.4,415.9 L1891.4,416.9 L1891.4,417.9 L1891.4,418.9 L1891.4,419.9 L1891.4,420.0 L1891.4,440.0 L1891.3,460.0 L1891.3,480.0 L1891.2,500.0 L1891.2,520.0 L1891.2,540.0 L1891.1,560.0 L1891.1,580.0 L1891.1,600.0 L1891.1,620.0 L1891.1,625.7 L1890.7,625.7 L1890.7,620.0 L1890.7,600.0 L1890.7,580.0 L1890.6,560.0 L1890.6,540.0 L1890.6,520.0 L1890.5,500.0 L1890.5,480.0 L1890.4,460.0 L1890.4,440.0 L1890.3,420.0 L1890.3,419.9 L1890.3,418.9 L1890.3,417.9 L1890.3,416.9 L1890.3,415.9 L1890.3,414.9 L1890.3,413.9 L1890.3,412.9 L1890.3,411.9 L1890.3,410.9 L1890.3,409.9 L1890.3,408.9 L1890.3,407.9 L1890.3,406.9 L1890.3,405.9 L1890.3,404.9 L1890.3,403.9 L1890.3,402.9 L1890.3,401.9 L1890.3,400.9 L1890.3,399.9 L1890.3,398.9 L1890.3,397.9 L1890.3,396.9 L1890.3,395.9 L1890.3,394.9 L1890.3,393.9 L1890.3,392.9 L1890.3,391.9 L1890.3,390.9 L1890.3,389.9 L1890.3,388.9 L1890.2,387.9 L1890.2,386.9 L1890.2,385.9 L1890.2,384.9 L1890.2,383.9 L1890.2,382.9 L1890.2,381.9 L1890.2,380.9 L1890.2,379.9 L1890.2,378.9 L1890.2,377.9 L1890.2,376.9 L1890.2,375.9 L1890.2,374.9 L1890.2,373.9 L1890.2,372.9 L1890.2,371.9 L1890.2,370.9 L1890.2,369.9 L1890.2,368.9 L1890.2,367.9 L1890.2,366.9 L1890.2,365.9 L1890.2,364.9 L1890.2,363.9 L1890.2,362.9 L1890.2,361.9 L1890.2,360.9 L1890.2,359.9 L1890.2,358.9 L1890.2,357.9 L1890.2,356.9 L1890.2,355.9 L1890.2,354.9 L1890.2,353.9 L1890.2,352.9 L1890.2,351.9 L1890.2,350.9 L1890.1,349.9 L1890.1,348.9 L1890.1,347.9 L1890.1,346.9 L1890.1,345.9 L1890.1,344.9 L1890.1,343.9 L1890.1,342.9 L1890.1,341.9 L1890.1,340.9 L1890.1,339.9 L1890.1,338.9 L1890.1,337.9 L1890.1,336.9 L1890.1,335.9 L1890.1,334.9 L1890.1,333.9 L1890.1,332.9 L1890.1,331.9 L1890.1,330.9 L1890.1,329.9 L1890.1,328.9 L1890.0,327.9 L1890.0,326.9 L1890.0,325.9 L1890.0,324.9 L1890.0,323.9 L1890.0,322.9 L1890.0,321.9 L1890.0,320.9 L1890.0,319.9 L1890.0,318.9 L1890.0,317.9 L1890.0,316.9 L1890.0,315.9 L1889.9,314.9 L1889.9,313.9 L1889.9,312.9 L1889.9,311.9 L1889.9,310.9 L1889.9,309.9 L1889.9,308.9 L1889.9,307.9 L1889.9,306.9 L1889.9,305.9 L1889.9,304.9 L1889.8,303.9 L1889.8,302.9 L1889.8,301.9 L1889.8,300.9 L1889.8,299.9 L1889.8,298.9 L1889.8,297.9 L1889.8,296.9 L1889.8,295.9 L1889.7,294.9 L1889.7,293.9 L1889.7,292.9 L1889.7,291.9 L1889.7,290.9 L1889.7,289.9 L1889.7,288.9 L1889.6,287.9 L1889.6,286.9 L1889.6,285.9 L1889.6,284.9 L1889.5,283.9 L1889.4,282.9 L1889.3,281.9 L1889.2,280.9 L1889.0,279.9 L1888.8,278.9 L1888.6,277.9 L1888.3,276.9 L1888.1,275.9 L1887.8,274.9 L1887.6,273.9 L1887.4,272.9 L1887.2,271.9 L1887.0,270.9 L1886.8,269.9 L1886.6,268.9 L1886.4,267.9 L1886.2,266.9 L1886.0,265.9 L1885.8,264.9 L1885.6,263.9 L1885.4,262.9 L1885.2,261.9 L1885.0,260.9 L1884.8,259.9 L1884.5,258.9 L1884.3,257.9 L1884.0,256.9 L1883.7,255.9 L1883.5,254.9 L1883.2,253.9 L1882.9,252.9 L1882.6,251.9 L1882.2,250.9 L1881.9,249.9 L1881.6,248.9 L1881.2,247.9 L1880.9,246.9 L1880.6,245.9 L1880.2,244.9 L1879.8,243.9 L1879.5,242.9 L1879.1,241.9 L1878.7,240.9 L1878.3,239.9 L1877.9,238.9 L1877.5,237.9 L1877.1,236.9 L1876.7,235.9 L1876.2,234.9 L1875.8,233.9 L1875.3,232.9 L1874.9,231.9 L1874.4,230.9 L1873.9,229.9 L1873.5,228.9 L1873.0,227.9 L1872.5,226.9 L1871.9,225.9 L1871.4,224.9 L1870.8,223.9 L1870.2,222.9 L1869.5,221.9 L1868.9,220.9 L1868.1,219.9 L1867.4,218.9 L1866.6,217.9 L1865.8,216.9 L1865.0,215.9 L1864.2,214.9 L1863.4,213.9 L1862.5,212.9 L1861.7,211.9 L1860.9,210.9 L1860.0,209.9 L1859.2,208.9 L1858.3,207.9 L1857.5,206.9 L1856.6,205.9 L1855.8,204.9 L1854.9,203.9 L1854.1,202.9 L1853.2,201.9 L1852.3,200.9 L1851.5,199.9 L1850.6,198.9 L1849.8,197.9 L1848.9,196.9 L1848.1,195.9 L1847.2,194.9 L1846.4,193.9 L1845.5,192.9 L1844.7,191.9 L1843.8,190.9 L1843.0,189.9 L1842.1,188.9 L1841.3,187.9 L1840.4,186.9 L1839.5,185.9 L1838.7,184.9 L1837.8,183.9 L1836.9,182.9 L1836.0,181.9 L1835.1,180.9 L1834.3,179.9 L1833.5,178.9 L1832.7,177.9 L1832.0,176.9 L1831.4,175.9 L1830.8,174.9 L1830.2,173.9 L1829.6,172.9 L1829.1,171.9 L1828.7,170.9 L1828.2,169.9 L1827.8,168.9 L1827.5,167.9 L1827.2,166.9 L1826.9,165.9 L1826.6,164.9 L1826.4,163.9 L1826.2,162.9 L1826.1,161.9 L1826.0,160.9 L1825.9,159.9 L1825.9,158.9 L1826.0,157.9 L1826.0,156.9 L1826.1,155.9 L1826.1,154.9 L1826.3,153.9 L1826.4,152.9 L1826.6,151.9 L1826.9,150.9 L1827.2,149.9 L1827.5,148.9 L1827.9,147.9 L1828.4,146.9 L1828.8,145.9 L1829.3,144.9 L1829.9,143.9 L1830.4,142.9 L1831.0,141.9 L1831.6,140.9 L1832.3,139.9 L1833.0,138.9 L1833.7,137.9 L1834.5,136.9 L1835.3,135.9 L1836.2,134.9 L1837.1,133.9 L1838.0,132.9 L1839.0,131.9 L1840.0,130.9 L1841.0,129.9 L1842.1,128.9 L1843.2,127.9 L1844.4,126.9 L1845.6,125.9 L1846.9,124.9 L1848.3,123.9 L1849.6,122.9 L1851.0,121.9 L1852.4,120.9 L1853.7,119.9 L1855.1,118.9 L1856.4,117.9 L1857.6,116.9 L1858.9,115.9 L1860.1,114.9 L1861.2,113.9 L1862.4,112.9 L1863.6,111.9 L1864.7,110.9 L1865.9,109.9 L1867.0,108.9 L1868.0,107.9 L1869.1,106.9 L1870.1,105.9 L1871.1,104.9 L1872.1,103.9 L1873.0,102.9 L1873.9,101.9 L1874.8,100.9 L1875.7,99.9 L1876.5,98.9 L1877.4,97.9 L1878.2,96.9 L1878.9,95.9 L1879.7,94.9 L1880.4,93.9 L1881.1,92.9 L1881.7,91.9 L1882.4,90.9 L1882.9,89.9 L1883.5,88.9 L1884.0,87.9 L1884.6,86.9 L1885.1,85.9 L1885.6,84.9 L1886.1,83.9 L1886.5,82.9 L1886.9,81.9 L1887.3,80.9 L1887.6,79.9 L1887.9,78.9 L1888.1,77.9 L1888.3,76.9 L1888.4,75.9 L1888.5,74.9 L1888.6,73.9 L1888.7,72.9 L1888.7,71.9 L1888.8,70.9 L1888.8,69.9 L1888.9,68.9 L1888.9,67.9 L1889.0,66.9 L1889.0,65.9 L1889.0,64.9 L1889.1,63.9 L1889.1,62.9 L1889.1,61.9 L1889.2,60.9 L1889.2,59.9 L1889.2,58.9 L1889.3,57.9 L1889.3,56.9 L1889.3,55.9 L1889.4,54.9 L1889.4,53.9 L1889.4,52.9 L1889.5,51.9 L1889.5,50.9 L1889.6,49.9 L1889.6,48.9 L1889.7,47.9 L1889.8,46.9 L1889.8,45.9 L1889.9,44.9 L1889.9,43.9 L1890.0,42.9 L1890.1,41.9 L1890.1,40.9 L1890.2,39.9 L1890.3,38.9 L1890.3,37.9 L1890.4,36.9 L1890.4,35.9 Z" fill="#31A354" stroke="#333333" stroke-width="4.05" stroke-linejoin="round"/>
<line x1="1827.38" y1="167.75" x2="1954.38" y2="167.75" stroke="#333333" stroke-width="4.05" stroke-linecap="butt"/>
<path d="M2035.8,35.9 L2035.8,36.9 L2035.8,37.9 L2035.9,38.9 L2036.0,39.9 L2036.0,40.9 L2036.1,41.9 L2036.2,42.9 L2036.2,43.9 L2036.3,44.9 L2036.4,45.9 L2036.4,46.9 L2036.5,47.9 L2036.5,48.9 L2036.6,49.9 L2036.6,50.9 L2036.7,51.9 L2036.7,52.9 L2036.8,53.9 L2036.8,54.9 L2036.9,55.9 L2036.9,56.9 L2037.0,57.9 L2037.0,58.9 L2037.0,59.9 L2037.1,60.9 L2037.1,61.9 L2037.1,62.9 L2037.2,63.9 L2037.2,64.9 L2037.3,65.9 L2037.3,66.9 L2037.4,67.9 L2037.4,68.9 L2037.5,69.9 L2037.5,70.9 L2037.6,71.9 L2037.7,72.9 L2037.8,73.9 L2037.9,74.9 L2038.0,75.9 L2038.1,76.9 L2038.3,77.9 L2038.6,78.9 L2038.9,79.9 L2039.3,80.9 L2039.7,81.9 L2040.2,82.9 L2040.7,83.9 L2041.3,84.9 L2041.8,85.9 L2042.4,86.9 L2043.0,87.9 L2043.6,88.9 L2044.2,89.9 L2044.8,90.9 L2045.5,91.9 L2046.1,92.9 L2046.8,93.9 L2047.5,94.9 L2048.3,95.9 L2049.0,96.9 L2049.9,97.9 L2050.7,98.9 L2051.7,99.9 L2052.7,100.9 L2053.7,101.9 L2054.9,102.9 L2056.1,103.9 L2057.4,104.9 L2058.8,105.9 L2060.1,106.9 L2061.5,107.9 L2062.8,108.9 L2064.2,109.9 L2065.5,110.9 L2066.8,111.9 L2068.0,112.9 L2069.3,113.9 L2070.6,114.9 L2071.9,115.9 L2073.1,116.9 L2074.4,117.9 L2075.6,118.9 L2076.9,119.9 L2078.1,120.9 L2079.3,121.9 L2080.4,122.9 L2081.6,123.9 L2082.8,124.9 L2084.0,125.9 L2085.1,126.9 L2086.3,127.9 L2087.5,128.9 L2088.6,129.9 L2089.7,130.9 L2090.7,131.9 L2091.7,132.9 L2092.6,133.9 L2093.5,134.9 L2094.3,135.9 L2095.0,136.9 L2095.7,137.9 L2096.3,138.9 L2096.9,139.9 L2097.4,140.9 L2097.9,141.9 L2098.4,142.9 L2098.7,143.9 L2099.1,144.9 L2099.3,145.9 L2099.5,146.9 L2099.7,147.9 L2099.9,148.9 L2100.0,149.9 L2100.1,150.9 L2100.2,151.9 L2100.3,152.9 L2100.3,153.9 L2100.3,154.9 L2100.3,155.9 L2100.2,156.9 L2100.1,157.9 L2100.0,158.9 L2099.8,159.9 L2099.6,160.9 L2099.4,161.9 L2099.2,162.9 L2098.9,163.9 L2098.7,164.9 L2098.3,165.9 L2098.0,166.9 L2097.6,167.9 L2097.2,168.9 L2096.7,169.9 L2096.2,170.9 L2095.7,171.9 L2095.1,172.9 L2094.6,173.9 L2094.0,174.9 L2093.4,175.9 L2092.8,176.9 L2092.1,177.9 L2091.5,178.9 L2090.8,179.9 L2090.0,180.9 L2089.3,181.9 L2088.6,182.9 L2087.8,183.9 L2087.0,184.9 L2086.2,185.9 L2085.4,186.9 L2084.6,187.9 L2083.8,188.9 L2083.0,189.9 L2082.1,190.9 L2081.3,191.9 L2080.4,192.9 L2079.5,193.9 L2078.6,194.9 L2077.7,195.9 L2076.8,196.9 L2076.0,197.9 L2075.1,198.9 L2074.2,199.9 L2073.3,200.9 L2072.5,201.9 L2071.6,202.9 L2070.7,203.9 L2069.9,204.9 L2069.0,205.9 L2068.1,206.9 L2067.3,207.9 L2066.4,208.9 L2065.6,209.9 L2064.7,210.9 L2063.9,211.9 L2063.0,212.9 L2062.2,213.9 L2061.3,214.9 L2060.5,215.9 L2059.6,216.9 L2058.8,217.9 L2058.0,218.9 L2057.2,219.9 L2056.4,220.9 L2055.6,221.9 L2054.9,222.9 L2054.3,223.9 L2053.7,224.9 L2053.1,225.9 L2052.5,226.9 L2052.0,227.9 L2051.5,228.9 L2051.0,229.9 L2050.5,230.9 L2050.1,231.9 L2049.7,232.9 L2049.2,233.9 L2048.8,234.9 L2048.5,235.9 L2048.1,236.9 L2047.7,237.9 L2047.4,238.9 L2047.0,239.9 L2046.7,240.9 L2046.4,241.9 L2046.1,242.9 L2045.7,243.9 L2045.4,244.9 L2045.1,245.9 L2044.8,246.9 L2044.4,247.9 L2044.1,248.9 L2043.8,249.9 L2043.4,250.9 L2043.1,251.9 L2042.8,252.9 L2042.5,253.9 L2042.2,254.9 L2041.9,255.9 L2041.6,256.9 L2041.4,257.9 L2041.1,258.9 L2040.9,259.9 L2040.7,260.9 L2040.5,261.9 L2040.3,262.9 L2040.2,263.9 L2040.0,264.9 L2039.8,265.9 L2039.7,266.9 L2039.6,267.9 L2039.4,268.9 L2039.3,269.9 L2039.2,270.9 L2039.0,271.9 L2038.9,272.9 L2038.8,273.9 L2038.7,274.9 L2038.6,275.9 L2038.5,276.9 L2038.4,277.9 L2038.3,278.9 L2038.2,279.9 L2038.1,280.9 L2038.1,281.9 L2038.0,282.9 L2037.9,283.9 L2037.8,284.9 L2037.7,285.9 L2037.7,286.9 L2037.6,287.9 L2037.5,288.9 L2037.4,289.9 L2037.3,290.9 L2037.3,291.9 L2037.2,292.9 L2037.1,293.9 L2037.1,294.9 L2037.0,295.9 L2037.0,296.9 L2036.9,297.9 L2036.9,298.9 L2036.9,299.9 L2036.8,300.9 L2036.8,301.9 L2036.8,302.9 L2036.8,303.9 L2036.8,304.9 L2036.7,305.9 L2036.7,306.9 L2036.7,307.9 L2036.7,308.9 L2036.7,309.9 L2036.7,310.9 L2036.6,311.9 L2036.6,312.9 L2036.6,313.9 L2036.6,314.9 L2036.6,315.9 L2036.6,316.9 L2036.5,317.9 L2036.5,318.9 L2036.5,319.9 L2036.5,320.9 L2036.5,321.9 L2036.5,322.9 L2036.5,323.9 L2036.4,324.9 L2036.4,325.9 L2036.4,326.9 L2036.4,327.9 L2036.4,328.9 L2036.4,329.9 L2036.4,330.9 L2036.3,331.9 L2036.3,332.9 L2036.3,333.9 L2036.3,334.9 L2036.3,335.9 L2036.3,336.9 L2036.3,337.9 L2036.3,338.9 L2036.3,339.9 L2036.2,340.9 L2036.2,341.9 L2036.2,342.9 L2036.2,343.9 L2036.2,344.9 L2036.2,345.9 L2036.2,346.9 L2036.2,347.9 L2036.2,348.9 L2036.2,349.9 L2036.2,350.9 L2036.1,351.9 L2036.1,352.9 L2036.1,353.9 L2036.1,354.9 L2036.1,355.9 L2036.1,356.9 L2036.1,357.9 L2036.1,358.9 L2036.1,359.9 L2036.1,360.9 L2036.1,361.9 L2036.1,362.9 L2036.1,363.9 L2036.1,364.9 L2036.0,365.9 L2036.0,366.9 L2036.0,367.9 L2036.0,368.9 L2036.0,369.9 L2036.0,370.9 L2036.0,371.9 L2036.0,372.9 L2036.0,373.9 L2036.0,374.9 L2036.0,375.9 L2036.0,376.9 L2036.0,377.9 L2036.0,378.9 L2036.0,379.9 L2036.0,380.9 L2036.0,381.9 L2036.0,382.9 L2036.0,383.9 L2036.0,384.9 L2035.9,385.9 L2035.9,386.9 L2035.9,387.9 L2035.9,388.9 L2035.9,389.9 L2035.9,390.9 L2035.9,391.9 L2035.9,392.9 L2035.9,393.9 L2035.9,394.9 L2035.9,395.9 L2035.9,396.9 L2035.9,397.9 L2035.9,398.9 L2035.9,399.9 L2035.9,400.9 L2035.9,401.9 L2035.9,402.9 L2035.9,403.9 L2035.9,404.9 L2035.9,405.9 L2035.9,406.9 L2035.9,407.9 L2035.9,408.9 L2035.9,409.9 L2035.9,410.9 L2035.9,411.9 L2035.9,412.9 L2035.9,413.9 L2035.9,414.9 L2035.9,415.9 L2035.8,416.9 L2035.8,417.9 L2035.8,418.9 L2035.8,419.9 L2035.8,420.0 L2035.8,440.0 L2035.7,460.0 L2035.7,480.0 L2035.6,500.0 L2035.6,520.0 L2035.6,540.0 L2035.5,560.0 L2035.5,580.0 L2035.5,600.0 L2035.5,620.0 L2035.5,637.7 L2035.1,637.7 L2035.1,620.0 L2035.1,600.0 L2035.1,580.0 L2035.1,560.0 L2035.0,540.0 L2035.0,520.0 L2035.0,500.0 L2034.9,480.0 L2034.9,460.0 L2034.8,440.0 L2034.8,420.0 L2034.8,419.9 L2034.8,418.9 L2034.8,417.9 L2034.8,416.9 L2034.7,415.9 L2034.7,414.9 L2034.7,413.9 L2034.7,412.9 L2034.7,411.9 L2034.7,410.9 L2034.7,409.9 L2034.7,408.9 L2034.7,407.9 L2034.7,406.9 L2034.7,405.9 L2034.7,404.9 L2034.7,403.9 L2034.7,402.9 L2034.7,401.9 L2034.7,400.9 L2034.7,399.9 L2034.7,398.9 L2034.7,397.9 L2034.7,396.9 L2034.7,395.9 L2034.7,394.9 L2034.7,393.9 L2034.7,392.9 L2034.7,391.9 L2034.7,390.9 L2034.7,389.9 L2034.7,388.9 L2034.7,387.9 L2034.7,386.9 L2034.7,385.9 L2034.6,384.9 L2034.6,383.9 L2034.6,382.9 L2034.6,381.9 L2034.6,380.9 L2034.6,379.9 L2034.6,378.9 L2034.6,377.9 L2034.6,376.9 L2034.6,375.9 L2034.6,374.9 L2034.6,373.9 L2034.6,372.9 L2034.6,371.9 L2034.6,370.9 L2034.6,369.9 L2034.6,368.9 L2034.6,367.9 L2034.6,366.9 L2034.6,365.9 L2034.5,364.9 L2034.5,363.9 L2034.5,362.9 L2034.5,361.9 L2034.5,360.9 L2034.5,359.9 L2034.5,358.9 L2034.5,357.9 L2034.5,356.9 L2034.5,355.9 L2034.5,354.9 L2034.5,353.9 L2034.5,352.9 L2034.5,351.9 L2034.4,350.9 L2034.4,349.9 L2034.4,348.9 L2034.4,347.9 L2034.4,346.9 L2034.4,345.9 L2034.4,344.9 L2034.4,343.9 L2034.4,342.9 L2034.4,341.9 L2034.4,340.9 L2034.3,339.9 L2034.3,338.9 L2034.3,337.9 L2034.3,336.9 L2034.3,335.9 L2034.3,334.9 L2034.3,333.9 L2034.3,332.9 L2034.3,331.9 L2034.2,330.9 L2034.2,329.9 L2034.2,328.9 L2034.2,327.9 L2034.2,326.9 L2034.2,325.9 L2034.2,324.9 L2034.1,323.9 L2034.1,322.9 L2034.1,321.9 L2034.1,320.9 L2034.1,319.9 L2034.1,318.9 L2034.1,317.9 L2034.0,316.9 L2034.0,315.9 L2034.0,314.9 L2034.0,313.9 L2034.0,312.9 L2034.0,311.9 L2033.9,310.9 L2033.9,309.9 L2033.9,308.9 L2033.9,307.9 L2033.9,306.9 L2033.9,305.9 L2033.8,304.9 L2033.8,303.9 L2033.8,302.9 L2033.8,301.9 L2033.8,300.9 L2033.7,299.9 L2033.7,298.9 L2033.7,297.9 L2033.6,296.9 L2033.6,295.9 L2033.5,294.9 L2033.5,293.9 L2033.4,292.9 L2033.3,291.9 L2033.3,290.9 L2033.2,289.9 L2033.1,288.9 L2033.0,287.9 L2032.9,286.9 L2032.9,285.9 L2032.8,284.9 L2032.7,283.9 L2032.6,282.9 L2032.5,281.9 L2032.5,280.9 L2032.4,279.9 L2032.3,278.9 L2032.2,277.9 L2032.1,276.9 L2032.0,275.9 L2031.9,274.9 L2031.8,273.9 L2031.7,272.9 L2031.6,271.9 L2031.4,270.9 L2031.3,269.9 L2031.2,268.9 L2031.0,267.9 L2030.9,266.9 L2030.8,265.9 L2030.6,264.9 L2030.4,263.9 L2030.3,262.9 L2030.1,261.9 L2029.9,260.9 L2029.7,259.9 L2029.5,258.9 L2029.2,257.9 L2029.0,256.9 L2028.7,255.9 L2028.4,254.9 L2028.1,253.9 L2027.8,252.9 L2027.5,251.9 L2027.2,250.9 L2026.8,249.9 L2026.5,248.9 L2026.2,247.9 L2025.8,246.9 L2025.5,245.9 L2025.2,244.9 L2024.9,243.9 L2024.5,242.9 L2024.2,241.9 L2023.9,240.9 L2023.6,239.9 L2023.2,238.9 L2022.9,237.9 L2022.5,236.9 L2022.1,235.9 L2021.8,234.9 L2021.4,233.9 L2020.9,232.9 L2020.5,231.9 L2020.1,230.9 L2019.6,229.9 L2019.1,228.9 L2018.6,227.9 L2018.1,226.9 L2017.5,225.9 L2016.9,224.9 L2016.3,223.9 L2015.7,222.9 L2015.0,221.9 L2014.2,220.9 L2013.4,219.9 L2012.6,218.9 L2011.8,217.9 L2011.0,216.9 L2010.1,215.9 L2009.3,214.9 L2008.4,213.9 L2007.6,212.9 L2006.7,211.9 L2005.9,210.9 L2005.0,209.9 L2004.2,208.9 L2003.3,207.9 L2002.5,206.9 L2001.6,205.9 L2000.7,204.9 L1999.9,203.9 L1999.0,202.9 L1998.1,201.9 L1997.3,200.9 L1996.4,199.9 L1995.5,198.9 L1994.6,197.9 L1993.8,196.9 L1992.9,195.9 L1992.0,194.9 L1991.1,193.9 L1990.2,192.9 L1989.3,191.9 L1988.5,190.9 L1987.6,189.9 L1986.8,188.9 L1986.0,187.9 L1985.2,186.9 L1984.4,185.9 L1983.6,184.9 L1982.8,183.9 L1982.0,182.9 L1981.3,181.9 L1980.6,180.9 L1979.8,179.9 L1979.1,178.9 L1978.5,177.9 L1977.8,176.9 L1977.2,175.9 L1976.6,174.9 L1976.0,173.9 L1975.5,172.9 L1974.9,171.9 L1974.4,170.9 L1973.9,169.9 L1973.4,168.9 L1973.0,167.9 L1972.6,166.9 L1972.3,165.9 L1971.9,164.9 L1971.7,163.9 L1971.4,162.9 L1971.2,161.9 L1971.0,160.9 L1970.8,159.9 L1970.6,158.9 L1970.5,157.9 L1970.4,156.9 L1970.3,155.9 L1970.3,154.9 L1970.3,153.9 L1970.3,152.9 L1970.4,151.9 L1970.5,150.9 L1970.6,149.9 L1970.7,148.9 L1970.9,147.9 L1971.1,146.9 L1971.3,145.9 L1971.5,144.9 L1971.9,143.9 L1972.2,142.9 L1972.7,141.9 L1973.2,140.9 L1973.7,139.9 L1974.3,138.9 L1974.9,137.9 L1975.6,136.9 L1976.3,135.9 L1977.1,134.9 L1978.0,133.9 L1978.9,132.9 L1979.9,131.9 L1980.9,130.9 L1982.0,129.9 L1983.1,128.9 L1984.3,127.9 L1985.5,126.9 L1986.6,125.9 L1987.8,124.9 L1989.0,123.9 L1990.2,122.9 L1991.3,121.9 L1992.5,120.9 L1993.7,119.9 L1995.0,118.9 L1996.2,117.9 L1997.5,116.9 L1998.7,115.9 L2000.0,114.9 L2001.3,113.9 L2002.6,112.9 L2003.8,111.9 L2005.1,110.9 L2006.4,109.9 L2007.8,108.9 L2009.1,107.9 L2010.5,106.9 L2011.8,105.9 L2013.2,104.9 L2014.5,103.9 L2015.7,102.9 L2016.9,101.9 L2017.9,100.9 L2018.9,99.9 L2019.9,98.9 L2020.7,97.9 L2021.6,96.9 L2022.3,95.9 L2023.1,94.9 L2023.8,93.9 L2024.5,92.9 L2025.1,91.9 L2025.8,90.9 L2026.4,89.9 L2027.0,88.9 L2027.6,87.9 L2028.2,86.9 L2028.8,85.9 L2029.3,84.9 L2029.9,83.9 L2030.4,82.9 L2030.9,81.9 L2031.3,80.9 L2031.7,79.9 L2032.0,78.9 L2032.3,77.9 L2032.5,76.9 L2032.6,75.9 L2032.7,74.9 L2032.8,73.9 L2032.9,72.9 L2033.0,71.9 L2033.1,70.9 L2033.1,69.9 L2033.2,68.9 L2033.2,67.9 L2033.3,66.9 L2033.3,65.9 L2033.4,64.9 L2033.4,63.9 L2033.5,62.9 L2033.5,61.9 L2033.5,60.9 L2033.6,59.9 L2033.6,58.9 L2033.6,57.9 L2033.7,56.9 L2033.7,55.9 L2033.8,54.9 L2033.8,53.9 L2033.9,52.9 L2033.9,51.9 L2034.0,50.9 L2034.0,49.9 L2034.1,48.9 L2034.1,47.9 L2034.2,46.9 L2034.2,45.9 L2034.3,44.9 L2034.4,43.9 L2034.4,42.9 L2034.5,41.9 L2034.6,40.9 L2034.6,39.9 L2034.7,38.9 L2034.8,37.9 L2034.8,36.9 L2034.8,35.9 Z" fill="#006837" stroke="#333333" stroke-width="4.05" stroke-linejoin="round"/>
<line x1="1971.80" y1="164.60" x2="2098.80" y2="164.60" stroke="#333333" stroke-width="4.05" stroke-linecap="butt"/>
</svg>
</body></html>
